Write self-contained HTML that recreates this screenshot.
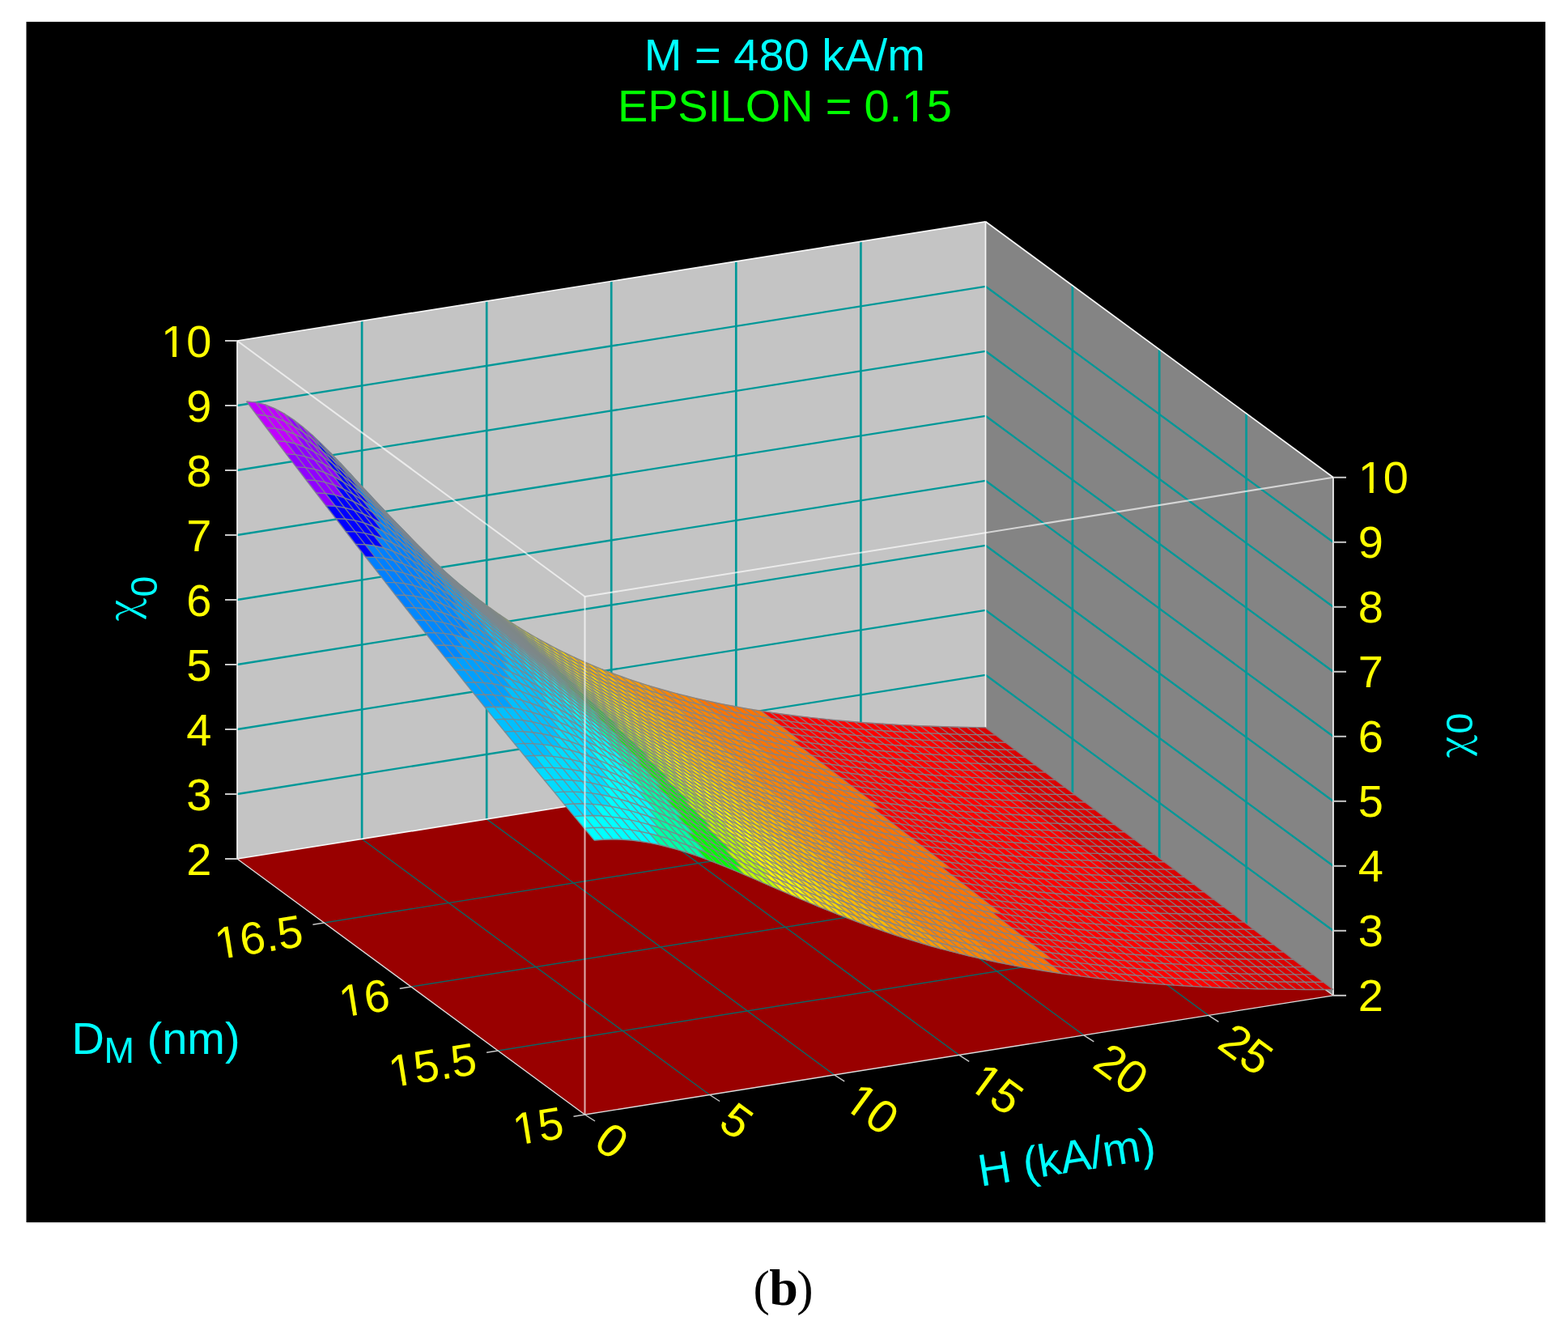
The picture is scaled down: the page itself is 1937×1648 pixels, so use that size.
<!DOCTYPE html>
<html lang="en"><head><meta charset="utf-8"><title>Figure (b): susceptibility surface</title>
<style>
html,body{margin:0;padding:0;background:#fff;}
body{width:1937px;height:1648px;overflow:hidden;position:relative;font-family:"Liberation Sans",sans-serif;}
svg{display:block;position:absolute;left:0;top:0;}
text{font-family:"Liberation Sans",sans-serif;font-size:56px;}
.y{fill:#ffff00;}.c{fill:#00ffff;}.g{fill:#00ff00;}
.wg{stroke:#009898;stroke-width:2.3;fill:none;}
.wv{stroke:#009898;stroke-width:2.7;fill:none;}
.fg{stroke:#0d6464;stroke-width:1.45;fill:none;}
.be{stroke:#f6f6f6;stroke-width:1.7;fill:none;}
.fe{stroke:#dcdcdc;stroke-width:1.35;fill:none;}
.tb{stroke:#c8c8c8;stroke-width:1.4;fill:none;}
.fr{stroke:#ffffff;stroke-width:2.1;fill:none;stroke-opacity:.66;}
.tk{stroke:#c8c8c8;stroke-width:2;fill:none;}
.m path{stroke-width:.6;stroke-linejoin:round;}
.mr{fill:none;stroke:#80848a;stroke-width:1.45;stroke-opacity:.9;stroke-linejoin:round;}
.mc{fill:none;stroke:#80848a;stroke-width:1.45;stroke-opacity:.8;stroke-linejoin:round;}
.x{fill:#000;}
.k0{fill:#dc0000;stroke:#dc0000}
.k1{fill:#ff0000;stroke:#ff0000}
.k2{fill:#ff0000;stroke:#ff0000}
.k3{fill:#ff7400;stroke:#ff7400}
.k4{fill:#ff8600;stroke:#ff8600}
.k5{fill:#ff9c00;stroke:#ff9c00}
.k6{fill:#ffb800;stroke:#ffb800}
.k7{fill:#ffd800;stroke:#ffd800}
.k8{fill:#fff800;stroke:#fff800}
.k9{fill:#c0ff00;stroke:#c0ff00}
.k10{fill:#00ff00;stroke:#00ff00}
.k11{fill:#00ffa8;stroke:#00ffa8}
.k12{fill:#00ffff;stroke:#00ffff}
.k13{fill:#00dcff;stroke:#00dcff}
.k14{fill:#00c0ff;stroke:#00c0ff}
.k15{fill:#00a0ff;stroke:#00a0ff}
.k16{fill:#0088ff;stroke:#0088ff}
.k17{fill:#0080ff;stroke:#0080ff}
.k18{fill:#0000ff;stroke:#0000ff}
.k19{fill:#9000ff;stroke:#9000ff}
.k20{fill:#c000ff;stroke:#c000ff}
.k21{fill:#ff00ff;stroke:#ff00ff}
.k22{fill:#ff00ff;stroke:#ff00ff}
.k23{fill:#ff00ff;stroke:#ff00ff}
</style></head><body>
<svg width="1937" height="1648" viewBox="0 0 1937 1648" role="img" aria-label="3D surface plot of susceptibility versus H and D">
<rect x="0" y="0" width="1937" height="1648" fill="#fff"/>
<rect x="32.5" y="26.9" width="1876.6" height="1483.1" fill="#000"/>
<path d="M33 1510.9H1910.2" stroke="#e6e6e6" stroke-width="1.8" fill="none"/>
<path d="M1909.9 28V1511" stroke="#ededed" stroke-width="1.4" fill="none"/>
<polygon points="293,421 1217.5,273.8 1217.5,913.8 293,1061" fill="#c4c4c4"/>
<polygon points="1217.5,273.8 1647,589.8 1647,1229.8 1217.5,913.8" fill="#848484"/>
<polygon points="293,1061 1217.5,913.8 1647,1229.8 722.5,1377" fill="#990000"/>
<line class="fg" x1="876.6" y1="1352.5" x2="447.1" y2="1036.5"/>
<line class="fg" x1="1030.7" y1="1327.9" x2="601.2" y2="1011.9"/>
<line class="fg" x1="1184.8" y1="1303.4" x2="755.2" y2="987.4"/>
<line class="fg" x1="1338.8" y1="1278.9" x2="909.3" y2="962.9"/>
<line class="fg" x1="1492.9" y1="1254.3" x2="1063.4" y2="938.3"/>
<line class="fg" x1="615.1" y1="1298" x2="1539.6" y2="1150.8"/>
<line class="fg" x1="507.8" y1="1219" x2="1432.2" y2="1071.8"/>
<line class="fg" x1="400.4" y1="1140" x2="1324.9" y2="992.8"/>
<line class="wv" x1="447.1" y1="1036.5" x2="447.1" y2="396.5"/>
<line class="wv" x1="601.2" y1="1011.9" x2="601.2" y2="371.9"/>
<line class="wv" x1="755.2" y1="987.4" x2="755.2" y2="347.4"/>
<line class="wv" x1="909.3" y1="962.9" x2="909.3" y2="322.9"/>
<line class="wv" x1="1063.4" y1="938.3" x2="1063.4" y2="298.3"/>
<line class="wg" x1="293" y1="981" x2="1217.5" y2="833.8"/>
<line class="wg" x1="293" y1="901" x2="1217.5" y2="753.8"/>
<line class="wg" x1="293" y1="821" x2="1217.5" y2="673.8"/>
<line class="wg" x1="293" y1="741" x2="1217.5" y2="593.8"/>
<line class="wg" x1="293" y1="661" x2="1217.5" y2="513.8"/>
<line class="wg" x1="293" y1="581" x2="1217.5" y2="433.8"/>
<line class="wg" x1="293" y1="501" x2="1217.5" y2="353.8"/>
<line class="wv" x1="1539.6" y1="1150.8" x2="1539.6" y2="510.8"/>
<line class="wv" x1="1432.2" y1="1071.8" x2="1432.2" y2="431.8"/>
<line class="wv" x1="1324.9" y1="992.8" x2="1324.9" y2="352.8"/>
<line class="wg" x1="1647" y1="1149.8" x2="1217.5" y2="833.8"/>
<line class="wg" x1="1647" y1="1069.8" x2="1217.5" y2="753.8"/>
<line class="wg" x1="1647" y1="989.8" x2="1217.5" y2="673.8"/>
<line class="wg" x1="1647" y1="909.8" x2="1217.5" y2="593.8"/>
<line class="wg" x1="1647" y1="829.8" x2="1217.5" y2="513.8"/>
<line class="wg" x1="1647" y1="749.8" x2="1217.5" y2="433.8"/>
<line class="wg" x1="1647" y1="669.8" x2="1217.5" y2="353.8"/>
<line class="be" x1="293" y1="421" x2="1217.5" y2="273.8"/>
<line class="be" x1="1217.5" y1="273.8" x2="1647" y2="589.8"/>
<line class="be" x1="1217.5" y1="913.8" x2="1217.5" y2="273.8"/>
<line class="be" x1="293" y1="1061" x2="293" y2="421"/>
<line class="be" x1="1647" y1="1229.8" x2="1647" y2="589.8"/>
<line class="be" x1="293" y1="1061" x2="1217.5" y2="913.8"/>
<line class="fe" x1="1217.5" y1="913.8" x2="1647" y2="1229.8"/>
<line class="fe" x1="293" y1="1061" x2="722.5" y2="1377"/>
<line class="fe" x1="722.5" y1="1377" x2="1647" y2="1229.8"/>
<g class="m">
<path class="k0" d="M1218.2 907.8l11.6 0.2-12.3-9.2-11.6-0.2zM1206.7 907.6l11.5 0.2-12.3-9.2-11.5-0.2zM1195.1 907.4l11.6 0.2-12.3-9.2-11.6-0.2zM1183.5 907.1l11.6 0.3-12.3-9.2-11.5-0.3zM1172 906.7l11.5 0.4-12.2-9.2-11.6-0.4zM1230.5 917l11.5 0.2-12.2-9.2-11.6-0.2zM1160.4 906.3l11.6 0.4-12.3-9.2-11.5-0.4zM1218.9 916.8l11.6 0.2-12.3-9.2-11.5-0.2z"/>
<path class="k1" d="M1148.9 905.9l11.5 0.4-12.2-9.2-11.6-0.4z"/>
<path class="k0" d="M1207.4 916.6l11.5 0.2-12.2-9.2-11.6-0.2z"/>
<path class="k1" d="M1137.3 905.4l11.6 0.5-12.3-9.2-11.5-0.6z"/>
<path class="k0" d="M1195.8 916.3l11.6 0.3-12.3-9.2-11.6-0.3z"/>
<path class="k1" d="M1125.8 904.8l11.5 0.6-12.2-9.3-11.6-0.5z"/>
<path class="k0" d="M1184.3 916l11.5 0.3-12.3-9.2-11.5-0.4zM1242.8 926.2l11.5 0.2-12.3-9.2-11.5-0.2z"/>
<path class="k1" d="M1114.2 904.2l11.6 0.6-12.3-9.2-11.6-0.7z"/>
<path class="k0" d="M1172.7 915.6l11.6 0.4-12.3-9.3-11.6-0.4zM1231.2 926l11.6 0.2-12.3-9.2-11.6-0.2z"/>
<path class="k1" d="M1102.7 903.5l11.5 0.7-12.3-9.3-11.5-0.7zM1161.1 915.1l11.6 0.5-12.3-9.3-11.5-0.4z"/>
<path class="k0" d="M1219.6 925.8l11.6 0.2-12.3-9.2-11.5-0.2z"/>
<path class="k1" d="M1091.1 902.8l11.6 0.7-12.3-9.3-11.6-0.7zM1149.6 914.6l11.5 0.5-12.2-9.2-11.6-0.5z"/>
<path class="k0" d="M1208.1 925.5l11.5 0.3-12.2-9.2-11.6-0.3z"/>
<path class="k1" d="M1079.5 901.9l11.6 0.9-12.3-9.3-11.5-0.8zM1138 914.1l11.6 0.5-12.3-9.2-11.5-0.6z"/>
<path class="k0" d="M1196.5 925.2l11.6 0.3-12.3-9.2-11.5-0.3zM1255 935.5l11.6 0.1-12.3-9.2-11.5-0.2z"/>
<path class="k1" d="M1068 901.1l11.5 0.8-12.2-9.2-11.6-0.9zM1126.5 913.5l11.5 0.6-12.2-9.3-11.6-0.6z"/>
<path class="k0" d="M1185 924.8l11.5 0.4-12.2-9.2-11.6-0.4zM1243.5 935.3l11.5 0.2-12.2-9.3-11.6-0.2z"/>
<path class="k1" d="M1056.4 900.1l11.6 1-12.3-9.3-11.5-1zM1114.9 912.8l11.6 0.7-12.3-9.3-11.5-0.7zM1173.4 924.4l11.6 0.4-12.3-9.2-11.6-0.5z"/>
<path class="k0" d="M1231.9 935l11.6 0.3-12.3-9.3-11.6-0.2z"/>
<path class="k1" d="M1044.9 899.1l11.5 1-12.2-9.3-11.6-1zM1103.4 912l11.5 0.8-12.2-9.3-11.6-0.7zM1161.9 923.9l11.5 0.5-12.3-9.3-11.5-0.5z"/>
<path class="k0" d="M1220.4 934.8l11.5 0.2-12.3-9.2-11.5-0.3z"/>
<path class="k2" d="M1033.3 897.9l11.6 1.2-12.3-9.3-11.6-1.2z"/>
<path class="k1" d="M1091.8 911.2l11.6 0.8-12.3-9.2-11.6-0.9zM1150.3 923.3l11.6 0.6-12.3-9.3-11.6-0.5z"/>
<path class="k0" d="M1208.8 934.4l11.6 0.4-12.3-9.3-11.6-0.3zM1267.3 944.7l11.6 0.1-12.3-9.2-11.6-0.1z"/>
<path class="k2" d="M1021.8 896.8l11.5 1.1-12.3-9.3-11.5-1.2z"/>
<path class="k1" d="M1080.3 910.3l11.5 0.9-12.3-9.3-11.5-0.8zM1138.8 922.7l11.5 0.6-12.3-9.2-11.5-0.6z"/>
<path class="k0" d="M1197.2 934l11.6 0.4-12.3-9.2-11.5-0.4zM1255.7 944.5l11.6 0.2-12.3-9.2-11.5-0.2z"/>
<path class="k2" d="M1010.2 895.5l11.6 1.3-12.3-9.4-11.6-1.3z"/>
<path class="k1" d="M1068.7 909.4l11.6 0.9-12.3-9.2-11.6-1zM1127.2 922l11.6 0.7-12.3-9.2-11.6-0.7zM1185.7 933.6l11.5 0.4-12.2-9.2-11.6-0.4z"/>
<path class="k0" d="M1244.2 944.3l11.5 0.2-12.2-9.2-11.6-0.3z"/>
<path class="k2" d="M998.6 894.1l11.6 1.4-12.3-9.4-11.5-1.3z"/>
<path class="k1" d="M1057.1 908.4l11.6 1-12.3-9.3-11.5-1zM1115.6 921.3l11.6 0.7-12.3-9.2-11.5-0.8zM1174.1 933.1l11.6 0.5-12.3-9.2-11.5-0.5z"/>
<path class="k0" d="M1232.6 944l11.6 0.3-12.3-9.3-11.5-0.2z"/>
<path class="k2" d="M1045.6 907.3l11.5 1.1-12.2-9.3-11.6-1.2zM987.1 892.7l11.5 1.4-12.2-9.3-11.6-1.5z"/>
<path class="k1" d="M1104.1 920.5l11.5 0.8-12.2-9.3-11.6-0.8zM1162.6 932.6l11.5 0.5-12.2-9.2-11.6-0.6z"/>
<path class="k0" d="M1221.1 943.7l11.5 0.3-12.2-9.2-11.6-0.4zM1279.6 953.9l11.5 0.1-12.2-9.2-11.6-0.1z"/>
<path class="k2" d="M1034 906.1l11.6 1.2-12.3-9.4-11.5-1.1zM975.5 891.1l11.6 1.6-12.3-9.4-11.5-1.6z"/>
<path class="k1" d="M1092.5 919.6l11.6 0.9-12.3-9.3-11.5-0.9zM1151 932l11.6 0.6-12.3-9.3-11.5-0.6z"/>
<path class="k0" d="M1209.5 943.3l11.6 0.4-12.3-9.3-11.6-0.4zM1268 953.7l11.6 0.2-12.3-9.2-11.6-0.2z"/>
<path class="k2" d="M1022.5 904.8l11.5 1.3-12.2-9.3-11.6-1.3z"/>
<path class="k1" d="M1081 918.7l11.5 0.9-12.2-9.3-11.6-0.9z"/>
<path class="k2" d="M964 889.4l11.5 1.7-12.2-9.4-11.6-1.6z"/>
<path class="k1" d="M1139.5 931.3l11.5 0.7-12.2-9.3-11.6-0.7zM1198 942.9l11.5 0.4-12.3-9.3-11.5-0.4z"/>
<path class="k0" d="M1256.5 953.5l11.5 0.2-12.3-9.2-11.5-0.2z"/>
<path class="k2" d="M1010.9 903.4l11.6 1.4-12.3-9.3-11.6-1.4z"/>
<path class="k1" d="M1069.4 917.7l11.6 1-12.3-9.3-11.6-1z"/>
<path class="k2" d="M952.4 887.7l11.6 1.7-12.3-9.3-11.5-1.8z"/>
<path class="k1" d="M1127.9 930.6l11.6 0.7-12.3-9.3-11.6-0.7zM1186.4 942.4l11.6 0.5-12.3-9.3-11.6-0.5z"/>
<path class="k0" d="M1244.9 953.2l11.6 0.3-12.3-9.2-11.6-0.3z"/>
<path class="k2" d="M1057.9 916.6l11.5 1.1-12.3-9.3-11.5-1.1zM999.4 902l11.5 1.4-12.3-9.3-11.5-1.4z"/>
<path class="k1" d="M1116.4 929.8l11.5 0.8-12.3-9.3-11.5-0.8z"/>
<path class="k3" d="M940.9 885.8l11.5 1.9-12.2-9.4-11.6-1.9z"/>
<path class="k1" d="M1174.9 941.8l11.5 0.6-12.3-9.3-11.5-0.5z"/>
<path class="k0" d="M1233.3 952.9l11.6 0.3-12.3-9.2-11.5-0.3zM1291.8 963.1l11.6 0.1-12.3-9.2-11.5-0.1z"/>
<path class="k2" d="M1046.3 915.4l11.6 1.2-12.3-9.3-11.6-1.2zM987.8 900.5l11.6 1.5-12.3-9.3-11.6-1.6z"/>
<path class="k1" d="M1104.8 928.9l11.6 0.9-12.3-9.3-11.6-0.9z"/>
<path class="k3" d="M929.3 883.9l11.6 1.9-12.3-9.4-11.6-2z"/>
<path class="k1" d="M1163.3 941.2l11.6 0.6-12.3-9.2-11.6-0.6z"/>
<path class="k0" d="M1221.8 952.5l11.5 0.4-12.2-9.2-11.6-0.4zM1280.3 962.9l11.5 0.2-12.2-9.2-11.6-0.2z"/>
<path class="k2" d="M1034.7 914.1l11.6 1.3-12.3-9.3-11.5-1.3z"/>
<path class="k1" d="M1093.2 928l11.6 0.9-12.3-9.3-11.5-0.9z"/>
<path class="k2" d="M976.2 898.8l11.6 1.7-12.3-9.4-11.5-1.7z"/>
<path class="k1" d="M1151.7 940.6l11.6 0.6-12.3-9.2-11.5-0.7z"/>
<path class="k3" d="M917.8 881.8l11.5 2.1-12.3-9.5-11.5-2.1z"/>
<path class="k1" d="M1210.2 952.1l11.6 0.4-12.3-9.2-11.5-0.4z"/>
<path class="k0" d="M1268.7 962.7l11.6 0.2-12.3-9.2-11.5-0.2z"/>
<path class="k2" d="M1023.2 912.8l11.5 1.3-12.2-9.3-11.6-1.4z"/>
<path class="k1" d="M1081.7 927l11.5 1-12.2-9.3-11.6-1z"/>
<path class="k2" d="M964.7 897.1l11.5 1.7-12.2-9.4-11.6-1.7z"/>
<path class="k1" d="M1140.2 939.9l11.5 0.7-12.2-9.3-11.6-0.7zM1198.7 951.6l11.5 0.5-12.2-9.2-11.6-0.5z"/>
<path class="k3" d="M906.2 879.5l11.6 2.3-12.3-9.5-11.6-2.2z"/>
<path class="k0" d="M1257.2 962.5l11.5 0.2-12.2-9.2-11.6-0.3z"/>
<path class="k2" d="M1070.1 925.9l11.6 1.1-12.3-9.3-11.5-1.1zM1011.6 911.4l11.6 1.4-12.3-9.4-11.5-1.4z"/>
<path class="k1" d="M1128.6 939.1l11.6 0.8-12.3-9.3-11.5-0.8z"/>
<path class="k3" d="M953.1 895.2l11.6 1.9-12.3-9.4-11.5-1.9z"/>
<path class="k1" d="M1187.1 951.1l11.6 0.5-12.3-9.2-11.5-0.6z"/>
<path class="k3" d="M894.6 877.2l11.6 2.3-12.3-9.4-11.5-2.4z"/>
<path class="k0" d="M1245.6 962.1l11.6 0.4-12.3-9.3-11.6-0.3zM1304.1 972.3l11.6 0.1-12.3-9.2-11.6-0.1z"/>
<path class="k2" d="M1058.6 924.7l11.5 1.2-12.2-9.3-11.6-1.2zM1000.1 909.8l11.5 1.6-12.2-9.4-11.6-1.5z"/>
<path class="k1" d="M1117.1 938.2l11.5 0.9-12.2-9.3-11.6-0.9z"/>
<path class="k3" d="M941.6 893.3l11.5 1.9-12.2-9.4-11.6-1.9z"/>
<path class="k1" d="M1175.6 950.5l11.5 0.6-12.2-9.3-11.6-0.6z"/>
<path class="k0" d="M1234.1 961.8l11.5 0.3-12.3-9.2-11.5-0.4z"/>
<path class="k3" d="M883.1 874.7l11.5 2.5-12.2-9.5-11.6-2.5z"/>
<path class="k0" d="M1292.6 972.2l11.5 0.1-12.3-9.2-11.5-0.2z"/>
<path class="k2" d="M1047 923.5l11.6 1.2-12.3-9.3-11.6-1.3z"/>
<path class="k1" d="M1105.5 937.3l11.6 0.9-12.3-9.3-11.6-0.9z"/>
<path class="k2" d="M988.5 908.2l11.6 1.6-12.3-9.3-11.6-1.7z"/>
<path class="k1" d="M1164 949.9l11.6 0.6-12.3-9.3-11.6-0.6z"/>
<path class="k3" d="M930 891.2l11.6 2.1-12.3-9.4-11.5-2.1z"/>
<path class="k1" d="M1222.5 961.4l11.6 0.4-12.3-9.3-11.6-0.4z"/>
<path class="k3" d="M871.5 872.1l11.6 2.6-12.3-9.5-11.5-2.6z"/>
<path class="k0" d="M1281 972l11.6 0.2-12.3-9.3-11.6-0.2z"/>
<path class="k2" d="M1035.5 922.1l11.5 1.4-12.3-9.4-11.5-1.3z"/>
<path class="k1" d="M1094 936.3l11.5 1-12.3-9.3-11.5-1z"/>
<path class="k2" d="M977 906.5l11.5 1.7-12.3-9.4-11.5-1.7z"/>
<path class="k1" d="M1152.5 949.1l11.5 0.8-12.3-9.3-11.5-0.7z"/>
<path class="k3" d="M918.5 889l11.5 2.2-12.2-9.4-11.6-2.3z"/>
<path class="k1" d="M1211 960.9l11.5 0.5-12.3-9.3-11.5-0.5z"/>
<path class="k0" d="M1269.4 971.7l11.6 0.3-12.3-9.3-11.5-0.2z"/>
<path class="k4" d="M860 869.3l11.5 2.8-12.2-9.5-11.6-2.8z"/>
<path class="k2" d="M1082.4 935.2l11.6 1.1-12.3-9.3-11.6-1.1zM1023.9 920.7l11.6 1.4-12.3-9.3-11.6-1.4z"/>
<path class="k1" d="M1140.9 948.4l11.6 0.7-12.3-9.2-11.6-0.8z"/>
<path class="k3" d="M965.4 904.6l11.6 1.9-12.3-9.4-11.6-1.9z"/>
<path class="k1" d="M1199.4 960.4l11.6 0.5-12.3-9.3-11.6-0.5z"/>
<path class="k3" d="M906.9 886.7l11.6 2.3-12.3-9.5-11.6-2.3z"/>
<path class="k0" d="M1257.9 971.4l11.5 0.3-12.2-9.2-11.6-0.4z"/>
<path class="k4" d="M848.4 866.4l11.6 2.9-12.3-9.5-11.6-2.9z"/>
<path class="k0" d="M1316.4 981.6l11.5 0.1-12.2-9.3-11.6-0.1z"/>
<path class="k2" d="M1070.8 934.1l11.6 1.1-12.3-9.3-11.5-1.2zM1012.3 919.2l11.6 1.5-12.3-9.3-11.5-1.6z"/>
<path class="k1" d="M1129.3 947.5l11.6 0.9-12.3-9.3-11.5-0.9z"/>
<path class="k3" d="M953.9 902.7l11.5 1.9-12.3-9.4-11.5-1.9z"/>
<path class="k1" d="M1187.8 959.8l11.6 0.6-12.3-9.3-11.5-0.6z"/>
<path class="k0" d="M1246.3 971l11.6 0.4-12.3-9.3-11.5-0.3z"/>
<path class="k3" d="M895.4 884.2l11.5 2.5-12.3-9.5-11.5-2.5z"/>
<path class="k0" d="M1304.8 981.4l11.6 0.2-12.3-9.3-11.5-0.1z"/>
<path class="k4" d="M836.9 863.3l11.5 3.1-12.3-9.5-11.5-3.1z"/>
<path class="k2" d="M1059.3 932.8l11.5 1.3-12.2-9.4-11.6-1.2z"/>
<path class="k1" d="M1117.8 946.6l11.5 0.9-12.2-9.3-11.6-0.9z"/>
<path class="k2" d="M1000.8 917.6l11.5 1.6-12.2-9.4-11.6-1.6z"/>
<path class="k1" d="M1176.3 959.1l11.5 0.7-12.2-9.3-11.6-0.6z"/>
<path class="k3" d="M942.3 900.6l11.6 2.1-12.3-9.4-11.6-2.1z"/>
<path class="k1" d="M1234.8 970.6l11.5 0.4-12.2-9.2-11.6-0.4z"/>
<path class="k3" d="M883.8 881.6l11.6 2.6-12.3-9.5-11.6-2.6z"/>
<path class="k0" d="M1293.3 981.2l11.5 0.2-12.2-9.2-11.6-0.2z"/>
<path class="k4" d="M825.3 860.1l11.6 3.2-12.3-9.5-11.6-3.3z"/>
<path class="k2" d="M1047.7 931.5l11.6 1.3-12.3-9.3-11.5-1.4z"/>
<path class="k1" d="M1106.2 945.6l11.6 1-12.3-9.3-11.5-1z"/>
<path class="k2" d="M989.2 915.9l11.6 1.7-12.3-9.4-11.5-1.7z"/>
<path class="k1" d="M1164.7 958.4l11.6 0.7-12.3-9.2-11.5-0.8z"/>
<path class="k3" d="M930.7 898.4l11.6 2.2-12.3-9.4-11.5-2.2z"/>
<path class="k1" d="M1223.2 970.2l11.6 0.4-12.3-9.2-11.5-0.5z"/>
<path class="k0" d="M1281.7 980.9l11.6 0.3-12.3-9.2-11.6-0.3z"/>
<path class="k4" d="M872.2 878.8l11.6 2.8-12.3-9.5-11.5-2.8zM813.7 856.7l11.6 3.4-12.3-9.6-11.5-3.4z"/>
<path class="k2" d="M1094.7 944.5l11.5 1.1-12.2-9.3-11.6-1.1zM1036.2 930.1l11.5 1.4-12.2-9.4-11.6-1.4z"/>
<path class="k1" d="M1153.2 957.7l11.5 0.7-12.2-9.3-11.6-0.7z"/>
<path class="k3" d="M977.7 914l11.5 1.9-12.2-9.4-11.6-1.9z"/>
<path class="k1" d="M1211.7 969.6l11.5 0.6-12.2-9.3-11.6-0.5z"/>
<path class="k3" d="M919.2 896.1l11.5 2.3-12.2-9.4-11.6-2.3z"/>
<path class="k0" d="M1270.2 980.6l11.5 0.3-12.3-9.2-11.5-0.3z"/>
<path class="k4" d="M860.7 875.9l11.5 2.9-12.2-9.5-11.6-2.9z"/>
<path class="k0" d="M1328.7 990.8l11.5 0.1-12.3-9.2-11.5-0.1z"/>
<path class="k2" d="M1083.1 943.4l11.6 1.1-12.3-9.3-11.6-1.1zM1024.6 928.6l11.6 1.5-12.3-9.4-11.6-1.5z"/>
<path class="k1" d="M1141.6 956.8l11.6 0.9-12.3-9.3-11.6-0.9z"/>
<path class="k5" d="M802.2 853l11.5 3.7-12.2-9.6-11.6-3.7z"/>
<path class="k3" d="M966.1 912.1l11.6 1.9-12.3-9.4-11.5-1.9z"/>
<path class="k1" d="M1200.1 969.1l11.6 0.5-12.3-9.2-11.6-0.6z"/>
<path class="k0" d="M1258.6 980.3l11.6 0.3-12.3-9.2-11.6-0.4z"/>
<path class="k3" d="M907.6 893.7l11.6 2.4-12.3-9.4-11.5-2.5z"/>
<path class="k0" d="M1317.1 990.6l11.6 0.2-12.3-9.2-11.6-0.2z"/>
<path class="k4" d="M849.1 872.9l11.6 3-12.3-9.5-11.5-3.1z"/>
<path class="k2" d="M1071.6 942.2l11.5 1.2-12.3-9.3-11.5-1.3z"/>
<path class="k1" d="M1130.1 955.9l11.5 0.9-12.3-9.3-11.5-0.9z"/>
<path class="k2" d="M1013.1 927l11.5 1.6-12.3-9.4-11.5-1.6z"/>
<path class="k1" d="M1188.6 968.4l11.5 0.7-12.3-9.3-11.5-0.7z"/>
<path class="k3" d="M954.6 910.1l11.5 2-12.2-9.4-11.6-2.1z"/>
<path class="k5" d="M790.6 849.2l11.6 3.8-12.3-9.6-11.5-3.8z"/>
<path class="k1" d="M1247 979.9l11.6 0.4-12.3-9.3-11.5-0.4z"/>
<path class="k3" d="M896.1 891.1l11.5 2.6-12.2-9.5-11.6-2.6z"/>
<path class="k0" d="M1305.5 990.4l11.6 0.2-12.3-9.2-11.5-0.2z"/>
<path class="k4" d="M837.6 869.7l11.5 3.2-12.2-9.6-11.6-3.2z"/>
<path class="k2" d="M1060 940.8l11.6 1.4-12.3-9.4-11.6-1.3z"/>
<path class="k1" d="M1118.5 954.9l11.6 1-12.3-9.3-11.6-1z"/>
<path class="k2" d="M1001.5 925.3l11.6 1.7-12.3-9.4-11.6-1.7z"/>
<path class="k1" d="M1177 967.7l11.6 0.7-12.3-9.3-11.6-0.7z"/>
<path class="k3" d="M943 907.9l11.6 2.2-12.3-9.5-11.6-2.2z"/>
<path class="k1" d="M1235.5 979.4l11.5 0.5-12.2-9.3-11.6-0.4z"/>
<path class="k5" d="M779.1 845.2l11.5 4-12.2-9.6-11.6-4.1z"/>
<path class="k0" d="M1294 990.2l11.5 0.2-12.2-9.2-11.6-0.3z"/>
<path class="k4" d="M884.5 888.4l11.6 2.7-12.3-9.5-11.6-2.8zM826 866.3l11.6 3.4-12.3-9.6-11.6-3.4z"/>
<path class="k1" d="M1106.9 953.9l11.6 1-12.3-9.3-11.5-1.1z"/>
<path class="k2" d="M1048.4 939.4l11.6 1.4-12.3-9.3-11.5-1.4z"/>
<path class="k1" d="M1165.4 967l11.6 0.7-12.3-9.3-11.5-0.7z"/>
<path class="k2" d="M990 923.5l11.5 1.8-12.3-9.4-11.5-1.9z"/>
<path class="k1" d="M1223.9 978.9l11.6 0.5-12.3-9.2-11.5-0.6z"/>
<path class="k3" d="M931.5 905.6l11.5 2.3-12.3-9.5-11.5-2.3z"/>
<path class="k0" d="M1282.4 989.9l11.6 0.3-12.3-9.3-11.5-0.3z"/>
<path class="k5" d="M767.5 841l11.6 4.2-12.3-9.7-11.6-4.2z"/>
<path class="k4" d="M873 885.5l11.5 2.9-12.3-9.6-11.5-2.9z"/>
<path class="k0" d="M1340.9 1000l11.6 0.1-12.3-9.2-11.5-0.1z"/>
<path class="k2" d="M1095.4 952.7l11.5 1.2-12.2-9.4-11.6-1.1zM1036.9 937.9l11.5 1.5-12.2-9.3-11.6-1.5z"/>
<path class="k1" d="M1153.9 966.1l11.5 0.9-12.2-9.3-11.6-0.9z"/>
<path class="k5" d="M814.5 862.7l11.5 3.6-12.3-9.6-11.5-3.7z"/>
<path class="k3" d="M978.4 921.5l11.6 2-12.3-9.5-11.6-1.9z"/>
<path class="k1" d="M1212.4 978.3l11.5 0.6-12.2-9.3-11.6-0.5z"/>
<path class="k3" d="M919.9 903.2l11.6 2.4-12.3-9.5-11.6-2.4z"/>
<path class="k0" d="M1270.9 989.5l11.5 0.4-12.2-9.3-11.6-0.3zM1329.4 999.9l11.5 0.1-12.2-9.2-11.6-0.2z"/>
<path class="k4" d="M861.4 882.4l11.6 3.1-12.3-9.6-11.6-3z"/>
<path class="k5" d="M756 836.5l11.5 4.5-12.3-9.7-11.5-4.5z"/>
<path class="k2" d="M1083.8 951.5l11.6 1.2-12.3-9.3-11.5-1.2z"/>
<path class="k1" d="M1142.3 965.2l11.6 0.9-12.3-9.3-11.5-0.9z"/>
<path class="k2" d="M1025.3 936.4l11.6 1.5-12.3-9.3-11.5-1.6z"/>
<path class="k1" d="M1200.8 977.7l11.6 0.6-12.3-9.2-11.5-0.7z"/>
<path class="k3" d="M966.8 919.5l11.6 2-12.3-9.4-11.5-2z"/>
<path class="k5" d="M802.9 858.9l11.6 3.8-12.3-9.7-11.6-3.8z"/>
<path class="k1" d="M1259.3 989.1l11.6 0.4-12.3-9.2-11.6-0.4z"/>
<path class="k3" d="M908.3 900.6l11.6 2.6-12.3-9.5-11.5-2.6z"/>
<path class="k0" d="M1317.8 999.7l11.6 0.2-12.3-9.3-11.6-0.2z"/>
<path class="k4" d="M849.8 879.2l11.6 3.2-12.3-9.5-11.5-3.2z"/>
<path class="k6" d="M744.4 831.9l11.6 4.6-12.3-9.7-11.6-4.7z"/>
<path class="k2" d="M1072.3 950.2l11.5 1.3-12.2-9.3-11.6-1.4z"/>
<path class="k1" d="M1130.8 964.2l11.5 1-12.2-9.3-11.6-1z"/>
<path class="k2" d="M1013.8 934.7l11.5 1.7-12.2-9.4-11.6-1.7z"/>
<path class="k1" d="M1189.3 977l11.5 0.7-12.2-9.3-11.6-0.7z"/>
<path class="k3" d="M955.3 917.3l11.5 2.2-12.2-9.4-11.6-2.2z"/>
<path class="k1" d="M1247.8 988.7l11.5 0.4-12.3-9.2-11.5-0.5z"/>
<path class="k5" d="M791.3 854.9l11.6 4-12.3-9.7-11.5-4z"/>
<path class="k0" d="M1306.3 999.4l11.5 0.3-12.3-9.3-11.5-0.2z"/>
<path class="k4" d="M896.8 897.9l11.5 2.7-12.2-9.5-11.6-2.7zM838.3 875.9l11.5 3.3-12.2-9.5-11.6-3.4z"/>
<path class="k2" d="M1060.7 948.8l11.6 1.4-12.3-9.4-11.6-1.4z"/>
<path class="k1" d="M1119.2 963.2l11.6 1-12.3-9.3-11.6-1zM1177.7 976.3l11.6 0.7-12.3-9.3-11.6-0.7z"/>
<path class="k2" d="M1002.2 932.9l11.6 1.8-12.3-9.4-11.5-1.8z"/>
<path class="k6" d="M732.9 826.9l11.5 5-12.3-9.8-11.5-5z"/>
<path class="k1" d="M1236.2 988.2l11.6 0.5-12.3-9.3-11.6-0.5z"/>
<path class="k3" d="M943.7 915.1l11.6 2.2-12.3-9.4-11.5-2.3z"/>
<path class="k0" d="M1294.7 999.1l11.6 0.3-12.3-9.2-11.6-0.3z"/>
<path class="k5" d="M779.8 850.7l11.5 4.2-12.2-9.7-11.6-4.2z"/>
<path class="k4" d="M885.2 895l11.6 2.9-12.3-9.5-11.5-2.9z"/>
<path class="k0" d="M1353.2 1009.2l11.6 0.1-12.3-9.2-11.6-0.1z"/>
<path class="k2" d="M1107.7 962.1l11.5 1.1-12.3-9.3-11.5-1.2zM1049.2 947.3l11.5 1.5-12.3-9.4-11.5-1.5z"/>
<path class="k1" d="M1166.2 975.4l11.5 0.9-12.3-9.3-11.5-0.9z"/>
<path class="k5" d="M826.7 872.3l11.6 3.6-12.3-9.6-11.5-3.6z"/>
<path class="k3" d="M990.7 931l11.5 1.9-12.2-9.4-11.6-2z"/>
<path class="k1" d="M1224.7 987.6l11.5 0.6-12.3-9.3-11.5-0.6z"/>
<path class="k3" d="M932.2 912.7l11.5 2.4-12.2-9.5-11.6-2.4z"/>
<path class="k0" d="M1283.1 998.8l11.6 0.3-12.3-9.2-11.5-0.4z"/>
<path class="k6" d="M721.3 821.7l11.6 5.2-12.3-9.8-11.6-5.2z"/>
<path class="k0" d="M1341.6 1009.1l11.6 0.1-12.3-9.2-11.5-0.1z"/>
<path class="k4" d="M873.7 892l11.5 3-12.2-9.5-11.6-3.1z"/>
<path class="k5" d="M768.2 846.3l11.6 4.4-12.3-9.7-11.5-4.5z"/>
<path class="k2" d="M1096.1 960.9l11.6 1.2-12.3-9.4-11.6-1.2zM1037.6 945.8l11.6 1.5-12.3-9.4-11.6-1.5z"/>
<path class="k1" d="M1154.6 974.5l11.6 0.9-12.3-9.3-11.6-0.9zM1213.1 987l11.6 0.6-12.3-9.3-11.6-0.6z"/>
<path class="k3" d="M979.1 928.9l11.6 2.1-12.3-9.5-11.6-2z"/>
<path class="k5" d="M815.2 868.6l11.5 3.7-12.2-9.6-11.6-3.8z"/>
<path class="k0" d="M1271.6 998.4l11.5 0.4-12.2-9.3-11.6-0.4z"/>
<path class="k3" d="M920.6 910.1l11.6 2.6-12.3-9.5-11.6-2.6z"/>
<path class="k0" d="M1330.1 1008.9l11.5 0.2-12.2-9.2-11.6-0.2z"/>
<path class="k6" d="M709.7 816.3l11.6 5.4-12.3-9.8-11.5-5.5z"/>
<path class="k4" d="M862.1 888.8l11.6 3.2-12.3-9.6-11.6-3.2z"/>
<path class="k6" d="M756.7 841.7l11.5 4.6-12.2-9.8-11.6-4.6z"/>
<path class="k2" d="M1084.5 959.6l11.6 1.3-12.3-9.4-11.5-1.3z"/>
<path class="k1" d="M1143 973.6l11.6 0.9-12.3-9.3-11.5-1z"/>
<path class="k2" d="M1026.1 944.1l11.5 1.7-12.3-9.4-11.5-1.7z"/>
<path class="k1" d="M1201.5 986.3l11.6 0.7-12.3-9.3-11.5-0.7z"/>
<path class="k3" d="M967.6 926.8l11.5 2.1-12.3-9.4-11.5-2.2z"/>
<path class="k1" d="M1260 998l11.6 0.4-12.3-9.3-11.5-0.4z"/>
<path class="k5" d="M803.6 864.6l11.6 4-12.3-9.7-11.6-4z"/>
<path class="k0" d="M1318.5 1008.7l11.6 0.2-12.3-9.2-11.5-0.3z"/>
<path class="k4" d="M909.1 907.4l11.5 2.7-12.3-9.5-11.5-2.7z"/>
<path class="k7" d="M698.2 810.6l11.5 5.7-12.2-9.9-11.6-5.8z"/>
<path class="k4" d="M850.6 885.5l11.5 3.3-12.3-9.6-11.5-3.3z"/>
<path class="k2" d="M1073 958.2l11.5 1.4-12.2-9.4-11.6-1.4z"/>
<path class="k1" d="M1131.5 972.5l11.5 1.1-12.2-9.4-11.6-1zM1190 985.6l11.5 0.7-12.2-9.3-11.6-0.7z"/>
<path class="k2" d="M1014.5 942.3l11.6 1.8-12.3-9.4-11.6-1.8z"/>
<path class="k6" d="M745.1 836.8l11.6 4.9-12.3-9.8-11.5-5z"/>
<path class="k1" d="M1248.5 997.5l11.5 0.5-12.2-9.3-11.6-0.5z"/>
<path class="k3" d="M956 924.5l11.6 2.3-12.3-9.5-11.6-2.2z"/>
<path class="k0" d="M1307 1008.4l11.5 0.3-12.2-9.3-11.6-0.3z"/>
<path class="k5" d="M792.1 860.5l11.5 4.1-12.3-9.7-11.5-4.2z"/>
<path class="k4" d="M897.5 904.6l11.6 2.8-12.3-9.5-11.6-2.9z"/>
<path class="k0" d="M1365.5 1018.5l11.5 0.1-12.2-9.3-11.6-0.1z"/>
<path class="k2" d="M1119.9 971.4l11.6 1.1-12.3-9.3-11.5-1.1zM1061.4 956.7l11.6 1.5-12.3-9.4-11.5-1.5z"/>
<path class="k1" d="M1178.4 984.7l11.6 0.9-12.3-9.3-11.5-0.9z"/>
<path class="k5" d="M839 882l11.6 3.5-12.3-9.6-11.6-3.6z"/>
<path class="k3" d="M1002.9 940.4l11.6 1.9-12.3-9.4-11.5-1.9z"/>
<path class="k1" d="M1236.9 996.9l11.6 0.6-12.3-9.3-11.5-0.6z"/>
<path class="k7" d="M686.6 804.5l11.6 6.1-12.3-10-11.5-6.1z"/>
<path class="k3" d="M944.4 922.2l11.6 2.3-12.3-9.4-11.5-2.4z"/>
<path class="k0" d="M1295.4 1008.1l11.6 0.3-12.3-9.3-11.6-0.3z"/>
<path class="k6" d="M733.6 831.6l11.5 5.2-12.2-9.9-11.6-5.2z"/>
<path class="k0" d="M1353.9 1018.3l11.6 0.2-12.3-9.3-11.6-0.1z"/>
<path class="k4" d="M885.9 901.6l11.6 3-12.3-9.6-11.5-3z"/>
<path class="k5" d="M780.5 856.1l11.6 4.4-12.3-9.8-11.6-4.4z"/>
<path class="k2" d="M1108.4 970.2l11.5 1.2-12.2-9.3-11.6-1.2zM1049.9 955.2l11.5 1.5-12.2-9.4-11.6-1.5z"/>
<path class="k1" d="M1166.9 983.9l11.5 0.8-12.2-9.3-11.6-0.9zM1225.4 996.3l11.5 0.6-12.2-9.3-11.6-0.6z"/>
<path class="k3" d="M991.4 938.4l11.5 2-12.2-9.4-11.6-2.1z"/>
<path class="k5" d="M827.4 878.2l11.6 3.8-12.3-9.7-11.5-3.7z"/>
<path class="k0" d="M1283.9 1007.7l11.5 0.4-12.3-9.3-11.5-0.4z"/>
<path class="k3" d="M932.9 919.6l11.5 2.6-12.2-9.5-11.6-2.6z"/>
<path class="k7" d="M675.1 798.2l11.5 6.3-12.2-10-11.6-6.4z"/>
<path class="k0" d="M1342.4 1018.2l11.5 0.1-12.3-9.2-11.5-0.2z"/>
<path class="k6" d="M722 826.2l11.6 5.4-12.3-9.9-11.6-5.4z"/>
<path class="k4" d="M874.4 898.4l11.5 3.2-12.2-9.6-11.6-3.2z"/>
<path class="k6" d="M769 851.5l11.5 4.6-12.3-9.8-11.5-4.6z"/>
<path class="k2" d="M1096.8 968.9l11.6 1.3-12.3-9.3-11.6-1.3z"/>
<path class="k1" d="M1155.3 982.9l11.6 1-12.3-9.4-11.6-0.9z"/>
<path class="k2" d="M1038.3 953.5l11.6 1.7-12.3-9.4-11.5-1.7z"/>
<path class="k1" d="M1213.8 995.6l11.6 0.7-12.3-9.3-11.6-0.7z"/>
<path class="k3" d="M979.8 936.3l11.6 2.1-12.3-9.5-11.5-2.1z"/>
<path class="k1" d="M1272.3 1007.2l11.6 0.5-12.3-9.3-11.6-0.4z"/>
<path class="k5" d="M815.9 874.3l11.5 3.9-12.2-9.6-11.6-4z"/>
<path class="k0" d="M1330.8 1017.9l11.6 0.3-12.3-9.3-11.6-0.2z"/>
<path class="k4" d="M921.3 917l11.6 2.6-12.3-9.5-11.5-2.7z"/>
<path class="k8" d="M663.5 791.5l11.6 6.7-12.3-10.1-11.6-6.8z"/>
<path class="k7" d="M710.5 820.5l11.5 5.7-12.3-9.9-11.5-5.7z"/>
<path class="k4" d="M862.8 895.1l11.6 3.3-12.3-9.6-11.5-3.3z"/>
<path class="k2" d="M1085.3 967.6l11.5 1.3-12.3-9.3-11.5-1.4z"/>
<path class="k1" d="M1143.8 981.9l11.5 1-12.3-9.3-11.5-1.1z"/>
<path class="k2" d="M1026.8 951.7l11.5 1.8-12.2-9.4-11.6-1.8z"/>
<path class="k1" d="M1202.3 994.9l11.5 0.7-12.3-9.3-11.5-0.7z"/>
<path class="k6" d="M757.4 846.6l11.6 4.9-12.3-9.8-11.6-4.9z"/>
<path class="k1" d="M1260.8 1006.7l11.5 0.5-12.3-9.2-11.5-0.5z"/>
<path class="k3" d="M968.3 934l11.5 2.3-12.2-9.5-11.6-2.3z"/>
<path class="k0" d="M1319.2 1017.7l11.6 0.2-12.3-9.2-11.5-0.3z"/>
<path class="k5" d="M804.3 870.2l11.6 4.1-12.3-9.7-11.5-4.1z"/>
<path class="k4" d="M909.8 914.2l11.5 2.8-12.2-9.6-11.6-2.8z"/>
<path class="k0" d="M1377.7 1027.7l11.6 0.1-12.3-9.2-11.5-0.1z"/>
<path class="k2" d="M1132.2 980.8l11.6 1.1-12.3-9.4-11.6-1.1zM1073.7 966.1l11.6 1.5-12.3-9.4-11.6-1.5z"/>
<path class="k1" d="M1190.7 994.1l11.6 0.8-12.3-9.3-11.6-0.9z"/>
<path class="k4" d="M851.3 891.6l11.5 3.5-12.2-9.6-11.6-3.5z"/>
<path class="k3" d="M1015.2 949.8l11.6 1.9-12.3-9.4-11.6-1.9z"/>
<path class="k8" d="M652 784.5l11.5 7-12.3-10.2-11.5-7z"/>
<path class="k7" d="M698.9 814.6l11.6 5.9-12.3-9.9-11.6-6.1z"/>
<path class="k1" d="M1249.2 1006.2l11.6 0.5-12.3-9.2-11.6-0.6z"/>
<path class="k3" d="M956.7 931.7l11.6 2.3-12.3-9.5-11.6-2.3z"/>
<path class="k6" d="M745.8 841.5l11.6 5.1-12.3-9.8-11.5-5.2z"/>
<path class="k0" d="M1307.7 1017.3l11.5 0.4-12.2-9.3-11.6-0.3zM1366.2 1027.6l11.5 0.1-12.2-9.2-11.6-0.2z"/>
<path class="k4" d="M898.2 911.2l11.6 3-12.3-9.6-11.6-3z"/>
<path class="k5" d="M792.8 865.9l11.5 4.3-12.2-9.7-11.6-4.4z"/>
<path class="k2" d="M1120.6 979.6l11.6 1.2-12.3-9.4-11.5-1.2zM1062.1 964.6l11.6 1.5-12.3-9.4-11.5-1.5z"/>
<path class="k1" d="M1179.1 993.2l11.6 0.9-12.3-9.4-11.5-0.8zM1237.6 1005.6l11.6 0.6-12.3-9.3-11.5-0.6z"/>
<path class="k3" d="M1003.7 947.9l11.5 1.9-12.3-9.4-11.5-2z"/>
<path class="k5" d="M839.7 887.9l11.6 3.7-12.3-9.6-11.6-3.8z"/>
<path class="k0" d="M1296.1 1016.9l11.6 0.4-12.3-9.2-11.5-0.4z"/>
<path class="k3" d="M945.2 929.2l11.5 2.5-12.3-9.5-11.5-2.6z"/>
<path class="k7" d="M687.3 808.3l11.6 6.3-12.3-10.1-11.5-6.3z"/>
<path class="k8" d="M640.4 777.2l11.6 7.3-12.3-10.2-11.6-7.5z"/>
<path class="k0" d="M1354.6 1027.4l11.6 0.2-12.3-9.3-11.5-0.1z"/>
<path class="k6" d="M734.3 836.2l11.5 5.3-12.2-9.9-11.6-5.4z"/>
<path class="k4" d="M886.7 908.1l11.5 3.1-12.3-9.6-11.5-3.2z"/>
<path class="k6" d="M781.2 861.3l11.6 4.6-12.3-9.8-11.5-4.6z"/>
<path class="k2" d="M1109.1 978.3l11.5 1.3-12.2-9.4-11.6-1.3z"/>
<path class="k1" d="M1167.6 992.2l11.5 1-12.2-9.3-11.6-1z"/>
<path class="k2" d="M1050.6 962.9l11.5 1.7-12.2-9.4-11.6-1.7z"/>
<path class="k1" d="M1226.1 1004.9l11.5 0.7-12.2-9.3-11.6-0.7z"/>
<path class="k3" d="M992.1 945.8l11.6 2.1-12.3-9.5-11.6-2.1z"/>
<path class="k1" d="M1284.6 1016.5l11.5 0.4-12.2-9.2-11.6-0.5z"/>
<path class="k5" d="M828.2 884l11.5 3.9-12.3-9.7-11.5-3.9z"/>
<path class="k4" d="M933.6 926.5l11.6 2.7-12.3-9.6-11.6-2.6z"/>
<path class="k0" d="M1343.1 1027.2l11.5 0.2-12.2-9.2-11.6-0.3z"/>
<path class="k8" d="M675.8 801.7l11.5 6.6-12.2-10.1-11.6-6.7z"/>
<path class="k7" d="M722.7 830.5l11.6 5.7-12.3-10-11.5-5.7z"/>
<path class="k9" d="M628.8 769.5l11.6 7.7-12.3-10.4-11.5-7.7z"/>
<path class="k4" d="M875.1 904.8l11.6 3.3-12.3-9.7-11.6-3.3z"/>
<path class="k2" d="M1097.5 977l11.6 1.3-12.3-9.4-11.5-1.3z"/>
<path class="k1" d="M1156 991.2l11.6 1-12.3-9.3-11.5-1z"/>
<path class="k2" d="M1039 961.2l11.6 1.7-12.3-9.4-11.5-1.8z"/>
<path class="k1" d="M1214.5 1004.2l11.6 0.7-12.3-9.3-11.5-0.7z"/>
<path class="k6" d="M769.7 856.5l11.5 4.8-12.2-9.8-11.6-4.9z"/>
<path class="k1" d="M1273 1016l11.6 0.5-12.3-9.3-11.5-0.5z"/>
<path class="k3" d="M980.5 943.5l11.6 2.3-12.3-9.5-11.5-2.3z"/>
<path class="k0" d="M1331.5 1026.9l11.6 0.3-12.3-9.3-11.6-0.2z"/>
<path class="k5" d="M816.6 880l11.6 4-12.3-9.7-11.6-4.1z"/>
<path class="k4" d="M922 923.7l11.6 2.8-12.3-9.5-11.5-2.8z"/>
<path class="k0" d="M1390 1037l11.6 0.1-12.3-9.3-11.6-0.1z"/>
<path class="k2" d="M1144.5 990.1l11.5 1.1-12.2-9.3-11.6-1.1zM1086 975.5l11.5 1.5-12.2-9.4-11.6-1.5z"/>
<path class="k4" d="M863.5 901.3l11.6 3.5-12.3-9.7-11.5-3.5z"/>
<path class="k1" d="M1203 1003.4l11.5 0.8-12.2-9.3-11.6-0.8z"/>
<path class="k8" d="M664.2 794.8l11.6 6.9-12.3-10.2-11.5-7z"/>
<path class="k3" d="M1027.5 959.3l11.5 1.9-12.2-9.5-11.6-1.9z"/>
<path class="k7" d="M711.2 824.6l11.5 5.9-12.2-10-11.6-5.9z"/>
<path class="k1" d="M1261.5 1015.5l11.5 0.5-12.2-9.3-11.6-0.5z"/>
<path class="k9" d="M617.3 761.4l11.5 8.1-12.2-10.4-11.6-8.2z"/>
<path class="k3" d="M969 941.2l11.5 2.3-12.2-9.5-11.6-2.3z"/>
<path class="k6" d="M758.1 851.4l11.6 5.1-12.3-9.9-11.6-5.1z"/>
<path class="k0" d="M1320 1026.6l11.5 0.3-12.3-9.2-11.5-0.4zM1378.5 1036.8l11.5 0.2-12.3-9.3-11.5-0.1z"/>
<path class="k4" d="M910.5 920.8l11.5 2.9-12.2-9.5-11.6-3z"/>
<path class="k5" d="M805.1 875.7l11.5 4.3-12.3-9.8-11.5-4.3z"/>
<path class="k2" d="M1132.9 989l11.6 1.1-12.3-9.3-11.6-1.2zM1074.4 974l11.6 1.5-12.3-9.4-11.6-1.5z"/>
<path class="k1" d="M1191.4 1002.5l11.6 0.9-12.3-9.3-11.6-0.9z"/>
<path class="k3" d="M1015.9 957.3l11.6 2-12.3-9.5-11.5-1.9z"/>
<path class="k1" d="M1249.9 1014.9l11.6 0.6-12.3-9.3-11.6-0.6z"/>
<path class="k5" d="M852 897.6l11.5 3.7-12.2-9.7-11.6-3.7z"/>
<path class="k0" d="M1308.4 1026.2l11.6 0.4-12.3-9.3-11.6-0.4z"/>
<path class="k3" d="M957.4 938.7l11.6 2.5-12.3-9.5-11.5-2.5z"/>
<path class="k7" d="M699.6 818.4l11.6 6.2-12.3-10-11.6-6.3z"/>
<path class="k8" d="M652.7 787.5l11.5 7.3-12.2-10.3-11.6-7.3z"/>
<path class="k0" d="M1366.9 1036.7l11.6 0.1-12.3-9.2-11.6-0.2z"/>
<path class="k6" d="M746.6 846.1l11.5 5.3-12.3-9.9-11.5-5.3z"/>
<path class="k9" d="M605.7 752.9l11.6 8.5-12.3-10.5-11.5-8.6z"/>
<path class="k4" d="M898.9 917.7l11.6 3.1-12.3-9.6-11.5-3.1z"/>
<path class="k6" d="M793.5 871.1l11.6 4.6-12.3-9.8-11.6-4.6z"/>
<path class="k2" d="M1121.4 987.7l11.5 1.3-12.3-9.4-11.5-1.3z"/>
<path class="k1" d="M1179.9 1001.6l11.5 0.9-12.3-9.3-11.5-1z"/>
<path class="k2" d="M1062.9 972.3l11.5 1.7-12.3-9.4-11.5-1.7z"/>
<path class="k1" d="M1238.4 1014.2l11.5 0.7-12.3-9.3-11.5-0.7z"/>
<path class="k3" d="M1004.4 955.2l11.5 2.1-12.2-9.4-11.6-2.1z"/>
<path class="k1" d="M1296.9 1025.8l11.5 0.4-12.3-9.3-11.5-0.4z"/>
<path class="k5" d="M840.4 893.8l11.6 3.8-12.3-9.7-11.5-3.9z"/>
<path class="k4" d="M945.9 936.1l11.5 2.6-12.2-9.5-11.6-2.7z"/>
<path class="k0" d="M1355.3 1036.4l11.6 0.3-12.3-9.3-11.5-0.2z"/>
<path class="k8" d="M688.1 811.9l11.5 6.5-12.3-10.1-11.5-6.6z"/>
<path class="k9" d="M641.1 779.9l11.6 7.6-12.3-10.3-11.6-7.7z"/>
<path class="k7" d="M735 840.6l11.6 5.5-12.3-9.9-11.6-5.7z"/>
<path class="k4" d="M887.4 914.4l11.5 3.3-12.2-9.6-11.6-3.3z"/>
<path class="k2" d="M1109.8 986.4l11.6 1.3-12.3-9.4-11.6-1.3z"/>
<path class="k1" d="M1168.3 1000.6l11.6 1-12.3-9.4-11.6-1z"/>
<path class="k2" d="M1051.3 970.6l11.6 1.7-12.3-9.4-11.6-1.7z"/>
<path class="k1" d="M1226.8 1013.5l11.6 0.7-12.3-9.3-11.6-0.7z"/>
<path class="k6" d="M781.9 866.4l11.6 4.7-12.3-9.8-11.5-4.8z"/>
<path class="k10" d="M594.2 744.1l11.5 8.8-12.2-10.6-11.6-9z"/>
<path class="k1" d="M1285.3 1025.3l11.6 0.5-12.3-9.3-11.6-0.5z"/>
<path class="k3" d="M992.8 953l11.6 2.2-12.3-9.4-11.6-2.3z"/>
<path class="k0" d="M1343.8 1036.2l11.5 0.2-12.2-9.2-11.6-0.3z"/>
<path class="k5" d="M828.9 889.7l11.5 4.1-12.2-9.8-11.6-4z"/>
<path class="k4" d="M934.3 933.3l11.6 2.8-12.3-9.6-11.6-2.8z"/>
<path class="k0" d="M1402.3 1046.2l11.5 0.1-12.2-9.2-11.6-0.1z"/>
<path class="k2" d="M1156.7 999.5l11.6 1.1-12.3-9.4-11.5-1.1zM1098.2 984.9l11.6 1.5-12.3-9.4-11.5-1.5z"/>
<path class="k4" d="M875.8 911l11.6 3.4-12.3-9.6-11.6-3.5z"/>
<path class="k8" d="M676.5 805l11.6 6.9-12.3-10.2-11.6-6.9z"/>
<path class="k1" d="M1215.2 1012.7l11.6 0.8-12.3-9.3-11.5-0.8z"/>
<path class="k7" d="M723.4 834.7l11.6 5.9-12.3-10.1-11.5-5.9z"/>
<path class="k3" d="M1039.8 968.8l11.5 1.8-12.3-9.4-11.5-1.9z"/>
<path class="k1" d="M1273.7 1024.8l11.6 0.5-12.3-9.3-11.5-0.5z"/>
<path class="k9" d="M629.6 771.9l11.5 8-12.3-10.4-11.5-8.1z"/>
<path class="k6" d="M770.4 861.4l11.5 5-12.2-9.9-11.6-5.1z"/>
<path class="k3" d="M981.3 950.7l11.5 2.3-12.3-9.5-11.5-2.3z"/>
<path class="k0" d="M1332.2 1035.9l11.6 0.3-12.3-9.3-11.5-0.3z"/>
<path class="k10" d="M582.6 734.8l11.6 9.3-12.3-10.8-11.6-9.3z"/>
<path class="k0" d="M1390.7 1046.1l11.6 0.1-12.3-9.2-11.5-0.2z"/>
<path class="k4" d="M922.8 930.4l11.5 2.9-12.3-9.6-11.5-2.9z"/>
<path class="k5" d="M817.3 885.5l11.6 4.2-12.3-9.7-11.5-4.3z"/>
<path class="k2" d="M1145.2 998.3l11.5 1.2-12.2-9.4-11.6-1.1zM1086.7 983.4l11.5 1.5-12.2-9.4-11.6-1.5z"/>
<path class="k1" d="M1203.7 1011.9l11.5 0.8-12.2-9.3-11.6-0.9z"/>
<path class="k3" d="M1028.2 966.8l11.6 2-12.3-9.5-11.6-2z"/>
<path class="k1" d="M1262.2 1024.2l11.5 0.6-12.2-9.3-11.6-0.6z"/>
<path class="k5" d="M864.3 907.3l11.5 3.7-12.3-9.7-11.5-3.7z"/>
<path class="k0" d="M1320.7 1035.5l11.5 0.4-12.2-9.3-11.6-0.4z"/>
<path class="k7" d="M711.9 828.5l11.5 6.2-12.2-10.1-11.6-6.2z"/>
<path class="k3" d="M969.7 948.2l11.6 2.5-12.3-9.5-11.6-2.5z"/>
<path class="k8" d="M664.9 797.8l11.6 7.2-12.3-10.2-11.5-7.3z"/>
<path class="k6" d="M758.8 856.1l11.6 5.3-12.3-10-11.5-5.3z"/>
<path class="k0" d="M1379.2 1045.9l11.5 0.2-12.2-9.3-11.6-0.1z"/>
<path class="k9" d="M618 763.5l11.6 8.4-12.3-10.5-11.6-8.5z"/>
<path class="k4" d="M911.2 927.3l11.6 3.1-12.3-9.6-11.6-3.1z"/>
<path class="k6" d="M805.8 881l11.5 4.5-12.2-9.8-11.6-4.6z"/>
<path class="k2" d="M1133.6 997.1l11.6 1.2-12.3-9.3-11.5-1.3z"/>
<path class="k1" d="M1192.1 1010.9l11.6 1-12.3-9.4-11.5-0.9z"/>
<path class="k2" d="M1075.1 981.8l11.6 1.6-12.3-9.4-11.5-1.7z"/>
<path class="k11" d="M571.1 725.2l11.5 9.6-12.3-10.8-11.5-9.8z"/>
<path class="k1" d="M1250.6 1023.5l11.6 0.7-12.3-9.3-11.5-0.7z"/>
<path class="k3" d="M1016.6 964.7l11.6 2.1-12.3-9.5-11.5-2.1z"/>
<path class="k1" d="M1309.1 1035.1l11.6 0.4-12.3-9.3-11.5-0.4z"/>
<path class="k5" d="M852.7 903.5l11.6 3.8-12.3-9.7-11.6-3.8z"/>
<path class="k3" d="M958.1 945.6l11.6 2.6-12.3-9.5-11.5-2.6z"/>
<path class="k0" d="M1367.6 1045.7l11.6 0.2-12.3-9.2-11.6-0.3z"/>
<path class="k8" d="M700.3 822.1l11.6 6.4-12.3-10.1-11.5-6.5z"/>
<path class="k9" d="M653.4 790.3l11.5 7.5-12.2-10.3-11.6-7.6z"/>
<path class="k7" d="M747.3 850.6l11.5 5.5-12.2-10-11.6-5.5z"/>
<path class="k4" d="M899.6 924.1l11.6 3.2-12.3-9.6-11.5-3.3z"/>
<path class="k2" d="M1122.1 995.8l11.5 1.3-12.2-9.4-11.6-1.3z"/>
<path class="k1" d="M1180.6 1009.9l11.5 1-12.2-9.3-11.6-1z"/>
<path class="k6" d="M794.2 876.3l11.6 4.7-12.3-9.9-11.6-4.7z"/>
<path class="k10" d="M606.4 754.8l11.6 8.7-12.3-10.6-11.5-8.8z"/>
<path class="k2" d="M1063.6 980l11.5 1.8-12.2-9.5-11.6-1.7z"/>
<path class="k1" d="M1239.1 1022.8l11.5 0.7-12.2-9.3-11.6-0.7zM1297.6 1034.6l11.5 0.5-12.2-9.3-11.6-0.5z"/>
<path class="k3" d="M1005.1 962.5l11.5 2.2-12.2-9.5-11.6-2.2z"/>
<path class="k0" d="M1356.1 1045.5l11.5 0.2-12.3-9.3-11.5-0.2z"/>
<path class="k5" d="M841.1 899.5l11.6 4-12.3-9.7-11.5-4.1z"/>
<path class="k4" d="M946.6 942.9l11.5 2.7-12.2-9.5-11.6-2.8z"/>
<path class="k11" d="M559.5 715.1l11.6 10.1-12.3-11-11.6-10.2z"/>
<path class="k0" d="M1414.6 1055.5l11.5 0-12.3-9.2-11.5-0.1z"/>
<path class="k2" d="M1169 1008.9l11.6 1-12.3-9.3-11.6-1.1z"/>
<path class="k8" d="M688.8 815.3l11.5 6.8-12.2-10.2-11.6-6.9z"/>
<path class="k2" d="M1110.5 994.3l11.6 1.5-12.3-9.4-11.6-1.5z"/>
<path class="k4" d="M888.1 920.6l11.5 3.5-12.2-9.7-11.6-3.4z"/>
<path class="k7" d="M735.7 844.8l11.6 5.8-12.3-10-11.6-5.9z"/>
<path class="k1" d="M1227.5 1022l11.6 0.8-12.3-9.3-11.6-0.8z"/>
<path class="k3" d="M1052 978.2l11.6 1.8-12.3-9.4-11.5-1.8z"/>
<path class="k9" d="M641.8 782.4l11.6 7.9-12.3-10.4-11.5-8z"/>
<path class="k1" d="M1286 1034.1l11.6 0.5-12.3-9.3-11.6-0.5z"/>
<path class="k6" d="M782.7 871.3l11.5 5-12.3-9.9-11.5-5z"/>
<path class="k3" d="M993.5 960.2l11.6 2.3-12.3-9.5-11.5-2.3z"/>
<path class="k0" d="M1344.5 1045.1l11.6 0.4-12.3-9.3-11.6-0.3z"/>
<path class="k10" d="M594.9 745.7l11.5 9.1-12.2-10.7-11.6-9.3z"/>
<path class="k0" d="M1403 1055.3l11.6 0.2-12.3-9.3-11.6-0.1z"/>
<path class="k5" d="M829.6 895.3l11.5 4.2-12.2-9.8-11.6-4.2z"/>
<path class="k4" d="M935 940l11.6 2.9-12.3-9.6-11.5-2.9z"/>
<path class="k2" d="M1157.5 1007.7l11.5 1.2-12.3-9.4-11.5-1.2zM1099 992.8l11.5 1.5-12.3-9.4-11.5-1.5z"/>
<path class="k1" d="M1216 1021.2l11.5 0.8-12.3-9.3-11.5-0.8z"/>
<path class="k3" d="M1040.5 976.3l11.5 1.9-12.2-9.4-11.6-2z"/>
<path class="k5" d="M876.5 917l11.6 3.6-12.3-9.6-11.5-3.7z"/>
<path class="k12" d="M548 704.7l11.5 10.4-12.3-11.1-11.5-10.6z"/>
<path class="k1" d="M1274.5 1033.5l11.5 0.6-12.3-9.3-11.5-0.6z"/>
<path class="k7" d="M724.2 838.7l11.5 6.1-12.3-10.1-11.5-6.2z"/>
<path class="k8" d="M677.2 808.2l11.6 7.1-12.3-10.3-11.6-7.2z"/>
<path class="k0" d="M1332.9 1044.8l11.6 0.3-12.3-9.2-11.5-0.4z"/>
<path class="k3" d="M982 957.8l11.5 2.4-12.2-9.5-11.6-2.5z"/>
<path class="k6" d="M771.1 866.1l11.6 5.2-12.3-9.9-11.6-5.3z"/>
<path class="k9" d="M630.3 774.2l11.5 8.2-12.2-10.5-11.6-8.4z"/>
<path class="k0" d="M1391.4 1055.2l11.6 0.1-12.3-9.2-11.5-0.2z"/>
<path class="k4" d="M923.5 936.9l11.5 3.1-12.2-9.6-11.6-3.1z"/>
<path class="k6" d="M818 890.8l11.6 4.5-12.3-9.8-11.5-4.5z"/>
<path class="k2" d="M1145.9 1006.5l11.6 1.2-12.3-9.4-11.6-1.2z"/>
<path class="k11" d="M583.3 736.1l11.6 9.6-12.3-10.9-11.5-9.6z"/>
<path class="k1" d="M1204.4 1020.3l11.6 0.9-12.3-9.3-11.6-1z"/>
<path class="k2" d="M1087.4 991.2l11.6 1.6-12.3-9.4-11.6-1.6z"/>
<path class="k1" d="M1262.9 1032.9l11.6 0.6-12.3-9.3-11.6-0.7z"/>
<path class="k3" d="M1028.9 974.2l11.6 2.1-12.3-9.5-11.6-2.1z"/>
<path class="k5" d="M865 913.3l11.5 3.7-12.2-9.7-11.6-3.8z"/>
<path class="k1" d="M1321.4 1044.4l11.5 0.4-12.2-9.3-11.6-0.4z"/>
<path class="k3" d="M970.4 955.2l11.6 2.6-12.3-9.6-11.6-2.6z"/>
<path class="k0" d="M1379.9 1055l11.5 0.2-12.2-9.3-11.6-0.2z"/>
<path class="k7" d="M712.6 832.3l11.6 6.4-12.3-10.2-11.6-6.4z"/>
<path class="k9" d="M665.7 800.8l11.5 7.4-12.3-10.4-11.5-7.5z"/>
<path class="k12" d="M536.4 693.8l11.6 10.9-12.3-11.3-11.6-11.1z"/>
<path class="k7" d="M759.5 860.6l11.6 5.5-12.3-10-11.5-5.5z"/>
<path class="k4" d="M911.9 933.7l11.6 3.2-12.3-9.6-11.6-3.2z"/>
<path class="k10" d="M618.7 765.5l11.6 8.7-12.3-10.7-11.6-8.7z"/>
<path class="k2" d="M1134.3 1005.2l11.6 1.3-12.3-9.4-11.5-1.3z"/>
<path class="k1" d="M1192.8 1019.3l11.6 1-12.3-9.4-11.5-1z"/>
<path class="k6" d="M806.5 886.2l11.5 4.6-12.2-9.8-11.6-4.7z"/>
<path class="k2" d="M1075.9 989.5l11.5 1.7-12.3-9.4-11.5-1.8z"/>
<path class="k1" d="M1251.3 1032.2l11.6 0.7-12.3-9.4-11.5-0.7z"/>
<path class="k3" d="M1017.4 972.1l11.5 2.1-12.3-9.5-11.5-2.2z"/>
<path class="k1" d="M1309.8 1043.9l11.6 0.5-12.3-9.3-11.5-0.5z"/>
<path class="k5" d="M853.4 909.3l11.6 4-12.3-9.8-11.6-4z"/>
<path class="k0" d="M1368.3 1054.7l11.6 0.3-12.3-9.3-11.5-0.2z"/>
<path class="k11" d="M571.8 726.2l11.5 9.9-12.2-10.9-11.6-10.1z"/>
<path class="k4" d="M958.9 952.5l11.5 2.7-12.3-9.6-11.5-2.7z"/>
<path class="k0" d="M1426.8 1064.7l11.6 0.1-12.3-9.3-11.5 0z"/>
<path class="k8" d="M701 825.6l11.6 6.7-12.3-10.2-11.5-6.8z"/>
<path class="k4" d="M900.4 930.3l11.5 3.4-12.3-9.6-11.5-3.5z"/>
<path class="k2" d="M1181.3 1018.2l11.5 1.1-12.2-9.4-11.6-1zM1122.8 1003.7l11.5 1.5-12.2-9.4-11.6-1.5z"/>
<path class="k7" d="M748 854.9l11.5 5.7-12.2-10-11.6-5.8z"/>
<path class="k1" d="M1239.8 1031.4l11.5 0.8-12.2-9.4-11.6-0.8z"/>
<path class="k9" d="M654.1 793l11.6 7.8-12.3-10.5-11.6-7.9z"/>
<path class="k3" d="M1064.3 987.7l11.6 1.8-12.3-9.5-11.6-1.8z"/>
<path class="k1" d="M1298.3 1043.4l11.5 0.5-12.2-9.3-11.6-0.5z"/>
<path class="k6" d="M794.9 881.2l11.6 5-12.3-9.9-11.5-5z"/>
<path class="k13" d="M524.8 682.6l11.6 11.2-12.3-11.5-11.5-11.3z"/>
<path class="k3" d="M1005.8 969.8l11.6 2.3-12.3-9.6-11.6-2.3z"/>
<path class="k0" d="M1356.8 1054.4l11.5 0.3-12.2-9.2-11.6-0.4z"/>
<path class="k10" d="M607.2 756.5l11.5 9-12.3-10.7-11.5-9.1z"/>
<path class="k5" d="M841.9 905.1l11.5 4.2-12.3-9.8-11.5-4.2z"/>
<path class="k4" d="M947.3 949.6l11.6 2.9-12.3-9.6-11.6-2.9z"/>
<path class="k0" d="M1415.3 1064.6l11.5 0.1-12.2-9.2-11.6-0.2z"/>
<path class="k2" d="M1169.7 1017.1l11.6 1.1-12.3-9.3-11.5-1.2zM1111.2 1002.2l11.6 1.5-12.3-9.4-11.5-1.5z"/>
<path class="k11" d="M560.2 716l11.6 10.2-12.3-11.1-11.5-10.4z"/>
<path class="k1" d="M1228.2 1030.5l11.6 0.9-12.3-9.4-11.5-0.8z"/>
<path class="k5" d="M888.8 926.8l11.6 3.5-12.3-9.7-11.6-3.6z"/>
<path class="k3" d="M1052.7 985.8l11.6 1.9-12.3-9.5-11.5-1.9z"/>
<path class="k1" d="M1286.7 1042.8l11.6 0.6-12.3-9.3-11.5-0.6z"/>
<path class="k8" d="M689.5 818.6l11.5 7-12.2-10.3-11.6-7.1z"/>
<path class="k7" d="M736.4 848.9l11.6 6-12.3-10.1-11.5-6.1z"/>
<path class="k0" d="M1345.2 1054.1l11.6 0.3-12.3-9.3-11.6-0.3z"/>
<path class="k3" d="M994.2 967.3l11.6 2.5-12.3-9.6-11.5-2.4z"/>
<path class="k6" d="M783.4 876.1l11.5 5.1-12.2-9.9-11.6-5.2z"/>
<path class="k9" d="M642.5 784.8l11.6 8.2-12.3-10.6-11.5-8.2z"/>
<path class="k0" d="M1403.7 1064.4l11.6 0.2-12.3-9.3-11.6-0.1z"/>
<path class="k4" d="M935.7 946.6l11.6 3-12.3-9.6-11.5-3.1z"/>
<path class="k5" d="M830.3 900.7l11.6 4.4-12.3-9.8-11.6-4.5z"/>
<path class="k13" d="M513.3 671.1l11.5 11.5-12.2-11.6-11.6-11.8z"/>
<path class="k11" d="M595.6 747.2l11.6 9.3-12.3-10.8-11.6-9.6z"/>
<path class="k2" d="M1158.2 1015.9l11.5 1.2-12.2-9.4-11.6-1.2z"/>
<path class="k1" d="M1216.7 1029.6l11.5 0.9-12.2-9.3-11.6-0.9z"/>
<path class="k2" d="M1099.7 1000.7l11.5 1.5-12.2-9.4-11.6-1.6z"/>
<path class="k1" d="M1275.2 1042.2l11.5 0.6-12.2-9.3-11.6-0.6z"/>
<path class="k3" d="M1041.2 983.7l11.5 2.1-12.2-9.5-11.6-2.1z"/>
<path class="k5" d="M877.2 923l11.6 3.8-12.3-9.8-11.5-3.7z"/>
<path class="k1" d="M1333.7 1053.7l11.5 0.4-12.3-9.3-11.5-0.4z"/>
<path class="k3" d="M982.7 964.8l11.5 2.5-12.2-9.5-11.6-2.6z"/>
<path class="k0" d="M1392.2 1064.2l11.5 0.2-12.3-9.2-11.5-0.2z"/>
<path class="k7" d="M724.9 842.5l11.5 6.4-12.2-10.2-11.6-6.4z"/>
<path class="k12" d="M548.7 705.3l11.5 10.7-12.2-11.3-11.6-10.9z"/>
<path class="k8" d="M677.9 811.2l11.6 7.4-12.3-10.4-11.5-7.4z"/>
<path class="k7" d="M771.8 870.7l11.6 5.4-12.3-10-11.6-5.5z"/>
<path class="k4" d="M924.2 943.4l11.5 3.2-12.2-9.7-11.6-3.2z"/>
<path class="k10" d="M631 776.3l11.5 8.5-12.2-10.6-11.6-8.7z"/>
<path class="k2" d="M1146.6 1014.6l11.6 1.3-12.3-9.4-11.6-1.3z"/>
<path class="k6" d="M818.8 896.1l11.5 4.6-12.3-9.9-11.5-4.6z"/>
<path class="k1" d="M1205.1 1028.7l11.6 0.9-12.3-9.3-11.6-1z"/>
<path class="k2" d="M1088.1 999l11.6 1.7-12.3-9.5-11.5-1.7z"/>
<path class="k1" d="M1263.6 1041.5l11.6 0.7-12.3-9.3-11.6-0.7z"/>
<path class="k3" d="M1029.6 981.6l11.6 2.1-12.3-9.5-11.5-2.1z"/>
<path class="k1" d="M1322.1 1053.2l11.6 0.5-12.3-9.3-11.6-0.5z"/>
<path class="k11" d="M584.1 737.4l11.5 9.8-12.3-11.1-11.5-9.9z"/>
<path class="k5" d="M865.7 919.1l11.5 3.9-12.2-9.7-11.6-4z"/>
<path class="k0" d="M1380.6 1064l11.6 0.2-12.3-9.2-11.6-0.3z"/>
<path class="k14" d="M501.7 659.2l11.6 11.9-12.3-11.9-11.5-12.1z"/>
<path class="k4" d="M971.1 962.1l11.6 2.7-12.3-9.6-11.5-2.7z"/>
<path class="k0" d="M1439.1 1074l11.6 0-12.3-9.2-11.6-0.1z"/>
<path class="k8" d="M713.3 835.9l11.6 6.6-12.3-10.2-11.6-6.7z"/>
<path class="k7" d="M760.3 865l11.5 5.7-12.3-10.1-11.5-5.7z"/>
<path class="k4" d="M912.6 940l11.6 3.4-12.3-9.7-11.5-3.4z"/>
<path class="k2" d="M1193.6 1027.6l11.5 1.1-12.3-9.4-11.5-1.1zM1135.1 1013.2l11.5 1.4-12.3-9.4-11.5-1.5z"/>
<path class="k9" d="M666.4 803.5l11.5 7.7-12.2-10.4-11.6-7.8z"/>
<path class="k1" d="M1252.1 1040.7l11.5 0.8-12.3-9.3-11.5-0.8z"/>
<path class="k3" d="M1076.6 997.2l11.5 1.8-12.2-9.5-11.6-1.8z"/>
<path class="k12" d="M537.1 694.3l11.6 11-12.3-11.5-11.6-11.2z"/>
<path class="k1" d="M1310.6 1052.7l11.5 0.5-12.3-9.3-11.5-0.5z"/>
<path class="k6" d="M807.2 891.2l11.6 4.9-12.3-9.9-11.6-5z"/>
<path class="k3" d="M1018.1 979.3l11.5 2.3-12.2-9.5-11.6-2.3z"/>
<path class="k10" d="M619.4 767.4l11.6 8.9-12.3-10.8-11.5-9z"/>
<path class="k0" d="M1369 1063.7l11.6 0.3-12.3-9.3-11.5-0.3z"/>
<path class="k5" d="M854.1 914.9l11.6 4.2-12.3-9.8-11.5-4.2z"/>
<path class="k4" d="M959.6 959.2l11.5 2.9-12.2-9.6-11.6-2.9z"/>
<path class="k0" d="M1427.5 1073.9l11.6 0.1-12.3-9.3-11.5-0.1z"/>
<path class="k11" d="M572.5 727.3l11.6 10.1-12.3-11.2-11.6-10.2z"/>
<path class="k2" d="M1182 1026.5l11.6 1.1-12.3-9.4-11.6-1.1zM1123.5 1011.7l11.6 1.5-12.3-9.5-11.6-1.5z"/>
<path class="k1" d="M1240.5 1039.9l11.6 0.8-12.3-9.3-11.6-0.9z"/>
<path class="k5" d="M901.1 936.5l11.5 3.5-12.2-9.7-11.6-3.5z"/>
<path class="k3" d="M1065 995.3l11.6 1.9-12.3-9.5-11.6-1.9z"/>
<path class="k14" d="M490.2 647.2l11.5 12-12.2-12.1-11.6-12.3z"/>
<path class="k1" d="M1299 1052.1l11.6 0.6-12.3-9.3-11.6-0.6z"/>
<path class="k8" d="M701.8 829l11.5 6.9-12.3-10.3-11.5-7z"/>
<path class="k7" d="M748.7 859l11.6 6-12.3-10.1-11.6-6z"/>
<path class="k0" d="M1357.5 1063.4l11.5 0.3-12.2-9.3-11.6-0.3z"/>
<path class="k3" d="M1006.5 976.9l11.6 2.4-12.3-9.5-11.6-2.5z"/>
<path class="k9" d="M654.8 795.5l11.6 8-12.3-10.5-11.6-8.2z"/>
<path class="k6" d="M795.6 886.1l11.6 5.1-12.3-10-11.5-5.1z"/>
<path class="k0" d="M1416 1073.7l11.5 0.2-12.2-9.3-11.6-0.2z"/>
<path class="k4" d="M948 956.2l11.6 3-12.3-9.6-11.6-3z"/>
<path class="k13" d="M525.6 683l11.5 11.3-12.3-11.7-11.5-11.5z"/>
<path class="k5" d="M842.6 910.6l11.5 4.3-12.2-9.8-11.6-4.4z"/>
<path class="k10" d="M607.9 758.2l11.5 9.2-12.2-10.9-11.6-9.3z"/>
<path class="k2" d="M1170.4 1025.3l11.6 1.2-12.3-9.4-11.5-1.2z"/>
<path class="k1" d="M1228.9 1039l11.6 0.9-12.3-9.4-11.5-0.9z"/>
<path class="k2" d="M1112 1010.1l11.5 1.6-12.3-9.5-11.5-1.5z"/>
<path class="k1" d="M1287.4 1051.5l11.6 0.6-12.3-9.3-11.5-0.6z"/>
<path class="k3" d="M1053.5 993.2l11.5 2.1-12.3-9.5-11.5-2.1z"/>
<path class="k5" d="M889.5 932.8l11.6 3.7-12.3-9.7-11.6-3.8z"/>
<path class="k1" d="M1345.9 1063l11.6 0.4-12.3-9.3-11.5-0.4z"/>
<path class="k3" d="M995 974.4l11.5 2.5-12.3-9.6-11.5-2.5z"/>
<path class="k12" d="M560.9 716.8l11.6 10.5-12.3-11.3-11.5-10.7z"/>
<path class="k0" d="M1404.4 1073.5l11.6 0.2-12.3-9.3-11.5-0.2z"/>
<path class="k7" d="M737.1 852.8l11.6 6.2-12.3-10.1-11.5-6.4z"/>
<path class="k8" d="M690.2 821.7l11.6 7.3-12.3-10.4-11.6-7.4z"/>
<path class="k7" d="M784.1 880.7l11.5 5.4-12.2-10-11.6-5.4z"/>
<path class="k15" d="M478.6 634.9l11.6 12.3-12.3-12.4-11.6-12.5z"/>
<path class="k10" d="M643.3 787.1l11.5 8.4-12.3-10.7-11.5-8.5z"/>
<path class="k4" d="M936.5 953.1l11.5 3.1-12.3-9.6-11.5-3.2z"/>
<path class="k6" d="M831 906l11.6 4.6-12.3-9.9-11.5-4.6z"/>
<path class="k2" d="M1158.9 1024l11.5 1.3-12.2-9.4-11.6-1.3z"/>
<path class="k1" d="M1217.4 1038l11.5 1-12.2-9.4-11.6-0.9z"/>
<path class="k2" d="M1100.4 1008.4l11.6 1.7-12.3-9.4-11.6-1.7z"/>
<path class="k1" d="M1275.9 1050.8l11.5 0.7-12.2-9.3-11.6-0.7z"/>
<path class="k3" d="M1041.9 991.1l11.6 2.1-12.3-9.5-11.6-2.1z"/>
<path class="k1" d="M1334.4 1062.5l11.5 0.5-12.2-9.3-11.6-0.5z"/>
<path class="k11" d="M596.3 748.6l11.6 9.6-12.3-11-11.5-9.8z"/>
<path class="k13" d="M514 671.4l11.6 11.6-12.3-11.9-11.6-11.9z"/>
<path class="k5" d="M878 928.9l11.5 3.9-12.3-9.8-11.5-3.9z"/>
<path class="k0" d="M1392.9 1073.3l11.5 0.2-12.2-9.3-11.6-0.2z"/>
<path class="k4" d="M983.4 971.7l11.6 2.7-12.3-9.6-11.6-2.7z"/>
<path class="k0" d="M1451.4 1083.2l11.5 0.1-12.2-9.3-11.6 0z"/>
<path class="k8" d="M725.6 846.2l11.5 6.6-12.2-10.3-11.6-6.6z"/>
<path class="k7" d="M772.5 875.1l11.6 5.6-12.3-10-11.5-5.7z"/>
<path class="k9" d="M678.6 814.1l11.6 7.6-12.3-10.5-11.5-7.7z"/>
<path class="k4" d="M924.9 949.7l11.6 3.4-12.3-9.7-11.6-3.4z"/>
<path class="k1" d="M1205.8 1037l11.6 1-12.3-9.3-11.5-1.1z"/>
<path class="k2" d="M1147.3 1022.6l11.6 1.4-12.3-9.4-11.5-1.4z"/>
<path class="k12" d="M549.4 706l11.5 10.8-12.2-11.5-11.6-11z"/>
<path class="k1" d="M1264.3 1050.1l11.6 0.7-12.3-9.3-11.5-0.8z"/>
<path class="k2" d="M1088.8 1006.6l11.6 1.8-12.3-9.4-11.5-1.8z"/>
<path class="k6" d="M819.5 901.2l11.5 4.8-12.2-9.9-11.6-4.9z"/>
<path class="k1" d="M1322.8 1062l11.6 0.5-12.3-9.3-11.5-0.5z"/>
<path class="k10" d="M631.7 778.4l11.6 8.7-12.3-10.8-11.6-8.9z"/>
<path class="k3" d="M1030.3 988.8l11.6 2.3-12.3-9.5-11.5-2.3z"/>
<path class="k0" d="M1381.3 1073l11.6 0.3-12.3-9.3-11.6-0.3z"/>
<path class="k15" d="M467.1 622.5l11.5 12.4-12.3-12.6-11.5-12.7z"/>
<path class="k5" d="M866.4 924.8l11.6 4.1-12.3-9.8-11.6-4.2z"/>
<path class="k4" d="M971.8 968.9l11.6 2.8-12.3-9.6-11.5-2.9z"/>
<path class="k0" d="M1439.8 1083.1l11.6 0.1-12.3-9.2-11.6-0.1z"/>
<path class="k11" d="M584.8 738.6l11.5 10-12.2-11.2-11.6-10.1z"/>
<path class="k2" d="M1194.3 1035.9l11.5 1.1-12.2-9.4-11.6-1.1z"/>
<path class="k14" d="M502.4 659.5l11.6 11.9-12.3-12.2-11.5-12z"/>
<path class="k2" d="M1135.8 1021.1l11.5 1.5-12.2-9.4-11.6-1.5z"/>
<path class="k1" d="M1252.8 1049.3l11.5 0.8-12.2-9.4-11.6-0.8z"/>
<path class="k5" d="M913.3 946.2l11.6 3.5-12.3-9.7-11.5-3.5z"/>
<path class="k3" d="M1077.3 1004.8l11.5 1.8-12.2-9.4-11.6-1.9z"/>
<path class="k8" d="M714 839.4l11.6 6.8-12.3-10.3-11.5-6.9z"/>
<path class="k1" d="M1311.3 1061.5l11.5 0.5-12.2-9.3-11.6-0.6z"/>
<path class="k7" d="M761 869.2l11.5 5.9-12.2-10.1-11.6-6z"/>
<path class="k9" d="M667.1 806.2l11.5 7.9-12.2-10.6-11.6-8z"/>
<path class="k3" d="M1018.8 986.5l11.5 2.3-12.2-9.5-11.6-2.4z"/>
<path class="k0" d="M1369.8 1072.7l11.5 0.3-12.3-9.3-11.5-0.3z"/>
<path class="k6" d="M807.9 896.1l11.6 5.1-12.3-10-11.6-5.1z"/>
<path class="k0" d="M1428.3 1083l11.5 0.1-12.3-9.2-11.5-0.2z"/>
<path class="k13" d="M537.8 694.9l11.6 11.1-12.3-11.7-11.5-11.3z"/>
<path class="k4" d="M960.3 965.9l11.5 3-12.2-9.7-11.6-3z"/>
<path class="k10" d="M620.2 769.3l11.5 9.1-12.3-11-11.5-9.2z"/>
<path class="k5" d="M854.9 920.5l11.5 4.3-12.3-9.9-11.5-4.3z"/>
<path class="k2" d="M1182.7 1034.7l11.6 1.2-12.3-9.4-11.6-1.2z"/>
<path class="k1" d="M1241.2 1048.4l11.6 0.9-12.3-9.4-11.6-0.9z"/>
<path class="k2" d="M1124.2 1019.6l11.6 1.5-12.3-9.4-11.5-1.6z"/>
<path class="k1" d="M1299.7 1060.8l11.6 0.7-12.3-9.4-11.6-0.6z"/>
<path class="k16" d="M455.5 610.1l11.6 12.4-12.3-12.9-11.6-12.7z"/>
<path class="k3" d="M1065.7 1002.8l11.6 2-12.3-9.5-11.5-2.1z"/>
<path class="k5" d="M901.8 942.6l11.5 3.6-12.2-9.7-11.6-3.7z"/>
<path class="k1" d="M1358.2 1072.3l11.6 0.4-12.3-9.3-11.6-0.4z"/>
<path class="k12" d="M573.2 728.4l11.6 10.2-12.3-11.3-11.6-10.5z"/>
<path class="k3" d="M1007.2 984l11.6 2.5-12.3-9.6-11.5-2.5z"/>
<path class="k7" d="M749.4 863.1l11.6 6.1-12.3-10.2-11.6-6.2z"/>
<path class="k8" d="M702.5 832.2l11.5 7.2-12.2-10.4-11.6-7.3z"/>
<path class="k0" d="M1416.7 1082.8l11.6 0.2-12.3-9.3-11.6-0.2z"/>
<path class="k6" d="M796.4 890.8l11.5 5.3-12.3-10-11.5-5.4z"/>
<path class="k14" d="M490.9 647.5l11.5 12-12.2-12.3-11.6-12.3z"/>
<path class="k10" d="M655.5 797.9l11.6 8.3-12.3-10.7-11.5-8.4z"/>
<path class="k4" d="M948.7 962.8l11.6 3.1-12.3-9.7-11.5-3.1z"/>
<path class="k6" d="M843.3 915.9l11.6 4.6-12.3-9.9-11.6-4.6z"/>
<path class="k2" d="M1171.2 1033.4l11.5 1.3-12.3-9.4-11.5-1.3z"/>
<path class="k1" d="M1229.7 1047.4l11.5 1-12.3-9.4-11.5-1z"/>
<path class="k2" d="M1112.7 1017.9l11.5 1.7-12.2-9.5-11.6-1.7z"/>
<path class="k1" d="M1288.2 1060.2l11.5 0.6-12.3-9.3-11.5-0.7z"/>
<path class="k11" d="M608.6 759.8l11.6 9.5-12.3-11.1-11.6-9.6z"/>
<path class="k13" d="M526.3 683.5l11.5 11.4-12.2-11.9-11.6-11.6z"/>
<path class="k3" d="M1054.2 1000.6l11.5 2.2-12.2-9.6-11.6-2.1z"/>
<path class="k1" d="M1346.7 1071.8l11.5 0.5-12.3-9.3-11.5-0.5z"/>
<path class="k5" d="M890.2 938.7l11.6 3.9-12.3-9.8-11.5-3.9z"/>
<path class="k0" d="M1405.1 1082.6l11.6 0.2-12.3-9.3-11.5-0.2z"/>
<path class="k4" d="M995.7 981.3l11.5 2.7-12.2-9.6-11.6-2.7z"/>
<path class="k0" d="M1463.6 1092.5l11.6 0-12.3-9.2-11.5-0.1z"/>
<path class="k8" d="M737.9 856.6l11.5 6.5-12.3-10.3-11.5-6.6z"/>
<path class="k16" d="M443.9 597.7l11.6 12.4-12.3-13.2-11.5-12.7z"/>
<path class="k9" d="M690.9 824.7l11.6 7.5-12.3-10.5-11.6-7.6z"/>
<path class="k7" d="M784.8 885.3l11.6 5.5-12.3-10.1-11.6-5.6z"/>
<path class="k12" d="M561.7 717.7l11.5 10.7-12.3-11.6-11.5-10.8z"/>
<path class="k4" d="M937.2 959.5l11.5 3.3-12.2-9.7-11.6-3.4z"/>
<path class="k2" d="M1159.6 1032l11.6 1.4-12.3-9.4-11.6-1.4z"/>
<path class="k1" d="M1218.1 1046.4l11.6 1-12.3-9.4-11.6-1zM1276.6 1059.4l11.6 0.8-12.3-9.4-11.6-0.7z"/>
<path class="k2" d="M1101.1 1016.1l11.6 1.8-12.3-9.5-11.6-1.8z"/>
<path class="k6" d="M831.7 911.2l11.6 4.7-12.3-9.9-11.5-4.8z"/>
<path class="k10" d="M644 789.3l11.5 8.6-12.2-10.8-11.6-8.7z"/>
<path class="k1" d="M1335.1 1071.3l11.6 0.5-12.3-9.3-11.6-0.5z"/>
<path class="k3" d="M1042.6 998.4l11.6 2.2-12.3-9.5-11.6-2.3z"/>
<path class="k15" d="M479.3 635.4l11.6 12.1-12.3-12.6-11.5-12.4z"/>
<path class="k0" d="M1393.6 1082.3l11.5 0.3-12.2-9.3-11.6-0.3z"/>
<path class="k5" d="M878.7 934.6l11.5 4.1-12.2-9.8-11.6-4.1z"/>
<path class="k4" d="M984.1 978.5l11.6 2.8-12.3-9.6-11.6-2.8z"/>
<path class="k0" d="M1452.1 1092.4l11.5 0.1-12.2-9.3-11.6-0.1z"/>
<path class="k11" d="M597 750l11.6 9.8-12.3-11.2-11.5-10z"/>
<path class="k14" d="M514.7 671.9l11.6 11.6-12.3-12.1-11.6-11.9z"/>
<path class="k2" d="M1206.5 1045.3l11.6 1.1-12.3-9.4-11.5-1.1zM1148 1030.6l11.6 1.4-12.3-9.4-11.5-1.5z"/>
<path class="k1" d="M1265 1058.6l11.6 0.8-12.3-9.3-11.5-0.8z"/>
<path class="k5" d="M925.6 956l11.6 3.5-12.3-9.8-11.6-3.5z"/>
<path class="k8" d="M726.3 849.8l11.6 6.8-12.3-10.4-11.6-6.8z"/>
<path class="k3" d="M1089.6 1014.3l11.5 1.8-12.3-9.5-11.5-1.8z"/>
<path class="k7" d="M773.2 879.4l11.6 5.9-12.3-10.2-11.5-5.9z"/>
<path class="k1" d="M1323.5 1070.8l11.6 0.5-12.3-9.3-11.5-0.5z"/>
<path class="k9" d="M679.4 816.9l11.5 7.8-12.3-10.6-11.5-7.9z"/>
<path class="k3" d="M1031.1 996l11.5 2.4-12.3-9.6-11.5-2.3z"/>
<path class="k6" d="M820.2 906.2l11.5 5-12.2-10-11.6-5.1z"/>
<path class="k0" d="M1382 1082l11.6 0.3-12.3-9.3-11.5-0.3z"/>
<path class="k13" d="M550.1 706.8l11.6 10.9-12.3-11.7-11.6-11.1z"/>
<path class="k17" d="M432.4 585.6l11.5 12.1-12.2-13.5-11.6-12.4z"/>
<path class="k0" d="M1440.5 1092.3l11.6 0.1-12.3-9.3-11.5-0.1z"/>
<path class="k10" d="M632.4 780.3l11.6 9-12.3-10.9-11.5-9.1z"/>
<path class="k4" d="M972.6 975.6l11.5 2.9-12.3-9.6-11.5-3z"/>
<path class="k5" d="M867.1 930.4l11.6 4.2-12.3-9.8-11.5-4.3z"/>
<path class="k16" d="M467.8 623.3l11.5 12.1-12.2-12.9-11.6-12.4z"/>
<path class="k2" d="M1195 1044.1l11.5 1.2-12.2-9.4-11.6-1.2zM1136.5 1029l11.5 1.6-12.2-9.5-11.6-1.5z"/>
<path class="k1" d="M1253.5 1057.7l11.5 0.9-12.2-9.3-11.6-0.9zM1312 1070.2l11.5 0.6-12.2-9.3-11.6-0.7z"/>
<path class="k3" d="M1078 1012.3l11.6 2-12.3-9.5-11.6-2z"/>
<path class="k5" d="M914.1 952.4l11.5 3.6-12.3-9.8-11.5-3.6z"/>
<path class="k12" d="M585.5 739.9l11.5 10.1-12.2-11.4-11.6-10.2z"/>
<path class="k0" d="M1370.5 1081.6l11.5 0.4-12.2-9.3-11.6-0.4z"/>
<path class="k3" d="M1019.5 993.6l11.6 2.4-12.3-9.5-11.6-2.5z"/>
<path class="k7" d="M761.7 873.3l11.5 6.1-12.2-10.2-11.6-6.1z"/>
<path class="k8" d="M714.7 842.7l11.6 7.1-12.3-10.4-11.5-7.2z"/>
<path class="k14" d="M503.2 660.1l11.5 11.8-12.3-12.4-11.5-12z"/>
<path class="k0" d="M1429 1092.1l11.5 0.2-12.2-9.3-11.6-0.2z"/>
<path class="k6" d="M808.6 900.9l11.6 5.3-12.3-10.1-11.5-5.3z"/>
<path class="k9" d="M667.8 808.7l11.6 8.2-12.3-10.7-11.6-8.3z"/>
<path class="k4" d="M961 972.5l11.6 3.1-12.3-9.7-11.6-3.1z"/>
<path class="k6" d="M855.6 925.9l11.5 4.5-12.2-9.9-11.6-4.6z"/>
<path class="k2" d="M1183.4 1042.8l11.6 1.3-12.3-9.4-11.5-1.3z"/>
<path class="k1" d="M1241.9 1056.8l11.6 0.9-12.3-9.3-11.5-1z"/>
<path class="k2" d="M1124.9 1027.4l11.6 1.6-12.3-9.4-11.5-1.7z"/>
<path class="k13" d="M538.5 695.7l11.6 11.1-12.3-11.9-11.5-11.4z"/>
<path class="k11" d="M620.9 771l11.5 9.3-12.2-11-11.6-9.5z"/>
<path class="k1" d="M1300.4 1069.5l11.6 0.7-12.3-9.4-11.5-0.6z"/>
<path class="k17" d="M420.8 573.9l11.6 11.7-12.3-13.8-11.5-12.1z"/>
<path class="k3" d="M1066.4 1010.2l11.6 2.1-12.3-9.5-11.5-2.2z"/>
<path class="k1" d="M1358.9 1081.1l11.6 0.5-12.3-9.3-11.5-0.5z"/>
<path class="k5" d="M902.5 948.5l11.6 3.9-12.3-9.8-11.6-3.9z"/>
<path class="k0" d="M1417.4 1091.9l11.6 0.2-12.3-9.3-11.6-0.2z"/>
<path class="k4" d="M1007.9 990.9l11.6 2.7-12.3-9.6-11.5-2.7z"/>
<path class="k16" d="M456.2 611.2l11.6 12.1-12.3-13.2-11.6-12.4z"/>
<path class="k8" d="M750.1 866.9l11.6 6.4-12.3-10.2-11.5-6.5z"/>
<path class="k0" d="M1475.9 1101.8l11.6 0-12.3-9.3-11.6 0z"/>
<path class="k12" d="M573.9 729.5l11.6 10.4-12.3-11.5-11.5-10.7z"/>
<path class="k9" d="M703.2 835.3l11.5 7.4-12.2-10.5-11.6-7.5z"/>
<path class="k7" d="M797.1 895.4l11.5 5.5-12.2-10.1-11.6-5.5z"/>
<path class="k4" d="M949.4 969.2l11.6 3.3-12.3-9.7-11.5-3.3z"/>
<path class="k2" d="M1171.9 1041.5l11.5 1.3-12.2-9.4-11.6-1.4z"/>
<path class="k1" d="M1230.4 1055.8l11.5 1-12.2-9.4-11.6-1z"/>
<path class="k2" d="M1113.4 1025.6l11.5 1.8-12.2-9.5-11.6-1.8z"/>
<path class="k1" d="M1288.9 1068.8l11.5 0.7-12.2-9.3-11.6-0.8z"/>
<path class="k15" d="M491.6 648.3l11.6 11.8-12.3-12.6-11.6-12.1z"/>
<path class="k10" d="M656.2 800.3l11.6 8.4-12.3-10.8-11.5-8.6z"/>
<path class="k6" d="M844 921.2l11.6 4.7-12.3-10-11.6-4.7z"/>
<path class="k1" d="M1347.4 1080.7l11.5 0.4-12.2-9.3-11.6-0.5z"/>
<path class="k3" d="M1054.9 1008l11.5 2.2-12.2-9.6-11.6-2.2z"/>
<path class="k0" d="M1405.9 1091.6l11.5 0.3-12.3-9.3-11.5-0.3z"/>
<path class="k5" d="M891 944.5l11.5 4-12.3-9.8-11.5-4.1z"/>
<path class="k4" d="M996.4 988.2l11.5 2.7-12.2-9.6-11.6-2.8z"/>
<path class="k11" d="M609.3 761.4l11.6 9.6-12.3-11.2-11.6-9.8z"/>
<path class="k14" d="M527 684.3l11.5 11.4-12.2-12.2-11.6-11.6z"/>
<path class="k0" d="M1464.4 1101.7l11.5 0.1-12.3-9.3-11.5-0.1z"/>
<path class="k18" d="M409.3 562.6l11.5 11.3-12.2-14.2-11.6-11.5z"/>
<path class="k2" d="M1218.8 1054.7l11.6 1.1-12.3-9.4-11.6-1.1zM1160.3 1040l11.6 1.5-12.3-9.5-11.6-1.4z"/>
<path class="k4" d="M937.9 965.8l11.5 3.4-12.2-9.7-11.6-3.5z"/>
<path class="k1" d="M1277.3 1068l11.6 0.8-12.3-9.4-11.6-0.8z"/>
<path class="k8" d="M738.6 860.3l11.5 6.6-12.2-10.3-11.6-6.8z"/>
<path class="k7" d="M785.5 889.7l11.6 5.7-12.3-10.1-11.6-5.9z"/>
<path class="k3" d="M1101.8 1023.8l11.6 1.8-12.3-9.5-11.5-1.8z"/>
<path class="k1" d="M1335.8 1080.1l11.6 0.6-12.3-9.4-11.6-0.5z"/>
<path class="k9" d="M691.6 827.6l11.6 7.7-12.3-10.6-11.5-7.8z"/>
<path class="k17" d="M444.7 599.4l11.5 11.8-12.3-13.5-11.5-12.1z"/>
<path class="k6" d="M832.5 916.2l11.5 5-12.3-10-11.5-5z"/>
<path class="k13" d="M562.4 718.8l11.5 10.7-12.2-11.8-11.6-10.9z"/>
<path class="k3" d="M1043.3 1005.6l11.6 2.4-12.3-9.6-11.5-2.4z"/>
<path class="k0" d="M1394.3 1091.3l11.6 0.3-12.3-9.3-11.6-0.3z"/>
<path class="k10" d="M644.7 791.4l11.5 8.9-12.2-11-11.6-9z"/>
<path class="k0" d="M1452.8 1101.5l11.6 0.2-12.3-9.3-11.6-0.1z"/>
<path class="k4" d="M984.8 985.2l11.6 3-12.3-9.7-11.5-2.9z"/>
<path class="k5" d="M879.4 940.3l11.6 4.2-12.3-9.9-11.6-4.2z"/>
<path class="k15" d="M480 636.5l11.6 11.8-12.3-12.9-11.5-12.1z"/>
<path class="k2" d="M1207.3 1053.5l11.5 1.2-12.3-9.4-11.5-1.2zM1148.8 1038.5l11.5 1.5-12.3-9.4-11.5-1.6z"/>
<path class="k1" d="M1265.8 1067.1l11.5 0.9-12.3-9.4-11.5-0.9z"/>
<path class="k12" d="M597.8 751.5l11.5 9.9-12.3-11.4-11.5-10.1z"/>
<path class="k1" d="M1324.3 1079.5l11.5 0.6-12.3-9.3-11.5-0.6z"/>
<path class="k3" d="M1090.3 1021.8l11.5 2-12.2-9.5-11.6-2z"/>
<path class="k5" d="M926.3 962.2l11.6 3.6-12.3-9.8-11.5-3.6z"/>
<path class="k14" d="M515.4 672.8l11.6 11.5-12.3-12.4-11.5-11.8z"/>
<path class="k0" d="M1382.8 1090.9l11.5 0.4-12.3-9.3-11.5-0.4z"/>
<path class="k18" d="M397.7 552.1l11.6 10.5-12.3-14.4-11.5-10.9z"/>
<path class="k7" d="M774 883.6l11.5 6.1-12.3-10.3-11.5-6.1z"/>
<path class="k8" d="M727 853.3l11.6 7-12.3-10.5-11.6-7.1z"/>
<path class="k3" d="M1031.8 1003.2l11.5 2.4-12.2-9.6-11.6-2.4z"/>
<path class="k0" d="M1441.2 1101.4l11.6 0.1-12.3-9.2-11.5-0.2z"/>
<path class="k6" d="M820.9 911l11.6 5.2-12.3-10-11.6-5.3z"/>
<path class="k9" d="M680.1 819.6l11.5 8-12.2-10.7-11.6-8.2z"/>
<path class="k4" d="M973.3 982.2l11.5 3-12.2-9.6-11.6-3.1z"/>
<path class="k17" d="M433.1 588l11.6 11.4-12.3-13.8-11.6-11.7z"/>
<path class="k6" d="M867.8 935.8l11.6 4.5-12.3-9.9-11.5-4.5z"/>
<path class="k13" d="M550.8 707.8l11.6 11-12.3-12-11.6-11.1z"/>
<path class="k2" d="M1195.7 1052.2l11.6 1.3-12.3-9.4-11.6-1.3z"/>
<path class="k11" d="M633.1 782.3l11.6 9.1-12.3-11.1-11.5-9.3z"/>
<path class="k1" d="M1254.2 1066.2l11.6 0.9-12.3-9.4-11.6-0.9z"/>
<path class="k2" d="M1137.2 1036.9l11.6 1.6-12.3-9.5-11.6-1.6z"/>
<path class="k1" d="M1312.7 1078.9l11.6 0.6-12.3-9.3-11.6-0.7z"/>
<path class="k3" d="M1078.7 1019.7l11.6 2.1-12.3-9.5-11.6-2.1z"/>
<path class="k1" d="M1371.2 1090.5l11.6 0.4-12.3-9.3-11.6-0.5z"/>
<path class="k5" d="M914.8 958.4l11.5 3.8-12.2-9.8-11.6-3.9z"/>
<path class="k16" d="M468.5 624.7l11.5 11.8-12.2-13.2-11.6-12.1z"/>
<path class="k4" d="M1020.2 1000.6l11.6 2.6-12.3-9.6-11.6-2.7z"/>
<path class="k0" d="M1429.7 1101.1l11.5 0.3-12.2-9.3-11.6-0.2z"/>
<path class="k12" d="M586.2 741.2l11.6 10.3-12.3-11.6-11.6-10.4z"/>
<path class="k8" d="M762.4 877.3l11.6 6.3-12.3-10.3-11.6-6.4z"/>
<path class="k9" d="M715.5 846l11.5 7.3-12.3-10.6-11.5-7.4z"/>
<path class="k0" d="M1488.2 1111l11.5 0.1-12.2-9.3-11.6 0z"/>
<path class="k7" d="M809.3 905.6l11.6 5.4-12.3-10.1-11.5-5.5z"/>
<path class="k19" d="M386.2 542.4l11.5 9.7-12.2-14.8-11.6-10z"/>
<path class="k15" d="M503.9 661.2l11.5 11.6-12.2-12.7-11.6-11.8z"/>
<path class="k4" d="M961.7 978.9l11.6 3.3-12.3-9.7-11.6-3.3z"/>
<path class="k2" d="M1184.1 1050.9l11.6 1.3-12.3-9.4-11.5-1.3z"/>
<path class="k1" d="M1242.6 1065.2l11.6 1-12.3-9.4-11.5-1z"/>
<path class="k10" d="M668.5 811.2l11.6 8.4-12.3-10.9-11.6-8.4z"/>
<path class="k2" d="M1125.7 1035.1l11.5 1.8-12.3-9.5-11.5-1.8z"/>
<path class="k6" d="M856.3 931.2l11.5 4.6-12.2-9.9-11.6-4.7z"/>
<path class="k1" d="M1301.1 1078.1l11.6 0.8-12.3-9.4-11.5-0.7zM1359.6 1090l11.6 0.5-12.3-9.4-11.5-0.4z"/>
<path class="k3" d="M1067.2 1017.5l11.5 2.2-12.3-9.5-11.5-2.2z"/>
<path class="k0" d="M1418.1 1100.9l11.6 0.2-12.3-9.2-11.5-0.3z"/>
<path class="k18" d="M421.5 577.1l11.6 10.9-12.3-14.1-11.5-11.3z"/>
<path class="k11" d="M621.6 772.8l11.5 9.5-12.2-11.3-11.6-9.6z"/>
<path class="k14" d="M539.3 696.7l11.5 11.1-12.3-12.1-11.5-11.4z"/>
<path class="k5" d="M903.2 954.4l11.6 4-12.3-9.9-11.5-4z"/>
<path class="k4" d="M1008.7 997.8l11.5 2.8-12.3-9.7-11.5-2.7z"/>
<path class="k0" d="M1476.6 1110.9l11.6 0.1-12.3-9.2-11.5-0.1z"/>
<path class="k16" d="M456.9 613.2l11.6 11.5-12.3-13.5-11.5-11.8z"/>
<path class="k2" d="M1231.1 1064.1l11.5 1.1-12.2-9.4-11.6-1.1z"/>
<path class="k8" d="M750.8 870.7l11.6 6.6-12.3-10.4-11.5-6.6z"/>
<path class="k2" d="M1172.6 1049.5l11.5 1.4-12.2-9.4-11.6-1.5z"/>
<path class="k4" d="M950.2 975.5l11.5 3.4-12.3-9.7-11.5-3.4z"/>
<path class="k1" d="M1289.6 1077.3l11.5 0.8-12.2-9.3-11.6-0.8z"/>
<path class="k7" d="M797.8 899.9l11.5 5.7-12.2-10.2-11.6-5.7z"/>
<path class="k3" d="M1114.1 1033.3l11.6 1.8-12.3-9.5-11.6-1.8z"/>
<path class="k9" d="M703.9 838.4l11.6 7.6-12.3-10.7-11.6-7.7z"/>
<path class="k12" d="M574.6 730.8l11.6 10.4-12.3-11.7-11.5-10.7z"/>
<path class="k1" d="M1348.1 1089.5l11.5 0.5-12.2-9.3-11.6-0.6z"/>
<path class="k6" d="M844.7 926.3l11.6 4.9-12.3-10-11.5-5z"/>
<path class="k3" d="M1055.6 1015.2l11.6 2.3-12.3-9.5-11.6-2.4z"/>
<path class="k19" d="M374.6 533.8l11.6 8.6-12.3-15.1-11.6-8.9z"/>
<path class="k0" d="M1406.6 1100.6l11.5 0.3-12.2-9.3-11.6-0.3z"/>
<path class="k10" d="M657 802.6l11.5 8.6-12.3-10.9-11.5-8.9z"/>
<path class="k15" d="M492.3 649.7l11.6 11.5-12.3-12.9-11.6-11.8z"/>
<path class="k0" d="M1465.1 1110.8l11.5 0.1-12.2-9.2-11.6-0.2z"/>
<path class="k4" d="M997.1 994.9l11.6 2.9-12.3-9.6-11.6-3z"/>
<path class="k5" d="M891.7 950.2l11.5 4.2-12.2-9.9-11.6-4.2z"/>
<path class="k11" d="M610 763.1l11.6 9.7-12.3-11.4-11.5-9.9z"/>
<path class="k2" d="M1219.5 1062.9l11.6 1.2-12.3-9.4-11.5-1.2zM1161 1048l11.6 1.5-12.3-9.5-11.5-1.5z"/>
<path class="k18" d="M410 566.9l11.5 10.2-12.2-14.5-11.6-10.5z"/>
<path class="k1" d="M1278 1076.5l11.6 0.8-12.3-9.3-11.5-0.9z"/>
<path class="k14" d="M527.7 685.5l11.6 11.2-12.3-12.4-11.6-11.5z"/>
<path class="k3" d="M1102.5 1031.3l11.6 2-12.3-9.5-11.5-2z"/>
<path class="k1" d="M1336.5 1088.9l11.6 0.6-12.3-9.4-11.5-0.6z"/>
<path class="k5" d="M938.6 972l11.6 3.5-12.3-9.7-11.6-3.6z"/>
<path class="k8" d="M739.3 863.8l11.5 6.9-12.2-10.4-11.6-7z"/>
<path class="k0" d="M1395 1100.2l11.6 0.4-12.3-9.3-11.5-0.4z"/>
<path class="k7" d="M786.2 893.9l11.6 6-12.3-10.2-11.5-6.1z"/>
<path class="k3" d="M1044 1012.8l11.6 2.4-12.3-9.6-11.5-2.4z"/>
<path class="k9" d="M692.3 830.5l11.6 7.9-12.3-10.8-11.5-8z"/>
<path class="k6" d="M833.2 921.1l11.5 5.2-12.2-10.1-11.6-5.2z"/>
<path class="k0" d="M1453.5 1110.7l11.6 0.1-12.3-9.3-11.6-0.1z"/>
<path class="k17" d="M445.4 602.1l11.5 11.1-12.2-13.8-11.6-11.4z"/>
<path class="k13" d="M563.1 720l11.5 10.8-12.2-12-11.6-11z"/>
<path class="k19" d="M363.1 526.4l11.5 7.4-12.3-15.4-11.5-7.6z"/>
<path class="k4" d="M985.5 991.9l11.6 3-12.3-9.7-11.5-3z"/>
<path class="k6" d="M880.1 945.8l11.6 4.4-12.3-9.9-11.6-4.5z"/>
<path class="k11" d="M645.4 793.6l11.6 9-12.3-11.2-11.6-9.1z"/>
<path class="k2" d="M1208 1061.7l11.5 1.2-12.2-9.4-11.6-1.3z"/>
<path class="k1" d="M1266.5 1075.6l11.5 0.9-12.2-9.4-11.6-0.9z"/>
<path class="k2" d="M1149.5 1046.3l11.5 1.7-12.2-9.5-11.6-1.6z"/>
<path class="k1" d="M1325 1088.2l11.5 0.7-12.2-9.4-11.6-0.6z"/>
<path class="k16" d="M480.8 638.2l11.5 11.5-12.3-13.2-11.5-11.8z"/>
<path class="k3" d="M1091 1029.3l11.5 2-12.2-9.5-11.6-2.1z"/>
<path class="k1" d="M1383.5 1099.8l11.5 0.4-12.2-9.3-11.6-0.4z"/>
<path class="k5" d="M927 968.2l11.6 3.8-12.3-9.8-11.5-3.8z"/>
<path class="k4" d="M1032.5 1010.2l11.5 2.6-12.2-9.6-11.6-2.6z"/>
<path class="k0" d="M1442 1110.4l11.5 0.3-12.3-9.3-11.5-0.3z"/>
<path class="k12" d="M598.5 753l11.5 10.1-12.2-11.6-11.6-10.3z"/>
<path class="k18" d="M398.4 557.5l11.6 9.4-12.3-14.8-11.5-9.7z"/>
<path class="k8" d="M774.7 887.7l11.5 6.2-12.2-10.3-11.6-6.3z"/>
<path class="k9" d="M727.7 856.6l11.6 7.2-12.3-10.5-11.5-7.3z"/>
<path class="k15" d="M516.1 674.2l11.6 11.3-12.3-12.7-11.5-11.6z"/>
<path class="k7" d="M821.6 915.8l11.6 5.3-12.3-10.1-11.6-5.4z"/>
<path class="k0" d="M1500.5 1120.3l11.5 0-12.3-9.2-11.5-0.1z"/>
<path class="k4" d="M974 988.7l11.5 3.2-12.2-9.7-11.6-3.3z"/>
<path class="k10" d="M680.8 822.2l11.5 8.3-12.2-10.9-11.6-8.4z"/>
<path class="k2" d="M1196.4 1060.4l11.6 1.3-12.3-9.5-11.6-1.3z"/>
<path class="k1" d="M1254.9 1074.6l11.6 1-12.3-9.4-11.6-1z"/>
<path class="k6" d="M868.6 941.2l11.5 4.6-12.3-10-11.5-4.6z"/>
<path class="k2" d="M1137.9 1044.6l11.6 1.7-12.3-9.4-11.5-1.8z"/>
<path class="k20" d="M351.5 520.4l11.6 6-12.3-15.6-11.6-6.2z"/>
<path class="k1" d="M1313.4 1087.5l11.6 0.7-12.3-9.3-11.6-0.8z"/>
<path class="k17" d="M433.8 591.5l11.6 10.6-12.3-14.1-11.6-10.9z"/>
<path class="k1" d="M1371.9 1099.3l11.6 0.5-12.3-9.3-11.6-0.5z"/>
<path class="k3" d="M1079.4 1027.1l11.6 2.2-12.3-9.6-11.5-2.2z"/>
<path class="k13" d="M551.5 709.2l11.6 10.8-12.3-12.2-11.5-11.1z"/>
<path class="k11" d="M633.9 784.3l11.5 9.3-12.3-11.3-11.5-9.5z"/>
<path class="k0" d="M1430.4 1110.2l11.6 0.2-12.3-9.3-11.6-0.2z"/>
<path class="k5" d="M915.5 964.3l11.5 3.9-12.2-9.8-11.6-4z"/>
<path class="k4" d="M1020.9 1007.5l11.6 2.7-12.3-9.6-11.5-2.8z"/>
<path class="k0" d="M1488.9 1120.2l11.6 0.1-12.3-9.3-11.6-0.1z"/>
<path class="k16" d="M469.2 627.1l11.6 11.1-12.3-13.5-11.6-11.5z"/>
<path class="k8" d="M763.1 881.2l11.6 6.5-12.3-10.4-11.6-6.6z"/>
<path class="k2" d="M1243.4 1073.5l11.5 1.1-12.3-9.4-11.5-1.1z"/>
<path class="k19" d="M386.9 549.1l11.5 8.4-12.2-15.1-11.6-8.6z"/>
<path class="k2" d="M1184.9 1058.9l11.5 1.5-12.3-9.5-11.5-1.4z"/>
<path class="k4" d="M962.4 985.3l11.6 3.4-12.3-9.8-11.5-3.4z"/>
<path class="k7" d="M810.1 910.2l11.5 5.6-12.3-10.2-11.5-5.7z"/>
<path class="k9" d="M716.2 849.2l11.5 7.4-12.2-10.6-11.6-7.6z"/>
<path class="k12" d="M586.9 742.8l11.6 10.2-12.3-11.8-11.6-10.4z"/>
<path class="k1" d="M1301.9 1086.7l11.5 0.8-12.3-9.4-11.5-0.8z"/>
<path class="k3" d="M1126.4 1042.8l11.5 1.8-12.2-9.5-11.6-1.8z"/>
<path class="k1" d="M1360.4 1098.8l11.5 0.5-12.3-9.3-11.5-0.5z"/>
<path class="k6" d="M857 936.3l11.6 4.9-12.3-10-11.6-4.9z"/>
<path class="k15" d="M504.6 662.9l11.5 11.3-12.2-13-11.6-11.5z"/>
<path class="k3" d="M1067.9 1024.8l11.5 2.3-12.2-9.6-11.6-2.3z"/>
<path class="k20" d="M339.9 516l11.6 4.4-12.3-15.8-11.5-4.7z"/>
<path class="k10" d="M669.2 813.7l11.6 8.5-12.3-11-11.5-8.6z"/>
<path class="k0" d="M1418.8 1109.9l11.6 0.3-12.3-9.3-11.5-0.3zM1477.3 1120.1l11.6 0.1-12.3-9.3-11.5-0.1z"/>
<path class="k5" d="M903.9 960.1l11.6 4.2-12.3-9.9-11.5-4.2z"/>
<path class="k4" d="M1009.4 1004.6l11.5 2.9-12.2-9.7-11.6-2.9z"/>
<path class="k18" d="M422.3 581.6l11.5 9.9-12.3-14.4-11.5-10.2z"/>
<path class="k11" d="M622.3 774.7l11.6 9.6-12.3-11.5-11.6-9.7z"/>
<path class="k14" d="M540 698.2l11.5 11-12.2-12.5-11.6-11.2z"/>
<path class="k2" d="M1231.8 1072.3l11.6 1.2-12.3-9.4-11.6-1.2zM1173.3 1057.4l11.6 1.5-12.3-9.4-11.6-1.5z"/>
<path class="k1" d="M1290.3 1085.9l11.6 0.8-12.3-9.4-11.6-0.8z"/>
<path class="k5" d="M950.9 981.8l11.5 3.5-12.2-9.8-11.6-3.5z"/>
<path class="k3" d="M1114.8 1040.9l11.6 1.9-12.3-9.5-11.6-2z"/>
<path class="k1" d="M1348.8 1098.2l11.6 0.6-12.3-9.3-11.6-0.6z"/>
<path class="k8" d="M751.6 874.4l11.5 6.8-12.3-10.5-11.5-6.9z"/>
<path class="k7" d="M798.5 904.3l11.6 5.9-12.3-10.3-11.6-6z"/>
<path class="k17" d="M457.6 616.2l11.6 10.9-12.3-13.9-11.5-11.1z"/>
<path class="k0" d="M1407.3 1109.5l11.5 0.4-12.2-9.3-11.6-0.4z"/>
<path class="k3" d="M1056.3 1022.4l11.6 2.4-12.3-9.6-11.6-2.4z"/>
<path class="k19" d="M375.3 542l11.6 7.1-12.3-15.3-11.5-7.4z"/>
<path class="k9" d="M704.6 841.4l11.6 7.8-12.3-10.8-11.6-7.9z"/>
<path class="k20" d="M328.4 513.3l11.5 2.7-12.2-16.1-11.6-2.8z"/>
<path class="k6" d="M845.4 931.3l11.6 5-12.3-10-11.5-5.2z"/>
<path class="k0" d="M1465.8 1119.9l11.5 0.2-12.2-9.3-11.6-0.1z"/>
<path class="k13" d="M575.4 732.3l11.5 10.5-12.3-12-11.5-10.8z"/>
<path class="k4" d="M997.8 1001.6l11.6 3-12.3-9.7-11.6-3z"/>
<path class="k10" d="M657.7 804.9l11.5 8.8-12.2-11.1-11.6-9z"/>
<path class="k6" d="M892.4 955.8l11.5 4.3-12.2-9.9-11.6-4.4z"/>
<path class="k16" d="M493 651.8l11.6 11.1-12.3-13.2-11.5-11.5z"/>
<path class="k2" d="M1220.2 1071.1l11.6 1.2-12.3-9.4-11.5-1.2z"/>
<path class="k1" d="M1278.7 1085l11.6 0.9-12.3-9.4-11.5-0.9z"/>
<path class="k2" d="M1161.8 1055.8l11.5 1.6-12.3-9.4-11.5-1.7z"/>
<path class="k1" d="M1337.2 1097.6l11.6 0.6-12.3-9.3-11.5-0.7z"/>
<path class="k3" d="M1103.3 1038.9l11.5 2-12.3-9.6-11.5-2z"/>
<path class="k18" d="M410.7 572.5l11.6 9.1-12.3-14.7-11.6-9.4z"/>
<path class="k5" d="M939.3 978.1l11.6 3.7-12.3-9.8-11.6-3.8z"/>
<path class="k1" d="M1395.7 1109.1l11.6 0.4-12.3-9.3-11.5-0.4z"/>
<path class="k12" d="M610.7 764.8l11.6 9.9-12.3-11.6-11.5-10.1z"/>
<path class="k3" d="M1044.8 1019.9l11.5 2.5-12.3-9.6-11.5-2.6z"/>
<path class="k14" d="M528.4 687.1l11.6 11.1-12.3-12.7-11.6-11.3z"/>
<path class="k0" d="M1454.2 1119.7l11.6 0.2-12.3-9.2-11.5-0.3z"/>
<path class="k20" d="M316.8 512.3l11.6 1-12.3-16.2-11.5-1.1z"/>
<path class="k7" d="M786.9 898.1l11.6 6.2-12.3-10.4-11.5-6.2z"/>
<path class="k8" d="M740 867.3l11.6 7.1-12.3-10.6-11.6-7.2z"/>
<path class="k20" d="M363.8 536.2l11.5 5.8-12.2-15.6-11.6-6z"/>
<path class="k7" d="M833.9 926l11.5 5.3-12.2-10.2-11.6-5.3z"/>
<path class="k0" d="M1512.7 1129.6l11.6 0-12.3-9.3-11.5 0z"/>
<path class="k10" d="M693.1 833.3l11.5 8.1-12.3-10.9-11.5-8.3z"/>
<path class="k4" d="M986.3 998.4l11.5 3.2-12.3-9.7-11.5-3.2z"/>
<path class="k17" d="M446.1 606l11.5 10.2-12.2-14.1-11.6-10.6z"/>
<path class="k2" d="M1208.7 1069.8l11.5 1.3-12.2-9.4-11.6-1.3z"/>
<path class="k1" d="M1267.2 1084l11.5 1-12.2-9.4-11.6-1z"/>
<path class="k6" d="M880.8 951.2l11.6 4.6-12.3-10-11.5-4.6z"/>
<path class="k2" d="M1150.2 1054.1l11.6 1.7-12.3-9.5-11.6-1.7z"/>
<path class="k1" d="M1325.7 1096.9l11.5 0.7-12.2-9.4-11.6-0.7z"/>
<path class="k13" d="M563.8 721.6l11.6 10.7-12.3-12.3-11.6-10.8z"/>
<path class="k3" d="M1091.7 1036.7l11.6 2.2-12.3-9.6-11.6-2.2z"/>
<path class="k1" d="M1384.2 1108.6l11.5 0.5-12.2-9.3-11.6-0.5z"/>
<path class="k11" d="M646.1 795.7l11.6 9.2-12.3-11.3-11.5-9.3z"/>
<path class="k5" d="M927.8 974.2l11.5 3.9-12.3-9.9-11.5-3.9z"/>
<path class="k0" d="M1442.7 1119.5l11.5 0.2-12.2-9.3-11.6-0.2z"/>
<path class="k16" d="M481.5 640.9l11.5 10.9-12.2-13.6-11.6-11.1z"/>
<path class="k4" d="M1033.2 1017.2l11.6 2.7-12.3-9.7-11.6-2.7z"/>
<path class="k19" d="M399.2 564.5l11.5 8-12.3-15-11.5-8.4z"/>
<path class="k0" d="M1501.2 1129.5l11.5 0.1-12.2-9.3-11.6-0.1z"/>
<path class="k8" d="M775.4 891.7l11.5 6.4-12.2-10.4-11.6-6.5z"/>
<path class="k12" d="M599.2 754.8l11.5 10-12.2-11.8-11.6-10.2z"/>
<path class="k20" d="M352.2 532l11.6 4.2-12.3-15.8-11.6-4.4z"/>
<path class="k9" d="M728.4 859.9l11.6 7.4-12.3-10.7-11.5-7.4z"/>
<path class="k7" d="M822.3 920.4l11.6 5.6-12.3-10.2-11.5-5.6z"/>
<path class="k4" d="M974.7 995.1l11.6 3.3-12.3-9.7-11.6-3.4z"/>
<path class="k2" d="M1255.6 1082.9l11.6 1.1-12.3-9.4-11.5-1.1zM1197.1 1068.4l11.6 1.4-12.3-9.4-11.5-1.5z"/>
<path class="k1" d="M1314.1 1096.1l11.6 0.8-12.3-9.4-11.5-0.8z"/>
<path class="k15" d="M516.9 676.1l11.5 11-12.3-12.9-11.5-11.3z"/>
<path class="k3" d="M1138.6 1052.3l11.6 1.8-12.3-9.5-11.5-1.8z"/>
<path class="k1" d="M1372.6 1108.1l11.6 0.5-12.3-9.3-11.5-0.5z"/>
<path class="k6" d="M869.3 946.4l11.5 4.8-12.2-10-11.6-4.9z"/>
<path class="k10" d="M681.5 824.9l11.6 8.4-12.3-11.1-11.6-8.5z"/>
<path class="k3" d="M1080.1 1034.4l11.6 2.3-12.3-9.6-11.5-2.3z"/>
<path class="k0" d="M1431.1 1119.2l11.6 0.3-12.3-9.3-11.6-0.3z"/>
<path class="k18" d="M434.5 596.3l11.6 9.7-12.3-14.5-11.5-9.9z"/>
<path class="k5" d="M916.2 970.1l11.6 4.1-12.3-9.9-11.6-4.2z"/>
<path class="k4" d="M1021.6 1014.3l11.6 2.9-12.3-9.7-11.5-2.9z"/>
<path class="k0" d="M1489.6 1129.4l11.6 0.1-12.3-9.3-11.6-0.1z"/>
<path class="k14" d="M552.2 710.9l11.6 10.7-12.3-12.4-11.5-11z"/>
<path class="k11" d="M634.6 786.3l11.5 9.4-12.2-11.4-11.6-9.6z"/>
<path class="k2" d="M1244.1 1081.8l11.5 1.1-12.2-9.4-11.6-1.2zM1185.6 1066.9l11.5 1.5-12.2-9.5-11.6-1.5z"/>
<path class="k19" d="M387.6 557.6l11.6 6.9-12.3-15.4-11.6-7.1z"/>
<path class="k1" d="M1302.6 1095.3l11.5 0.8-12.2-9.4-11.6-0.8z"/>
<path class="k17" d="M469.9 630.4l11.6 10.5-12.3-13.8-11.6-10.9z"/>
<path class="k20" d="M340.7 529.4l11.5 2.6-12.3-16-11.5-2.7z"/>
<path class="k5" d="M963.1 991.6l11.6 3.5-12.3-9.8-11.5-3.5z"/>
<path class="k3" d="M1127.1 1050.4l11.5 1.9-12.2-9.5-11.6-1.9z"/>
<path class="k1" d="M1361.1 1107.6l11.5 0.5-12.2-9.3-11.6-0.6z"/>
<path class="k8" d="M763.8 885l11.6 6.7-12.3-10.5-11.5-6.8z"/>
<path class="k7" d="M810.8 914.6l11.5 5.8-12.2-10.2-11.6-5.9z"/>
<path class="k9" d="M716.9 852.3l11.5 7.6-12.2-10.7-11.6-7.8z"/>
<path class="k0" d="M1419.6 1118.8l11.5 0.4-12.3-9.3-11.5-0.4z"/>
<path class="k3" d="M1068.6 1032l11.5 2.4-12.2-9.6-11.6-2.4z"/>
<path class="k13" d="M587.6 744.5l11.6 10.3-12.3-12-11.5-10.5z"/>
<path class="k6" d="M857.7 941.4l11.6 5-12.3-10.1-11.6-5z"/>
<path class="k0" d="M1478.1 1129.2l11.5 0.2-12.3-9.3-11.5-0.2z"/>
<path class="k15" d="M505.3 665.3l11.6 10.8-12.3-13.2-11.6-11.1z"/>
<path class="k10" d="M670 816.2l11.5 8.7-12.3-11.2-11.5-8.8z"/>
<path class="k4" d="M1010.1 1011.4l11.5 2.9-12.2-9.7-11.6-3z"/>
<path class="k5" d="M904.7 965.8l11.5 4.3-12.3-10-11.5-4.3z"/>
<path class="k18" d="M423 587.5l11.5 8.8-12.2-14.7-11.6-9.1z"/>
<path class="k2" d="M1232.5 1080.6l11.6 1.2-12.3-9.5-11.6-1.2z"/>
<path class="k1" d="M1291 1094.4l11.6 0.9-12.3-9.4-11.6-0.9z"/>
<path class="k2" d="M1174 1065.3l11.6 1.6-12.3-9.5-11.5-1.6z"/>
<path class="k20" d="M329.1 528.5l11.6 0.9-12.3-16.1-11.6-1z"/>
<path class="k1" d="M1349.5 1106.9l11.6 0.7-12.3-9.4-11.6-0.6z"/>
<path class="k3" d="M1115.5 1048.4l11.6 2-12.3-9.5-11.5-2z"/>
<path class="k12" d="M623 776.7l11.6 9.6-12.3-11.6-11.6-9.9z"/>
<path class="k5" d="M951.6 987.9l11.5 3.7-12.2-9.8-11.6-3.7z"/>
<path class="k14" d="M540.7 700.1l11.5 10.8-12.2-12.7-11.6-11.1z"/>
<path class="k1" d="M1408 1118.4l11.6 0.4-12.3-9.3-11.6-0.4z"/>
<path class="k19" d="M376 552l11.6 5.6-12.3-15.6-11.5-5.8z"/>
<path class="k3" d="M1057 1029.5l11.6 2.5-12.3-9.6-11.5-2.5z"/>
<path class="k0" d="M1466.5 1129l11.6 0.2-12.3-9.3-11.6-0.2z"/>
<path class="k7" d="M799.2 908.6l11.6 6-12.3-10.3-11.6-6.2z"/>
<path class="k8" d="M752.3 878l11.5 7-12.2-10.6-11.6-7.1z"/>
<path class="k17" d="M458.4 620.4l11.5 10-12.3-14.2-11.5-10.2z"/>
<path class="k7" d="M846.2 936.2l11.5 5.2-12.3-10.1-11.5-5.3z"/>
<path class="k10" d="M705.3 844.3l11.6 8-12.3-10.9-11.5-8.1z"/>
<path class="k0" d="M1525 1138.9l11.6 0-12.3-9.3-11.6 0z"/>
<path class="k4" d="M998.5 1008.2l11.6 3.2-12.3-9.8-11.5-3.2z"/>
<path class="k6" d="M893.1 961.3l11.6 4.5-12.3-10-11.6-4.6z"/>
<path class="k13" d="M576.1 734.1l11.5 10.4-12.2-12.2-11.6-10.7z"/>
<path class="k2" d="M1221 1079.3l11.5 1.3-12.3-9.5-11.5-1.3z"/>
<path class="k1" d="M1279.5 1093.4l11.5 1-12.3-9.4-11.5-1z"/>
<path class="k2" d="M1162.5 1063.7l11.5 1.6-12.2-9.5-11.6-1.7z"/>
<path class="k1" d="M1338 1106.2l11.5 0.7-12.3-9.3-11.5-0.7z"/>
<path class="k11" d="M658.4 807.2l11.6 9-12.3-11.3-11.6-9.2z"/>
<path class="k3" d="M1104 1046.3l11.5 2.1-12.2-9.5-11.6-2.2z"/>
<path class="k16" d="M493.7 654.7l11.6 10.6-12.3-13.5-11.5-10.9z"/>
<path class="k1" d="M1396.5 1118l11.5 0.4-12.3-9.3-11.5-0.5z"/>
<path class="k18" d="M411.4 579.8l11.6 7.7-12.3-15-11.5-8z"/>
<path class="k5" d="M940 984.1l11.6 3.8-12.3-9.8-11.5-3.9z"/>
<path class="k0" d="M1454.9 1128.8l11.6 0.2-12.3-9.3-11.5-0.2z"/>
<path class="k4" d="M1045.5 1026.8l11.5 2.7-12.2-9.6-11.6-2.7z"/>
<path class="k20" d="M364.5 548l11.5 4-12.2-15.8-11.6-4.2z"/>
<path class="k0" d="M1513.4 1138.8l11.6 0.1-12.3-9.3-11.5-0.1z"/>
<path class="k12" d="M611.5 766.8l11.5 9.9-12.3-11.9-11.5-10z"/>
<path class="k8" d="M787.7 902.2l11.5 6.4-12.3-10.5-11.5-6.4z"/>
<path class="k15" d="M529.1 689.4l11.6 10.7-12.3-13-11.5-11z"/>
<path class="k9" d="M740.7 870.7l11.6 7.3-12.3-10.7-11.6-7.4z"/>
<path class="k7" d="M834.6 930.7l11.6 5.5-12.3-10.2-11.6-5.6z"/>
<path class="k4" d="M987 1004.9l11.5 3.3-12.2-9.8-11.6-3.3z"/>
<path class="k2" d="M1267.9 1092.3l11.6 1.1-12.3-9.4-11.6-1.1zM1209.4 1077.9l11.6 1.4-12.3-9.5-11.6-1.4z"/>
<path class="k1" d="M1326.4 1105.5l11.6 0.7-12.3-9.3-11.6-0.8z"/>
<path class="k3" d="M1150.9 1061.9l11.6 1.8-12.3-9.6-11.6-1.8z"/>
<path class="k17" d="M446.8 611.1l11.6 9.3-12.3-14.4-11.6-9.7z"/>
<path class="k10" d="M693.8 836l11.5 8.3-12.2-11-11.6-8.4z"/>
<path class="k6" d="M881.5 956.5l11.6 4.8-12.3-10.1-11.5-4.8z"/>
<path class="k1" d="M1384.9 1117.5l11.6 0.5-12.3-9.4-11.6-0.5z"/>
<path class="k3" d="M1092.4 1044.1l11.6 2.2-12.3-9.6-11.6-2.3z"/>
<path class="k0" d="M1443.4 1128.5l11.5 0.3-12.2-9.3-11.6-0.3z"/>
<path class="k14" d="M564.5 723.6l11.6 10.5-12.3-12.5-11.6-10.7z"/>
<path class="k5" d="M928.5 980l11.5 4.1-12.2-9.9-11.6-4.1z"/>
<path class="k11" d="M646.8 798l11.6 9.2-12.3-11.5-11.5-9.4z"/>
<path class="k4" d="M1033.9 1024l11.6 2.8-12.3-9.6-11.6-2.9z"/>
<path class="k0" d="M1501.9 1138.7l11.5 0.1-12.2-9.3-11.6-0.1z"/>
<path class="k19" d="M399.9 573.1l11.5 6.7-12.2-15.3-11.6-6.9z"/>
<path class="k20" d="M352.9 545.5l11.6 2.5-12.3-16-11.5-2.6z"/>
<path class="k16" d="M482.2 644.5l11.5 10.2-12.2-13.8-11.6-10.5z"/>
<path class="k2" d="M1256.3 1091.2l11.6 1.1-12.3-9.4-11.5-1.1zM1197.9 1076.4l11.5 1.5-12.3-9.5-11.5-1.5z"/>
<path class="k1" d="M1314.8 1104.7l11.6 0.8-12.3-9.4-11.5-0.8z"/>
<path class="k5" d="M975.4 1001.5l11.6 3.4-12.3-9.8-11.6-3.5z"/>
<path class="k8" d="M776.1 895.6l11.6 6.6-12.3-10.5-11.6-6.7z"/>
<path class="k3" d="M1139.4 1060l11.5 1.9-12.3-9.6-11.5-1.9z"/>
<path class="k1" d="M1373.3 1116.9l11.6 0.6-12.3-9.4-11.5-0.5z"/>
<path class="k7" d="M823 925l11.6 5.7-12.3-10.3-11.5-5.8z"/>
<path class="k9" d="M729.2 863.2l11.5 7.5-12.3-10.8-11.5-7.6z"/>
<path class="k13" d="M599.9 756.7l11.6 10.1-12.3-12-11.6-10.3z"/>
<path class="k0" d="M1431.8 1128.2l11.6 0.3-12.3-9.3-11.5-0.4z"/>
<path class="k3" d="M1080.9 1041.7l11.5 2.4-12.3-9.7-11.5-2.4z"/>
<path class="k6" d="M870 951.6l11.5 4.9-12.2-10.1-11.6-5z"/>
<path class="k15" d="M517.6 678.8l11.5 10.6-12.2-13.3-11.6-10.8z"/>
<path class="k18" d="M435.3 602.6l11.5 8.5-12.3-14.8-11.5-8.8z"/>
<path class="k10" d="M682.2 827.5l11.6 8.5-12.3-11.1-11.5-8.7z"/>
<path class="k0" d="M1490.3 1138.5l11.6 0.2-12.3-9.3-11.5-0.2z"/>
<path class="k20" d="M341.4 544.7l11.5 0.8-12.2-16.1-11.6-0.9z"/>
<path class="k4" d="M1022.4 1021.1l11.5 2.9-12.3-9.7-11.5-2.9z"/>
<path class="k5" d="M916.9 975.8l11.6 4.2-12.3-9.9-11.5-4.3z"/>
<path class="k19" d="M388.3 567.8l11.6 5.3-12.3-15.5-11.6-5.6z"/>
<path class="k2" d="M1244.8 1090l11.5 1.2-12.2-9.4-11.6-1.2z"/>
<path class="k1" d="M1303.3 1103.8l11.5 0.9-12.2-9.4-11.6-0.9z"/>
<path class="k2" d="M1186.3 1074.9l11.6 1.5-12.3-9.5-11.6-1.6z"/>
<path class="k14" d="M553 713.1l11.5 10.5-12.3-12.7-11.5-10.8z"/>
<path class="k12" d="M635.3 788.5l11.5 9.5-12.2-11.7-11.6-9.6z"/>
<path class="k1" d="M1361.8 1116.3l11.5 0.6-12.2-9.3-11.6-0.7z"/>
<path class="k3" d="M1127.8 1058l11.6 2-12.3-9.6-11.6-2z"/>
<path class="k5" d="M963.9 997.8l11.5 3.7-12.3-9.9-11.5-3.7z"/>
<path class="k1" d="M1420.3 1127.8l11.5 0.4-12.2-9.4-11.6-0.4z"/>
<path class="k17" d="M470.6 634.8l11.6 9.7-12.3-14.1-11.5-10z"/>
<path class="k3" d="M1069.3 1039.2l11.6 2.5-12.3-9.7-11.6-2.5z"/>
<path class="k8" d="M764.5 888.7l11.6 6.9-12.3-10.6-11.5-7z"/>
<path class="k7" d="M811.5 919l11.5 6-12.2-10.4-11.6-6z"/>
<path class="k0" d="M1478.8 1138.4l11.5 0.1-12.2-9.3-11.6-0.2z"/>
<path class="k6" d="M858.4 946.4l11.6 5.2-12.3-10.2-11.5-5.2z"/>
<path class="k9" d="M717.6 855.4l11.6 7.8-12.3-10.9-11.6-8z"/>
<path class="k0" d="M1537.3 1148.1l11.5 0.1-12.2-9.3-11.6 0z"/>
<path class="k13" d="M588.3 746.6l11.6 10.1-12.3-12.2-11.5-10.4z"/>
<path class="k4" d="M1010.8 1018l11.6 3.1-12.3-9.7-11.6-3.2z"/>
<path class="k6" d="M905.4 971.3l11.5 4.5-12.2-10-11.6-4.5z"/>
<path class="k18" d="M423.7 595l11.6 7.6-12.3-15.1-11.6-7.7z"/>
<path class="k16" d="M506 668.5l11.6 10.3-12.3-13.5-11.6-10.6z"/>
<path class="k2" d="M1233.2 1088.7l11.6 1.3-12.3-9.4-11.5-1.3z"/>
<path class="k1" d="M1291.7 1102.8l11.6 1-12.3-9.4-11.5-1z"/>
<path class="k11" d="M670.7 818.7l11.5 8.8-12.2-11.3-11.6-9z"/>
<path class="k2" d="M1174.7 1073.2l11.6 1.7-12.3-9.6-11.5-1.6z"/>
<path class="k1" d="M1350.2 1115.6l11.6 0.7-12.3-9.4-11.5-0.7z"/>
<path class="k19" d="M376.8 563.9l11.5 3.9-12.3-15.8-11.5-4z"/>
<path class="k3" d="M1116.2 1055.9l11.6 2.1-12.3-9.6-11.5-2.1z"/>
<path class="k1" d="M1408.7 1127.3l11.6 0.5-12.3-9.4-11.5-0.4z"/>
<path class="k5" d="M952.3 994l11.6 3.8-12.3-9.9-11.6-3.8z"/>
<path class="k0" d="M1467.2 1138.1l11.6 0.3-12.3-9.4-11.6-0.2z"/>
<path class="k4" d="M1057.7 1036.5l11.6 2.7-12.3-9.7-11.5-2.7z"/>
<path class="k12" d="M623.7 778.8l11.6 9.7-12.3-11.8-11.5-9.9z"/>
<path class="k15" d="M541.4 702.6l11.6 10.5-12.3-13-11.6-10.7z"/>
<path class="k0" d="M1525.7 1148.1l11.6 0-12.3-9.2-11.6-0.1z"/>
<path class="k8" d="M799.9 912.8l11.6 6.2-12.3-10.4-11.5-6.4z"/>
<path class="k17" d="M459.1 625.8l11.5 9-12.2-14.4-11.6-9.3z"/>
<path class="k9" d="M753 881.6l11.5 7.1-12.2-10.7-11.6-7.3z"/>
<path class="k7" d="M846.9 941l11.5 5.4-12.2-10.2-11.6-5.5z"/>
<path class="k4" d="M999.2 1014.7l11.6 3.3-12.3-9.8-11.5-3.3z"/>
<path class="k2" d="M1280.2 1101.8l11.5 1-12.2-9.4-11.6-1.1zM1221.7 1087.4l11.5 1.3-12.2-9.4-11.6-1.4z"/>
<path class="k10" d="M706.1 847.2l11.5 8.2-12.3-11.1-11.5-8.3z"/>
<path class="k1" d="M1338.7 1114.9l11.5 0.7-12.2-9.4-11.6-0.7z"/>
<path class="k3" d="M1163.2 1071.4l11.5 1.8-12.2-9.5-11.6-1.8z"/>
<path class="k6" d="M893.8 966.7l11.6 4.6-12.3-10-11.6-4.8z"/>
<path class="k1" d="M1397.2 1126.8l11.5 0.5-12.2-9.3-11.6-0.5z"/>
<path class="k3" d="M1104.7 1053.7l11.5 2.2-12.2-9.6-11.6-2.2z"/>
<path class="k19" d="M365.2 561.6l11.6 2.3-12.3-15.9-11.6-2.5zM412.1 588.6l11.6 6.4-12.3-15.2-11.5-6.7z"/>
<path class="k14" d="M576.8 736.3l11.5 10.3-12.2-12.5-11.6-10.5z"/>
<path class="k0" d="M1455.7 1137.8l11.5 0.3-12.3-9.3-11.5-0.3z"/>
<path class="k11" d="M659.1 809.7l11.6 9-12.3-11.5-11.6-9.2z"/>
<path class="k16" d="M494.5 658.6l11.5 9.9-12.3-13.8-11.5-10.2z"/>
<path class="k5" d="M940.8 990l11.5 4-12.3-9.9-11.5-4.1z"/>
<path class="k4" d="M1046.2 1033.8l11.5 2.7-12.2-9.7-11.6-2.8z"/>
<path class="k0" d="M1514.2 1148l11.5 0.1-12.3-9.3-11.5-0.1z"/>
<path class="k2" d="M1268.6 1100.7l11.6 1.1-12.3-9.5-11.6-1.1zM1210.1 1085.9l11.6 1.5-12.3-9.5-11.5-1.5z"/>
<path class="k1" d="M1327.1 1114.1l11.6 0.8-12.3-9.4-11.6-0.8z"/>
<path class="k8" d="M788.4 906.2l11.5 6.6-12.2-10.6-11.6-6.6z"/>
<path class="k5" d="M987.7 1011.3l11.5 3.4-12.2-9.8-11.6-3.4z"/>
<path class="k13" d="M612.2 769l11.5 9.8-12.2-12-11.6-10.1z"/>
<path class="k3" d="M1151.6 1069.6l11.6 1.8-12.3-9.5-11.5-1.9z"/>
<path class="k7" d="M835.3 935.4l11.6 5.6-12.3-10.3-11.6-5.7z"/>
<path class="k9" d="M741.4 874.1l11.6 7.5-12.3-10.9-11.5-7.5z"/>
<path class="k1" d="M1385.6 1126.3l11.6 0.5-12.3-9.3-11.6-0.6z"/>
<path class="k15" d="M529.8 692.3l11.6 10.3-12.3-13.2-11.5-10.6z"/>
<path class="k18" d="M447.5 617.5l11.6 8.3-12.3-14.7-11.5-8.5z"/>
<path class="k20" d="M353.6 560.9l11.6 0.7-12.3-16.1-11.5-0.8z"/>
<path class="k3" d="M1093.1 1051.3l11.6 2.4-12.3-9.6-11.5-2.4z"/>
<path class="k6" d="M882.3 961.8l11.5 4.9-12.3-10.2-11.5-4.9z"/>
<path class="k0" d="M1444.1 1137.5l11.6 0.3-12.3-9.3-11.6-0.3z"/>
<path class="k10" d="M694.5 838.9l11.6 8.3-12.3-11.2-11.6-8.5z"/>
<path class="k0" d="M1502.6 1147.8l11.6 0.2-12.3-9.3-11.6-0.2z"/>
<path class="k19" d="M400.6 583.5l11.5 5.1-12.2-15.5-11.6-5.3z"/>
<path class="k4" d="M1034.6 1030.9l11.6 2.9-12.3-9.8-11.5-2.9z"/>
<path class="k5" d="M929.2 985.8l11.6 4.2-12.3-10-11.6-4.2z"/>
<path class="k14" d="M565.2 726.1l11.6 10.2-12.3-12.7-11.5-10.5z"/>
<path class="k12" d="M647.6 800.4l11.5 9.3-12.3-11.7-11.5-9.5z"/>
<path class="k2" d="M1257.1 1099.5l11.5 1.2-12.3-9.5-11.5-1.2z"/>
<path class="k1" d="M1315.6 1113.2l11.5 0.9-12.3-9.4-11.5-0.9z"/>
<path class="k2" d="M1198.6 1084.4l11.5 1.5-12.2-9.5-11.6-1.5z"/>
<path class="k17" d="M482.9 649.2l11.6 9.4-12.3-14.1-11.6-9.7z"/>
<path class="k1" d="M1374.1 1125.7l11.5 0.6-12.3-9.4-11.5-0.6z"/>
<path class="k3" d="M1140.1 1067.6l11.5 2-12.2-9.6-11.6-2z"/>
<path class="k5" d="M976.1 1007.7l11.6 3.6-12.3-9.8-11.5-3.7z"/>
<path class="k1" d="M1432.6 1137.1l11.5 0.4-12.3-9.3-11.5-0.4z"/>
<path class="k8" d="M776.8 899.5l11.6 6.7-12.3-10.6-11.6-6.9z"/>
<path class="k7" d="M823.8 929.5l11.5 5.9-12.3-10.4-11.5-6z"/>
<path class="k3" d="M1081.6 1048.9l11.5 2.4-12.2-9.6-11.6-2.5z"/>
<path class="k0" d="M1491 1147.7l11.6 0.1-12.3-9.3-11.5-0.1z"/>
<path class="k9" d="M729.9 866.4l11.5 7.7-12.2-10.9-11.6-7.8z"/>
<path class="k6" d="M870.7 956.7l11.6 5.1-12.3-10.2-11.6-5.2z"/>
<path class="k13" d="M600.6 759.1l11.6 9.9-12.3-12.3-11.6-10.1z"/>
<path class="k18" d="M436 610.3l11.5 7.2-12.2-14.9-11.6-7.6z"/>
<path class="k16" d="M518.3 682.3l11.5 10-12.2-13.5-11.6-10.3z"/>
<path class="k0" d="M1549.5 1157.4l11.6 0-12.3-9.2-11.5-0.1z"/>
<path class="k19" d="M389 579.8l11.6 3.7-12.3-15.7-11.5-3.9z"/>
<path class="k4" d="M1023.1 1027.8l11.5 3.1-12.2-9.8-11.6-3.1z"/>
<path class="k11" d="M682.9 830.2l11.6 8.7-12.3-11.4-11.5-8.8z"/>
<path class="k6" d="M917.6 981.4l11.6 4.4-12.3-10-11.5-4.5z"/>
<path class="k2" d="M1245.5 1098.2l11.6 1.3-12.3-9.5-11.6-1.3z"/>
<path class="k1" d="M1304 1112.2l11.6 1-12.3-9.4-11.6-1z"/>
<path class="k2" d="M1187 1082.7l11.6 1.7-12.3-9.5-11.6-1.7z"/>
<path class="k1" d="M1362.5 1125l11.6 0.7-12.3-9.4-11.6-0.7z"/>
<path class="k3" d="M1128.5 1065.5l11.6 2.1-12.3-9.6-11.6-2.1z"/>
<path class="k1" d="M1421 1136.7l11.6 0.4-12.3-9.3-11.6-0.5z"/>
<path class="k5" d="M964.6 1003.9l11.5 3.8-12.2-9.9-11.6-3.8z"/>
<path class="k14" d="M553.7 715.9l11.5 10.2-12.2-13-11.6-10.5z"/>
<path class="k12" d="M636 790.9l11.6 9.5-12.3-11.9-11.6-9.7z"/>
<path class="k0" d="M1479.5 1147.4l11.5 0.3-12.2-9.3-11.6-0.3z"/>
<path class="k4" d="M1070 1046.3l11.6 2.6-12.3-9.7-11.6-2.7z"/>
<path class="k17" d="M471.4 640.4l11.5 8.8-12.3-14.4-11.5-9z"/>
<path class="k8" d="M812.2 923.3l11.6 6.2-12.3-10.5-11.6-6.2z"/>
<path class="k9" d="M765.3 892.4l11.5 7.1-12.3-10.8-11.5-7.1z"/>
<path class="k0" d="M1538 1157.4l11.5 0-12.2-9.3-11.6 0z"/>
<path class="k7" d="M859.1 951.3l11.6 5.4-12.3-10.3-11.5-5.4z"/>
<path class="k19" d="M377.5 577.6l11.5 2.2-12.2-15.9-11.6-2.3z"/>
<path class="k4" d="M1011.5 1024.6l11.6 3.2-12.3-9.8-11.6-3.3z"/>
<path class="k10" d="M718.3 858.5l11.6 7.9-12.3-11-11.5-8.2z"/>
<path class="k18" d="M424.4 604.1l11.6 6.2-12.3-15.3-11.6-6.4z"/>
<path class="k2" d="M1233.9 1096.9l11.6 1.3-12.3-9.5-11.5-1.3z"/>
<path class="k1" d="M1292.4 1111.2l11.6 1-12.3-9.4-11.5-1zM1350.9 1124.3l11.6 0.7-12.3-9.4-11.5-0.7z"/>
<path class="k2" d="M1175.5 1081l11.5 1.7-12.3-9.5-11.5-1.8z"/>
<path class="k6" d="M906.1 976.8l11.5 4.6-12.2-10.1-11.6-4.6z"/>
<path class="k13" d="M589.1 749.1l11.5 10-12.3-12.5-11.5-10.3z"/>
<path class="k1" d="M1409.4 1136.2l11.6 0.5-12.3-9.4-11.5-0.5z"/>
<path class="k16" d="M506.7 672.7l11.6 9.6-12.3-13.8-11.5-9.9z"/>
<path class="k3" d="M1117 1063.3l11.5 2.2-12.3-9.6-11.5-2.2z"/>
<path class="k11" d="M671.4 821.3l11.5 8.9-12.2-11.5-11.6-9z"/>
<path class="k0" d="M1467.9 1147.2l11.6 0.2-12.3-9.3-11.5-0.3z"/>
<path class="k5" d="M953 1000l11.6 3.9-12.3-9.9-11.5-4z"/>
<path class="k4" d="M1058.5 1043.5l11.5 2.8-12.3-9.8-11.5-2.7z"/>
<path class="k0" d="M1526.4 1157.3l11.6 0.1-12.3-9.3-11.5-0.1z"/>
<path class="k19" d="M365.9 576.9l11.6 0.7-12.3-16-11.6-0.7z"/>
<path class="k17" d="M459.8 632.5l11.6 7.9-12.3-14.6-11.6-8.3z"/>
<path class="k12" d="M624.4 781.3l11.6 9.6-12.3-12.1-11.5-9.8z"/>
<path class="k15" d="M542.1 705.9l11.6 10-12.3-13.3-11.6-10.3z"/>
<path class="k2" d="M1280.9 1110.1l11.5 1.1-12.2-9.4-11.6-1.1z"/>
<path class="k8" d="M800.6 916.9l11.6 6.4-12.3-10.5-11.5-6.6z"/>
<path class="k2" d="M1222.4 1095.4l11.5 1.5-12.2-9.5-11.6-1.5z"/>
<path class="k1" d="M1339.4 1123.5l11.5 0.8-12.2-9.4-11.6-0.8z"/>
<path class="k5" d="M1000 1021.2l11.5 3.4-12.3-9.9-11.5-3.4z"/>
<path class="k7" d="M847.6 945.8l11.5 5.5-12.2-10.3-11.6-5.6z"/>
<path class="k9" d="M753.7 885.1l11.6 7.3-12.3-10.8-11.6-7.5z"/>
<path class="k3" d="M1163.9 1079.1l11.6 1.9-12.3-9.6-11.6-1.8z"/>
<path class="k1" d="M1397.9 1135.6l11.5 0.6-12.2-9.4-11.6-0.5z"/>
<path class="k19" d="M412.9 599.2l11.5 4.9-12.3-15.5-11.5-5.1z"/>
<path class="k6" d="M894.5 972l11.6 4.8-12.3-10.1-11.5-4.9z"/>
<path class="k3" d="M1105.4 1061l11.6 2.3-12.3-9.6-11.6-2.4z"/>
<path class="k10" d="M706.8 850.2l11.5 8.3-12.2-11.3-11.6-8.3z"/>
<path class="k0" d="M1456.4 1146.8l11.5 0.4-12.2-9.4-11.6-0.3zM1514.9 1157.2l11.5 0.1-12.2-9.3-11.6-0.2z"/>
<path class="k4" d="M1046.9 1040.6l11.6 2.9-12.3-9.7-11.6-2.9z"/>
<path class="k14" d="M577.5 739.1l11.6 10-12.3-12.8-11.6-10.2z"/>
<path class="k5" d="M941.5 995.8l11.5 4.2-12.2-10-11.6-4.2z"/>
<path class="k16" d="M495.2 663.6l11.5 9.1-12.2-14.1-11.6-9.4z"/>
<path class="k11" d="M659.8 812.3l11.6 9-12.3-11.6-11.5-9.3z"/>
<path class="k2" d="M1269.3 1108.9l11.6 1.2-12.3-9.4-11.5-1.2zM1210.8 1093.9l11.6 1.5-12.3-9.5-11.5-1.5z"/>
<path class="k1" d="M1327.8 1122.6l11.6 0.9-12.3-9.4-11.5-0.9zM1386.3 1135l11.6 0.6-12.3-9.3-11.5-0.6z"/>
<path class="k3" d="M1152.3 1077.2l11.6 1.9-12.3-9.5-11.5-2z"/>
<path class="k5" d="M988.4 1017.6l11.6 3.6-12.3-9.9-11.6-3.6z"/>
<path class="k8" d="M789.1 910.2l11.5 6.7-12.2-10.7-11.6-6.7z"/>
<path class="k18" d="M448.2 625.5l11.6 7-12.3-15-11.5-7.2z"/>
<path class="k1" d="M1444.8 1146.5l11.6 0.3-12.3-9.3-11.5-0.4z"/>
<path class="k7" d="M836 939.9l11.6 5.9-12.3-10.4-11.5-5.9z"/>
<path class="k3" d="M1093.8 1058.5l11.6 2.5-12.3-9.7-11.5-2.4z"/>
<path class="k19" d="M401.3 595.6l11.6 3.6-12.3-15.7-11.6-3.7z"/>
<path class="k13" d="M612.9 771.6l11.5 9.7-12.2-12.3-11.6-9.9z"/>
<path class="k9" d="M742.1 877.5l11.6 7.6-12.3-11-11.5-7.7z"/>
<path class="k15" d="M530.6 696.1l11.5 9.8-12.3-13.6-11.5-10z"/>
<path class="k6" d="M883 966.9l11.5 5.1-12.2-10.2-11.6-5.1z"/>
<path class="k0" d="M1503.3 1157l11.6 0.2-12.3-9.4-11.6-0.1z"/>
<path class="k11" d="M695.2 841.8l11.6 8.4-12.3-11.3-11.6-8.7z"/>
<path class="k4" d="M1035.3 1037.6l11.6 3-12.3-9.7-11.5-3.1z"/>
<path class="k0" d="M1561.8 1166.7l11.6 0-12.3-9.3-11.6 0z"/>
<path class="k6" d="M929.9 991.5l11.6 4.3-12.3-10-11.6-4.4z"/>
<path class="k2" d="M1257.8 1107.7l11.5 1.2-12.2-9.4-11.6-1.3z"/>
<path class="k1" d="M1316.3 1121.7l11.5 0.9-12.2-9.4-11.6-1z"/>
<path class="k2" d="M1199.3 1092.3l11.5 1.6-12.2-9.5-11.6-1.7z"/>
<path class="k1" d="M1374.8 1134.4l11.5 0.6-12.2-9.3-11.6-0.7z"/>
<path class="k17" d="M483.6 655.1l11.6 8.5-12.3-14.4-11.5-8.8z"/>
<path class="k3" d="M1140.8 1075.1l11.5 2.1-12.2-9.6-11.6-2.1z"/>
<path class="k14" d="M565.9 729.1l11.6 10-12.3-13-11.5-10.2z"/>
<path class="k1" d="M1433.3 1146l11.5 0.5-12.2-9.4-11.6-0.4z"/>
<path class="k12" d="M648.3 803l11.5 9.3-12.2-11.9-11.6-9.5z"/>
<path class="k5" d="M976.9 1013.9l11.5 3.7-12.3-9.9-11.5-3.8z"/>
<path class="k0" d="M1491.8 1156.8l11.5 0.2-12.3-9.3-11.5-0.3z"/>
<path class="k4" d="M1082.3 1056l11.5 2.5-12.2-9.6-11.6-2.6z"/>
<path class="k19" d="M389.7 593.5l11.6 2.1-12.3-15.8-11.5-2.2z"/>
<path class="k8" d="M824.5 933.9l11.5 6-12.2-10.4-11.6-6.2z"/>
<path class="k18" d="M436.7 619.5l11.5 6-12.2-15.2-11.6-6.2z"/>
<path class="k9" d="M777.5 903.3l11.6 6.9-12.3-10.7-11.5-7.1z"/>
<path class="k0" d="M1550.3 1166.7l11.5 0-12.3-9.3-11.5 0z"/>
<path class="k7" d="M871.4 961.7l11.6 5.2-12.3-10.2-11.6-5.4z"/>
<path class="k10" d="M730.6 869.7l11.5 7.8-12.2-11.1-11.6-7.9z"/>
<path class="k4" d="M1023.8 1034.4l11.5 3.2-12.2-9.8-11.6-3.2z"/>
<path class="k13" d="M601.3 761.8l11.6 9.8-12.3-12.5-11.5-10z"/>
<path class="k16" d="M519 686.8l11.6 9.3-12.3-13.8-11.6-9.6z"/>
<path class="k2" d="M1246.2 1106.4l11.6 1.3-12.3-9.5-11.6-1.3z"/>
<path class="k1" d="M1304.7 1120.7l11.6 1-12.3-9.5-11.6-1z"/>
<path class="k6" d="M918.4 986.9l11.5 4.6-12.3-10.1-11.5-4.6z"/>
<path class="k2" d="M1187.7 1090.5l11.6 1.8-12.3-9.6-11.5-1.7z"/>
<path class="k1" d="M1363.2 1133.7l11.6 0.7-12.3-9.4-11.6-0.7zM1421.7 1145.6l11.6 0.4-12.3-9.3-11.6-0.5z"/>
<path class="k11" d="M683.7 833.1l11.5 8.7-12.3-11.6-11.5-8.9z"/>
<path class="k3" d="M1129.2 1073l11.6 2.1-12.3-9.6-11.5-2.2z"/>
<path class="k0" d="M1480.2 1156.5l11.6 0.3-12.3-9.4-11.6-0.2z"/>
<path class="k5" d="M965.3 1010l11.6 3.9-12.3-10-11.6-3.9z"/>
<path class="k19" d="M378.2 593l11.5 0.5-12.2-15.9-11.6-0.7z"/>
<path class="k4" d="M1070.7 1053.3l11.6 2.7-12.3-9.7-11.5-2.8z"/>
<path class="k17" d="M472.1 647.4l11.5 7.7-12.2-14.7-11.6-7.9z"/>
<path class="k0" d="M1538.7 1166.6l11.6 0.1-12.3-9.3-11.6-0.1z"/>
<path class="k15" d="M554.4 719.4l11.5 9.7-12.2-13.2-11.6-10z"/>
<path class="k12" d="M636.7 793.6l11.6 9.4-12.3-12.1-11.6-9.6z"/>
<path class="k18" d="M425.1 614.8l11.6 4.7-12.3-15.4-11.5-4.9z"/>
<path class="k8" d="M812.9 927.6l11.6 6.3-12.3-10.6-11.6-6.4z"/>
<path class="k2" d="M1293.2 1119.6l11.5 1.1-12.3-9.5-11.5-1.1z"/>
<path class="k9" d="M766 896.1l11.5 7.2-12.2-10.9-11.6-7.3z"/>
<path class="k2" d="M1234.7 1104.9l11.5 1.5-12.3-9.5-11.5-1.5z"/>
<path class="k7" d="M859.9 956.2l11.5 5.5-12.3-10.4-11.5-5.5z"/>
<path class="k4" d="M1012.2 1031.1l11.6 3.3-12.3-9.8-11.5-3.4z"/>
<path class="k1" d="M1351.7 1132.9l11.5 0.8-12.3-9.4-11.5-0.8z"/>
<path class="k3" d="M1176.2 1088.7l11.5 1.8-12.2-9.5-11.6-1.9z"/>
<path class="k1" d="M1410.2 1145l11.5 0.6-12.3-9.4-11.5-0.6z"/>
<path class="k10" d="M719 861.6l11.6 8.1-12.3-11.2-11.5-8.3z"/>
<path class="k6" d="M906.8 982.2l11.6 4.7-12.3-10.1-11.6-4.8z"/>
<path class="k3" d="M1117.7 1070.7l11.5 2.3-12.2-9.7-11.6-2.3z"/>
<path class="k0" d="M1468.7 1156.2l11.5 0.3-12.3-9.3-11.5-0.4z"/>
<path class="k16" d="M507.4 678l11.6 8.8-12.3-14.1-11.5-9.1z"/>
<path class="k14" d="M589.8 752.1l11.5 9.7-12.2-12.7-11.6-10z"/>
<path class="k0" d="M1527.1 1166.5l11.6 0.1-12.3-9.3-11.5-0.1z"/>
<path class="k5" d="M953.7 1005.9l11.6 4.1-12.3-10-11.5-4.2z"/>
<path class="k4" d="M1059.2 1050.4l11.5 2.9-12.2-9.8-11.6-2.9z"/>
<path class="k11" d="M672.1 824.2l11.6 8.9-12.3-11.8-11.6-9z"/>
<path class="k18" d="M460.5 640.7l11.6 6.7-12.3-14.9-11.6-7z"/>
<path class="k2" d="M1281.6 1118.4l11.6 1.2-12.3-9.5-11.6-1.2zM1223.1 1103.4l11.6 1.5-12.3-9.5-11.6-1.5z"/>
<path class="k1" d="M1340.1 1132l11.6 0.9-12.3-9.4-11.6-0.9z"/>
<path class="k19" d="M413.6 611.4l11.5 3.4-12.2-15.6-11.6-3.6z"/>
<path class="k1" d="M1398.6 1144.4l11.6 0.6-12.3-9.4-11.6-0.6z"/>
<path class="k3" d="M1164.6 1086.8l11.6 1.9-12.3-9.6-11.6-1.9z"/>
<path class="k5" d="M1000.7 1027.5l11.5 3.6-12.2-9.9-11.6-3.6z"/>
<path class="k15" d="M542.8 710l11.6 9.4-12.3-13.5-11.5-9.8z"/>
<path class="k8" d="M801.4 921l11.5 6.6-12.3-10.7-11.5-6.7z"/>
<path class="k13" d="M625.2 784.1l11.5 9.5-12.3-12.3-11.5-9.7z"/>
<path class="k7" d="M848.3 950.4l11.6 5.8-12.3-10.4-11.6-5.9z"/>
<path class="k0" d="M1457.1 1155.8l11.6 0.4-12.3-9.4-11.6-0.3z"/>
<path class="k9" d="M754.4 888.7l11.6 7.4-12.3-11-11.6-7.6z"/>
<path class="k3" d="M1106.1 1068.2l11.6 2.5-12.3-9.7-11.6-2.5z"/>
<path class="k6" d="M895.2 977.2l11.6 5-12.3-10.2-11.5-5.1z"/>
<path class="k0" d="M1515.6 1166.3l11.5 0.2-12.2-9.3-11.6-0.2z"/>
<path class="k10" d="M707.5 853.3l11.5 8.3-12.2-11.4-11.6-8.4z"/>
<path class="k4" d="M1047.6 1047.4l11.6 3-12.3-9.8-11.6-3z"/>
<path class="k0" d="M1574.1 1176l11.5 0-12.2-9.3-11.6 0z"/>
<path class="k6" d="M942.2 1001.6l11.5 4.3-12.2-10.1-11.6-4.3z"/>
<path class="k17" d="M495.9 669.8l11.5 8.2-12.2-14.4-11.6-8.5z"/>
<path class="k2" d="M1270 1117.2l11.6 1.2-12.3-9.5-11.5-1.2z"/>
<path class="k14" d="M578.2 742.4l11.6 9.7-12.3-13-11.6-10z"/>
<path class="k1" d="M1328.5 1131.1l11.6 0.9-12.3-9.4-11.5-0.9z"/>
<path class="k2" d="M1211.6 1101.8l11.5 1.6-12.3-9.5-11.5-1.6z"/>
<path class="k1" d="M1387 1143.8l11.6 0.6-12.3-9.4-11.5-0.6z"/>
<path class="k19" d="M402 609.5l11.6 1.9-12.3-15.8-11.6-2.1z"/>
<path class="k12" d="M660.5 815.1l11.6 9.1-12.3-11.9-11.5-9.3z"/>
<path class="k3" d="M1153.1 1084.8l11.5 2-12.3-9.6-11.5-2.1z"/>
<path class="k1" d="M1445.5 1155.4l11.6 0.4-12.3-9.3-11.5-0.5z"/>
<path class="k18" d="M449 635l11.5 5.7-12.3-15.2-11.5-6z"/>
<path class="k5" d="M989.1 1023.9l11.6 3.6-12.3-9.9-11.5-3.7z"/>
<path class="k4" d="M1094.6 1065.7l11.5 2.5-12.3-9.7-11.5-2.5z"/>
<path class="k0" d="M1504 1166.1l11.6 0.2-12.3-9.3-11.5-0.2z"/>
<path class="k8" d="M836.7 944.5l11.6 5.9-12.3-10.5-11.5-6z"/>
<path class="k9" d="M789.8 914.2l11.6 6.8-12.3-10.8-11.6-6.9z"/>
<path class="k16" d="M531.3 700.9l11.5 9.1-12.2-13.9-11.6-9.3z"/>
<path class="k7" d="M883.7 972l11.5 5.2-12.2-10.3-11.6-5.2z"/>
<path class="k10" d="M742.9 881l11.5 7.7-12.3-11.2-11.5-7.8z"/>
<path class="k0" d="M1562.5 1176l11.6 0-12.3-9.3-11.5 0z"/>
<path class="k13" d="M613.6 774.6l11.6 9.5-12.3-12.5-11.6-9.8z"/>
<path class="k4" d="M1036.1 1044.2l11.5 3.2-12.3-9.8-11.5-3.2z"/>
<path class="k2" d="M1258.5 1115.9l11.5 1.3-12.2-9.5-11.6-1.3z"/>
<path class="k1" d="M1317 1130.1l11.5 1-12.2-9.4-11.6-1z"/>
<path class="k6" d="M930.6 997.1l11.6 4.5-12.3-10.1-11.5-4.6z"/>
<path class="k2" d="M1200 1100.1l11.6 1.7-12.3-9.5-11.6-1.8z"/>
<path class="k1" d="M1375.5 1143.1l11.5 0.7-12.2-9.4-11.6-0.7z"/>
<path class="k11" d="M695.9 844.8l11.6 8.5-12.3-11.5-11.5-8.7z"/>
<path class="k19" d="M390.5 609l11.5 0.5-12.3-16-11.5-0.5z"/>
<path class="k1" d="M1434 1154.9l11.5 0.5-12.2-9.4-11.6-0.4z"/>
<path class="k3" d="M1141.5 1082.6l11.6 2.2-12.3-9.7-11.6-2.1z"/>
<path class="k17" d="M484.3 662.4l11.6 7.4-12.3-14.7-11.5-7.7z"/>
<path class="k0" d="M1492.5 1165.8l11.5 0.3-12.2-9.3-11.6-0.3z"/>
<path class="k5" d="M977.6 1020l11.5 3.9-12.2-10-11.6-3.9z"/>
<path class="k15" d="M566.7 733l11.5 9.4-12.3-13.3-11.5-9.7z"/>
<path class="k18" d="M437.4 630.4l11.6 4.6-12.3-15.5-11.6-4.7z"/>
<path class="k4" d="M1083 1063l11.6 2.7-12.3-9.7-11.6-2.7z"/>
<path class="k12" d="M649 805.9l11.5 9.2-12.2-12.1-11.6-9.4z"/>
<path class="k0" d="M1551 1175.9l11.5 0.1-12.2-9.3-11.6-0.1z"/>
<path class="k8" d="M825.2 938.2l11.5 6.3-12.2-10.6-11.6-6.3z"/>
<path class="k9" d="M778.2 907.1l11.6 7.1-12.3-10.9-11.5-7.2z"/>
<path class="k7" d="M872.1 966.6l11.6 5.4-12.3-10.3-11.5-5.5z"/>
<path class="k2" d="M1305.4 1129l11.6 1.1-12.3-9.4-11.5-1.1zM1246.9 1114.5l11.6 1.4-12.3-9.5-11.5-1.5z"/>
<path class="k4" d="M1024.5 1040.9l11.6 3.3-12.3-9.8-11.6-3.3z"/>
<path class="k1" d="M1363.9 1142.3l11.6 0.8-12.3-9.4-11.5-0.8z"/>
<path class="k3" d="M1188.4 1098.3l11.6 1.8-12.3-9.6-11.5-1.8z"/>
<path class="k10" d="M731.3 873l11.6 8-12.3-11.3-11.6-8.1z"/>
<path class="k16" d="M519.7 692.3l11.6 8.6-12.3-14.1-11.6-8.8z"/>
<path class="k1" d="M1422.4 1154.4l11.6 0.5-12.3-9.3-11.5-0.6z"/>
<path class="k6" d="M919.1 992.4l11.5 4.7-12.2-10.2-11.6-4.7z"/>
<path class="k14" d="M602 765.1l11.6 9.5-12.3-12.8-11.5-9.7z"/>
<path class="k3" d="M1129.9 1080.3l11.6 2.3-12.3-9.6-11.5-2.3z"/>
<path class="k0" d="M1480.9 1165.5l11.6 0.3-12.3-9.3-11.5-0.3z"/>
<path class="k11" d="M684.4 836.1l11.5 8.7-12.2-11.7-11.6-8.9z"/>
<path class="k0" d="M1539.4 1175.8l11.6 0.1-12.3-9.3-11.6-0.1z"/>
<path class="k5" d="M966 1015.9l11.6 4.1-12.3-10-11.6-4.1z"/>
<path class="k4" d="M1071.4 1060.2l11.6 2.8-12.3-9.7-11.5-2.9z"/>
<path class="k17" d="M472.8 655.8l11.5 6.6-12.2-15-11.6-6.7z"/>
<path class="k18" d="M425.8 627.2l11.6 3.2-12.3-15.6-11.5-3.4z"/>
<path class="k2" d="M1293.9 1127.9l11.5 1.1-12.2-9.4-11.6-1.2z"/>
<path class="k15" d="M555.1 723.8l11.6 9.2-12.3-13.6-11.6-9.4z"/>
<path class="k2" d="M1235.4 1113l11.5 1.5-12.2-9.6-11.6-1.5z"/>
<path class="k1" d="M1352.4 1141.4l11.5 0.9-12.2-9.4-11.6-0.9z"/>
<path class="k13" d="M637.4 796.7l11.6 9.2-12.3-12.3-11.5-9.5z"/>
<path class="k5" d="M1013 1037.5l11.5 3.4-12.3-9.8-11.5-3.6z"/>
<path class="k3" d="M1176.9 1096.4l11.5 1.9-12.2-9.6-11.6-1.9z"/>
<path class="k1" d="M1410.9 1153.8l11.5 0.6-12.2-9.4-11.6-0.6z"/>
<path class="k8" d="M813.6 931.8l11.6 6.4-12.3-10.6-11.5-6.6z"/>
<path class="k7" d="M860.6 960.9l11.5 5.7-12.2-10.4-11.6-5.8z"/>
<path class="k9" d="M766.7 899.8l11.5 7.3-12.2-11-11.6-7.4z"/>
<path class="k0" d="M1469.4 1165.2l11.5 0.3-12.2-9.3-11.6-0.4z"/>
<path class="k3" d="M1118.4 1077.9l11.5 2.4-12.2-9.6-11.6-2.5z"/>
<path class="k6" d="M907.5 987.5l11.6 4.9-12.3-10.2-11.6-5z"/>
<path class="k10" d="M719.8 864.9l11.5 8.1-12.3-11.4-11.5-8.3z"/>
<path class="k0" d="M1527.9 1175.6l11.5 0.2-12.3-9.3-11.5-0.2z"/>
<path class="k16" d="M508.2 684.4l11.5 7.9-12.3-14.3-11.5-8.2z"/>
<path class="k4" d="M1059.9 1057.2l11.5 3-12.2-9.8-11.6-3z"/>
<path class="k18" d="M414.3 625.3l11.5 1.9-12.2-15.8-11.6-1.9z"/>
<path class="k14" d="M590.5 755.7l11.5 9.4-12.2-13-11.6-9.7z"/>
<path class="k6" d="M954.5 1011.7l11.5 4.2-12.3-10-11.5-4.3z"/>
<path class="k0" d="M1586.4 1185.3l11.5 0-12.3-9.3-11.5 0z"/>
<path class="k18" d="M461.2 650.3l11.6 5.5-12.3-15.1-11.5-5.7z"/>
<path class="k2" d="M1282.3 1126.7l11.6 1.2-12.3-9.5-11.6-1.2z"/>
<path class="k12" d="M672.8 827.2l11.6 8.9-12.3-11.9-11.6-9.1z"/>
<path class="k1" d="M1340.8 1140.5l11.6 0.9-12.3-9.4-11.6-0.9z"/>
<path class="k2" d="M1223.8 1111.4l11.6 1.6-12.3-9.6-11.5-1.6z"/>
<path class="k1" d="M1399.3 1153.2l11.6 0.6-12.3-9.4-11.6-0.6z"/>
<path class="k3" d="M1165.3 1094.4l11.6 2-12.3-9.6-11.5-2z"/>
<path class="k5" d="M1001.4 1033.8l11.6 3.7-12.3-10-11.6-3.6z"/>
<path class="k1" d="M1457.8 1164.8l11.6 0.4-12.3-9.4-11.6-0.4z"/>
<path class="k15" d="M543.5 715l11.6 8.8-12.3-13.8-11.5-9.1z"/>
<path class="k4" d="M1106.8 1075.4l11.6 2.5-12.3-9.7-11.5-2.5z"/>
<path class="k8" d="M802.1 925.1l11.5 6.7-12.2-10.8-11.6-6.8z"/>
<path class="k0" d="M1516.3 1175.4l11.6 0.2-12.3-9.3-11.6-0.2z"/>
<path class="k7" d="M849 955.1l11.6 5.8-12.3-10.5-11.6-5.9z"/>
<path class="k13" d="M625.9 787.4l11.5 9.3-12.2-12.6-11.6-9.5z"/>
<path class="k10" d="M755.1 892.2l11.6 7.6-12.3-11.1-11.5-7.7z"/>
<path class="k7" d="M896 982.4l11.5 5.1-12.3-10.3-11.5-5.2z"/>
<path class="k0" d="M1574.8 1185.3l11.6 0-12.3-9.3-11.6 0z"/>
<path class="k19" d="M402.7 624.9l11.6 0.4-12.3-15.8-11.5-0.5z"/>
<path class="k4" d="M1048.3 1054.1l11.6 3.1-12.3-9.8-11.5-3.2z"/>
<path class="k11" d="M708.2 856.6l11.6 8.3-12.3-11.6-11.6-8.5z"/>
<path class="k6" d="M942.9 1007.3l11.6 4.4-12.3-10.1-11.6-4.5z"/>
<path class="k17" d="M496.6 677.2l11.6 7.2-12.3-14.6-11.6-7.4z"/>
<path class="k2" d="M1270.8 1125.4l11.5 1.3-12.3-9.5-11.5-1.3z"/>
<path class="k1" d="M1329.3 1139.6l11.5 0.9-12.3-9.4-11.5-1z"/>
<path class="k2" d="M1212.3 1109.7l11.5 1.7-12.2-9.6-11.6-1.7z"/>
<path class="k1" d="M1387.8 1152.5l11.5 0.7-12.3-9.4-11.5-0.7z"/>
<path class="k18" d="M449.7 646l11.5 4.3-12.2-15.3-11.6-4.6z"/>
<path class="k1" d="M1446.3 1164.3l11.5 0.5-12.3-9.4-11.5-0.5z"/>
<path class="k3" d="M1153.8 1092.3l11.5 2.1-12.2-9.6-11.6-2.2z"/>
<path class="k14" d="M578.9 746.5l11.6 9.2-12.3-13.3-11.5-9.4z"/>
<path class="k5" d="M989.8 1030l11.6 3.8-12.3-9.9-11.5-3.9z"/>
<path class="k0" d="M1504.7 1175.2l11.6 0.2-12.3-9.3-11.5-0.3z"/>
<path class="k12" d="M661.3 818.3l11.5 8.9-12.3-12.1-11.5-9.2z"/>
<path class="k4" d="M1095.3 1072.8l11.5 2.6-12.2-9.7-11.6-2.7z"/>
<path class="k0" d="M1563.2 1185.2l11.6 0.1-12.3-9.3-11.5-0.1z"/>
<path class="k8" d="M837.5 948.9l11.5 6.2-12.3-10.6-11.5-6.3z"/>
<path class="k9" d="M790.5 918.1l11.6 7-12.3-10.9-11.6-7.1z"/>
<path class="k16" d="M532 706.7l11.5 8.3-12.2-14.1-11.6-8.6z"/>
<path class="k7" d="M884.4 977l11.6 5.4-12.3-10.4-11.6-5.4z"/>
<path class="k4" d="M1036.8 1050.8l11.5 3.3-12.2-9.9-11.6-3.3z"/>
<path class="k2" d="M1317.7 1138.5l11.6 1.1-12.3-9.5-11.6-1.1zM1259.2 1124l11.6 1.4-12.3-9.5-11.6-1.4z"/>
<path class="k10" d="M743.6 884.5l11.5 7.7-12.2-11.2-11.6-8z"/>
<path class="k1" d="M1376.2 1151.7l11.6 0.8-12.3-9.4-11.6-0.8z"/>
<path class="k13" d="M614.3 778.1l11.6 9.3-12.3-12.8-11.6-9.5z"/>
<path class="k3" d="M1200.7 1107.9l11.6 1.8-12.3-9.6-11.6-1.8z"/>
<path class="k6" d="M931.3 1002.7l11.6 4.6-12.3-10.2-11.5-4.7z"/>
<path class="k1" d="M1434.7 1163.8l11.6 0.5-12.3-9.4-11.6-0.5z"/>
<path class="k3" d="M1142.2 1090l11.6 2.3-12.3-9.7-11.6-2.3z"/>
<path class="k17" d="M485.1 671l11.5 6.2-12.3-14.8-11.5-6.6z"/>
<path class="k18" d="M438.1 642.9l11.6 3.1-12.3-15.6-11.6-3.2z"/>
<path class="k0" d="M1493.2 1174.9l11.5 0.3-12.2-9.4-11.6-0.3z"/>
<path class="k11" d="M696.6 848l11.6 8.6-12.3-11.8-11.5-8.7z"/>
<path class="k5" d="M978.3 1026l11.5 4-12.2-10-11.6-4.1z"/>
<path class="k0" d="M1551.7 1185.1l11.5 0.1-12.2-9.3-11.6-0.1z"/>
<path class="k4" d="M1083.7 1070l11.6 2.8-12.3-9.8-11.6-2.8z"/>
<path class="k15" d="M567.4 737.6l11.5 8.9-12.2-13.5-11.6-9.2z"/>
<path class="k12" d="M649.7 809.2l11.6 9.1-12.3-12.4-11.6-9.2z"/>
<path class="k2" d="M1306.1 1137.4l11.6 1.1-12.3-9.5-11.5-1.1zM1247.7 1122.5l11.5 1.5-12.3-9.5-11.5-1.5z"/>
<path class="k1" d="M1364.6 1150.9l11.6 0.8-12.3-9.4-11.5-0.9z"/>
<path class="k8" d="M825.9 942.6l11.6 6.3-12.3-10.7-11.6-6.4z"/>
<path class="k5" d="M1025.2 1047.4l11.6 3.4-12.3-9.9-11.5-3.4z"/>
<path class="k3" d="M1189.2 1106l11.5 1.9-12.3-9.6-11.5-1.9z"/>
<path class="k1" d="M1423.1 1163.2l11.6 0.6-12.3-9.4-11.5-0.6z"/>
<path class="k7" d="M872.8 971.5l11.6 5.5-12.3-10.4-11.5-5.7z"/>
<path class="k9" d="M779 911l11.5 7.1-12.3-11-11.5-7.3z"/>
<path class="k16" d="M520.4 699l11.6 7.7-12.3-14.4-11.5-7.9z"/>
<path class="k0" d="M1481.6 1174.5l11.6 0.4-12.3-9.4-11.5-0.3z"/>
<path class="k3" d="M1130.7 1087.7l11.5 2.3-12.3-9.7-11.5-2.4z"/>
<path class="k6" d="M919.8 997.8l11.5 4.9-12.2-10.3-11.6-4.9z"/>
<path class="k18" d="M426.6 641.2l11.5 1.7-12.3-15.7-11.5-1.9z"/>
<path class="k10" d="M732 876.5l11.6 8-12.3-11.5-11.5-8.1z"/>
<path class="k14" d="M602.8 769l11.5 9.1-12.3-13-11.5-9.4z"/>
<path class="k0" d="M1540.1 1184.9l11.6 0.2-12.3-9.3-11.5-0.2z"/>
<path class="k17" d="M473.5 665.7l11.6 5.3-12.3-15.2-11.6-5.5z"/>
<path class="k4" d="M1072.2 1067.1l11.5 2.9-12.3-9.8-11.5-3z"/>
<path class="k6" d="M966.7 1021.8l11.6 4.2-12.3-10.1-11.5-4.2z"/>
<path class="k0" d="M1598.6 1194.6l11.6 0-12.3-9.3-11.5 0z"/>
<path class="k12" d="M685.1 839.4l11.5 8.6-12.2-11.9-11.6-8.9z"/>
<path class="k2" d="M1294.6 1136.2l11.5 1.2-12.2-9.5-11.6-1.2z"/>
<path class="k1" d="M1353.1 1150l11.5 0.9-12.2-9.5-11.6-0.9z"/>
<path class="k2" d="M1236.1 1120.9l11.6 1.6-12.3-9.5-11.6-1.6z"/>
<path class="k1" d="M1411.6 1162.6l11.5 0.6-12.2-9.4-11.6-0.6z"/>
<path class="k3" d="M1177.6 1104l11.6 2-12.3-9.6-11.6-2z"/>
<path class="k15" d="M555.8 729.1l11.6 8.5-12.3-13.8-11.6-8.8z"/>
<path class="k5" d="M1013.7 1043.8l11.5 3.6-12.2-9.9-11.6-3.7z"/>
<path class="k1" d="M1470.1 1174.1l11.5 0.4-12.2-9.3-11.6-0.4z"/>
<path class="k18" d="M415 640.8l11.6 0.4-12.3-15.9-11.6-0.4z"/>
<path class="k13" d="M638.1 800.2l11.6 9-12.3-12.5-11.5-9.3z"/>
<path class="k8" d="M814.3 936l11.6 6.6-12.3-10.8-11.5-6.7z"/>
<path class="k7" d="M861.3 965.7l11.5 5.8-12.2-10.6-11.6-5.8z"/>
<path class="k3" d="M1119.1 1085.2l11.6 2.5-12.3-9.8-11.6-2.5z"/>
<path class="k0" d="M1528.6 1184.8l11.5 0.1-12.2-9.3-11.6-0.2z"/>
<path class="k9" d="M767.4 903.5l11.6 7.5-12.3-11.2-11.6-7.6z"/>
<path class="k7" d="M908.2 992.8l11.6 5-12.3-10.3-11.5-5.1z"/>
<path class="k17" d="M508.9 692.1l11.5 6.9-12.2-14.6-11.6-7.2z"/>
<path class="k0" d="M1587.1 1194.6l11.5 0-12.2-9.3-11.6 0z"/>
<path class="k18" d="M461.9 661.5l11.6 4.2-12.3-15.4-11.5-4.3z"/>
<path class="k4" d="M1060.6 1064l11.6 3.1-12.3-9.9-11.6-3.1z"/>
<path class="k11" d="M720.5 868.3l11.5 8.2-12.2-11.6-11.6-8.3z"/>
<path class="k6" d="M955.2 1017.5l11.5 4.3-12.2-10.1-11.6-4.4z"/>
<path class="k2" d="M1283 1134.9l11.6 1.3-12.3-9.5-11.5-1.3z"/>
<path class="k1" d="M1341.5 1149l11.6 1-12.3-9.5-11.5-0.9z"/>
<path class="k14" d="M591.2 760l11.6 9-12.3-13.3-11.6-9.2z"/>
<path class="k2" d="M1224.5 1119.3l11.6 1.6-12.3-9.5-11.5-1.7z"/>
<path class="k1" d="M1400 1161.9l11.6 0.7-12.3-9.4-11.5-0.7z"/>
<path class="k3" d="M1166 1101.9l11.6 2.1-12.3-9.6-11.5-2.1z"/>
<path class="k1" d="M1458.5 1173.7l11.6 0.4-12.3-9.3-11.5-0.5z"/>
<path class="k12" d="M673.5 830.6l11.6 8.8-12.3-12.2-11.5-8.9z"/>
<path class="k5" d="M1002.1 1040.1l11.6 3.7-12.3-10-11.6-3.8z"/>
<path class="k0" d="M1517 1184.5l11.6 0.3-12.3-9.4-11.6-0.2z"/>
<path class="k4" d="M1107.5 1082.6l11.6 2.6-12.3-9.8-11.5-2.6z"/>
<path class="k16" d="M544.3 721l11.5 8.1-12.3-14.1-11.5-8.3z"/>
<path class="k0" d="M1575.5 1194.5l11.6 0.1-12.3-9.3-11.6-0.1z"/>
<path class="k8" d="M849.7 959.7l11.6 6-12.3-10.6-11.5-6.2z"/>
<path class="k9" d="M802.8 929.2l11.5 6.8-12.2-10.9-11.6-7z"/>
<path class="k7" d="M896.7 987.5l11.5 5.3-12.2-10.4-11.6-5.4z"/>
<path class="k13" d="M626.6 791.2l11.5 9-12.2-12.8-11.6-9.3z"/>
<path class="k10" d="M755.9 895.9l11.5 7.6-12.3-11.3-11.5-7.7z"/>
<path class="k4" d="M1049 1060.8l11.6 3.2-12.3-9.9-11.5-3.3z"/>
<path class="k18" d="M450.4 658.6l11.5 2.9-12.2-15.5-11.6-3.1z"/>
<path class="k2" d="M1330 1148l11.5 1-12.2-9.4-11.6-1.1z"/>
<path class="k17" d="M497.3 686.1l11.6 6-12.3-14.9-11.5-6.2z"/>
<path class="k2" d="M1271.5 1133.5l11.5 1.4-12.2-9.5-11.6-1.4z"/>
<path class="k1" d="M1388.5 1161.1l11.5 0.8-12.2-9.4-11.6-0.8z"/>
<path class="k3" d="M1213 1117.5l11.5 1.8-12.2-9.6-11.6-1.8z"/>
<path class="k6" d="M943.6 1012.9l11.6 4.6-12.3-10.2-11.6-4.6z"/>
<path class="k1" d="M1447 1173.2l11.5 0.5-12.2-9.4-11.6-0.5z"/>
<path class="k11" d="M708.9 860l11.6 8.3-12.3-11.7-11.6-8.6z"/>
<path class="k3" d="M1154.5 1099.7l11.5 2.2-12.2-9.6-11.6-2.3z"/>
<path class="k0" d="M1505.5 1184.2l11.5 0.3-12.3-9.3-11.5-0.3z"/>
<path class="k15" d="M579.6 751.4l11.6 8.6-12.3-13.5-11.5-8.9z"/>
<path class="k5" d="M990.6 1036.1l11.5 4-12.3-10.1-11.5-4z"/>
<path class="k4" d="M1096 1079.8l11.5 2.8-12.2-9.8-11.6-2.8z"/>
<path class="k0" d="M1564 1194.4l11.5 0.1-12.3-9.3-11.5-0.1z"/>
<path class="k12" d="M662 821.8l11.5 8.8-12.2-12.3-11.6-9.1z"/>
<path class="k2" d="M1318.4 1146.9l11.6 1.1-12.3-9.5-11.6-1.1zM1259.9 1132.1l11.6 1.4-12.3-9.5-11.5-1.5z"/>
<path class="k16" d="M532.7 713.6l11.6 7.4-12.3-14.3-11.6-7.7z"/>
<path class="k8" d="M838.2 953.4l11.5 6.3-12.2-10.8-11.6-6.3z"/>
<path class="k18" d="M438.8 656.9l11.6 1.7-12.3-15.7-11.5-1.7z"/>
<path class="k1" d="M1376.9 1160.3l11.6 0.8-12.3-9.4-11.6-0.8z"/>
<path class="k9" d="M791.2 922.1l11.6 7.1-12.3-11.1-11.5-7.1z"/>
<path class="k5" d="M1037.5 1057.4l11.5 3.4-12.2-10-11.6-3.4z"/>
<path class="k7" d="M885.1 982l11.6 5.5-12.3-10.5-11.6-5.5z"/>
<path class="k3" d="M1201.4 1115.7l11.6 1.8-12.3-9.6-11.5-1.9z"/>
<path class="k1" d="M1435.4 1172.6l11.6 0.6-12.3-9.4-11.6-0.6z"/>
<path class="k17" d="M485.8 681l11.5 5.1-12.2-15.1-11.6-5.3z"/>
<path class="k10" d="M744.3 888.1l11.6 7.8-12.3-11.4-11.6-8z"/>
<path class="k14" d="M615 782.3l11.6 8.9-12.3-13.1-11.5-9.1z"/>
<path class="k0" d="M1493.9 1183.9l11.6 0.3-12.3-9.3-11.6-0.4z"/>
<path class="k6" d="M932.1 1008.1l11.5 4.8-12.3-10.2-11.5-4.9z"/>
<path class="k3" d="M1142.9 1097.4l11.6 2.3-12.3-9.7-11.5-2.3z"/>
<path class="k0" d="M1552.4 1194.3l11.6 0.1-12.3-9.3-11.6-0.2z"/>
<path class="k11" d="M697.4 851.5l11.5 8.5-12.3-12-11.5-8.6z"/>
<path class="k4" d="M1084.4 1076.9l11.6 2.9-12.3-9.8-11.5-2.9z"/>
<path class="k5" d="M979 1032l11.6 4.1-12.3-10.1-11.6-4.2z"/>
<path class="k0" d="M1610.9 1203.9l11.6 0-12.3-9.3-11.6 0z"/>
<path class="k15" d="M568.1 743.1l11.5 8.3-12.2-13.8-11.6-8.5z"/>
<path class="k2" d="M1306.9 1145.7l11.5 1.2-12.3-9.5-11.5-1.2z"/>
<path class="k18" d="M427.3 656.7l11.5 0.2-12.2-15.7-11.6-0.4z"/>
<path class="k1" d="M1365.4 1159.4l11.5 0.9-12.3-9.4-11.5-0.9z"/>
<path class="k2" d="M1248.4 1130.5l11.5 1.6-12.2-9.6-11.6-1.6z"/>
<path class="k1" d="M1423.9 1172l11.5 0.6-12.3-9.4-11.5-0.6z"/>
<path class="k3" d="M1189.9 1113.7l11.5 2-12.2-9.7-11.6-2z"/>
<path class="k13" d="M650.4 813l11.6 8.8-12.3-12.6-11.6-9z"/>
<path class="k5" d="M1025.9 1053.8l11.6 3.6-12.3-10-11.5-3.6z"/>
<path class="k1" d="M1482.4 1183.5l11.5 0.4-12.3-9.4-11.5-0.4z"/>
<path class="k8" d="M826.6 946.9l11.6 6.5-12.3-10.8-11.6-6.6z"/>
<path class="k16" d="M521.2 707l11.5 6.6-12.3-14.6-11.5-6.9z"/>
<path class="k7" d="M873.6 976.3l11.5 5.7-12.3-10.5-11.5-5.8z"/>
<path class="k3" d="M1131.4 1094.9l11.5 2.5-12.2-9.7-11.6-2.5z"/>
<path class="k9" d="M779.7 914.9l11.5 7.2-12.2-11.1-11.6-7.5z"/>
<path class="k17" d="M474.2 677l11.6 4-12.3-15.3-11.6-4.2z"/>
<path class="k0" d="M1540.8 1194.1l11.6 0.2-12.3-9.4-11.5-0.1z"/>
<path class="k6" d="M920.5 1003.2l11.6 4.9-12.3-10.3-11.6-5z"/>
<path class="k11" d="M732.7 880.1l11.6 8-12.3-11.6-11.5-8.2z"/>
<path class="k0" d="M1599.3 1203.9l11.6 0-12.3-9.3-11.5 0z"/>
<path class="k14" d="M603.5 773.6l11.5 8.7-12.2-13.3-11.6-9z"/>
<path class="k4" d="M1072.9 1073.9l11.5 3-12.2-9.8-11.6-3.1z"/>
<path class="k6" d="M967.4 1027.7l11.6 4.3-12.3-10.2-11.5-4.3z"/>
<path class="k2" d="M1295.3 1144.4l11.6 1.3-12.3-9.5-11.6-1.3z"/>
<path class="k1" d="M1353.8 1158.5l11.6 0.9-12.3-9.4-11.6-1z"/>
<path class="k2" d="M1236.8 1128.9l11.6 1.6-12.3-9.6-11.6-1.6z"/>
<path class="k1" d="M1412.3 1171.3l11.6 0.7-12.3-9.4-11.6-0.7z"/>
<path class="k12" d="M685.8 843l11.6 8.5-12.3-12.1-11.6-8.8z"/>
<path class="k3" d="M1178.3 1111.6l11.6 2.1-12.3-9.7-11.6-2.1z"/>
<path class="k1" d="M1470.8 1183.1l11.6 0.4-12.3-9.4-11.6-0.4z"/>
<path class="k15" d="M556.5 735.4l11.6 7.7-12.3-14-11.5-8.1z"/>
<path class="k5" d="M1014.4 1050.1l11.5 3.7-12.2-10-11.6-3.7z"/>
<path class="k0" d="M1529.3 1193.9l11.5 0.2-12.2-9.3-11.6-0.3z"/>
<path class="k4" d="M1119.8 1092.3l11.6 2.6-12.3-9.7-11.6-2.6z"/>
<path class="k18" d="M462.7 674.2l11.5 2.8-12.3-15.5-11.5-2.9z"/>
<path class="k9" d="M815.1 940.2l11.5 6.7-12.3-10.9-11.5-6.8z"/>
<path class="k8" d="M862 970.4l11.6 5.9-12.3-10.6-11.6-6z"/>
<path class="k17" d="M509.6 701.1l11.6 5.9-12.3-14.9-11.6-6z"/>
<path class="k13" d="M638.9 804.2l11.5 8.8-12.3-12.8-11.5-9z"/>
<path class="k0" d="M1587.8 1203.9l11.5 0-12.2-9.3-11.6-0.1z"/>
<path class="k7" d="M908.9 998l11.6 5.2-12.3-10.4-11.5-5.3z"/>
<path class="k10" d="M768.1 907.4l11.6 7.5-12.3-11.4-11.5-7.6z"/>
<path class="k4" d="M1061.3 1070.7l11.6 3.2-12.3-9.9-11.6-3.2z"/>
<path class="k2" d="M1342.2 1157.5l11.6 1-12.3-9.5-11.5-1zM1283.8 1143.1l11.5 1.3-12.3-9.5-11.5-1.4z"/>
<path class="k1" d="M1400.7 1170.6l11.6 0.7-12.3-9.4-11.5-0.8z"/>
<path class="k3" d="M1225.3 1127.1l11.5 1.8-12.3-9.6-11.5-1.8z"/>
<path class="k6" d="M955.9 1023.2l11.5 4.5-12.2-10.2-11.6-4.6z"/>
<path class="k11" d="M721.2 872l11.5 8.1-12.2-11.8-11.6-8.3z"/>
<path class="k1" d="M1459.2 1182.6l11.6 0.5-12.3-9.4-11.5-0.5z"/>
<path class="k14" d="M591.9 765.2l11.6 8.4-12.3-13.6-11.6-8.6z"/>
<path class="k3" d="M1166.8 1109.4l11.5 2.2-12.3-9.7-11.5-2.2z"/>
<path class="k0" d="M1517.7 1193.6l11.6 0.3-12.3-9.4-11.5-0.3z"/>
<path class="k5" d="M1002.8 1046.2l11.6 3.9-12.3-10-11.5-4z"/>
<path class="k12" d="M674.2 834.4l11.6 8.6-12.3-12.4-11.5-8.8z"/>
<path class="k4" d="M1108.3 1089.6l11.5 2.7-12.3-9.7-11.5-2.8z"/>
<path class="k0" d="M1576.2 1203.8l11.6 0.1-12.3-9.4-11.5-0.1z"/>
<path class="k18" d="M451.1 672.7l11.6 1.5-12.3-15.6-11.6-1.7z"/>
<path class="k16" d="M545 728.2l11.5 7.2-12.2-14.4-11.6-7.4z"/>
<path class="k17" d="M498 696.3l11.6 4.8-12.3-15-11.5-5.1z"/>
<path class="k8" d="M850.4 964.3l11.6 6.1-12.3-10.7-11.5-6.3z"/>
<path class="k9" d="M803.5 933.3l11.6 6.9-12.3-11-11.6-7.1z"/>
<path class="k2" d="M1330.7 1156.4l11.5 1.1-12.2-9.5-11.6-1.1zM1272.2 1141.6l11.6 1.5-12.3-9.6-11.6-1.4z"/>
<path class="k1" d="M1389.2 1169.8l11.5 0.8-12.2-9.5-11.6-0.8z"/>
<path class="k7" d="M897.4 992.6l11.5 5.4-12.2-10.5-11.6-5.5z"/>
<path class="k5" d="M1049.8 1067.3l11.5 3.4-12.3-9.9-11.5-3.4z"/>
<path class="k3" d="M1213.7 1125.3l11.6 1.8-12.3-9.6-11.6-1.8z"/>
<path class="k14" d="M627.3 795.6l11.6 8.6-12.3-13-11.6-8.9z"/>
<path class="k1" d="M1447.7 1182l11.5 0.6-12.2-9.4-11.6-0.6z"/>
<path class="k10" d="M756.6 899.8l11.5 7.6-12.2-11.5-11.6-7.8z"/>
<path class="k6" d="M944.3 1018.5l11.6 4.7-12.3-10.3-11.5-4.8z"/>
<path class="k3" d="M1155.2 1107.1l11.6 2.3-12.3-9.7-11.6-2.3z"/>
<path class="k0" d="M1506.2 1193.3l11.5 0.3-12.2-9.4-11.6-0.3z"/>
<path class="k11" d="M709.6 863.7l11.6 8.3-12.3-12-11.5-8.5z"/>
<path class="k0" d="M1564.7 1203.6l11.5 0.2-12.2-9.4-11.6-0.1z"/>
<path class="k18" d="M439.5 672.5l11.6 0.2-12.3-15.8-11.5-0.2z"/>
<path class="k15" d="M580.4 757.2l11.5 8-12.3-13.8-11.5-8.3z"/>
<path class="k5" d="M991.3 1042.2l11.5 4-12.2-10.1-11.6-4.1z"/>
<path class="k4" d="M1096.7 1086.8l11.6 2.8-12.3-9.8-11.6-2.9z"/>
<path class="k0" d="M1623.2 1213.2l11.5 0-12.2-9.3-11.6 0z"/>
<path class="k2" d="M1319.1 1155.2l11.6 1.2-12.3-9.5-11.5-1.2z"/>
<path class="k1" d="M1377.6 1168.9l11.6 0.9-12.3-9.5-11.5-0.9z"/>
<path class="k2" d="M1260.6 1140.1l11.6 1.5-12.3-9.5-11.5-1.6z"/>
<path class="k13" d="M662.7 825.8l11.5 8.6-12.2-12.6-11.6-8.8z"/>
<path class="k16" d="M533.4 721.8l11.6 6.4-12.3-14.6-11.5-6.6z"/>
<path class="k17" d="M486.5 692.5l11.5 3.8-12.2-15.3-11.6-4z"/>
<path class="k1" d="M1436.1 1181.4l11.6 0.6-12.3-9.4-11.5-0.6z"/>
<path class="k3" d="M1202.1 1123.4l11.6 1.9-12.3-9.6-11.5-2z"/>
<path class="k5" d="M1038.2 1063.8l11.6 3.5-12.3-9.9-11.6-3.6z"/>
<path class="k8" d="M838.9 957.9l11.5 6.4-12.2-10.9-11.6-6.5z"/>
<path class="k1" d="M1494.6 1192.9l11.6 0.4-12.3-9.4-11.5-0.4z"/>
<path class="k7" d="M885.8 987l11.6 5.6-12.3-10.6-11.5-5.7z"/>
<path class="k9" d="M792 926.2l11.5 7.1-12.3-11.2-11.5-7.2z"/>
<path class="k3" d="M1143.6 1104.7l11.6 2.4-12.3-9.7-11.5-2.5z"/>
<path class="k6" d="M932.8 1013.6l11.5 4.9-12.2-10.4-11.6-4.9z"/>
<path class="k0" d="M1553.1 1203.4l11.6 0.2-12.3-9.3-11.6-0.2z"/>
<path class="k14" d="M615.7 787.1l11.6 8.5-12.3-13.3-11.5-8.7z"/>
<path class="k10" d="M745 891.9l11.6 7.9-12.3-11.7-11.6-8z"/>
<path class="k0" d="M1611.6 1213.2l11.6 0-12.3-9.3-11.6 0z"/>
<path class="k4" d="M1085.1 1083.8l11.6 3-12.3-9.9-11.5-3z"/>
<path class="k6" d="M979.7 1037.9l11.6 4.3-12.3-10.2-11.6-4.3z"/>
<path class="k12" d="M698.1 855.4l11.5 8.3-12.2-12.2-11.6-8.5z"/>
<path class="k2" d="M1307.6 1153.9l11.5 1.3-12.2-9.5-11.6-1.3z"/>
<path class="k1" d="M1366.1 1168l11.5 0.9-12.2-9.5-11.6-0.9z"/>
<path class="k2" d="M1249.1 1138.5l11.5 1.6-12.2-9.6-11.6-1.6z"/>
<path class="k15" d="M568.8 749.7l11.6 7.5-12.3-14.1-11.6-7.7z"/>
<path class="k1" d="M1424.6 1180.7l11.5 0.7-12.2-9.4-11.6-0.7z"/>
<path class="k3" d="M1190.6 1121.3l11.5 2.1-12.2-9.7-11.6-2.1z"/>
<path class="k17" d="M474.9 689.8l11.6 2.7-12.3-15.5-11.5-2.8z"/>
<path class="k1" d="M1483.1 1192.4l11.5 0.5-12.2-9.4-11.6-0.4z"/>
<path class="k5" d="M1026.7 1060.2l11.5 3.6-12.3-10-11.5-3.7z"/>
<path class="k16" d="M521.9 716.2l11.5 5.6-12.2-14.8-11.6-5.9z"/>
<path class="k0" d="M1541.6 1203.2l11.5 0.2-12.3-9.3-11.5-0.2z"/>
<path class="k13" d="M651.1 817.3l11.6 8.5-12.3-12.8-11.5-8.8z"/>
<path class="k4" d="M1132.1 1102.1l11.5 2.6-12.2-9.8-11.6-2.6z"/>
<path class="k9" d="M827.3 951.3l11.6 6.6-12.3-11-11.5-6.7z"/>
<path class="k8" d="M874.3 981.2l11.5 5.8-12.2-10.7-11.6-5.9z"/>
<path class="k10" d="M780.4 918.9l11.6 7.3-12.3-11.3-11.6-7.5z"/>
<path class="k0" d="M1600.1 1213.2l11.5 0-12.3-9.3-11.5 0z"/>
<path class="k7" d="M921.2 1008.5l11.6 5.1-12.3-10.4-11.6-5.2z"/>
<path class="k4" d="M1073.6 1080.6l11.5 3.2-12.2-9.9-11.6-3.2z"/>
<path class="k11" d="M733.5 884l11.5 7.9-12.3-11.8-11.5-8.1z"/>
<path class="k2" d="M1296 1152.6l11.6 1.3-12.3-9.5-11.5-1.3z"/>
<path class="k1" d="M1354.5 1167l11.6 1-12.3-9.5-11.6-1z"/>
<path class="k14" d="M604.2 779l11.5 8.1-12.2-13.5-11.6-8.4z"/>
<path class="k6" d="M968.2 1033.5l11.5 4.4-12.3-10.2-11.5-4.5z"/>
<path class="k1" d="M1413 1180l11.6 0.7-12.3-9.4-11.6-0.7z"/>
<path class="k2" d="M1237.5 1136.8l11.6 1.7-12.3-9.6-11.5-1.8z"/>
<path class="k1" d="M1471.5 1192l11.6 0.4-12.3-9.3-11.6-0.5z"/>
<path class="k3" d="M1179 1119.1l11.6 2.2-12.3-9.7-11.5-2.2z"/>
<path class="k17" d="M463.4 688.4l11.5 1.4-12.2-15.6-11.6-1.5z"/>
<path class="k12" d="M686.5 847l11.6 8.4-12.3-12.4-11.6-8.6z"/>
<path class="k0" d="M1530 1202.9l11.6 0.3-12.3-9.3-11.6-0.3z"/>
<path class="k16" d="M557.2 742.8l11.6 6.9-12.3-14.3-11.5-7.2z"/>
<path class="k5" d="M1015.1 1056.3l11.6 3.9-12.3-10.1-11.6-3.9z"/>
<path class="k4" d="M1120.5 1099.5l11.6 2.6-12.3-9.8-11.5-2.7z"/>
<path class="k17" d="M510.3 711.5l11.6 4.7-12.3-15.1-11.6-4.8z"/>
<path class="k0" d="M1588.5 1213.1l11.6 0.1-12.3-9.3-11.6-0.1z"/>
<path class="k8" d="M862.7 975.1l11.6 6.1-12.3-10.8-11.6-6.1z"/>
<path class="k9" d="M815.8 944.6l11.5 6.7-12.2-11.1-11.6-6.9z"/>
<path class="k13" d="M639.6 808.9l11.5 8.4-12.2-13.1-11.6-8.6z"/>
<path class="k2" d="M1343 1165.9l11.5 1.1-12.3-9.5-11.5-1.1z"/>
<path class="k7" d="M909.7 1003.2l11.5 5.3-12.3-10.5-11.5-5.4z"/>
<path class="k2" d="M1284.5 1151.2l11.5 1.4-12.2-9.5-11.6-1.5z"/>
<path class="k5" d="M1062 1077.3l11.6 3.3-12.3-9.9-11.5-3.4z"/>
<path class="k1" d="M1401.5 1179.2l11.5 0.8-12.3-9.4-11.5-0.8z"/>
<path class="k10" d="M768.8 911.4l11.6 7.5-12.3-11.5-11.5-7.6z"/>
<path class="k3" d="M1226 1134.9l11.5 1.9-12.2-9.7-11.6-1.8z"/>
<path class="k1" d="M1460 1191.4l11.5 0.6-12.3-9.4-11.5-0.6z"/>
<path class="k6" d="M956.6 1028.8l11.6 4.7-12.3-10.3-11.6-4.7z"/>
<path class="k18" d="M451.8 688.2l11.6 0.2-12.3-15.7-11.6-0.2z"/>
<path class="k3" d="M1167.5 1116.9l11.5 2.2-12.2-9.7-11.6-2.3z"/>
<path class="k0" d="M1518.5 1202.6l11.5 0.3-12.3-9.3-11.5-0.3z"/>
<path class="k11" d="M721.9 875.9l11.6 8.1-12.3-12-11.6-8.3z"/>
<path class="k15" d="M592.6 771.3l11.6 7.7-12.3-13.8-11.5-8z"/>
<path class="k0" d="M1576.9 1213l11.6 0.1-12.3-9.3-11.5-0.2z"/>
<path class="k5" d="M1003.5 1052.3l11.6 4-12.3-10.1-11.5-4z"/>
<path class="k4" d="M1109 1096.6l11.5 2.9-12.2-9.9-11.6-2.8z"/>
<path class="k16" d="M545.7 736.6l11.5 6.2-12.2-14.6-11.6-6.4z"/>
<path class="k17" d="M498.8 707.9l11.5 3.6-12.3-15.2-11.5-3.8z"/>
<path class="k12" d="M675 838.6l11.5 8.4-12.3-12.6-11.5-8.6z"/>
<path class="k0" d="M1635.4 1222.5l11.6 0-12.3-9.3-11.5 0z"/>
<path class="k2" d="M1331.4 1164.7l11.6 1.2-12.3-9.5-11.6-1.2zM1272.9 1149.7l11.6 1.5-12.3-9.6-11.6-1.5z"/>
<path class="k1" d="M1389.9 1178.4l11.6 0.8-12.3-9.4-11.6-0.9zM1448.4 1190.8l11.6 0.6-12.3-9.4-11.6-0.6z"/>
<path class="k3" d="M1214.4 1133l11.6 1.9-12.3-9.6-11.6-1.9z"/>
<path class="k8" d="M851.2 968.9l11.5 6.2-12.3-10.8-11.5-6.4z"/>
<path class="k5" d="M1050.5 1073.9l11.5 3.4-12.2-10-11.6-3.5z"/>
<path class="k9" d="M804.2 937.6l11.6 7-12.3-11.3-11.5-7.1z"/>
<path class="k7" d="M898.1 997.7l11.6 5.5-12.3-10.6-11.6-5.6z"/>
<path class="k1" d="M1506.9 1202.3l11.6 0.3-12.3-9.3-11.6-0.4z"/>
<path class="k14" d="M628 800.7l11.6 8.2-12.3-13.3-11.6-8.5z"/>
<path class="k3" d="M1155.9 1114.5l11.6 2.4-12.3-9.8-11.6-2.4z"/>
<path class="k10" d="M757.3 903.8l11.5 7.6-12.2-11.6-11.6-7.9z"/>
<path class="k6" d="M945 1024l11.6 4.8-12.3-10.3-11.5-4.9z"/>
<path class="k0" d="M1565.4 1212.8l11.5 0.2-12.2-9.4-11.6-0.2z"/>
<path class="k4" d="M1097.4 1093.7l11.6 2.9-12.3-9.8-11.6-3z"/>
<path class="k15" d="M581.1 764l11.5 7.3-12.2-14.1-11.6-7.5z"/>
<path class="k0" d="M1623.9 1222.5l11.5 0-12.2-9.3-11.6 0z"/>
<path class="k12" d="M710.3 867.8l11.6 8.1-12.3-12.2-11.5-8.3z"/>
<path class="k6" d="M992 1048.1l11.5 4.2-12.2-10.1-11.6-4.3z"/>
<path class="k17" d="M487.2 705.3l11.6 2.6-12.3-15.4-11.6-2.7z"/>
<path class="k2" d="M1319.8 1163.5l11.6 1.2-12.3-9.5-11.5-1.3z"/>
<path class="k1" d="M1378.3 1177.4l11.6 1-12.3-9.5-11.5-0.9z"/>
<path class="k16" d="M534.1 731.2l11.6 5.4-12.3-14.8-11.5-5.6z"/>
<path class="k2" d="M1261.4 1148.1l11.5 1.6-12.3-9.6-11.5-1.6z"/>
<path class="k1" d="M1436.8 1190.2l11.6 0.6-12.3-9.4-11.5-0.7z"/>
<path class="k3" d="M1202.9 1131l11.5 2-12.3-9.6-11.5-2.1z"/>
<path class="k1" d="M1495.3 1201.8l11.6 0.5-12.3-9.4-11.5-0.5z"/>
<path class="k13" d="M663.4 830.3l11.6 8.3-12.3-12.8-11.6-8.5z"/>
<path class="k5" d="M1038.9 1070.3l11.6 3.6-12.3-10.1-11.5-3.6z"/>
<path class="k8" d="M839.6 962.4l11.6 6.5-12.3-11-11.6-6.6z"/>
<path class="k4" d="M1144.4 1111.9l11.5 2.6-12.3-9.8-11.5-2.6z"/>
<path class="k0" d="M1553.8 1212.6l11.6 0.2-12.3-9.4-11.5-0.2z"/>
<path class="k7" d="M886.5 991.9l11.6 5.8-12.3-10.7-11.5-5.8z"/>
<path class="k10" d="M792.7 930.4l11.5 7.2-12.2-11.4-11.6-7.3z"/>
<path class="k7" d="M933.5 1019l11.5 5-12.2-10.4-11.6-5.1z"/>
<path class="k0" d="M1612.3 1222.5l11.6 0-12.3-9.3-11.5 0z"/>
<path class="k14" d="M616.5 792.8l11.5 7.9-12.3-13.6-11.5-8.1z"/>
<path class="k11" d="M745.7 896l11.6 7.8-12.3-11.9-11.5-7.9z"/>
<path class="k4" d="M1085.9 1090.6l11.5 3.1-12.3-9.9-11.5-3.2z"/>
<path class="k17" d="M475.6 704l11.6 1.3-12.3-15.5-11.5-1.4z"/>
<path class="k2" d="M1308.3 1162.2l11.5 1.3-12.2-9.6-11.6-1.3z"/>
<path class="k1" d="M1366.8 1176.5l11.5 0.9-12.2-9.4-11.6-1z"/>
<path class="k6" d="M980.4 1043.8l11.6 4.3-12.3-10.2-11.5-4.4z"/>
<path class="k2" d="M1249.8 1146.4l11.6 1.7-12.3-9.6-11.6-1.7z"/>
<path class="k1" d="M1425.3 1189.5l11.5 0.7-12.2-9.5-11.6-0.7z"/>
<path class="k15" d="M569.5 757.3l11.6 6.7-12.3-14.3-11.6-6.9z"/>
<path class="k1" d="M1483.8 1201.4l11.5 0.4-12.2-9.4-11.6-0.4z"/>
<path class="k12" d="M698.8 859.6l11.5 8.2-12.2-12.4-11.6-8.4z"/>
<path class="k3" d="M1191.3 1128.9l11.6 2.1-12.3-9.7-11.6-2.2z"/>
<path class="k16" d="M522.6 726.7l11.5 4.5-12.2-15-11.6-4.7z"/>
<path class="k0" d="M1542.3 1212.3l11.5 0.3-12.2-9.4-11.6-0.3z"/>
<path class="k5" d="M1027.4 1066.5l11.5 3.8-12.2-10.1-11.6-3.9z"/>
<path class="k4" d="M1132.8 1109.3l11.6 2.6-12.3-9.8-11.6-2.6z"/>
<path class="k0" d="M1600.8 1222.4l11.5 0.1-12.2-9.3-11.6-0.1z"/>
<path class="k13" d="M651.8 822.2l11.6 8.1-12.3-13-11.5-8.4z"/>
<path class="k8" d="M875 986l11.5 5.9-12.2-10.7-11.6-6.1z"/>
<path class="k9" d="M828 955.8l11.6 6.6-12.3-11.1-11.5-6.7z"/>
<path class="k17" d="M464.1 703.9l11.5 0.1-12.2-15.6-11.6-0.2z"/>
<path class="k7" d="M921.9 1013.8l11.6 5.2-12.3-10.5-11.5-5.3z"/>
<path class="k10" d="M781.1 923.1l11.6 7.3-12.3-11.5-11.6-7.5z"/>
<path class="k2" d="M1355.2 1175.4l11.6 1.1-12.3-9.5-11.5-1.1zM1296.7 1160.8l11.6 1.4-12.3-9.6-11.5-1.4z"/>
<path class="k4" d="M1074.3 1087.3l11.6 3.3-12.3-10-11.6-3.3z"/>
<path class="k1" d="M1413.7 1188.7l11.6 0.8-12.3-9.5-11.5-0.8z"/>
<path class="k3" d="M1238.2 1144.6l11.6 1.8-12.3-9.6-11.5-1.9z"/>
<path class="k14" d="M604.9 785.3l11.6 7.5-12.3-13.8-11.6-7.7z"/>
<path class="k1" d="M1472.2 1200.8l11.6 0.6-12.3-9.4-11.5-0.6z"/>
<path class="k6" d="M968.9 1039.2l11.5 4.6-12.2-10.3-11.6-4.7z"/>
<path class="k11" d="M734.2 888.1l11.5 7.9-12.2-12-11.6-8.1z"/>
<path class="k3" d="M1179.7 1126.6l11.6 2.3-12.3-9.8-11.5-2.2z"/>
<path class="k0" d="M1530.7 1212l11.6 0.3-12.3-9.4-11.5-0.3z"/>
<path class="k17" d="M511 723.2l11.6 3.5-12.3-15.2-11.5-3.6z"/>
<path class="k16" d="M558 751.4l11.5 5.9-12.3-14.5-11.5-6.2z"/>
<path class="k0" d="M1589.2 1222.3l11.6 0.1-12.3-9.3-11.6-0.1z"/>
<path class="k5" d="M1015.8 1062.5l11.6 4-12.3-10.2-11.6-4z"/>
<path class="k12" d="M687.2 851.4l11.6 8.2-12.3-12.6-11.5-8.4z"/>
<path class="k4" d="M1121.2 1106.5l11.6 2.8-12.3-9.8-11.5-2.9z"/>
<path class="k2" d="M1343.7 1174.3l11.5 1.1-12.2-9.5-11.6-1.2zM1285.2 1159.3l11.5 1.5-12.2-9.6-11.6-1.5z"/>
<path class="k1" d="M1402.2 1187.8l11.5 0.9-12.2-9.5-11.6-0.8z"/>
<path class="k8" d="M863.4 979.9l11.6 6.1-12.3-10.9-11.5-6.2z"/>
<path class="k14" d="M640.3 814.2l11.5 8-12.2-13.3-11.6-8.2z"/>
<path class="k9" d="M816.5 949l11.5 6.8-12.2-11.2-11.6-7z"/>
<path class="k5" d="M1062.8 1083.9l11.5 3.4-12.3-10-11.5-3.4z"/>
<path class="k1" d="M1460.7 1200.3l11.5 0.5-12.2-9.4-11.6-0.6z"/>
<path class="k3" d="M1226.7 1142.7l11.5 1.9-12.2-9.7-11.6-1.9z"/>
<path class="k7" d="M910.4 1008.4l11.5 5.4-12.2-10.6-11.6-5.5z"/>
<path class="k10" d="M769.6 915.6l11.5 7.5-12.3-11.7-11.5-7.6z"/>
<path class="k0" d="M1519.2 1211.6l11.5 0.4-12.2-9.4-11.6-0.3z"/>
<path class="k3" d="M1168.2 1124.3l11.5 2.3-12.2-9.7-11.6-2.4z"/>
<path class="k6" d="M957.3 1034.5l11.6 4.7-12.3-10.4-11.6-4.8z"/>
<path class="k15" d="M593.3 778.3l11.6 7-12.3-14-11.5-7.3z"/>
<path class="k17" d="M499.5 720.8l11.5 2.4-12.2-15.3-11.6-2.6z"/>
<path class="k0" d="M1577.7 1222.1l11.5 0.2-12.3-9.3-11.5-0.2z"/>
<path class="k11" d="M722.6 880.2l11.6 7.9-12.3-12.2-11.6-8.1z"/>
<path class="k16" d="M546.4 746.2l11.6 5.2-12.3-14.8-11.6-5.4z"/>
<path class="k4" d="M1109.7 1103.6l11.5 2.9-12.2-9.9-11.6-2.9z"/>
<path class="k6" d="M1004.3 1058.4l11.5 4.1-12.3-10.2-11.5-4.2z"/>
<path class="k2" d="M1332.1 1173l11.6 1.3-12.3-9.6-11.6-1.2z"/>
<path class="k1" d="M1390.6 1186.9l11.6 0.9-12.3-9.4-11.6-1z"/>
<path class="k2" d="M1273.6 1157.7l11.6 1.6-12.3-9.6-11.5-1.6z"/>
<path class="k13" d="M675.7 843.4l11.5 8-12.2-12.8-11.6-8.3z"/>
<path class="k1" d="M1449.1 1199.6l11.6 0.7-12.3-9.5-11.6-0.6z"/>
<path class="k3" d="M1215.1 1140.7l11.6 2-12.3-9.7-11.5-2z"/>
<path class="k5" d="M1051.2 1080.3l11.6 3.6-12.3-10-11.6-3.6z"/>
<path class="k1" d="M1507.6 1211.2l11.6 0.4-12.3-9.3-11.6-0.5z"/>
<path class="k8" d="M851.9 973.6l11.5 6.3-12.2-11-11.6-6.5z"/>
<path class="k7" d="M898.8 1002.7l11.6 5.7-12.3-10.7-11.6-5.8z"/>
<path class="k4" d="M1156.6 1121.8l11.6 2.5-12.3-9.8-11.5-2.6z"/>
<path class="k9" d="M804.9 941.9l11.6 7.1-12.3-11.4-11.5-7.2z"/>
<path class="k0" d="M1566.1 1221.9l11.6 0.2-12.3-9.3-11.6-0.2z"/>
<path class="k14" d="M628.7 806.6l11.6 7.6-12.3-13.5-11.5-7.9z"/>
<path class="k17" d="M487.9 719.6l11.6 1.2-12.3-15.5-11.6-1.3z"/>
<path class="k7" d="M945.8 1029.5l11.5 5-12.3-10.5-11.5-5z"/>
<path class="k11" d="M758 908l11.6 7.6-12.3-11.8-11.6-7.8z"/>
<path class="k15" d="M581.8 771.9l11.5 6.4-12.2-14.3-11.6-6.7z"/>
<path class="k4" d="M1098.1 1100.5l11.6 3.1-12.3-9.9-11.5-3.1z"/>
<path class="k16" d="M534.9 741.9l11.5 4.3-12.3-15-11.5-4.5z"/>
<path class="k6" d="M992.7 1054.1l11.6 4.3-12.3-10.3-11.6-4.3z"/>
<path class="k2" d="M1320.6 1171.7l11.5 1.3-12.3-9.5-11.5-1.3z"/>
<path class="k1" d="M1379.1 1186l11.5 0.9-12.3-9.5-11.5-0.9z"/>
<path class="k12" d="M711.1 872.2l11.5 8-12.3-12.4-11.5-8.2z"/>
<path class="k2" d="M1262.1 1156l11.5 1.7-12.2-9.6-11.6-1.7z"/>
<path class="k1" d="M1437.6 1198.9l11.5 0.7-12.3-9.4-11.5-0.7zM1496.1 1210.8l11.5 0.4-12.3-9.4-11.5-0.4z"/>
<path class="k3" d="M1203.6 1138.6l11.5 2.1-12.2-9.7-11.6-2.1z"/>
<path class="k5" d="M1039.6 1076.6l11.6 3.7-12.3-10-11.5-3.8z"/>
<path class="k0" d="M1554.6 1221.7l11.5 0.2-12.3-9.3-11.5-0.3z"/>
<path class="k13" d="M664.1 835.5l11.6 7.9-12.3-13.1-11.6-8.1z"/>
<path class="k4" d="M1145.1 1119.2l11.5 2.6-12.2-9.9-11.6-2.6z"/>
<path class="k17" d="M476.4 719.6l11.5 0-12.3-15.6-11.5-0.1z"/>
<path class="k9" d="M840.3 967l11.6 6.6-12.3-11.2-11.6-6.6z"/>
<path class="k8" d="M887.3 996.9l11.5 5.8-12.3-10.8-11.5-5.9z"/>
<path class="k10" d="M793.4 934.8l11.5 7.1-12.2-11.5-11.6-7.3z"/>
<path class="k7" d="M934.2 1024.4l11.6 5.1-12.3-10.5-11.6-5.2z"/>
<path class="k14" d="M617.2 799.4l11.5 7.2-12.2-13.8-11.6-7.5z"/>
<path class="k4" d="M1086.6 1097.3l11.5 3.2-12.2-9.9-11.6-3.3z"/>
<path class="k2" d="M1367.5 1184.9l11.6 1.1-12.3-9.5-11.6-1.1zM1309 1170.4l11.6 1.3-12.3-9.5-11.6-1.4z"/>
<path class="k1" d="M1426 1198.2l11.6 0.7-12.3-9.4-11.6-0.8z"/>
<path class="k11" d="M746.4 900.3l11.6 7.7-12.3-12-11.5-7.9z"/>
<path class="k16" d="M523.3 738.6l11.6 3.3-12.3-15.2-11.6-3.5z"/>
<path class="k3" d="M1250.5 1154.3l11.6 1.7-12.3-9.6-11.6-1.8z"/>
<path class="k15" d="M570.2 766.1l11.6 5.8-12.3-14.6-11.5-5.9z"/>
<path class="k6" d="M981.1 1049.6l11.6 4.5-12.3-10.3-11.5-4.6z"/>
<path class="k1" d="M1484.5 1210.3l11.6 0.5-12.3-9.4-11.6-0.6z"/>
<path class="k3" d="M1192 1136.4l11.6 2.2-12.3-9.7-11.6-2.3z"/>
<path class="k0" d="M1543 1221.4l11.6 0.3-12.3-9.4-11.6-0.3z"/>
<path class="k12" d="M699.5 864.3l11.6 7.9-12.3-12.6-11.6-8.2z"/>
<path class="k5" d="M1028.1 1072.7l11.5 3.9-12.2-10.1-11.6-4z"/>
<path class="k4" d="M1133.5 1116.4l11.6 2.8-12.3-9.9-11.6-2.8z"/>
<path class="k13" d="M652.6 827.8l11.5 7.7-12.3-13.3-11.5-8z"/>
<path class="k2" d="M1355.9 1183.8l11.6 1.1-12.3-9.5-11.5-1.1z"/>
<path class="k8" d="M875.7 990.9l11.6 6-12.3-10.9-11.6-6.1z"/>
<path class="k2" d="M1297.5 1168.9l11.5 1.5-12.3-9.6-11.5-1.5z"/>
<path class="k9" d="M828.8 960.4l11.5 6.6-12.3-11.2-11.5-6.8z"/>
<path class="k1" d="M1414.4 1197.3l11.6 0.9-12.3-9.5-11.5-0.9z"/>
<path class="k5" d="M1075 1094l11.6 3.3-12.3-10-11.5-3.4z"/>
<path class="k7" d="M922.6 1019.1l11.6 5.3-12.3-10.6-11.5-5.4z"/>
<path class="k3" d="M1239 1152.4l11.5 1.9-12.3-9.7-11.5-1.9z"/>
<path class="k1" d="M1472.9 1209.7l11.6 0.6-12.3-9.5-11.5-0.5z"/>
<path class="k10" d="M781.8 927.5l11.6 7.3-12.3-11.7-11.5-7.5z"/>
<path class="k17" d="M511.7 736.3l11.6 2.3-12.3-15.4-11.5-2.4z"/>
<path class="k15" d="M605.6 792.6l11.6 6.8-12.3-14.1-11.6-7z"/>
<path class="k0" d="M1531.4 1221l11.6 0.4-12.3-9.4-11.5-0.4z"/>
<path class="k6" d="M969.6 1044.9l11.5 4.7-12.2-10.4-11.6-4.7z"/>
<path class="k3" d="M1180.5 1134.1l11.5 2.3-12.3-9.8-11.5-2.3z"/>
<path class="k16" d="M558.7 761.1l11.5 5-12.2-14.7-11.6-5.2z"/>
<path class="k11" d="M734.9 892.6l11.5 7.7-12.2-12.2-11.6-7.9z"/>
<path class="k4" d="M1122 1113.5l11.5 2.9-12.3-9.9-11.5-2.9z"/>
<path class="k6" d="M1016.5 1068.7l11.6 4-12.3-10.2-11.5-4.1z"/>
<path class="k13" d="M687.9 856.5l11.6 7.8-12.3-12.9-11.5-8z"/>
<path class="k2" d="M1344.4 1182.6l11.5 1.2-12.2-9.5-11.6-1.3z"/>
<path class="k1" d="M1402.9 1196.4l11.5 0.9-12.2-9.5-11.6-0.9z"/>
<path class="k2" d="M1285.9 1167.3l11.6 1.6-12.3-9.6-11.6-1.6z"/>
<path class="k1" d="M1461.4 1209.1l11.5 0.6-12.2-9.4-11.6-0.7z"/>
<path class="k3" d="M1227.4 1150.4l11.6 2-12.3-9.7-11.6-2z"/>
<path class="k17" d="M500.2 735.2l11.5 1.1-12.2-15.5-11.6-1.2z"/>
<path class="k5" d="M1063.5 1090.5l11.5 3.5-12.2-10.1-11.6-3.6z"/>
<path class="k14" d="M641 820.4l11.6 7.4-12.3-13.6-11.6-7.6z"/>
<path class="k1" d="M1519.9 1220.6l11.5 0.4-12.2-9.4-11.6-0.4z"/>
<path class="k8" d="M864.1 984.7l11.6 6.2-12.3-11-11.5-6.3z"/>
<path class="k9" d="M817.2 953.5l11.6 6.9-12.3-11.4-11.6-7.1z"/>
<path class="k7" d="M911.1 1013.6l11.5 5.5-12.2-10.7-11.6-5.7z"/>
<path class="k4" d="M1168.9 1131.6l11.6 2.5-12.3-9.8-11.6-2.5z"/>
<path class="k15" d="M594.1 786.4l11.5 6.2-12.3-14.3-11.5-6.4z"/>
<path class="k10" d="M770.3 920.1l11.5 7.4-12.2-11.9-11.6-7.6z"/>
<path class="k7" d="M958 1040.1l11.6 4.8-12.3-10.4-11.5-5z"/>
<path class="k16" d="M547.1 757l11.6 4.1-12.3-14.9-11.5-4.3z"/>
<path class="k4" d="M1110.4 1110.5l11.6 3-12.3-9.9-11.6-3.1z"/>
<path class="k12" d="M723.3 884.8l11.6 7.8-12.3-12.4-11.5-8z"/>
<path class="k6" d="M1005 1064.4l11.5 4.3-12.2-10.3-11.6-4.3z"/>
<path class="k2" d="M1332.8 1181.3l11.6 1.3-12.3-9.6-11.5-1.3z"/>
<path class="k1" d="M1391.3 1195.5l11.6 0.9-12.3-9.5-11.5-0.9z"/>
<path class="k2" d="M1274.3 1165.7l11.6 1.6-12.3-9.6-11.5-1.7z"/>
<path class="k1" d="M1449.8 1208.4l11.6 0.7-12.3-9.5-11.5-0.7z"/>
<path class="k17" d="M488.6 735.2l11.6 0-12.3-15.6-11.5 0z"/>
<path class="k3" d="M1215.8 1148.4l11.6 2-12.3-9.7-11.5-2.1z"/>
<path class="k1" d="M1508.3 1220.2l11.6 0.4-12.3-9.4-11.5-0.4z"/>
<path class="k13" d="M676.4 848.8l11.5 7.7-12.2-13.1-11.6-7.9z"/>
<path class="k5" d="M1051.9 1086.8l11.6 3.7-12.3-10.2-11.6-3.7z"/>
<path class="k4" d="M1157.3 1129l11.6 2.6-12.3-9.8-11.5-2.6z"/>
<path class="k9" d="M852.6 978.3l11.5 6.4-12.2-11.1-11.6-6.6z"/>
<path class="k14" d="M629.4 813.4l11.6 7-12.3-13.8-11.5-7.2z"/>
<path class="k8" d="M899.5 1007.8l11.6 5.8-12.3-10.9-11.5-5.8z"/>
<path class="k10" d="M805.7 946.5l11.5 7-12.3-11.6-11.5-7.1z"/>
<path class="k16" d="M535.6 753.9l11.5 3.1-12.2-15.1-11.6-3.3z"/>
<path class="k7" d="M946.5 1035l11.5 5.1-12.2-10.6-11.6-5.1z"/>
<path class="k15" d="M582.5 780.8l11.6 5.6-12.3-14.5-11.6-5.8z"/>
<path class="k11" d="M758.7 912.6l11.6 7.5-12.3-12.1-11.6-7.7z"/>
<path class="k4" d="M1098.8 1107.3l11.6 3.2-12.3-10-11.5-3.2z"/>
<path class="k2" d="M1379.8 1194.4l11.5 1.1-12.2-9.5-11.6-1.1zM1321.3 1180l11.5 1.3-12.2-9.6-11.6-1.3z"/>
<path class="k1" d="M1438.3 1207.6l11.5 0.8-12.2-9.5-11.6-0.7z"/>
<path class="k3" d="M1262.8 1163.9l11.5 1.8-12.2-9.7-11.6-1.7z"/>
<path class="k6" d="M993.4 1060l11.6 4.4-12.3-10.3-11.6-4.5z"/>
<path class="k1" d="M1496.8 1219.7l11.5 0.5-12.2-9.4-11.6-0.5z"/>
<path class="k12" d="M711.8 877.1l11.5 7.7-12.2-12.6-11.6-7.9z"/>
<path class="k3" d="M1204.3 1146.2l11.5 2.2-12.2-9.8-11.6-2.2z"/>
<path class="k5" d="M1040.4 1083l11.5 3.8-12.3-10.2-11.5-3.9z"/>
<path class="k4" d="M1145.8 1126.3l11.5 2.7-12.2-9.8-11.6-2.8z"/>
<path class="k13" d="M664.8 841.3l11.6 7.5-12.3-13.3-11.5-7.7z"/>
<path class="k16" d="M524 751.7l11.6 2.2-12.3-15.3-11.6-2.3z"/>
<path class="k8" d="M888 1002l11.5 5.8-12.2-10.9-11.6-6z"/>
<path class="k9" d="M841 971.8l11.6 6.5-12.3-11.3-11.5-6.6z"/>
<path class="k14" d="M617.9 806.8l11.5 6.6-12.2-14-11.6-6.8z"/>
<path class="k2" d="M1368.2 1193.3l11.6 1.1-12.3-9.5-11.6-1.1zM1309.7 1178.5l11.6 1.5-12.3-9.6-11.5-1.5z"/>
<path class="k1" d="M1426.7 1206.8l11.6 0.8-12.3-9.4-11.6-0.9z"/>
<path class="k7" d="M934.9 1029.8l11.6 5.2-12.3-10.6-11.6-5.3z"/>
<path class="k10" d="M794.1 939.4l11.6 7.1-12.3-11.7-11.6-7.3z"/>
<path class="k5" d="M1087.3 1104l11.5 3.3-12.2-10-11.6-3.3z"/>
<path class="k16" d="M571 776.1l11.5 4.7-12.3-14.7-11.5-5z"/>
<path class="k3" d="M1251.2 1162.1l11.6 1.8-12.3-9.6-11.5-1.9z"/>
<path class="k1" d="M1485.2 1219.1l11.6 0.6-12.3-9.4-11.6-0.6z"/>
<path class="k6" d="M981.9 1055.4l11.5 4.6-12.3-10.4-11.5-4.7z"/>
<path class="k11" d="M747.2 905l11.5 7.6-12.3-12.3-11.5-7.7z"/>
<path class="k3" d="M1192.7 1143.9l11.6 2.3-12.3-9.8-11.5-2.3z"/>
<path class="k12" d="M700.2 869.5l11.6 7.6-12.3-12.8-11.6-7.8z"/>
<path class="k5" d="M1028.8 1079l11.6 4-12.3-10.3-11.6-4z"/>
<path class="k4" d="M1134.2 1123.5l11.6 2.8-12.3-9.9-11.5-2.9z"/>
<path class="k16" d="M512.5 750.7l11.5 1-12.3-15.4-11.5-1.1z"/>
<path class="k2" d="M1356.7 1192.2l11.5 1.1-12.3-9.5-11.5-1.2z"/>
<path class="k14" d="M653.3 834.2l11.5 7.1-12.2-13.5-11.6-7.4z"/>
<path class="k1" d="M1415.2 1205.9l11.5 0.9-12.3-9.5-11.5-0.9z"/>
<path class="k2" d="M1298.2 1177l11.5 1.5-12.2-9.6-11.6-1.6z"/>
<path class="k1" d="M1473.7 1218.5l11.5 0.6-12.3-9.4-11.5-0.6z"/>
<path class="k3" d="M1239.7 1160.2l11.5 1.9-12.2-9.7-11.6-2z"/>
<path class="k8" d="M876.4 995.9l11.6 6.1-12.3-11.1-11.6-6.2z"/>
<path class="k5" d="M1075.7 1100.6l11.6 3.4-12.3-10-11.5-3.5z"/>
<path class="k9" d="M829.5 965.1l11.5 6.7-12.2-11.4-11.6-6.9z"/>
<path class="k15" d="M606.3 800.9l11.6 5.9-12.3-14.2-11.5-6.2z"/>
<path class="k16" d="M559.4 772.1l11.6 4-12.3-15-11.6-4.1z"/>
<path class="k7" d="M923.4 1024.4l11.5 5.4-12.3-10.7-11.5-5.5z"/>
<path class="k10" d="M782.5 932.1l11.6 7.3-12.3-11.9-11.5-7.4z"/>
<path class="k3" d="M1181.2 1141.4l11.5 2.5-12.2-9.8-11.6-2.5z"/>
<path class="k6" d="M970.3 1050.7l11.6 4.7-12.3-10.5-11.6-4.8z"/>
<path class="k12" d="M735.6 897.5l11.6 7.5-12.3-12.4-11.6-7.8z"/>
<path class="k4" d="M1122.7 1120.5l11.5 3-12.2-10-11.6-3z"/>
<path class="k17" d="M500.9 750.8l11.6-0.1-12.3-15.5-11.6 0z"/>
<path class="k6" d="M1017.2 1074.8l11.6 4.2-12.3-10.3-11.5-4.3z"/>
<path class="k2" d="M1345.1 1190.9l11.6 1.3-12.3-9.6-11.6-1.3z"/>
<path class="k1" d="M1403.6 1205l11.6 0.9-12.3-9.5-11.6-0.9z"/>
<path class="k13" d="M688.7 862.1l11.5 7.4-12.3-13-11.5-7.7z"/>
<path class="k2" d="M1286.6 1175.3l11.6 1.7-12.3-9.7-11.6-1.6z"/>
<path class="k1" d="M1462.1 1217.8l11.6 0.7-12.3-9.4-11.6-0.7z"/>
<path class="k3" d="M1228.1 1158.1l11.6 2.1-12.3-9.8-11.6-2z"/>
<path class="k5" d="M1064.2 1097l11.5 3.6-12.2-10.1-11.6-3.7z"/>
<path class="k14" d="M641.7 827.4l11.6 6.8-12.3-13.8-11.6-7z"/>
<path class="k16" d="M547.8 769.1l11.6 3-12.3-15.1-11.5-3.1z"/>
<path class="k9" d="M864.9 989.6l11.5 6.3-12.3-11.2-11.5-6.4z"/>
<path class="k4" d="M1169.6 1138.9l11.6 2.5-12.3-9.8-11.6-2.6z"/>
<path class="k15" d="M594.8 795.5l11.5 5.4-12.2-14.5-11.6-5.6z"/>
<path class="k8" d="M911.8 1018.8l11.6 5.6-12.3-10.8-11.6-5.8z"/>
<path class="k10" d="M817.9 958.2l11.6 6.9-12.3-11.6-11.5-7z"/>
<path class="k7" d="M958.7 1045.7l11.6 5-12.3-10.6-11.5-5.1z"/>
<path class="k11" d="M771 924.8l11.5 7.3-12.2-12-11.6-7.5z"/>
<path class="k4" d="M1111.1 1117.4l11.6 3.1-12.3-10-11.6-3.2z"/>
<path class="k2" d="M1392 1204l11.6 1-12.3-9.5-11.5-1.1zM1333.6 1189.6l11.5 1.3-12.3-9.6-11.5-1.3z"/>
<path class="k6" d="M1005.7 1070.4l11.5 4.4-12.2-10.4-11.6-4.4z"/>
<path class="k1" d="M1450.5 1217.1l11.6 0.7-12.3-9.4-11.5-0.8z"/>
<path class="k12" d="M724 890l11.6 7.5-12.3-12.7-11.5-7.7z"/>
<path class="k3" d="M1275.1 1173.6l11.5 1.7-12.3-9.6-11.5-1.8zM1216.6 1156l11.5 2.1-12.3-9.7-11.5-2.2z"/>
<path class="k13" d="M677.1 854.9l11.6 7.2-12.3-13.3-11.6-7.5z"/>
<path class="k5" d="M1052.6 1093.2l11.6 3.8-12.3-10.2-11.5-3.8z"/>
<path class="k16" d="M536.3 767.1l11.5 2-12.2-15.2-11.6-2.2z"/>
<path class="k4" d="M1158.1 1136.2l11.5 2.7-12.3-9.9-11.5-2.7z"/>
<path class="k14" d="M630.2 821.1l11.5 6.3-12.3-14-11.5-6.6z"/>
<path class="k15" d="M583.2 791l11.6 4.5-12.3-14.7-11.5-4.7z"/>
<path class="k9" d="M853.3 983.2l11.6 6.4-12.3-11.3-11.6-6.5z"/>
<path class="k8" d="M900.2 1013l11.6 5.8-12.3-11-11.5-5.8z"/>
<path class="k10" d="M806.4 951.3l11.5 6.9-12.2-11.7-11.6-7.1z"/>
<path class="k7" d="M947.2 1040.6l11.5 5.1-12.2-10.7-11.6-5.2z"/>
<path class="k2" d="M1380.5 1202.9l11.5 1.1-12.2-9.6-11.6-1.1zM1322 1188.1l11.6 1.5-12.3-9.6-11.6-1.5z"/>
<path class="k1" d="M1439 1216.3l11.5 0.8-12.2-9.5-11.6-0.8z"/>
<path class="k5" d="M1099.6 1114.1l11.5 3.3-12.3-10.1-11.5-3.3z"/>
<path class="k3" d="M1263.5 1171.8l11.6 1.8-12.3-9.7-11.6-1.8z"/>
<path class="k11" d="M759.4 917.5l11.6 7.3-12.3-12.2-11.5-7.6z"/>
<path class="k6" d="M994.1 1065.9l11.6 4.5-12.3-10.4-11.5-4.6z"/>
<path class="k3" d="M1205 1153.7l11.6 2.3-12.3-9.8-11.6-2.3z"/>
<path class="k12" d="M712.5 882.6l11.5 7.4-12.2-12.9-11.6-7.6z"/>
<path class="k16" d="M524.7 766.2l11.6 0.9-12.3-15.4-11.5-1z"/>
<path class="k5" d="M1041.1 1089.3l11.5 3.9-12.2-10.2-11.6-4z"/>
<path class="k4" d="M1146.5 1133.4l11.6 2.8-12.3-9.9-11.6-2.8z"/>
<path class="k13" d="M665.5 848l11.6 6.9-12.3-13.6-11.5-7.1z"/>
<path class="k16" d="M571.7 787.2l11.5 3.8-12.2-14.9-11.6-4z"/>
<path class="k2" d="M1368.9 1201.7l11.6 1.2-12.3-9.6-11.5-1.1z"/>
<path class="k15" d="M618.6 815.3l11.6 5.8-12.3-14.3-11.6-5.9z"/>
<path class="k1" d="M1427.4 1215.4l11.6 0.9-12.3-9.5-11.5-0.9z"/>
<path class="k2" d="M1310.4 1186.6l11.6 1.5-12.3-9.6-11.5-1.5z"/>
<path class="k8" d="M888.7 1007.1l11.5 5.9-12.2-11-11.6-6.1z"/>
<path class="k9" d="M841.8 976.7l11.5 6.5-12.3-11.4-11.5-6.7z"/>
<path class="k3" d="M1251.9 1169.9l11.6 1.9-12.3-9.7-11.5-1.9z"/>
<path class="k5" d="M1088 1110.7l11.6 3.4-12.3-10.1-11.6-3.4z"/>
<path class="k7" d="M935.6 1035.2l11.6 5.4-12.3-10.8-11.5-5.4z"/>
<path class="k10" d="M794.8 944.2l11.6 7.1-12.3-11.9-11.6-7.3z"/>
<path class="k3" d="M1193.4 1151.3l11.6 2.4-12.3-9.8-11.5-2.5z"/>
<path class="k6" d="M982.6 1061.2l11.5 4.7-12.2-10.5-11.6-4.7z"/>
<path class="k16" d="M513.2 766.3l11.5-0.1-12.2-15.5-11.6 0.1z"/>
<path class="k11" d="M747.9 910.2l11.5 7.3-12.2-12.5-11.6-7.5z"/>
<path class="k4" d="M1134.9 1130.5l11.6 2.9-12.3-9.9-11.5-3z"/>
<path class="k13" d="M700.9 875.4l11.6 7.2-12.3-13.1-11.5-7.4z"/>
<path class="k6" d="M1029.5 1085.2l11.6 4.1-12.3-10.3-11.6-4.2z"/>
<path class="k2" d="M1357.4 1200.5l11.5 1.2-12.2-9.5-11.6-1.3z"/>
<path class="k1" d="M1415.9 1214.5l11.5 0.9-12.2-9.5-11.6-0.9z"/>
<path class="k2" d="M1298.9 1185l11.5 1.6-12.2-9.6-11.6-1.7z"/>
<path class="k16" d="M560.1 784.3l11.6 2.9-12.3-15.1-11.6-3z"/>
<path class="k14" d="M654 841.4l11.5 6.6-12.2-13.8-11.6-6.8z"/>
<path class="k3" d="M1240.4 1167.9l11.5 2-12.2-9.7-11.6-2.1z"/>
<path class="k15" d="M607.1 810.2l11.5 5.1-12.3-14.4-11.5-5.4z"/>
<path class="k5" d="M1076.5 1107.2l11.5 3.5-12.3-10.1-11.5-3.6z"/>
<path class="k8" d="M877.1 1000.9l11.6 6.2-12.3-11.2-11.5-6.3z"/>
<path class="k9" d="M830.2 970l11.6 6.7-12.3-11.6-11.6-6.9z"/>
<path class="k8" d="M924.1 1029.8l11.5 5.4-12.2-10.8-11.6-5.6z"/>
<path class="k4" d="M1181.9 1148.8l11.5 2.5-12.2-9.9-11.6-2.5z"/>
<path class="k11" d="M783.3 937.1l11.5 7.1-12.3-12.1-11.5-7.3z"/>
<path class="k7" d="M971 1056.4l11.6 4.8-12.3-10.5-11.6-5z"/>
<path class="k12" d="M736.3 902.9l11.6 7.3-12.3-12.7-11.6-7.5z"/>
<path class="k4" d="M1123.4 1127.4l11.5 3.1-12.2-10-11.6-3.1z"/>
<path class="k2" d="M1345.8 1199.2l11.6 1.3-12.3-9.6-11.5-1.3zM1404.3 1213.5l11.6 1-12.3-9.5-11.6-1z"/>
<path class="k6" d="M1018 1080.9l11.5 4.3-12.3-10.4-11.5-4.4z"/>
<path class="k3" d="M1287.3 1183.3l11.6 1.7-12.3-9.7-11.5-1.7z"/>
<path class="k16" d="M548.6 782.4l11.5 1.9-12.3-15.2-11.5-2z"/>
<path class="k13" d="M689.4 868.4l11.5 7-12.2-13.3-11.6-7.2z"/>
<path class="k3" d="M1228.8 1165.8l11.6 2.1-12.3-9.8-11.5-2.1z"/>
<path class="k14" d="M642.4 835.3l11.6 6.1-12.3-14-11.5-6.3z"/>
<path class="k5" d="M1064.9 1103.4l11.6 3.8-12.3-10.2-11.6-3.8z"/>
<path class="k15" d="M595.5 805.8l11.6 4.4-12.3-14.7-11.6-4.5z"/>
<path class="k4" d="M1170.3 1146.2l11.6 2.6-12.3-9.9-11.5-2.7z"/>
<path class="k9" d="M865.6 994.7l11.5 6.2-12.2-11.3-11.6-6.4z"/>
<path class="k8" d="M912.5 1024.1l11.6 5.7-12.3-11-11.6-5.8z"/>
<path class="k10" d="M818.6 963.2l11.6 6.8-12.3-11.8-11.5-6.9z"/>
<path class="k7" d="M959.5 1051.3l11.5 5.1-12.3-10.7-11.5-5.1z"/>
<path class="k11" d="M771.7 929.9l11.6 7.2-12.3-12.3-11.6-7.3z"/>
<path class="k2" d="M1392.8 1212.4l11.5 1.1-12.3-9.5-11.5-1.1zM1334.3 1197.8l11.5 1.4-12.2-9.6-11.6-1.5z"/>
<path class="k5" d="M1111.8 1124.2l11.6 3.2-12.3-10-11.5-3.3z"/>
<path class="k3" d="M1275.8 1181.5l11.5 1.8-12.2-9.7-11.6-1.8z"/>
<path class="k16" d="M537 781.6l11.6 0.8-12.3-15.3-11.6-0.9z"/>
<path class="k6" d="M1006.4 1076.5l11.6 4.4-12.3-10.5-11.6-4.5z"/>
<path class="k12" d="M724.8 895.7l11.5 7.2-12.3-12.9-11.5-7.4z"/>
<path class="k3" d="M1217.3 1163.5l11.5 2.3-12.2-9.8-11.6-2.3z"/>
<path class="k13" d="M677.8 861.7l11.6 6.7-12.3-13.5-11.6-6.9z"/>
<path class="k5" d="M1053.3 1099.6l11.6 3.8-12.3-10.2-11.5-3.9z"/>
<path class="k15" d="M583.9 802.2l11.6 3.6-12.3-14.8-11.5-3.8z"/>
<path class="k4" d="M1158.8 1143.4l11.5 2.8-12.2-10-11.6-2.8z"/>
<path class="k14" d="M630.9 829.8l11.5 5.5-12.2-14.2-11.6-5.8z"/>
<path class="k2" d="M1381.2 1211.3l11.6 1.1-12.3-9.5-11.6-1.2z"/>
<path class="k9" d="M854 988.3l11.6 6.4-12.3-11.5-11.5-6.5z"/>
<path class="k8" d="M901 1018.3l11.5 5.8-12.3-11.1-11.5-5.9z"/>
<path class="k2" d="M1322.7 1196.3l11.6 1.5-12.3-9.7-11.6-1.5z"/>
<path class="k10" d="M807.1 956.3l11.5 6.9-12.2-11.9-11.6-7.1z"/>
<path class="k16" d="M525.4 781.8l11.6-0.2-12.3-15.4-11.5 0.1z"/>
<path class="k5" d="M1100.3 1120.9l11.5 3.3-12.2-10.1-11.6-3.4z"/>
<path class="k7" d="M947.9 1046.1l11.6 5.2-12.3-10.7-11.6-5.4z"/>
<path class="k3" d="M1264.2 1179.6l11.6 1.9-12.3-9.7-11.6-1.9z"/>
<path class="k11" d="M760.1 922.8l11.6 7.1-12.3-12.4-11.5-7.3z"/>
<path class="k3" d="M1205.7 1161.2l11.6 2.3-12.3-9.8-11.6-2.4z"/>
<path class="k6" d="M994.8 1071.8l11.6 4.7-12.3-10.6-11.5-4.7z"/>
<path class="k12" d="M713.2 888.7l11.6 7-12.3-13.1-11.6-7.2z"/>
<path class="k15" d="M572.4 799.5l11.5 2.7-12.2-15-11.6-2.9z"/>
<path class="k4" d="M1147.2 1140.5l11.6 2.9-12.3-10-11.6-2.9z"/>
<path class="k6" d="M1041.8 1095.5l11.5 4.1-12.2-10.3-11.6-4.1z"/>
<path class="k14" d="M666.3 855.4l11.5 6.3-12.3-13.7-11.5-6.6z"/>
<path class="k15" d="M619.3 824.9l11.6 4.9-12.3-14.5-11.5-5.1z"/>
<path class="k2" d="M1369.7 1210.1l11.5 1.2-12.3-9.6-11.5-1.2zM1311.2 1194.7l11.5 1.6-12.3-9.7-11.5-1.6z"/>
<path class="k3" d="M1252.7 1177.7l11.5 1.9-12.3-9.7-11.5-2z"/>
<path class="k5" d="M1088.7 1117.4l11.6 3.5-12.3-10.2-11.5-3.5z"/>
<path class="k8" d="M889.4 1012.3l11.6 6-12.3-11.2-11.6-6.2z"/>
<path class="k9" d="M842.5 981.7l11.5 6.6-12.2-11.6-11.6-6.7z"/>
<path class="k7" d="M936.3 1040.7l11.6 5.4-12.3-10.9-11.5-5.4z"/>
<path class="k4" d="M1194.2 1158.7l11.5 2.5-12.3-9.9-11.5-2.5z"/>
<path class="k10" d="M795.5 949.4l11.6 6.9-12.3-12.1-11.5-7.1z"/>
<path class="k7" d="M983.3 1067.1l11.5 4.7-12.2-10.6-11.6-4.8z"/>
<path class="k12" d="M748.6 915.8l11.5 7-12.2-12.6-11.6-7.3z"/>
<path class="k16" d="M560.8 797.7l11.6 1.8-12.3-15.2-11.5-1.9z"/>
<path class="k4" d="M1135.7 1137.5l11.5 3-12.3-10-11.5-3.1z"/>
<path class="k13" d="M701.6 882l11.6 6.7-12.3-13.3-11.5-7z"/>
<path class="k6" d="M1030.2 1091.3l11.6 4.2-12.3-10.3-11.5-4.3z"/>
<path class="k2" d="M1358.1 1208.8l11.6 1.3-12.3-9.6-11.6-1.3zM1299.6 1193l11.6 1.7-12.3-9.7-11.6-1.7z"/>
<path class="k14" d="M654.7 849.5l11.6 5.9-12.3-14-11.6-6.1z"/>
<path class="k15" d="M607.8 820.7l11.5 4.2-12.2-14.7-11.6-4.4z"/>
<path class="k3" d="M1241.1 1175.6l11.6 2.1-12.3-9.8-11.6-2.1z"/>
<path class="k5" d="M1077.2 1113.7l11.5 3.7-12.2-10.2-11.6-3.8z"/>
<path class="k4" d="M1182.6 1156.1l11.6 2.6-12.3-9.9-11.6-2.6z"/>
<path class="k9" d="M877.9 1006.1l11.5 6.2-12.3-11.4-11.5-6.2z"/>
<path class="k8" d="M924.8 1035.2l11.5 5.5-12.2-10.9-11.6-5.7z"/>
<path class="k10" d="M830.9 975.1l11.6 6.6-12.3-11.7-11.6-6.8z"/>
<path class="k11" d="M784 942.4l11.5 7-12.2-12.3-11.6-7.2z"/>
<path class="k16" d="M549.3 797l11.5 0.7-12.2-15.3-11.6-0.8z"/>
<path class="k7" d="M971.7 1062.1l11.6 5-12.3-10.7-11.5-5.1z"/>
<path class="k4" d="M1124.1 1134.3l11.6 3.2-12.3-10.1-11.6-3.2z"/>
<path class="k2" d="M1346.5 1207.4l11.6 1.4-12.3-9.6-11.5-1.4z"/>
<path class="k12" d="M737 908.8l11.6 7-12.3-12.9-11.5-7.2z"/>
<path class="k3" d="M1288 1191.3l11.6 1.7-12.3-9.7-11.5-1.8z"/>
<path class="k6" d="M1018.7 1087l11.5 4.3-12.2-10.4-11.6-4.4z"/>
<path class="k13" d="M690.1 875.5l11.5 6.5-12.2-13.6-11.6-6.7z"/>
<path class="k3" d="M1229.5 1173.4l11.6 2.2-12.3-9.8-11.5-2.3z"/>
<path class="k15" d="M596.2 817.2l11.6 3.5-12.3-14.9-11.6-3.6z"/>
<path class="k14" d="M643.2 844.2l11.5 5.3-12.3-14.2-11.5-5.5z"/>
<path class="k5" d="M1065.6 1109.9l11.6 3.8-12.3-10.3-11.6-3.8z"/>
<path class="k4" d="M1171 1153.4l11.6 2.7-12.3-9.9-11.5-2.8z"/>
<path class="k16" d="M537.7 797.2l11.6-0.2-12.3-15.4-11.6 0.2z"/>
<path class="k9" d="M866.3 999.9l11.6 6.2-12.3-11.4-11.6-6.4z"/>
<path class="k8" d="M913.2 1029.5l11.6 5.7-12.3-11.1-11.5-5.8z"/>
<path class="k10" d="M819.4 968.4l11.5 6.7-12.3-11.9-11.5-6.9z"/>
<path class="k2" d="M1335 1205.9l11.5 1.5-12.2-9.6-11.6-1.5z"/>
<path class="k7" d="M960.2 1057l11.5 5.1-12.2-10.8-11.6-5.2z"/>
<path class="k5" d="M1112.6 1131l11.5 3.3-12.3-10.1-11.5-3.3z"/>
<path class="k3" d="M1276.5 1189.4l11.5 1.9-12.2-9.8-11.6-1.9z"/>
<path class="k11" d="M772.4 935.5l11.6 6.9-12.3-12.5-11.6-7.1z"/>
<path class="k6" d="M1007.1 1082.5l11.6 4.5-12.3-10.5-11.6-4.7z"/>
<path class="k3" d="M1218 1171l11.5 2.4-12.2-9.9-11.6-2.3z"/>
<path class="k12" d="M725.5 902l11.5 6.8-12.2-13.1-11.6-7z"/>
<path class="k15" d="M584.7 814.7l11.5 2.5-12.3-15-11.5-2.7z"/>
<path class="k13" d="M678.5 869.4l11.6 6.1-12.3-13.8-11.5-6.3z"/>
<path class="k14" d="M631.6 839.5l11.6 4.7-12.3-14.4-11.6-4.9z"/>
<path class="k4" d="M1159.5 1150.5l11.5 2.9-12.2-10-11.6-2.9z"/>
<path class="k6" d="M1054.1 1105.9l11.5 4-12.3-10.3-11.5-4.1z"/>
<path class="k2" d="M1323.4 1204.4l11.6 1.5-12.3-9.6-11.5-1.6z"/>
<path class="k3" d="M1264.9 1187.4l11.6 2-12.3-9.8-11.5-1.9z"/>
<path class="k8" d="M901.7 1023.6l11.5 5.9-12.2-11.2-11.6-6z"/>
<path class="k9" d="M854.7 993.5l11.6 6.4-12.3-11.6-11.5-6.6z"/>
<path class="k5" d="M1101 1127.6l11.6 3.4-12.3-10.1-11.6-3.5z"/>
<path class="k7" d="M948.6 1051.7l11.6 5.3-12.3-10.9-11.6-5.4z"/>
<path class="k10" d="M807.8 961.7l11.6 6.7-12.3-12.1-11.6-6.9z"/>
<path class="k4" d="M1206.4 1168.6l11.6 2.4-12.3-9.8-11.5-2.5z"/>
<path class="k15" d="M573.1 813l11.6 1.7-12.3-15.2-11.6-1.8z"/>
<path class="k11" d="M760.9 928.6l11.5 6.9-12.3-12.7-11.5-7z"/>
<path class="k7" d="M995.6 1077.8l11.5 4.7-12.3-10.7-11.5-4.7z"/>
<path class="k13" d="M713.9 895.5l11.6 6.5-12.3-13.3-11.6-6.7z"/>
<path class="k4" d="M1147.9 1147.6l11.6 2.9-12.3-10-11.5-3z"/>
<path class="k15" d="M620 835.5l11.6 4-12.3-14.6-11.5-4.2z"/>
<path class="k14" d="M667 863.7l11.5 5.7-12.2-14-11.6-5.9z"/>
<path class="k6" d="M1042.5 1101.8l11.6 4.1-12.3-10.4-11.6-4.2z"/>
<path class="k2" d="M1311.9 1202.7l11.5 1.7-12.2-9.7-11.6-1.7z"/>
<path class="k3" d="M1253.4 1185.4l11.5 2-12.2-9.7-11.6-2.1z"/>
<path class="k5" d="M1089.4 1124l11.6 3.6-12.3-10.2-11.5-3.7z"/>
<path class="k9" d="M890.1 1017.6l11.6 6-12.3-11.3-11.5-6.2z"/>
<path class="k16" d="M561.5 812.3l11.6 0.7-12.3-15.3-11.5-0.7z"/>
<path class="k10" d="M843.2 987.1l11.5 6.4-12.2-11.8-11.6-6.6z"/>
<path class="k4" d="M1194.9 1166.1l11.5 2.5-12.2-9.9-11.6-2.6z"/>
<path class="k8" d="M937.1 1046.3l11.5 5.4-12.3-11-11.5-5.5z"/>
<path class="k11" d="M796.2 954.9l11.6 6.8-12.3-12.3-11.5-7z"/>
<path class="k7" d="M984 1072.9l11.6 4.9-12.3-10.7-11.6-5z"/>
<path class="k12" d="M749.3 921.9l11.6 6.7-12.3-12.8-11.6-7z"/>
<path class="k4" d="M1136.4 1144.5l11.5 3.1-12.2-10.1-11.6-3.2z"/>
<path class="k15" d="M608.5 832.2l11.5 3.3-12.2-14.8-11.6-3.5z"/>
<path class="k13" d="M702.4 889.2l11.5 6.3-12.3-13.5-11.5-6.5z"/>
<path class="k6" d="M1030.9 1097.5l11.6 4.3-12.3-10.5-11.5-4.3z"/>
<path class="k3" d="M1300.3 1201l11.6 1.7-12.3-9.7-11.6-1.7z"/>
<path class="k14" d="M655.4 858.6l11.6 5.1-12.3-14.2-11.5-5.3z"/>
<path class="k3" d="M1241.8 1183.2l11.6 2.2-12.3-9.8-11.6-2.2z"/>
<path class="k16" d="M550 812.6l11.5-0.3-12.2-15.3-11.6 0.2z"/>
<path class="k5" d="M1077.9 1120.3l11.5 3.7-12.2-10.3-11.6-3.8z"/>
<path class="k4" d="M1183.3 1163.4l11.6 2.7-12.3-10-11.6-2.7z"/>
<path class="k9" d="M878.6 1011.5l11.5 6.1-12.2-11.5-11.6-6.2z"/>
<path class="k8" d="M925.5 1040.7l11.6 5.6-12.3-11.1-11.6-5.7z"/>
<path class="k10" d="M831.6 980.5l11.6 6.6-12.3-12-11.5-6.7z"/>
<path class="k11" d="M784.7 948.2l11.5 6.7-12.2-12.5-11.6-6.9z"/>
<path class="k7" d="M972.4 1067.9l11.6 5-12.3-10.8-11.5-5.1z"/>
<path class="k5" d="M1124.8 1141.2l11.6 3.3-12.3-10.2-11.5-3.3z"/>
<path class="k15" d="M596.9 829.8l11.6 2.4-12.3-15-11.5-2.5z"/>
<path class="k3" d="M1288.8 1199.2l11.5 1.8-12.3-9.7-11.5-1.9z"/>
<path class="k12" d="M737.7 915.3l11.6 6.6-12.3-13.1-11.5-6.8z"/>
<path class="k6" d="M1019.4 1093.1l11.5 4.4-12.2-10.5-11.6-4.5z"/>
<path class="k13" d="M690.8 883.4l11.6 5.8-12.3-13.7-11.6-6.1z"/>
<path class="k14" d="M643.9 854.1l11.5 4.5-12.2-14.4-11.6-4.7z"/>
<path class="k3" d="M1230.3 1180.9l11.5 2.3-12.3-9.8-11.5-2.4z"/>
<path class="k5" d="M1066.3 1116.4l11.6 3.9-12.3-10.4-11.5-4z"/>
<path class="k4" d="M1171.8 1160.6l11.5 2.8-12.3-10-11.5-2.9z"/>
<path class="k9" d="M867 1005.3l11.6 6.2-12.3-11.6-11.6-6.4z"/>
<path class="k8" d="M913.9 1035l11.6 5.7-12.3-11.2-11.5-5.9z"/>
<path class="k15" d="M585.4 828.2l11.5 1.6-12.2-15.1-11.6-1.7z"/>
<path class="k10" d="M820.1 974l11.5 6.5-12.2-12.1-11.6-6.7z"/>
<path class="k3" d="M1277.2 1197.2l11.6 2-12.3-9.8-11.6-2z"/>
<path class="k5" d="M1113.3 1137.8l11.5 3.4-12.2-10.2-11.6-3.4z"/>
<path class="k7" d="M960.9 1062.8l11.5 5.1-12.2-10.9-11.6-5.3z"/>
<path class="k11" d="M773.1 941.5l11.6 6.7-12.3-12.7-11.5-6.9z"/>
<path class="k4" d="M1218.7 1178.5l11.6 2.4-12.3-9.9-11.6-2.4z"/>
<path class="k6" d="M1007.8 1088.5l11.6 4.6-12.3-10.6-11.5-4.7z"/>
<path class="k12" d="M726.2 909l11.5 6.3-12.2-13.3-11.6-6.5z"/>
<path class="k14" d="M632.3 850.2l11.6 3.9-12.3-14.6-11.6-4z"/>
<path class="k13" d="M679.2 877.9l11.6 5.5-12.3-14-11.5-5.7z"/>
<path class="k4" d="M1160.2 1157.7l11.6 2.9-12.3-10.1-11.6-2.9z"/>
<path class="k6" d="M1054.8 1112.3l11.5 4.1-12.2-10.5-11.6-4.1z"/>
<path class="k15" d="M573.8 827.6l11.6 0.6-12.3-15.2-11.6-0.7z"/>
<path class="k3" d="M1265.6 1195.2l11.6 2-12.3-9.8-11.5-2z"/>
<path class="k5" d="M1101.7 1134.3l11.6 3.5-12.3-10.2-11.6-3.6z"/>
<path class="k8" d="M902.4 1029.2l11.5 5.8-12.2-11.4-11.6-6z"/>
<path class="k9" d="M855.5 999l11.5 6.3-12.3-11.8-11.5-6.4z"/>
<path class="k8" d="M949.3 1057.4l11.6 5.4-12.3-11.1-11.5-5.4z"/>
<path class="k11" d="M808.5 967.4l11.6 6.6-12.3-12.3-11.6-6.8z"/>
<path class="k4" d="M1207.1 1176l11.6 2.5-12.3-9.9-11.5-2.5z"/>
<path class="k12" d="M761.6 935l11.5 6.5-12.2-12.9-11.6-6.7z"/>
<path class="k15" d="M620.8 847.1l11.5 3.1-12.3-14.7-11.5-3.3z"/>
<path class="k7" d="M996.3 1083.8l11.5 4.7-12.2-10.7-11.6-4.9z"/>
<path class="k13" d="M714.6 903l11.6 6-12.3-13.5-11.5-6.3z"/>
<path class="k14" d="M667.7 873l11.5 4.9-12.2-14.2-11.6-5.1z"/>
<path class="k4" d="M1148.7 1154.6l11.5 3.1-12.3-10.1-11.5-3.1z"/>
<path class="k6" d="M1043.2 1108.1l11.6 4.2-12.3-10.5-11.6-4.3z"/>
<path class="k15" d="M562.3 827.9l11.5-0.3-12.3-15.3-11.5 0.3z"/>
<path class="k3" d="M1254.1 1193.1l11.5 2.1-12.2-9.8-11.6-2.2z"/>
<path class="k5" d="M1090.2 1130.6l11.5 3.7-12.3-10.3-11.5-3.7z"/>
<path class="k4" d="M1195.6 1173.4l11.5 2.6-12.2-9.9-11.6-2.7z"/>
<path class="k9" d="M890.8 1023.2l11.6 6-12.3-11.6-11.5-6.1z"/>
<path class="k10" d="M843.9 992.7l11.6 6.3-12.3-11.9-11.6-6.6z"/>
<path class="k8" d="M937.8 1052l11.5 5.4-12.2-11.1-11.6-5.6z"/>
<path class="k15" d="M609.2 844.8l11.6 2.3-12.3-14.9-11.6-2.4z"/>
<path class="k11" d="M797 960.9l11.5 6.5-12.3-12.5-11.5-6.7z"/>
<path class="k7" d="M984.7 1078.9l11.6 4.9-12.3-10.9-11.6-5z"/>
<path class="k12" d="M750 928.7l11.6 6.3-12.3-13.1-11.6-6.6z"/>
<path class="k5" d="M1137.1 1151.4l11.6 3.2-12.3-10.1-11.6-3.3z"/>
<path class="k14" d="M656.1 868.7l11.6 4.3-12.3-14.4-11.5-4.5z"/>
<path class="k13" d="M703.1 897.3l11.5 5.7-12.2-13.8-11.6-5.8z"/>
<path class="k6" d="M1031.7 1103.8l11.5 4.3-12.3-10.6-11.5-4.4z"/>
<path class="k3" d="M1242.5 1190.8l11.6 2.3-12.3-9.9-11.5-2.3z"/>
<path class="k5" d="M1078.6 1126.8l11.6 3.8-12.3-10.3-11.6-3.9z"/>
<path class="k4" d="M1184 1170.7l11.6 2.7-12.3-10-11.5-2.8z"/>
<path class="k15" d="M597.6 843.4l11.6 1.4-12.3-15-11.5-1.6z"/>
<path class="k9" d="M879.3 1017.1l11.5 6.1-12.2-11.7-11.6-6.2z"/>
<path class="k8" d="M926.2 1046.4l11.6 5.6-12.3-11.3-11.6-5.7z"/>
<path class="k10" d="M832.3 986.3l11.6 6.4-12.3-12.2-11.5-6.5z"/>
<path class="k11" d="M785.4 954.4l11.6 6.5-12.3-12.7-11.6-6.7z"/>
<path class="k7" d="M973.2 1073.8l11.5 5.1-12.3-11-11.5-5.1z"/>
<path class="k5" d="M1125.5 1148.1l11.6 3.3-12.3-10.2-11.5-3.4z"/>
<path class="k14" d="M644.6 865l11.5 3.7-12.2-14.6-11.6-3.9z"/>
<path class="k12" d="M738.5 922.5l11.5 6.2-12.3-13.4-11.5-6.3z"/>
<path class="k13" d="M691.5 892.1l11.6 5.2-12.3-13.9-11.6-5.5z"/>
<path class="k3" d="M1231 1188.5l11.5 2.3-12.2-9.9-11.6-2.4z"/>
<path class="k6" d="M1020.1 1099.3l11.6 4.5-12.3-10.7-11.6-4.6z"/>
<path class="k4" d="M1172.5 1167.8l11.5 2.9-12.2-10.1-11.6-2.9z"/>
<path class="k6" d="M1067 1122.8l11.6 4-12.3-10.4-11.5-4.1z"/>
<path class="k15" d="M586.1 842.8l11.5 0.6-12.2-15.2-11.6-0.6z"/>
<path class="k9" d="M867.7 1011l11.6 6.1-12.3-11.8-11.5-6.3z"/>
<path class="k8" d="M914.7 1040.7l11.5 5.7-12.3-11.4-11.5-5.8z"/>
<path class="k5" d="M1114 1144.6l11.5 3.5-12.2-10.3-11.6-3.5z"/>
<path class="k10" d="M820.8 979.9l11.5 6.4-12.2-12.3-11.6-6.6z"/>
<path class="k14" d="M633 862l11.6 3-12.3-14.8-11.5-3.1z"/>
<path class="k7" d="M961.6 1068.6l11.6 5.2-12.3-11-11.6-5.4z"/>
<path class="k11" d="M773.8 948.1l11.6 6.3-12.3-12.9-11.5-6.5z"/>
<path class="k4" d="M1219.4 1186l11.6 2.5-12.3-10-11.6-2.5z"/>
<path class="k13" d="M726.9 916.7l11.6 5.8-12.3-13.5-11.6-6z"/>
<path class="k14" d="M680 887.4l11.5 4.7-12.3-14.2-11.5-4.9z"/>
<path class="k7" d="M1008.5 1094.6l11.6 4.7-12.3-10.8-11.5-4.7z"/>
<path class="k15" d="M574.5 843.2l11.6-0.4-12.3-15.2-11.5 0.3z"/>
<path class="k4" d="M1160.9 1164.8l11.6 3-12.3-10.1-11.5-3.1z"/>
<path class="k6" d="M1055.5 1118.7l11.5 4.1-12.2-10.5-11.6-4.2z"/>
<path class="k5" d="M1102.4 1141l11.6 3.6-12.3-10.3-11.5-3.7z"/>
<path class="k15" d="M621.5 859.9l11.5 2.1-12.2-14.9-11.6-2.3z"/>
<path class="k9" d="M903.1 1034.9l11.6 5.8-12.3-11.5-11.6-6z"/>
<path class="k10" d="M856.2 1004.8l11.5 6.2-12.2-12-11.6-6.3z"/>
<path class="k4" d="M1207.9 1183.4l11.5 2.6-12.3-10-11.5-2.6z"/>
<path class="k8" d="M950 1063.3l11.6 5.3-12.3-11.2-11.5-5.4z"/>
<path class="k11" d="M809.2 973.6l11.6 6.3-12.3-12.5-11.5-6.5z"/>
<path class="k12" d="M762.3 942l11.5 6.1-12.2-13.1-11.6-6.3z"/>
<path class="k14" d="M668.4 883.2l11.6 4.2-12.3-14.4-11.6-4.3z"/>
<path class="k13" d="M715.3 911.3l11.6 5.4-12.3-13.7-11.5-5.7z"/>
<path class="k7" d="M997 1089.8l11.5 4.8-12.2-10.8-11.6-4.9z"/>
<path class="k5" d="M1149.4 1161.6l11.5 3.2-12.2-10.2-11.6-3.2z"/>
<path class="k6" d="M1043.9 1114.5l11.6 4.2-12.3-10.6-11.5-4.3z"/>
<path class="k15" d="M609.9 858.5l11.6 1.4-12.3-15.1-11.6-1.4z"/>
<path class="k5" d="M1090.9 1137.3l11.5 3.7-12.2-10.4-11.6-3.8z"/>
<path class="k4" d="M1196.3 1180.7l11.6 2.7-12.3-10-11.6-2.7z"/>
<path class="k9" d="M891.6 1029l11.5 5.9-12.3-11.7-11.5-6.1z"/>
<path class="k10" d="M844.6 998.6l11.6 6.2-12.3-12.1-11.6-6.4z"/>
<path class="k8" d="M938.5 1057.8l11.5 5.5-12.2-11.3-11.6-5.6z"/>
<path class="k11" d="M797.7 967.3l11.5 6.3-12.2-12.7-11.6-6.5z"/>
<path class="k14" d="M656.9 879.7l11.5 3.5-12.3-14.5-11.5-3.7z"/>
<path class="k12" d="M750.7 936.1l11.6 5.9-12.3-13.3-11.5-6.2z"/>
<path class="k7" d="M985.4 1084.9l11.6 4.9-12.3-10.9-11.5-5.1z"/>
<path class="k13" d="M703.8 906.2l11.5 5.1-12.2-14-11.6-5.2z"/>
<path class="k5" d="M1137.8 1158.4l11.6 3.2-12.3-10.2-11.6-3.3z"/>
<path class="k6" d="M1032.4 1110l11.5 4.5-12.2-10.7-11.6-4.5z"/>
<path class="k15" d="M598.4 858l11.5 0.5-12.3-15.1-11.5-0.6z"/>
<path class="k6" d="M1079.3 1133.4l11.6 3.9-12.3-10.5-11.6-4z"/>
<path class="k4" d="M1184.8 1177.9l11.5 2.8-12.3-10-11.5-2.9z"/>
<path class="k14" d="M645.3 876.9l11.6 2.8-12.3-14.7-11.6-3z"/>
<path class="k9" d="M880 1023l11.6 6-12.3-11.9-11.6-6.1z"/>
<path class="k8" d="M926.9 1052.2l11.6 5.6-12.3-11.4-11.5-5.7z"/>
<path class="k10" d="M833.1 992.4l11.5 6.2-12.3-12.3-11.5-6.4z"/>
<path class="k11" d="M786.1 961.2l11.6 6.1-12.3-12.9-11.6-6.3z"/>
<path class="k5" d="M1126.3 1155l11.5 3.4-12.3-10.3-11.5-3.5z"/>
<path class="k7" d="M973.9 1079.8l11.5 5.1-12.2-11.1-11.6-5.2z"/>
<path class="k13" d="M692.2 901.7l11.6 4.5-12.3-14.1-11.5-4.7z"/>
<path class="k12" d="M739.2 930.5l11.5 5.6-12.2-13.6-11.6-5.8z"/>
<path class="k15" d="M586.8 858.5l11.6-0.5-12.3-15.2-11.6 0.4z"/>
<path class="k7" d="M1020.8 1105.5l11.6 4.5-12.3-10.7-11.6-4.7z"/>
<path class="k4" d="M1173.2 1174.9l11.6 3-12.3-10.1-11.6-3z"/>
<path class="k6" d="M1067.8 1129.3l11.5 4.1-12.3-10.6-11.5-4.1z"/>
<path class="k14" d="M633.7 874.8l11.6 2.1-12.3-14.9-11.5-2.1z"/>
<path class="k10" d="M868.4 1017l11.6 6-12.3-12-11.5-6.2z"/>
<path class="k5" d="M1114.7 1151.4l11.6 3.6-12.3-10.4-11.6-3.6z"/>
<path class="k9" d="M915.4 1046.6l11.5 5.6-12.2-11.5-11.6-5.8z"/>
<path class="k11" d="M821.5 986.3l11.6 6.1-12.3-12.5-11.6-6.3z"/>
<path class="k14" d="M680.7 897.7l11.5 4-12.2-14.3-11.6-4.2z"/>
<path class="k8" d="M962.3 1074.6l11.6 5.2-12.3-11.2-11.6-5.3z"/>
<path class="k12" d="M774.6 955.3l11.5 5.9-12.3-13.1-11.5-6.1z"/>
<path class="k13" d="M727.6 925.2l11.6 5.3-12.3-13.8-11.6-5.4z"/>
<path class="k7" d="M1009.3 1100.8l11.5 4.7-12.3-10.9-11.5-4.8z"/>
<path class="k5" d="M1161.6 1171.9l11.6 3-12.3-10.1-11.5-3.2z"/>
<path class="k6" d="M1056.2 1125.1l11.6 4.2-12.3-10.6-11.6-4.2z"/>
<path class="k15" d="M622.2 873.6l11.5 1.2-12.2-14.9-11.6-1.4z"/>
<path class="k5" d="M1103.1 1147.7l11.6 3.7-12.3-10.4-11.5-3.7z"/>
<path class="k14" d="M669.1 894.4l11.6 3.3-12.3-14.5-11.5-3.5z"/>
<path class="k9" d="M903.8 1040.8l11.6 5.8-12.3-11.7-11.5-5.9z"/>
<path class="k10" d="M856.9 1011l11.5 6-12.2-12.2-11.6-6.2z"/>
<path class="k11" d="M809.9 980.2l11.6 6.1-12.3-12.7-11.5-6.3z"/>
<path class="k8" d="M950.8 1069.2l11.5 5.4-12.3-11.3-11.5-5.5z"/>
<path class="k13" d="M716.1 920.4l11.5 4.8-12.3-13.9-11.5-5.1z"/>
<path class="k12" d="M763 949.6l11.6 5.7-12.3-13.3-11.6-5.9z"/>
<path class="k7" d="M997.7 1095.9l11.6 4.9-12.3-11-11.6-4.9z"/>
<path class="k5" d="M1150.1 1168.7l11.5 3.2-12.2-10.3-11.6-3.2z"/>
<path class="k15" d="M610.6 873.2l11.6 0.4-12.3-15.1-11.5-0.5z"/>
<path class="k6" d="M1044.6 1120.8l11.6 4.3-12.3-10.6-11.5-4.5zM1091.6 1143.9l11.5 3.8-12.2-10.4-11.6-3.9z"/>
<path class="k14" d="M657.6 891.7l11.5 2.7-12.2-14.7-11.6-2.8z"/>
<path class="k9" d="M892.3 1035l11.5 5.8-12.2-11.8-11.6-6z"/>
<path class="k10" d="M845.3 1005l11.6 6-12.3-12.4-11.5-6.2z"/>
<path class="k13" d="M704.5 916l11.6 4.4-12.3-14.2-11.6-4.5z"/>
<path class="k8" d="M939.2 1063.8l11.6 5.4-12.3-11.4-11.6-5.6z"/>
<path class="k11" d="M798.4 974.3l11.5 5.9-12.2-12.9-11.6-6.1z"/>
<path class="k12" d="M751.4 944.2l11.6 5.4-12.3-13.5-11.5-5.6z"/>
<path class="k15" d="M599.1 873.7l11.5-0.5-12.2-15.2-11.6 0.5z"/>
<path class="k7" d="M986.1 1091l11.6 4.9-12.3-11-11.5-5.1z"/>
<path class="k5" d="M1138.5 1165.3l11.6 3.4-12.3-10.3-11.5-3.4z"/>
<path class="k7" d="M1033.1 1116.4l11.5 4.4-12.2-10.8-11.6-4.5z"/>
<path class="k14" d="M646 889.8l11.6 1.9-12.3-14.8-11.6-2.1z"/>
<path class="k6" d="M1080 1140l11.6 3.9-12.3-10.5-11.5-4.1z"/>
<path class="k13" d="M693 912.2l11.5 3.8-12.3-14.3-11.5-4z"/>
<path class="k9" d="M880.7 1029.2l11.6 5.8-12.3-12-11.6-6z"/>
<path class="k10" d="M833.8 999l11.5 6-12.2-12.6-11.6-6.1z"/>
<path class="k8" d="M927.7 1058.3l11.5 5.5-12.3-11.6-11.5-5.6z"/>
<path class="k11" d="M786.8 968.6l11.6 5.7-12.3-13.1-11.5-5.9z"/>
<path class="k12" d="M739.9 939.1l11.5 5.1-12.2-13.7-11.6-5.3z"/>
<path class="k5" d="M1127 1161.8l11.5 3.5-12.2-10.3-11.6-3.6z"/>
<path class="k8" d="M974.6 1085.9l11.5 5.1-12.2-11.2-11.6-5.2z"/>
<path class="k7" d="M1021.5 1111.8l11.6 4.6-12.3-10.9-11.5-4.7z"/>
<path class="k14" d="M634.5 888.6l11.5 1.2-12.3-15-11.5-1.2z"/>
<path class="k6" d="M1068.5 1135.9l11.5 4.1-12.2-10.7-11.6-4.2z"/>
<path class="k14" d="M681.4 909l11.6 3.2-12.3-14.5-11.6-3.3z"/>
<path class="k5" d="M1115.4 1158.2l11.6 3.6-12.3-10.4-11.6-3.7z"/>
<path class="k10" d="M869.2 1023.3l11.5 5.9-12.3-12.2-11.5-6z"/>
<path class="k13" d="M728.3 934.5l11.6 4.6-12.3-13.9-11.5-4.8z"/>
<path class="k9" d="M916.1 1052.7l11.6 5.6-12.3-11.7-11.6-5.8z"/>
<path class="k11" d="M822.2 993.1l11.6 5.9-12.3-12.7-11.6-6.1z"/>
<path class="k12" d="M775.3 963.1l11.5 5.5-12.2-13.3-11.6-5.7z"/>
<path class="k8" d="M963 1080.7l11.6 5.2-12.3-11.3-11.5-5.4z"/>
<path class="k14" d="M622.9 888.3l11.6 0.3-12.3-15-11.6-0.4z"/>
<path class="k7" d="M1010 1107l11.5 4.8-12.2-11-11.6-4.9z"/>
<path class="k6" d="M1056.9 1131.6l11.6 4.3-12.3-10.8-11.6-4.3z"/>
<path class="k14" d="M669.8 906.5l11.6 2.5-12.3-14.6-11.5-2.7z"/>
<path class="k5" d="M1103.9 1154.5l11.5 3.7-12.3-10.5-11.5-3.8z"/>
<path class="k13" d="M716.8 930.3l11.5 4.2-12.2-14.1-11.6-4.4z"/>
<path class="k14" d="M611.3 888.9l11.6-0.6-12.3-15.1-11.5 0.5z"/>
<path class="k10" d="M857.6 1017.5l11.6 5.8-12.3-12.3-11.6-6z"/>
<path class="k9" d="M904.5 1047l11.6 5.7-12.3-11.9-11.5-5.8z"/>
<path class="k11" d="M810.7 987.4l11.5 5.7-12.3-12.9-11.5-5.9z"/>
<path class="k12" d="M763.7 957.9l11.6 5.2-12.3-13.5-11.6-5.4z"/>
<path class="k8" d="M951.5 1075.4l11.5 5.3-12.2-11.5-11.6-5.4z"/>
<path class="k7" d="M998.4 1102.2l11.6 4.8-12.3-11.1-11.6-4.9z"/>
<path class="k6" d="M1045.4 1127.3l11.5 4.3-12.3-10.8-11.5-4.4z"/>
<path class="k14" d="M658.3 904.7l11.5 1.8-12.2-14.8-11.6-1.9z"/>
<path class="k6" d="M1092.3 1150.6l11.6 3.9-12.3-10.6-11.6-3.9z"/>
<path class="k13" d="M705.2 926.7l11.6 3.6-12.3-14.3-11.5-3.8z"/>
<path class="k12" d="M752.2 953l11.5 4.9-12.3-13.7-11.5-5.1z"/>
<path class="k10" d="M846 1011.7l11.6 5.8-12.3-12.5-11.5-6z"/>
<path class="k9" d="M893 1041.4l11.5 5.6-12.2-12-11.6-5.8z"/>
<path class="k11" d="M799.1 981.9l11.6 5.5-12.3-13.1-11.6-5.7z"/>
<path class="k8" d="M939.9 1070l11.6 5.4-12.3-11.6-11.5-5.5zM986.9 1097.2l11.5 5-12.3-11.2-11.5-5.1z"/>
<path class="k14" d="M646.7 903.7l11.6 1-12.3-14.9-11.5-1.2z"/>
<path class="k7" d="M1033.8 1122.8l11.6 4.5-12.3-10.9-11.6-4.6z"/>
<path class="k6" d="M1080.7 1146.6l11.6 4-12.3-10.6-11.5-4.1z"/>
<path class="k13" d="M693.7 923.7l11.5 3-12.2-14.5-11.6-3.2zM740.6 948.6l11.6 4.4-12.3-13.9-11.6-4.6z"/>
<path class="k12" d="M787.5 976.6l11.6 5.3-12.3-13.3-11.5-5.5z"/>
<path class="k11" d="M834.5 1006.1l11.5 5.6-12.2-12.7-11.6-5.9z"/>
<path class="k10" d="M881.4 1035.7l11.6 5.7-12.3-12.2-11.5-5.9z"/>
<path class="k9" d="M928.4 1064.6l11.5 5.4-12.2-11.7-11.6-5.6z"/>
<path class="k14" d="M635.2 903.4l11.5 0.3-12.2-15.1-11.6-0.3z"/>
<path class="k8" d="M975.3 1092.2l11.6 5-12.3-11.3-11.6-5.2z"/>
<path class="k7" d="M1022.2 1118.2l11.6 4.6-12.3-11-11.5-4.8z"/>
<path class="k6" d="M1069.2 1142.5l11.5 4.1-12.2-10.7-11.6-4.3z"/>
<path class="k14" d="M682.1 921.3l11.6 2.4-12.3-14.7-11.6-2.5zM623.6 904l11.6-0.6-12.3-15.1-11.6 0.6z"/>
<path class="k13" d="M729.1 944.6l11.5 4-12.3-14.1-11.5-4.2z"/>
<path class="k12" d="M776 971.6l11.5 5-12.2-13.5-11.6-5.2z"/>
<path class="k11" d="M822.9 1000.5l11.6 5.6-12.3-13-11.5-5.7z"/>
<path class="k10" d="M869.9 1030l11.5 5.7-12.2-12.4-11.6-5.8z"/>
<path class="k9" d="M916.8 1059.1l11.6 5.5-12.3-11.9-11.6-5.7z"/>
<path class="k8" d="M963.8 1087l11.5 5.2-12.3-11.5-11.5-5.3z"/>
<path class="k7" d="M1010.7 1113.4l11.5 4.8-12.2-11.2-11.6-4.8z"/>
<path class="k14" d="M670.6 919.6l11.5 1.7-12.3-14.8-11.5-1.8z"/>
<path class="k6" d="M1057.6 1138.2l11.6 4.3-12.3-10.9-11.5-4.3z"/>
<path class="k13" d="M717.5 941.1l11.6 3.5-12.3-14.3-11.6-3.6z"/>
<path class="k12" d="M764.4 966.9l11.6 4.7-12.3-13.7-11.5-4.9z"/>
<path class="k11" d="M811.4 995.2l11.5 5.3-12.2-13.1-11.6-5.5z"/>
<path class="k10" d="M858.3 1024.5l11.6 5.5-12.3-12.5-11.6-5.8z"/>
<path class="k9" d="M905.3 1053.6l11.5 5.5-12.3-12.1-11.5-5.6z"/>
<path class="k8" d="M952.2 1081.8l11.6 5.2-12.3-11.6-11.6-5.4z"/>
<path class="k14" d="M659 918.6l11.6 1-12.3-14.9-11.6-1z"/>
<path class="k7" d="M999.1 1108.6l11.6 4.8-12.3-11.2-11.5-5zM1046.1 1133.8l11.5 4.4-12.2-10.9-11.6-4.5z"/>
<path class="k13" d="M705.9 938.2l11.6 2.9-12.3-14.4-11.5-3z"/>
<path class="k12" d="M752.9 962.7l11.5 4.2-12.2-13.9-11.6-4.4z"/>
<path class="k11" d="M799.8 990.1l11.6 5.1-12.3-13.3-11.6-5.3z"/>
<path class="k10" d="M846.8 1019l11.5 5.5-12.3-12.8-11.5-5.6z"/>
<path class="k14" d="M647.4 918.4l11.6 0.2-12.3-14.9-11.5-0.3z"/>
<path class="k10" d="M893.7 1048.1l11.6 5.5-12.3-12.2-11.6-5.7z"/>
<path class="k9" d="M940.6 1076.5l11.6 5.3-12.3-11.8-11.5-5.4z"/>
<path class="k8" d="M987.6 1103.6l11.5 5-12.2-11.4-11.6-5z"/>
<path class="k7" d="M1034.5 1129.3l11.6 4.5-12.3-11-11.6-4.6z"/>
<path class="k13" d="M694.4 936l11.5 2.2-12.2-14.5-11.6-2.4z"/>
<path class="k14" d="M635.9 919.1l11.5-0.7-12.2-15-11.6 0.6z"/>
<path class="k13" d="M741.3 958.8l11.6 3.9-12.3-14.1-11.5-4z"/>
<path class="k12" d="M788.3 985.3l11.5 4.8-12.3-13.5-11.5-5z"/>
<path class="k11" d="M835.2 1013.6l11.6 5.4-12.3-12.9-11.6-5.6z"/>
<path class="k10" d="M882.1 1042.6l11.6 5.5-12.3-12.4-11.5-5.7z"/>
<path class="k9" d="M929.1 1071.1l11.5 5.4-12.2-11.9-11.6-5.5z"/>
<path class="k8" d="M976 1098.6l11.6 5-12.3-11.4-11.5-5.2z"/>
<path class="k13" d="M682.8 934.4l11.6 1.6-12.3-14.7-11.5-1.7z"/>
<path class="k7" d="M1023 1124.7l11.5 4.6-12.3-11.1-11.5-4.8z"/>
<path class="k13" d="M729.8 955.5l11.5 3.3-12.2-14.2-11.6-3.5z"/>
<path class="k12" d="M776.7 980.8l11.6 4.5-12.3-13.7-11.6-4.7z"/>
<path class="k11" d="M823.6 1008.5l11.6 5.1-12.3-13.1-11.5-5.3z"/>
<path class="k10" d="M870.6 1037.2l11.5 5.4-12.2-12.6-11.6-5.5z"/>
<path class="k9" d="M917.5 1065.8l11.6 5.3-12.3-12-11.5-5.5z"/>
<path class="k14" d="M671.3 933.5l11.5 0.9-12.2-14.8-11.6-1z"/>
<path class="k8" d="M964.5 1093.5l11.5 5.1-12.2-11.6-11.6-5.2z"/>
<path class="k7" d="M1011.4 1120l11.6 4.7-12.3-11.3-11.6-4.8z"/>
<path class="k13" d="M718.2 952.8l11.6 2.7-12.3-14.4-11.6-2.9z"/>
<path class="k12" d="M765.1 976.7l11.6 4.1-12.3-13.9-11.5-4.2z"/>
<path class="k14" d="M659.7 933.4l11.6 0.1-12.3-14.9-11.6-0.2z"/>
<path class="k11" d="M812.1 1003.6l11.5 4.9-12.2-13.3-11.6-5.1z"/>
<path class="k10" d="M859 1031.9l11.6 5.3-12.3-12.7-11.5-5.5z"/>
<path class="k9" d="M906 1060.4l11.5 5.4-12.2-12.2-11.6-5.5z"/>
<path class="k8" d="M952.9 1088.4l11.6 5.1-12.3-11.7-11.6-5.3zM999.8 1115.1l11.6 4.9-12.3-11.4-11.5-5z"/>
<path class="k13" d="M706.7 950.7l11.5 2.1-12.3-14.6-11.5-2.2z"/>
<path class="k14" d="M648.2 934.1l11.5-0.7-12.3-15-11.5 0.7z"/>
<path class="k12" d="M753.6 973.1l11.5 3.6-12.2-14-11.6-3.9zM800.5 998.9l11.6 4.7-12.3-13.5-11.5-4.8z"/>
<path class="k11" d="M847.5 1026.7l11.5 5.2-12.2-12.9-11.6-5.4z"/>
<path class="k10" d="M894.4 1055.1l11.6 5.3-12.3-12.3-11.6-5.5z"/>
<path class="k9" d="M941.4 1083.2l11.5 5.2-12.3-11.9-11.5-5.4z"/>
<path class="k8" d="M988.3 1110.3l11.5 4.8-12.2-11.5-11.6-5z"/>
<path class="k13" d="M695.1 949.2l11.6 1.5-12.3-14.7-11.6-1.6zM742 969.9l11.6 3.2-12.3-14.3-11.5-3.3z"/>
<path class="k12" d="M789 994.7l11.5 4.2-12.2-13.6-11.6-4.5z"/>
<path class="k11" d="M835.9 1021.8l11.6 4.9-12.3-13.1-11.6-5.1z"/>
<path class="k10" d="M882.9 1049.9l11.5 5.2-12.3-12.5-11.5-5.4z"/>
<path class="k13" d="M683.5 948.4l11.6 0.8-12.3-14.8-11.5-0.9z"/>
<path class="k9" d="M929.8 1078l11.6 5.2-12.3-12.1-11.6-5.3z"/>
<path class="k8" d="M976.7 1105.3l11.6 5-12.3-11.7-11.5-5.1z"/>
<path class="k13" d="M730.5 967.3l11.5 2.6-12.2-14.4-11.6-2.7z"/>
<path class="k12" d="M777.4 990.7l11.6 4-12.3-13.9-11.6-4.1z"/>
<path class="k13" d="M672 948.4l11.5 0-12.2-14.9-11.6-0.1z"/>
<path class="k11" d="M824.4 1017.1l11.5 4.7-12.3-13.3-11.5-4.9z"/>
<path class="k10" d="M871.3 1044.8l11.6 5.1-12.3-12.7-11.6-5.3z"/>
<path class="k9" d="M918.2 1072.8l11.6 5.2-12.3-12.2-11.5-5.4z"/>
<path class="k8" d="M965.2 1100.3l11.5 5-12.2-11.8-11.6-5.1z"/>
<path class="k13" d="M718.9 965.3l11.6 2-12.3-14.5-11.5-2.1z"/>
<path class="k14" d="M660.4 949.1l11.6-0.7-12.3-15-11.5 0.7z"/>
<path class="k12" d="M765.9 987.3l11.5 3.4-12.3-14-11.5-3.6z"/>
<path class="k11" d="M812.8 1012.6l11.6 4.5-12.3-13.5-11.6-4.7z"/>
<path class="k10" d="M859.7 1039.9l11.6 4.9-12.3-12.9-11.5-5.2zM906.7 1067.7l11.5 5.1-12.2-12.4-11.6-5.3z"/>
<path class="k9" d="M953.6 1095.3l11.6 5-12.3-11.9-11.5-5.2z"/>
<path class="k13" d="M707.4 964l11.5 1.3-12.2-14.6-11.6-1.5z"/>
<path class="k12" d="M754.3 984.3l11.6 3-12.3-14.2-11.6-3.2zM801.2 1008.5l11.6 4.1-12.3-13.7-11.5-4.2z"/>
<path class="k11" d="M848.2 1035.1l11.5 4.8-12.2-13.2-11.6-4.9z"/>
<path class="k13" d="M695.8 963.3l11.6 0.7-12.3-14.8-11.6-0.8z"/>
<path class="k10" d="M895.1 1062.7l11.6 5-12.3-12.6-11.5-5.2z"/>
<path class="k9" d="M942.1 1090.3l11.5 5-12.2-12.1-11.6-5.2z"/>
<path class="k13" d="M742.8 981.8l11.5 2.5-12.3-14.4-11.5-2.6zM684.3 963.3l11.5 0-12.3-14.9-11.5 0z"/>
<path class="k12" d="M789.7 1004.8l11.5 3.7-12.2-13.8-11.6-4z"/>
<path class="k11" d="M836.6 1030.5l11.6 4.6-12.3-13.3-11.5-4.7z"/>
<path class="k10" d="M883.6 1057.7l11.5 5-12.2-12.8-11.6-5.1z"/>
<path class="k9" d="M930.5 1085.2l11.6 5.1-12.3-12.3-11.6-5.2z"/>
<path class="k13" d="M731.2 979.9l11.6 1.9-12.3-14.5-11.6-2zM672.7 964l11.6-0.7-12.3-14.9-11.6 0.7z"/>
<path class="k12" d="M778.1 1001.4l11.6 3.4-12.3-14.1-11.5-3.4z"/>
<path class="k11" d="M825.1 1026.3l11.5 4.2-12.2-13.4-11.6-4.5z"/>
<path class="k10" d="M872 1053l11.6 4.7-12.3-12.9-11.6-4.9z"/>
<path class="k9" d="M919 1080.3l11.5 4.9-12.3-12.4-11.5-5.1z"/>
<path class="k13" d="M719.6 978.7l11.6 1.2-12.3-14.6-11.5-1.3z"/>
<path class="k12" d="M766.6 998.6l11.5 2.8-12.2-14.1-11.6-3z"/>
<path class="k11" d="M813.5 1022.3l11.6 4-12.3-13.7-11.6-4.1z"/>
<path class="k13" d="M708.1 978.1l11.5 0.6-12.2-14.7-11.6-0.7z"/>
<path class="k11" d="M860.5 1048.4l11.5 4.6-12.3-13.1-11.5-4.8z"/>
<path class="k10" d="M907.4 1075.4l11.6 4.9-12.3-12.6-11.6-5z"/>
<path class="k12" d="M755 996.3l11.6 2.3-12.3-14.3-11.5-2.5z"/>
<path class="k13" d="M696.5 978.1l11.6 0-12.3-14.8-11.5 0z"/>
<path class="k12" d="M802 1018.7l11.5 3.6-12.3-13.8-11.5-3.7z"/>
<path class="k11" d="M848.9 1044l11.6 4.4-12.3-13.3-11.6-4.6z"/>
<path class="k10" d="M895.8 1070.7l11.6 4.7-12.3-12.7-11.5-5z"/>
<path class="k13" d="M743.5 994.5l11.5 1.8-12.2-14.5-11.6-1.9zM685 978.9l11.5-0.8-12.2-14.8-11.6 0.7z"/>
<path class="k12" d="M790.4 1015.6l11.6 3.1-12.3-13.9-11.6-3.4z"/>
<path class="k11" d="M837.3 1039.9l11.6 4.1-12.3-13.5-11.5-4.2z"/>
<path class="k10" d="M884.3 1066.1l11.5 4.6-12.2-13-11.6-4.7z"/>
<path class="k13" d="M731.9 993.4l11.6 1.1-12.3-14.6-11.6-1.2z"/>
<path class="k12" d="M778.9 1012.9l11.5 2.7-12.3-14.2-11.5-2.8z"/>
<path class="k11" d="M825.8 1036.1l11.5 3.8-12.2-13.6-11.6-4z"/>
<path class="k13" d="M720.4 992.8l11.5 0.6-12.3-14.7-11.5-0.6z"/>
<path class="k10" d="M872.7 1061.6l11.6 4.5-12.3-13.1-11.5-4.6z"/>
<path class="k12" d="M767.3 1010.7l11.6 2.2-12.3-14.3-11.6-2.3z"/>
<path class="k13" d="M708.8 993l11.6-0.2-12.3-14.7-11.6 0z"/>
<path class="k11" d="M814.2 1032.7l11.6 3.4-12.3-13.8-11.5-3.6zM861.2 1057.4l11.5 4.2-12.2-13.2-11.6-4.4z"/>
<path class="k12" d="M755.7 1009.1l11.6 1.6-12.3-14.4-11.5-1.8z"/>
<path class="k13" d="M697.2 993.8l11.6-0.8-12.3-14.9-11.5 0.8z"/>
<path class="k12" d="M802.7 1029.7l11.5 3-12.2-14-11.6-3.1z"/>
<path class="k11" d="M849.6 1053.5l11.6 3.9-12.3-13.4-11.6-4.1z"/>
<path class="k12" d="M744.2 1008l11.5 1.1-12.2-14.6-11.6-1.1zM791.1 1027.2l11.6 2.5-12.3-14.1-11.5-2.7z"/>
<path class="k11" d="M838.1 1049.9l11.5 3.6-12.3-13.6-11.5-3.8z"/>
<path class="k13" d="M732.6 1007.5l11.6 0.5-12.3-14.6-11.5-0.6z"/>
<path class="k12" d="M779.6 1025.1l11.5 2.1-12.2-14.3-11.6-2.2z"/>
<path class="k13" d="M721.1 1007.7l11.5-0.2-12.2-14.7-11.6 0.2z"/>
<path class="k11" d="M826.5 1046.7l11.6 3.2-12.3-13.8-11.6-3.4z"/>
<path class="k12" d="M768 1023.6l11.6 1.5-12.3-14.4-11.6-1.6z"/>
<path class="k13" d="M709.5 1008.6l11.6-0.9-12.3-14.7-11.6 0.8z"/>
<path class="k11" d="M815 1043.8l11.5 2.9-12.3-14-11.5-3z"/>
<path class="k12" d="M756.5 1022.6l11.5 1-12.3-14.5-11.5-1.1zM803.4 1041.4l11.6 2.4-12.3-14.1-11.6-2.5zM744.9 1022.2l11.6 0.4-12.3-14.6-11.6-0.5zM791.8 1039.5l11.6 1.9-12.3-14.2-11.5-2.1zM733.3 1022.5l11.6-0.3-12.3-14.7-11.5 0.2zM780.3 1038l11.5 1.5-12.2-14.4-11.6-1.5zM721.8 1023.3l11.5-0.8-12.2-14.8-11.6 0.9zM768.7 1037.2l11.6 0.8-12.3-14.4-11.5-1zM757.2 1036.9l11.5 0.3-12.2-14.6-11.6-0.4zM745.6 1037.2l11.6-0.3-12.3-14.7-11.6 0.3zM734.1 1038.1l11.5-0.9-12.3-14.7-11.5 0.8z"/>
</g>
<path class="mr" d="M734.1 1038.1l11.5-0.9 11.6-0.3 11.5 0.3 11.6 0.8 11.5 1.5 11.6 1.9 11.6 2.4 11.5 2.9 11.6 3.2 11.5 3.6 11.6 3.9 11.5 4.2 11.6 4.5 11.5 4.6 11.6 4.7 11.6 4.9 11.5 4.9 11.6 5.1 11.5 5 11.6 5 11.5 5 11.6 5 11.5 4.8 11.6 4.9 11.6 4.7 11.5 4.6 11.6 4.5 11.5 4.4 11.6 4.3 11.5 4.1 11.6 4 11.6 3.9 11.5 3.7 11.6 3.6 11.5 3.5 11.6 3.4 11.5 3.2 11.6 3 11.6 3 11.5 2.8 11.6 2.7 11.5 2.6 11.6 2.5 11.5 2.3 11.6 2.3 11.5 2.1 11.6 2 11.6 2 11.5 1.8 11.6 1.7 11.5 1.7 11.6 1.5 11.5 1.5 11.6 1.4 11.6 1.3 11.5 1.2 11.6 1.1 11.5 1.1 11.6 1 11.5 0.9 11.6 0.9 11.5 0.8 11.6 0.7 11.6 0.7 11.5 0.6 11.6 0.6 11.5 0.5 11.6 0.4 11.5 0.4 11.6 0.4 11.6 0.3 11.5 0.2 11.6 0.2 11.5 0.2 11.6 0.1 11.5 0.1 11.6 0 11.5 0 11.6 0M721.8 1023.3l11.5-0.8 11.6-0.3 11.6 0.4 11.5 1 11.6 1.5 11.5 2.1 11.6 2.5 11.5 3 11.6 3.4 11.5 3.8 11.6 4.1 11.6 4.4 11.5 4.6 11.6 4.7 11.5 5 11.6 5 11.5 5.1 11.6 5.2 11.6 5.2 11.5 5.2 11.6 5.1 11.5 5.1 11.6 5 11.5 5 11.6 4.8 11.5 4.8 11.6 4.6 11.6 4.5 11.5 4.3 11.6 4.3 11.5 4.1 11.6 3.9 11.5 3.8 11.6 3.7 11.6 3.6 11.5 3.4 11.6 3.2 11.5 3.2 11.6 3 11.5 2.9 11.6 2.7 11.5 2.6 11.6 2.5 11.6 2.4 11.5 2.3 11.6 2.2 11.5 2 11.6 2 11.5 1.9 11.6 1.7 11.6 1.7 11.5 1.6 11.6 1.5 11.5 1.4 11.6 1.3 11.5 1.2 11.6 1.2 11.5 1.1 11.6 1 11.6 0.9 11.5 0.9 11.6 0.8 11.5 0.8 11.6 0.7 11.5 0.6 11.6 0.6 11.6 0.5 11.5 0.4 11.6 0.4 11.5 0.4 11.6 0.3 11.5 0.3 11.6 0.2 11.5 0.2 11.6 0.1 11.6 0.1 11.5 0 11.6 0 11.5 0M709.5 1008.6l11.6-0.9 11.5-0.2 11.6 0.5 11.5 1.1 11.6 1.6 11.6 2.2 11.5 2.7 11.6 3.1 11.5 3.6 11.6 4 11.5 4.2 11.6 4.6 11.5 4.8 11.6 4.9 11.6 5.1 11.5 5.2 11.6 5.3 11.5 5.4 11.6 5.3 11.5 5.4 11.6 5.3 11.6 5.2 11.5 5.2 11.6 5 11.5 5 11.6 4.8 11.5 4.8 11.6 4.6 11.5 4.4 11.6 4.3 11.6 4.2 11.5 4.1 11.6 3.9 11.5 3.7 11.6 3.6 11.5 3.5 11.6 3.3 11.6 3.2 11.5 3.1 11.6 2.9 11.5 2.8 11.6 2.7 11.5 2.5 11.6 2.4 11.5 2.4 11.6 2.2 11.6 2.1 11.5 1.9 11.6 1.9 11.5 1.8 11.6 1.7 11.5 1.6 11.6 1.5 11.6 1.5 11.5 1.3 11.6 1.3 11.5 1.1 11.6 1.1 11.5 1.1 11.6 0.9 11.5 0.9 11.6 0.9 11.6 0.7 11.5 0.7 11.6 0.7 11.5 0.5 11.6 0.6 11.5 0.4 11.6 0.5 11.6 0.3 11.5 0.3 11.6 0.3 11.5 0.2 11.6 0.2 11.5 0.2 11.6 0.1 11.5 0 11.6 0 11.6 0M697.2 993.8l11.6-0.8 11.6-0.2 11.5 0.6 11.6 1.1 11.5 1.8 11.6 2.3 11.5 2.8 11.6 3.4 11.5 3.7 11.6 4.1 11.6 4.5 11.5 4.7 11.6 4.9 11.5 5.2 11.6 5.3 11.5 5.4 11.6 5.5 11.6 5.5 11.5 5.5 11.6 5.5 11.5 5.4 11.6 5.4 11.5 5.3 11.6 5.2 11.5 5.1 11.6 4.9 11.6 4.9 11.5 4.7 11.6 4.5 11.5 4.5 11.6 4.2 11.5 4.1 11.6 4 11.6 3.8 11.5 3.7 11.6 3.5 11.5 3.4 11.6 3.3 11.5 3.1 11.6 2.9 11.5 2.9 11.6 2.7 11.6 2.6 11.5 2.5 11.6 2.3 11.5 2.3 11.6 2.1 11.5 2 11.6 1.9 11.6 1.8 11.5 1.7 11.6 1.7 11.5 1.5 11.6 1.5 11.5 1.3 11.6 1.3 11.5 1.2 11.6 1.1 11.6 1.1 11.5 0.9 11.6 0.9 11.5 0.9 11.6 0.8 11.5 0.7 11.6 0.6 11.6 0.6 11.5 0.6 11.6 0.4 11.5 0.5 11.6 0.4 11.5 0.3 11.6 0.3 11.5 0.2 11.6 0.2 11.6 0.1 11.5 0.1 11.6 0.1 11.5 0 11.6 0M685 978.9l11.5-0.8 11.6 0 11.5 0.6 11.6 1.2 11.6 1.9 11.5 2.5 11.6 3 11.5 3.4 11.6 4 11.5 4.2 11.6 4.7 11.5 4.9 11.6 5.1 11.6 5.4 11.5 5.5 11.6 5.5 11.5 5.7 11.6 5.7 11.5 5.6 11.6 5.7 11.6 5.6 11.5 5.5 11.6 5.4 11.5 5.4 11.6 5.2 11.5 5.1 11.6 4.9 11.5 4.8 11.6 4.7 11.6 4.5 11.5 4.3 11.6 4.2 11.5 4.1 11.6 3.9 11.5 3.7 11.6 3.6 11.6 3.4 11.5 3.3 11.6 3.2 11.5 3 11.6 2.9 11.5 2.8 11.6 2.6 11.5 2.5 11.6 2.4 11.6 2.3 11.5 2.1 11.6 2.1 11.5 1.9 11.6 1.8 11.5 1.8 11.6 1.6 11.6 1.6 11.5 1.5 11.6 1.3 11.5 1.3 11.6 1.3 11.5 1.1 11.6 1.1 11.5 0.9 11.6 1 11.6 0.8 11.5 0.8 11.6 0.7 11.5 0.7 11.6 0.6 11.5 0.6 11.6 0.5 11.6 0.4 11.5 0.4 11.6 0.3 11.5 0.3 11.6 0.3 11.5 0.1 11.6 0.2 11.5 0.1 11.6 0.1 11.6 0 11.5 0M672.7 964l11.6-0.7 11.5 0 11.6 0.7 11.5 1.3 11.6 2 11.5 2.6 11.6 3.2 11.5 3.6 11.6 4.1 11.6 4.5 11.5 4.8 11.6 5.1 11.5 5.3 11.6 5.6 11.5 5.6 11.6 5.8 11.6 5.8 11.5 5.9 11.6 5.8 11.5 5.8 11.6 5.8 11.5 5.6 11.6 5.6 11.5 5.5 11.6 5.3 11.6 5.2 11.5 5.1 11.6 4.9 11.5 4.7 11.6 4.6 11.5 4.4 11.6 4.3 11.6 4.1 11.5 4 11.6 3.8 11.5 3.7 11.6 3.5 11.5 3.3 11.6 3.2 11.5 3.1 11.6 2.9 11.6 2.8 11.5 2.7 11.6 2.5 11.5 2.5 11.6 2.3 11.5 2.2 11.6 2 11.6 2 11.5 1.9 11.6 1.7 11.5 1.7 11.6 1.6 11.5 1.5 11.6 1.4 11.5 1.3 11.6 1.2 11.6 1.2 11.5 1.1 11.6 1 11.5 0.9 11.6 0.9 11.5 0.8 11.6 0.7 11.6 0.7 11.5 0.6 11.6 0.6 11.5 0.5 11.6 0.4 11.5 0.4 11.6 0.4 11.5 0.3 11.6 0.2 11.6 0.2 11.5 0.2 11.6 0.1 11.5 0.1 11.6 0 11.5 0M660.4 949.1l11.6-0.7 11.5 0 11.6 0.8 11.6 1.5 11.5 2.1 11.6 2.7 11.5 3.3 11.6 3.9 11.5 4.2 11.6 4.7 11.5 5 11.6 5.3 11.6 5.5 11.5 5.7 11.6 5.9 11.5 6 11.6 6 11.5 6 11.6 6 11.6 6 11.5 5.9 11.6 5.8 11.5 5.7 11.6 5.6 11.5 5.4 11.6 5.4 11.5 5.1 11.6 5 11.6 4.9 11.5 4.7 11.6 4.5 11.5 4.3 11.6 4.2 11.5 4.1 11.6 3.8 11.6 3.8 11.5 3.5 11.6 3.4 11.5 3.3 11.6 3.1 11.5 3 11.6 2.8 11.5 2.7 11.6 2.6 11.6 2.5 11.5 2.3 11.6 2.2 11.5 2.1 11.6 2 11.5 1.9 11.6 1.8 11.6 1.7 11.5 1.6 11.6 1.5 11.5 1.4 11.6 1.3 11.5 1.3 11.6 1.2 11.5 1.1 11.6 1 11.6 0.9 11.5 0.9 11.6 0.8 11.5 0.8 11.6 0.7 11.5 0.6 11.6 0.6 11.6 0.5 11.5 0.5 11.6 0.4 11.5 0.3 11.6 0.3 11.5 0.3 11.6 0.2 11.5 0.2 11.6 0.1 11.6 0.1 11.5 0 11.6 0M648.2 934.1l11.5-0.7 11.6 0.1 11.5 0.9 11.6 1.6 11.5 2.2 11.6 2.9 11.6 3.5 11.5 4 11.6 4.4 11.5 4.9 11.6 5.2 11.5 5.5 11.6 5.7 11.5 5.9 11.6 6.1 11.6 6.1 11.5 6.2 11.6 6.2 11.5 6.2 11.6 6.1 11.5 6.1 11.6 6 11.5 5.8 11.6 5.7 11.6 5.6 11.5 5.4 11.6 5.3 11.5 5.1 11.6 5 11.5 4.7 11.6 4.7 11.6 4.4 11.5 4.3 11.6 4.1 11.5 3.9 11.6 3.8 11.5 3.6 11.6 3.4 11.5 3.3 11.6 3.2 11.6 3 11.5 2.9 11.6 2.8 11.5 2.6 11.6 2.5 11.5 2.3 11.6 2.3 11.6 2.1 11.5 2 11.6 1.9 11.5 1.9 11.6 1.7 11.5 1.6 11.6 1.5 11.6 1.5 11.5 1.3 11.6 1.3 11.5 1.2 11.6 1.1 11.5 1 11.6 1 11.5 0.9 11.6 0.8 11.6 0.8 11.5 0.7 11.6 0.6 11.5 0.6 11.6 0.5 11.5 0.5 11.6 0.4 11.6 0.4 11.5 0.3 11.6 0.3 11.5 0.2 11.6 0.2 11.5 0.1 11.6 0.1 11.5 0 11.6 0M635.9 919.1l11.5-0.7 11.6 0.2 11.6 1 11.5 1.7 11.6 2.4 11.5 3 11.6 3.6 11.5 4.2 11.6 4.6 11.5 5.1 11.6 5.4 11.6 5.7 11.5 5.9 11.6 6.1 11.5 6.3 11.6 6.3 11.5 6.4 11.6 6.4 11.6 6.3 11.5 6.3 11.6 6.2 11.5 6.1 11.6 6 11.5 5.9 11.6 5.7 11.5 5.5 11.6 5.4 11.6 5.2 11.5 5.1 11.6 4.8 11.5 4.7 11.6 4.5 11.5 4.4 11.6 4.2 11.6 4 11.5 3.8 11.6 3.7 11.5 3.5 11.6 3.3 11.5 3.2 11.6 3.1 11.5 2.9 11.6 2.8 11.6 2.6 11.5 2.6 11.6 2.4 11.5 2.2 11.6 2.2 11.5 2.1 11.6 1.9 11.6 1.8 11.5 1.8 11.6 1.6 11.5 1.6 11.6 1.4 11.5 1.4 11.6 1.3 11.5 1.2 11.6 1.1 11.6 1.1 11.5 0.9 11.6 0.9 11.5 0.9 11.6 0.8 11.5 0.7 11.6 0.6 11.6 0.6 11.5 0.6 11.6 0.4 11.5 0.5 11.6 0.3 11.5 0.4 11.6 0.2 11.5 0.3 11.6 0.1 11.6 0.2 11.5 0.1 11.6 0 11.5 0.1M623.6 904l11.6-0.6 11.5 0.3 11.6 1 11.5 1.8 11.6 2.5 11.6 3.2 11.5 3.8 11.6 4.4 11.5 4.8 11.6 5.3 11.5 5.6 11.6 5.9 11.5 6.1 11.6 6.3 11.6 6.5 11.5 6.5 11.6 6.6 11.5 6.5 11.6 6.6 11.5 6.4 11.6 6.4 11.6 6.2 11.5 6.2 11.6 6 11.5 5.8 11.6 5.7 11.5 5.4 11.6 5.4 11.5 5.1 11.6 5 11.6 4.7 11.5 4.6 11.6 4.4 11.5 4.3 11.6 4 11.5 3.9 11.6 3.7 11.6 3.6 11.5 3.4 11.6 3.3 11.5 3.1 11.6 2.9 11.5 2.9 11.6 2.6 11.5 2.6 11.6 2.4 11.6 2.3 11.5 2.2 11.6 2.1 11.5 2 11.6 1.8 11.5 1.8 11.6 1.6 11.6 1.6 11.5 1.5 11.6 1.4 11.5 1.3 11.6 1.2 11.5 1.1 11.6 1.1 11.5 1 11.6 0.9 11.6 0.9 11.5 0.8 11.6 0.7 11.5 0.6 11.6 0.6 11.5 0.6 11.6 0.5 11.6 0.4 11.5 0.4 11.6 0.3 11.5 0.3 11.6 0.3 11.5 0.1 11.6 0.2 11.5 0.1 11.6 0.1 11.6 0M611.3 888.9l11.6-0.6 11.6 0.3 11.5 1.2 11.6 1.9 11.5 2.7 11.6 3.3 11.5 4 11.6 4.5 11.5 5.1 11.6 5.4 11.6 5.8 11.5 6.2 11.6 6.3 11.5 6.5 11.6 6.7 11.5 6.7 11.6 6.8 11.6 6.7 11.5 6.7 11.6 6.6 11.5 6.6 11.6 6.4 11.5 6.2 11.6 6.2 11.5 5.9 11.6 5.8 11.6 5.6 11.5 5.4 11.6 5.2 11.5 5.1 11.6 4.8 11.5 4.7 11.6 4.5 11.6 4.3 11.5 4.1 11.6 4 11.5 3.8 11.6 3.6 11.5 3.4 11.6 3.3 11.5 3.2 11.6 3 11.6 2.8 11.5 2.7 11.6 2.6 11.5 2.5 11.6 2.3 11.5 2.2 11.6 2.1 11.6 2 11.5 1.9 11.6 1.8 11.5 1.7 11.6 1.6 11.5 1.5 11.6 1.4 11.5 1.3 11.6 1.2 11.6 1.2 11.5 1.1 11.6 1 11.5 0.9 11.6 0.9 11.5 0.8 11.6 0.7 11.6 0.7 11.5 0.6 11.6 0.5 11.5 0.5 11.6 0.5 11.5 0.4 11.6 0.3 11.5 0.3 11.6 0.2 11.6 0.2 11.5 0.2 11.6 0.1 11.5 0.1 11.6 0M599.1 873.7l11.5-0.5 11.6 0.4 11.5 1.2 11.6 2.1 11.6 2.8 11.5 3.5 11.6 4.2 11.5 4.7 11.6 5.2 11.5 5.7 11.6 6 11.5 6.3 11.6 6.6 11.6 6.7 11.5 6.9 11.6 6.9 11.5 7 11.6 6.9 11.5 6.9 11.6 6.8 11.6 6.7 11.5 6.5 11.6 6.4 11.5 6.3 11.6 6.1 11.5 5.8 11.6 5.8 11.5 5.5 11.6 5.3 11.6 5.1 11.5 5 11.6 4.7 11.5 4.6 11.6 4.3 11.5 4.2 11.6 4 11.6 3.9 11.5 3.6 11.6 3.5 11.5 3.4 11.6 3.2 11.5 3 11.6 2.9 11.5 2.8 11.6 2.6 11.6 2.5 11.5 2.3 11.6 2.3 11.5 2.1 11.6 2 11.5 1.9 11.6 1.8 11.6 1.7 11.5 1.6 11.6 1.5 11.5 1.5 11.6 1.3 11.5 1.2 11.6 1.2 11.5 1.1 11.6 1 11.6 1 11.5 0.9 11.6 0.8 11.5 0.7 11.6 0.7 11.5 0.6 11.6 0.6 11.6 0.5 11.5 0.4 11.6 0.4 11.5 0.4 11.6 0.3 11.5 0.2 11.6 0.2 11.5 0.2 11.6 0.1 11.6 0.1 11.5 0M586.8 858.5l11.6-0.5 11.5 0.5 11.6 1.4 11.5 2.1 11.6 3 11.5 3.7 11.6 4.3 11.5 4.9 11.6 5.5 11.6 5.8 11.5 6.3 11.6 6.5 11.5 6.8 11.6 7 11.5 7 11.6 7.1 11.6 7.2 11.5 7.1 11.6 7.1 11.5 6.9 11.6 6.9 11.5 6.7 11.6 6.5 11.5 6.4 11.6 6.2 11.6 6 11.5 5.8 11.6 5.7 11.5 5.4 11.6 5.2 11.5 5 11.6 4.8 11.6 4.7 11.5 4.4 11.6 4.3 11.5 4 11.6 3.9 11.5 3.7 11.6 3.6 11.5 3.4 11.6 3.2 11.6 3.1 11.5 2.9 11.6 2.8 11.5 2.6 11.6 2.5 11.5 2.4 11.6 2.3 11.6 2.2 11.5 2 11.6 1.9 11.5 1.8 11.6 1.8 11.5 1.6 11.6 1.5 11.5 1.5 11.6 1.3 11.6 1.3 11.5 1.2 11.6 1.1 11.5 1 11.6 1 11.5 0.9 11.6 0.8 11.6 0.7 11.5 0.7 11.6 0.7 11.5 0.5 11.6 0.5 11.5 0.5 11.6 0.4 11.5 0.4 11.6 0.3 11.6 0.2 11.5 0.3 11.6 0.1 11.5 0.1 11.6 0.1 11.5 0.1M574.5 843.2l11.6-0.4 11.5 0.6 11.6 1.4 11.6 2.3 11.5 3.1 11.6 3.9 11.5 4.5 11.6 5.1 11.5 5.7 11.6 6.1 11.5 6.5 11.6 6.7 11.6 7 11.5 7.2 11.6 7.3 11.5 7.3 11.6 7.3 11.5 7.3 11.6 7.3 11.6 7.1 11.5 7 11.6 6.9 11.5 6.6 11.6 6.6 11.5 6.3 11.6 6.1 11.5 5.9 11.6 5.8 11.6 5.5 11.5 5.3 11.6 5.1 11.5 4.9 11.6 4.7 11.5 4.5 11.6 4.3 11.6 4.1 11.5 4 11.6 3.7 11.5 3.6 11.6 3.4 11.5 3.3 11.6 3.1 11.5 3 11.6 2.8 11.6 2.7 11.5 2.5 11.6 2.5 11.5 2.3 11.6 2.1 11.5 2.1 11.6 1.9 11.6 1.9 11.5 1.7 11.6 1.7 11.5 1.5 11.6 1.5 11.5 1.3 11.6 1.3 11.5 1.2 11.6 1.1 11.6 1.1 11.5 1 11.6 0.9 11.5 0.8 11.6 0.8 11.5 0.7 11.6 0.6 11.6 0.6 11.5 0.5 11.6 0.5 11.5 0.4 11.6 0.4 11.5 0.3 11.6 0.2 11.5 0.3 11.6 0.1 11.6 0.2 11.5 0.1 11.6 0M562.3 827.9l11.5-0.3 11.6 0.6 11.5 1.6 11.6 2.4 11.5 3.3 11.6 4 11.6 4.7 11.5 5.3 11.6 5.9 11.5 6.3 11.6 6.7 11.5 7 11.6 7.2 11.5 7.4 11.6 7.5 11.6 7.5 11.5 7.6 11.6 7.5 11.5 7.4 11.6 7.3 11.5 7.1 11.6 7.1 11.5 6.8 11.6 6.6 11.6 6.5 11.5 6.2 11.6 6.1 11.5 5.8 11.6 5.6 11.5 5.4 11.6 5.2 11.6 4.9 11.5 4.8 11.6 4.6 11.5 4.3 11.6 4.2 11.5 4 11.6 3.8 11.6 3.7 11.5 3.4 11.6 3.3 11.5 3.2 11.6 3 11.5 2.9 11.6 2.7 11.5 2.5 11.6 2.5 11.6 2.3 11.5 2.2 11.6 2.1 11.5 2 11.6 1.8 11.5 1.8 11.6 1.7 11.6 1.5 11.5 1.5 11.6 1.4 11.5 1.3 11.6 1.2 11.5 1.1 11.6 1.1 11.5 1 11.6 0.9 11.6 0.8 11.5 0.8 11.6 0.7 11.5 0.7 11.6 0.6 11.5 0.5 11.6 0.5 11.6 0.4 11.5 0.4 11.6 0.3 11.5 0.3 11.6 0.2 11.5 0.2 11.6 0.1 11.5 0.1 11.6 0M550 812.6l11.5-0.3 11.6 0.7 11.6 1.7 11.5 2.5 11.6 3.5 11.5 4.2 11.6 4.9 11.5 5.5 11.6 6.1 11.5 6.6 11.6 6.9 11.6 7.2 11.5 7.4 11.6 7.6 11.5 7.7 11.6 7.8 11.5 7.7 11.6 7.7 11.6 7.6 11.5 7.5 11.6 7.3 11.5 7.2 11.6 7 11.5 6.7 11.6 6.6 11.5 6.4 11.6 6.1 11.6 5.9 11.5 5.7 11.6 5.5 11.5 5.3 11.6 5 11.5 4.9 11.6 4.6 11.6 4.4 11.5 4.2 11.6 4.1 11.5 3.9 11.6 3.6 11.5 3.6 11.6 3.3 11.5 3.2 11.6 3 11.6 2.9 11.5 2.8 11.6 2.6 11.5 2.4 11.6 2.4 11.5 2.2 11.6 2.1 11.6 2 11.5 1.9 11.6 1.8 11.5 1.6 11.6 1.6 11.5 1.5 11.6 1.4 11.5 1.3 11.6 1.2 11.6 1.2 11.5 1.1 11.6 1 11.5 0.9 11.6 0.8 11.5 0.8 11.6 0.8 11.6 0.6 11.5 0.6 11.6 0.6 11.5 0.4 11.6 0.5 11.5 0.4 11.6 0.3 11.5 0.3 11.6 0.2 11.6 0.2 11.5 0.1 11.6 0.1 11.5 0.1M537.7 797.2l11.6-0.2 11.5 0.7 11.6 1.8 11.5 2.7 11.6 3.6 11.6 4.4 11.5 5.1 11.6 5.8 11.5 6.3 11.6 6.8 11.5 7.1 11.6 7.5 11.5 7.7 11.6 7.8 11.6 7.9 11.5 8 11.6 7.9 11.5 7.9 11.6 7.8 11.5 7.6 11.6 7.5 11.6 7.3 11.5 7.1 11.6 6.9 11.5 6.7 11.6 6.5 11.5 6.3 11.6 6 11.5 5.8 11.6 5.5 11.6 5.4 11.5 5.1 11.6 4.9 11.5 4.7 11.6 4.5 11.5 4.3 11.6 4.1 11.6 3.9 11.5 3.7 11.6 3.6 11.5 3.4 11.6 3.2 11.5 3.1 11.6 2.9 11.5 2.7 11.6 2.7 11.6 2.5 11.5 2.4 11.6 2.2 11.5 2.1 11.6 2 11.5 1.9 11.6 1.8 11.6 1.7 11.5 1.6 11.6 1.5 11.5 1.5 11.6 1.3 11.5 1.2 11.6 1.2 11.5 1.1 11.6 1 11.6 0.9 11.5 0.9 11.6 0.8 11.5 0.7 11.6 0.7 11.5 0.6 11.6 0.5 11.6 0.5 11.5 0.5 11.6 0.4 11.5 0.3 11.6 0.3 11.5 0.2 11.6 0.2 11.5 0.2 11.6 0.1 11.6 0M525.4 781.8l11.6-0.2 11.6 0.8 11.5 1.9 11.6 2.9 11.5 3.8 11.6 4.5 11.5 5.4 11.6 5.9 11.5 6.6 11.6 7 11.6 7.4 11.5 7.7 11.6 7.9 11.5 8 11.6 8.2 11.5 8.2 11.6 8.1 11.6 8.1 11.5 7.9 11.6 7.9 11.5 7.6 11.6 7.5 11.5 7.2 11.6 7.1 11.5 6.8 11.6 6.6 11.6 6.3 11.5 6.2 11.6 5.8 11.5 5.7 11.6 5.4 11.5 5.2 11.6 5 11.6 4.7 11.5 4.6 11.6 4.3 11.5 4.2 11.6 3.9 11.5 3.8 11.6 3.6 11.5 3.4 11.6 3.3 11.6 3.1 11.5 2.9 11.6 2.8 11.5 2.7 11.6 2.5 11.5 2.4 11.6 2.3 11.6 2.2 11.5 2 11.6 1.9 11.5 1.8 11.6 1.7 11.5 1.7 11.6 1.5 11.5 1.4 11.6 1.3 11.6 1.3 11.5 1.2 11.6 1.1 11.5 1 11.6 0.9 11.5 0.9 11.6 0.8 11.6 0.8 11.5 0.6 11.6 0.7 11.5 0.5 11.6 0.5 11.5 0.5 11.6 0.4 11.5 0.3 11.6 0.3 11.6 0.2 11.5 0.2 11.6 0.2 11.5 0.1 11.6 0.1M513.2 766.3l11.5-0.1 11.6 0.9 11.5 2 11.6 3 11.6 4 11.5 4.7 11.6 5.6 11.5 6.2 11.6 6.8 11.5 7.2 11.6 7.6 11.5 8 11.6 8.1 11.6 8.3 11.5 8.4 11.6 8.4 11.5 8.3 11.6 8.3 11.5 8.1 11.6 8 11.6 7.8 11.5 7.6 11.6 7.5 11.5 7.1 11.6 7 11.5 6.7 11.6 6.4 11.5 6.3 11.6 5.9 11.6 5.8 11.5 5.5 11.6 5.2 11.5 5.1 11.6 4.8 11.5 4.6 11.6 4.4 11.6 4.2 11.5 4 11.6 3.8 11.5 3.7 11.6 3.4 11.5 3.3 11.6 3.2 11.5 2.9 11.6 2.9 11.6 2.7 11.5 2.5 11.6 2.4 11.5 2.3 11.6 2.2 11.5 2 11.6 2 11.6 1.8 11.5 1.8 11.6 1.6 11.5 1.5 11.6 1.5 11.5 1.3 11.6 1.3 11.5 1.2 11.6 1.1 11.6 1 11.5 1 11.6 0.9 11.5 0.8 11.6 0.7 11.5 0.7 11.6 0.6 11.6 0.6 11.5 0.5 11.6 0.5 11.5 0.4 11.6 0.3 11.5 0.3 11.6 0.3 11.5 0.2 11.6 0.1 11.6 0.2 11.5 0M500.9 750.8l11.6-0.1 11.5 1 11.6 2.2 11.5 3.1 11.6 4.1 11.5 5 11.6 5.8 11.5 6.4 11.6 7 11.6 7.5 11.5 7.9 11.6 8.2 11.5 8.4 11.6 8.5 11.5 8.6 11.6 8.6 11.6 8.5 11.5 8.5 11.6 8.3 11.5 8.2 11.6 8 11.5 7.7 11.6 7.6 11.5 7.3 11.6 7.1 11.6 6.8 11.5 6.6 11.6 6.3 11.5 6 11.6 5.9 11.5 5.5 11.6 5.4 11.6 5.1 11.5 4.9 11.6 4.6 11.5 4.5 11.6 4.2 11.5 4.1 11.6 3.8 11.5 3.7 11.6 3.5 11.6 3.3 11.5 3.2 11.6 3 11.5 2.9 11.6 2.7 11.5 2.6 11.6 2.4 11.6 2.3 11.5 2.2 11.6 2.1 11.5 2 11.6 1.8 11.5 1.8 11.6 1.6 11.5 1.6 11.6 1.4 11.6 1.4 11.5 1.3 11.6 1.2 11.5 1.1 11.6 1 11.5 1 11.6 0.9 11.6 0.8 11.5 0.8 11.6 0.7 11.5 0.6 11.6 0.6 11.5 0.5 11.6 0.5 11.5 0.4 11.6 0.3 11.6 0.4 11.5 0.2 11.6 0.2 11.5 0.2 11.6 0.1 11.5 0.1M488.6 735.2l11.6 0 11.5 1.1 11.6 2.3 11.6 3.3 11.5 4.3 11.6 5.2 11.5 5.9 11.6 6.7 11.5 7.3 11.6 7.7 11.5 8.1 11.6 8.5 11.6 8.6 11.5 8.8 11.6 8.8 11.5 8.8 11.6 8.8 11.5 8.6 11.6 8.6 11.6 8.3 11.5 8.1 11.6 8 11.5 7.7 11.6 7.4 11.5 7.2 11.6 6.9 11.5 6.7 11.6 6.4 11.6 6.2 11.5 5.9 11.6 5.6 11.5 5.4 11.6 5.2 11.5 4.9 11.6 4.8 11.6 4.5 11.5 4.3 11.6 4.1 11.5 3.9 11.6 3.7 11.5 3.5 11.6 3.4 11.5 3.2 11.6 3 11.6 2.9 11.5 2.8 11.6 2.6 11.5 2.4 11.6 2.4 11.5 2.2 11.6 2.1 11.6 2 11.5 1.8 11.6 1.8 11.5 1.7 11.6 1.5 11.5 1.5 11.6 1.4 11.5 1.3 11.6 1.2 11.6 1.1 11.5 1.1 11.6 0.9 11.5 0.9 11.6 0.9 11.5 0.8 11.6 0.7 11.6 0.6 11.5 0.6 11.6 0.5 11.5 0.5 11.6 0.4 11.5 0.4 11.6 0.3 11.5 0.2 11.6 0.3 11.6 0.1 11.5 0.2 11.6 0.1M476.4 719.6l11.5 0 11.6 1.2 11.5 2.4 11.6 3.5 11.5 4.5 11.6 5.4 11.5 6.2 11.6 6.9 11.6 7.5 11.5 8 11.6 8.4 11.5 8.7 11.6 8.9 11.5 9 11.6 9 11.6 9.1 11.5 8.9 11.6 8.9 11.5 8.7 11.6 8.5 11.5 8.3 11.6 8.1 11.5 7.8 11.6 7.6 11.6 7.3 11.5 7.1 11.6 6.7 11.5 6.6 11.6 6.2 11.5 6 11.6 5.7 11.6 5.5 11.5 5.2 11.6 5 11.5 4.8 11.6 4.6 11.5 4.3 11.6 4.2 11.5 3.9 11.6 3.8 11.6 3.5 11.5 3.4 11.6 3.3 11.5 3 11.6 3 11.5 2.7 11.6 2.7 11.6 2.4 11.5 2.4 11.6 2.2 11.5 2.2 11.6 2 11.5 1.8 11.6 1.8 11.6 1.7 11.5 1.6 11.6 1.5 11.5 1.4 11.6 1.3 11.5 1.2 11.6 1.1 11.5 1.1 11.6 1 11.6 0.9 11.5 0.8 11.6 0.8 11.5 0.7 11.6 0.7 11.5 0.6 11.6 0.5 11.6 0.5 11.5 0.4 11.6 0.4 11.5 0.3 11.6 0.3 11.5 0.2 11.6 0.2 11.5 0.1 11.6 0.1M464.1 703.9l11.5 0.1 11.6 1.3 11.6 2.6 11.5 3.6 11.6 4.7 11.5 5.6 11.6 6.4 11.5 7.2 11.6 7.7 11.5 8.3 11.6 8.6 11.6 9 11.5 9.1 11.6 9.3 11.5 9.3 11.6 9.2 11.5 9.2 11.6 9.1 11.6 8.9 11.5 8.7 11.6 8.4 11.5 8.3 11.6 7.9 11.5 7.7 11.6 7.5 11.5 7.1 11.6 6.9 11.6 6.6 11.5 6.4 11.6 6 11.5 5.8 11.6 5.6 11.5 5.3 11.6 5 11.6 4.9 11.5 4.6 11.6 4.4 11.5 4.2 11.6 4 11.5 3.8 11.6 3.6 11.5 3.4 11.6 3.3 11.6 3.1 11.5 2.9 11.6 2.8 11.5 2.7 11.6 2.5 11.5 2.3 11.6 2.3 11.6 2.1 11.5 2.1 11.6 1.9 11.5 1.8 11.6 1.7 11.5 1.5 11.6 1.5 11.5 1.5 11.6 1.3 11.6 1.2 11.5 1.2 11.6 1 11.5 1 11.6 1 11.5 0.8 11.6 0.8 11.6 0.7 11.5 0.7 11.6 0.6 11.5 0.5 11.6 0.5 11.5 0.4 11.6 0.4 11.5 0.4 11.6 0.2 11.6 0.3 11.5 0.1 11.6 0.2 11.5 0.1M451.8 688.2l11.6 0.2 11.5 1.4 11.6 2.7 11.5 3.8 11.6 4.8 11.6 5.9 11.5 6.6 11.6 7.4 11.5 8.1 11.6 8.5 11.5 8.9 11.6 9.2 11.5 9.4 11.6 9.5 11.6 9.5 11.5 9.5 11.6 9.4 11.5 9.3 11.6 9 11.5 8.9 11.6 8.7 11.6 8.3 11.5 8.2 11.6 7.8 11.5 7.5 11.6 7.3 11.5 7 11.6 6.7 11.5 6.4 11.6 6.2 11.6 5.9 11.5 5.6 11.6 5.3 11.5 5.2 11.6 4.9 11.5 4.6 11.6 4.5 11.6 4.2 11.5 4 11.6 3.9 11.5 3.6 11.6 3.5 11.5 3.3 11.6 3.1 11.5 3 11.6 2.8 11.6 2.7 11.5 2.5 11.6 2.4 11.5 2.3 11.6 2.1 11.5 2.1 11.6 1.9 11.6 1.8 11.5 1.7 11.6 1.6 11.5 1.5 11.6 1.5 11.5 1.3 11.6 1.2 11.5 1.2 11.6 1.1 11.6 1 11.5 0.9 11.6 0.9 11.5 0.8 11.6 0.7 11.5 0.7 11.6 0.6 11.6 0.5 11.5 0.5 11.6 0.5 11.5 0.4 11.6 0.3 11.5 0.3 11.6 0.2 11.5 0.2 11.6 0.1 11.6 0.1M439.5 672.5l11.6 0.2 11.6 1.5 11.5 2.8 11.6 4 11.5 5.1 11.6 6 11.5 6.9 11.6 7.7 11.5 8.3 11.6 8.8 11.6 9.2 11.5 9.4 11.6 9.7 11.5 9.7 11.6 9.8 11.5 9.7 11.6 9.6 11.6 9.5 11.5 9.3 11.6 9 11.5 8.8 11.6 8.5 11.5 8.3 11.6 8 11.5 7.6 11.6 7.4 11.6 7.1 11.5 6.8 11.6 6.5 11.5 6.2 11.6 6 11.5 5.7 11.6 5.4 11.6 5.2 11.5 5 11.6 4.7 11.5 4.5 11.6 4.2 11.5 4.1 11.6 3.9 11.5 3.6 11.6 3.5 11.6 3.4 11.5 3.1 11.6 3 11.5 2.9 11.6 2.7 11.5 2.5 11.6 2.5 11.6 2.3 11.5 2.1 11.6 2.1 11.5 1.9 11.6 1.8 11.5 1.8 11.6 1.6 11.5 1.5 11.6 1.5 11.6 1.3 11.5 1.3 11.6 1.1 11.5 1.1 11.6 1 11.5 1 11.6 0.9 11.6 0.8 11.5 0.7 11.6 0.7 11.5 0.6 11.6 0.6 11.5 0.5 11.6 0.4 11.5 0.4 11.6 0.3 11.6 0.3 11.5 0.3 11.6 0.2 11.5 0.1 11.6 0.1M427.3 656.7l11.5 0.2 11.6 1.7 11.5 2.9 11.6 4.2 11.6 5.3 11.5 6.2 11.6 7.2 11.5 7.9 11.6 8.6 11.5 9.1 11.6 9.4 11.5 9.7 11.6 10 11.6 10 11.5 10 11.6 9.9 11.5 9.8 11.6 9.7 11.5 9.5 11.6 9.2 11.6 9 11.5 8.7 11.6 8.4 11.5 8.1 11.6 7.8 11.5 7.4 11.6 7.2 11.5 6.9 11.6 6.6 11.6 6.3 11.5 6.1 11.6 5.7 11.5 5.5 11.6 5.3 11.5 5 11.6 4.7 11.6 4.6 11.5 4.3 11.6 4.1 11.5 3.9 11.6 3.7 11.5 3.5 11.6 3.4 11.5 3.2 11.6 3 11.6 2.9 11.5 2.7 11.6 2.6 11.5 2.4 11.6 2.3 11.5 2.2 11.6 2.1 11.6 2 11.5 1.8 11.6 1.7 11.5 1.7 11.6 1.5 11.5 1.5 11.6 1.3 11.5 1.3 11.6 1.2 11.6 1.1 11.5 1 11.6 1 11.5 0.8 11.6 0.9 11.5 0.7 11.6 0.7 11.6 0.6 11.5 0.6 11.6 0.5 11.5 0.4 11.6 0.4 11.5 0.4 11.6 0.3 11.5 0.2 11.6 0.2 11.6 0.2 11.5 0.1M415 640.8l11.6 0.4 11.5 1.7 11.6 3.1 11.5 4.3 11.6 5.5 11.5 6.6 11.6 7.4 11.5 8.2 11.6 8.8 11.6 9.3 11.5 9.8 11.6 10 11.5 10.2 11.6 10.2 11.5 10.3 11.6 10.1 11.6 10.1 11.5 9.9 11.6 9.6 11.5 9.4 11.6 9.2 11.5 8.8 11.6 8.5 11.5 8.3 11.6 7.9 11.6 7.6 11.5 7.3 11.6 7 11.5 6.6 11.6 6.4 11.5 6.1 11.6 5.9 11.6 5.5 11.5 5.3 11.6 5.1 11.5 4.8 11.6 4.6 11.5 4.3 11.6 4.2 11.5 3.9 11.6 3.8 11.6 3.5 11.5 3.4 11.6 3.2 11.5 3.1 11.6 2.9 11.5 2.7 11.6 2.6 11.6 2.5 11.5 2.3 11.6 2.2 11.5 2.1 11.6 2 11.5 1.9 11.6 1.7 11.5 1.7 11.6 1.5 11.6 1.5 11.5 1.3 11.6 1.3 11.5 1.2 11.6 1.1 11.5 1.1 11.6 0.9 11.6 0.9 11.5 0.9 11.6 0.7 11.5 0.7 11.6 0.6 11.5 0.6 11.6 0.5 11.5 0.5 11.6 0.4 11.6 0.3 11.5 0.3 11.6 0.3 11.5 0.2 11.6 0.2 11.5 0.1M402.7 624.9l11.6 0.4 11.5 1.9 11.6 3.2 11.6 4.6 11.5 5.7 11.6 6.7 11.5 7.7 11.6 8.5 11.5 9.1 11.6 9.6 11.5 10 11.6 10.3 11.6 10.5 11.5 10.5 11.6 10.5 11.5 10.4 11.6 10.3 11.5 10 11.6 9.9 11.6 9.6 11.5 9.3 11.6 9 11.5 8.6 11.6 8.4 11.5 8 11.6 7.7 11.5 7.4 11.6 7.1 11.6 6.8 11.5 6.5 11.6 6.1 11.5 5.9 11.6 5.6 11.5 5.4 11.6 5.1 11.6 4.9 11.5 4.6 11.6 4.4 11.5 4.2 11.6 4 11.5 3.7 11.6 3.6 11.5 3.5 11.6 3.2 11.6 3.1 11.5 2.9 11.6 2.8 11.5 2.6 11.6 2.5 11.5 2.3 11.6 2.3 11.6 2.1 11.5 1.9 11.6 1.9 11.5 1.8 11.6 1.7 11.5 1.5 11.6 1.5 11.5 1.4 11.6 1.3 11.6 1.2 11.5 1.1 11.6 1 11.5 1 11.6 0.9 11.5 0.9 11.6 0.7 11.6 0.7 11.5 0.7 11.6 0.5 11.5 0.6 11.6 0.4 11.5 0.4 11.6 0.4 11.5 0.3 11.6 0.3 11.6 0.2 11.5 0.1 11.6 0.1M390.5 609l11.5 0.5 11.6 1.9 11.5 3.4 11.6 4.7 11.5 6 11.6 7 11.6 7.9 11.5 8.8 11.6 9.4 11.5 9.9 11.6 10.3 11.5 10.6 11.6 10.7 11.5 10.8 11.6 10.7 11.6 10.7 11.5 10.5 11.6 10.2 11.5 10.1 11.6 9.7 11.5 9.5 11.6 9.1 11.5 8.9 11.6 8.4 11.6 8.2 11.5 7.8 11.6 7.5 11.5 7.2 11.6 6.8 11.5 6.6 11.6 6.2 11.6 6 11.5 5.7 11.6 5.4 11.5 5.1 11.6 5 11.5 4.6 11.6 4.5 11.5 4.2 11.6 4 11.6 3.8 11.5 3.7 11.6 3.4 11.5 3.3 11.6 3.1 11.5 2.9 11.6 2.8 11.6 2.7 11.5 2.5 11.6 2.3 11.5 2.3 11.6 2.1 11.5 2 11.6 1.9 11.6 1.8 11.5 1.7 11.6 1.5 11.5 1.5 11.6 1.4 11.5 1.3 11.6 1.2 11.5 1.2 11.6 1 11.6 1 11.5 0.9 11.6 0.9 11.5 0.7 11.6 0.7 11.5 0.7 11.6 0.6 11.6 0.5 11.5 0.5 11.6 0.4 11.5 0.3 11.6 0.4 11.5 0.2 11.6 0.2 11.5 0.2 11.6 0.1M378.2 593l11.5 0.5 11.6 2.1 11.6 3.6 11.5 4.9 11.6 6.2 11.5 7.2 11.6 8.3 11.5 9 11.6 9.7 11.5 10.2 11.6 10.6 11.6 10.8 11.5 11 11.6 11.1 11.5 11 11.6 10.8 11.5 10.8 11.6 10.4 11.6 10.3 11.5 9.9 11.6 9.6 11.5 9.3 11.6 9 11.5 8.6 11.6 8.3 11.5 7.9 11.6 7.6 11.6 7.3 11.5 6.9 11.6 6.6 11.5 6.4 11.6 6 11.5 5.7 11.6 5.5 11.6 5.2 11.5 5 11.6 4.7 11.5 4.5 11.6 4.2 11.5 4.1 11.6 3.8 11.5 3.7 11.6 3.5 11.6 3.3 11.5 3.1 11.6 3 11.5 2.8 11.6 2.6 11.5 2.6 11.6 2.3 11.6 2.3 11.5 2.1 11.6 2.1 11.5 1.9 11.6 1.8 11.5 1.7 11.6 1.5 11.5 1.5 11.6 1.4 11.6 1.4 11.5 1.2 11.6 1.1 11.5 1.1 11.6 1 11.5 0.9 11.6 0.9 11.6 0.7 11.5 0.8 11.6 0.6 11.5 0.6 11.6 0.5 11.5 0.5 11.6 0.4 11.5 0.4 11.6 0.3 11.6 0.3 11.5 0.2 11.6 0.2 11.5 0.1M365.9 576.9l11.6 0.7 11.5 2.2 11.6 3.7 11.5 5.1 11.6 6.4 11.6 7.6 11.5 8.5 11.6 9.3 11.5 10 11.6 10.5 11.5 10.9 11.6 11.1 11.5 11.3 11.6 11.3 11.6 11.2 11.5 11.1 11.6 11 11.5 10.7 11.6 10.4 11.5 10.1 11.6 9.8 11.6 9.5 11.5 9.1 11.6 8.7 11.5 8.4 11.6 8 11.5 7.7 11.6 7.4 11.5 7 11.6 6.7 11.6 6.4 11.5 6.1 11.6 5.8 11.5 5.5 11.6 5.3 11.5 5 11.6 4.7 11.6 4.6 11.5 4.3 11.6 4 11.5 3.9 11.6 3.7 11.5 3.5 11.6 3.3 11.5 3.2 11.6 3 11.6 2.8 11.5 2.7 11.6 2.6 11.5 2.4 11.6 2.2 11.5 2.2 11.6 2 11.6 2 11.5 1.8 11.6 1.7 11.5 1.6 11.6 1.5 11.5 1.4 11.6 1.3 11.5 1.3 11.6 1.1 11.6 1.1 11.5 1 11.6 0.9 11.5 0.9 11.6 0.8 11.5 0.7 11.6 0.6 11.6 0.6 11.5 0.6 11.6 0.5 11.5 0.4 11.6 0.4 11.5 0.3 11.6 0.3 11.5 0.2 11.6 0.2 11.6 0.1M353.6 560.9l11.6 0.7 11.6 2.3 11.5 3.9 11.6 5.3 11.5 6.7 11.6 7.7 11.5 8.8 11.6 9.7 11.5 10.2 11.6 10.9 11.6 11.1 11.5 11.5 11.6 11.5 11.5 11.6 11.6 11.5 11.5 11.4 11.6 11.1 11.6 10.9 11.5 10.7 11.6 10.2 11.5 10 11.6 9.6 11.5 9.2 11.6 8.9 11.5 8.5 11.6 8.2 11.6 7.8 11.5 7.4 11.6 7.1 11.5 6.8 11.6 6.4 11.5 6.2 11.6 5.9 11.6 5.5 11.5 5.3 11.6 5.1 11.5 4.8 11.6 4.6 11.5 4.3 11.6 4.1 11.5 3.9 11.6 3.8 11.6 3.5 11.5 3.3 11.6 3.2 11.5 3 11.6 2.9 11.5 2.7 11.6 2.6 11.6 2.4 11.5 2.3 11.6 2.2 11.5 2 11.6 1.9 11.5 1.9 11.6 1.7 11.5 1.6 11.6 1.5 11.6 1.4 11.5 1.4 11.6 1.2 11.5 1.2 11.6 1.1 11.5 1 11.6 0.9 11.6 0.9 11.5 0.8 11.6 0.7 11.5 0.7 11.6 0.6 11.5 0.5 11.6 0.5 11.5 0.4 11.6 0.4 11.6 0.4 11.5 0.2 11.6 0.3 11.5 0.2 11.6 0.1M341.4 544.7l11.5 0.8 11.6 2.5 11.5 4 11.6 5.6 11.6 6.9 11.5 8 11.6 9.1 11.5 9.9 11.6 10.6 11.5 11.1 11.6 11.5 11.5 11.8 11.6 11.8 11.6 11.8 11.5 11.8 11.6 11.6 11.5 11.4 11.6 11.1 11.5 10.8 11.6 10.5 11.6 10.1 11.5 9.8 11.6 9.3 11.5 9 11.6 8.7 11.5 8.2 11.6 7.9 11.5 7.5 11.6 7.2 11.6 6.9 11.5 6.5 11.6 6.2 11.5 5.9 11.6 5.7 11.5 5.3 11.6 5.1 11.6 4.9 11.5 4.6 11.6 4.4 11.5 4.1 11.6 4 11.5 3.7 11.6 3.6 11.5 3.3 11.6 3.2 11.6 3.1 11.5 2.9 11.6 2.7 11.5 2.6 11.6 2.4 11.5 2.3 11.6 2.2 11.6 2.1 11.5 1.9 11.6 1.9 11.5 1.7 11.6 1.6 11.5 1.6 11.6 1.4 11.5 1.3 11.6 1.3 11.6 1.2 11.5 1.1 11.6 1 11.5 0.9 11.6 0.9 11.5 0.8 11.6 0.7 11.6 0.7 11.5 0.6 11.6 0.6 11.5 0.5 11.6 0.4 11.5 0.4 11.6 0.3 11.5 0.3 11.6 0.2 11.6 0.2 11.5 0.2M329.1 528.5l11.6 0.9 11.5 2.6 11.6 4.2 11.5 5.8 11.6 7.1 11.5 8.4 11.6 9.4 11.5 10.2 11.6 10.9 11.6 11.4 11.5 11.8 11.6 12.1 11.5 12.1 11.6 12.1 11.5 12 11.6 11.9 11.6 11.6 11.5 11.3 11.6 11 11.5 10.7 11.6 10.2 11.5 9.9 11.6 9.6 11.5 9.1 11.6 8.7 11.6 8.4 11.5 8 11.6 7.6 11.5 7.3 11.6 6.9 11.5 6.6 11.6 6.3 11.6 5.9 11.5 5.7 11.6 5.4 11.5 5.2 11.6 4.9 11.5 4.6 11.6 4.4 11.5 4.2 11.6 4 11.6 3.8 11.5 3.6 11.6 3.4 11.5 3.2 11.6 3 11.5 2.9 11.6 2.8 11.6 2.6 11.5 2.5 11.6 2.3 11.5 2.2 11.6 2.1 11.5 1.9 11.6 1.9 11.5 1.7 11.6 1.7 11.6 1.5 11.5 1.4 11.6 1.4 11.5 1.3 11.6 1.2 11.5 1.1 11.6 1 11.6 0.9 11.5 0.9 11.6 0.8 11.5 0.8 11.6 0.7 11.5 0.6 11.6 0.5 11.5 0.5 11.6 0.5 11.6 0.4 11.5 0.3 11.6 0.3 11.5 0.2 11.6 0.2 11.5 0.2M316.8 512.3l11.6 1 11.5 2.7 11.6 4.4 11.6 6 11.5 7.4 11.6 8.6 11.5 9.7 11.6 10.5 11.5 11.3 11.6 11.7 11.5 12.1 11.6 12.4 11.6 12.4 11.5 12.4 11.6 12.3 11.5 12 11.6 11.9 11.5 11.5 11.6 11.2 11.6 10.9 11.5 10.4 11.6 10.1 11.5 9.6 11.6 9.3 11.5 8.8 11.6 8.5 11.5 8.1 11.6 7.7 11.6 7.3 11.5 7 11.6 6.7 11.5 6.3 11.6 6.1 11.5 5.7 11.6 5.4 11.6 5.2 11.5 5 11.6 4.6 11.5 4.5 11.6 4.2 11.5 4 11.6 3.8 11.5 3.7 11.6 3.4 11.6 3.2 11.5 3.1 11.6 2.9 11.5 2.8 11.6 2.6 11.5 2.5 11.6 2.3 11.6 2.3 11.5 2.1 11.6 1.9 11.5 1.9 11.6 1.7 11.5 1.7 11.6 1.6 11.5 1.4 11.6 1.4 11.6 1.3 11.5 1.1 11.6 1.2 11.5 1 11.6 1 11.5 0.8 11.6 0.9 11.6 0.7 11.5 0.7 11.6 0.6 11.5 0.6 11.6 0.5 11.5 0.4 11.6 0.4 11.5 0.4 11.6 0.3 11.6 0.2 11.5 0.2 11.6 0.2M304.6 496l11.5 1.1 11.6 2.8 11.5 4.7 11.6 6.2 11.5 7.6 11.6 8.9 11.6 10 11.5 10.9 11.6 11.5 11.5 12.1 11.6 12.4 11.5 12.7 11.6 12.7 11.5 12.7 11.6 12.5 11.6 12.3 11.5 12.1 11.6 11.8 11.5 11.3 11.6 11.1 11.5 10.6 11.6 10.2 11.5 9.8 11.6 9.3 11.6 9 11.5 8.6 11.6 8.2 11.5 7.7 11.6 7.5 11.5 7 11.6 6.8 11.6 6.4 11.5 6.1 11.6 5.8 11.5 5.5 11.6 5.2 11.5 5 11.6 4.7 11.5 4.5 11.6 4.2 11.6 4.1 11.5 3.8 11.6 3.7 11.5 3.4 11.6 3.3 11.5 3.1 11.6 2.9 11.6 2.8 11.5 2.6 11.6 2.5 11.5 2.4 11.6 2.2 11.5 2.1 11.6 2 11.6 1.9 11.5 1.8 11.6 1.6 11.5 1.6 11.6 1.5 11.5 1.3 11.6 1.3 11.5 1.2 11.6 1.2 11.6 1 11.5 1 11.6 0.9 11.5 0.8 11.6 0.7 11.5 0.7 11.6 0.7 11.6 0.5 11.5 0.6 11.6 0.4 11.5 0.4 11.6 0.4 11.5 0.3 11.6 0.2 11.5 0.2 11.6 0.2"/>
<path class="mc" d="M734.1 1038.1l-12.3-14.8-12.3-14.7-12.3-14.8-12.2-14.9-12.3-14.9-12.3-14.9-12.2-15-12.3-15-12.3-15.1-12.3-15.1-12.2-15.2-12.3-15.2-12.3-15.3-12.2-15.3-12.3-15.3-12.3-15.4-12.3-15.4-12.2-15.5-12.3-15.5-12.3-15.6-12.2-15.6-12.3-15.7-12.3-15.7-12.3-15.7-12.2-15.8-12.3-15.9-12.3-15.9-12.2-15.9-12.3-16-12.3-16.1-12.3-16-12.2-16.2-12.3-16.2-12.3-16.2-12.2-16.3M745.6 1037.2l-12.3-14.7-12.2-14.8-12.3-14.7-12.3-14.9-12.2-14.8-12.3-14.9-12.3-15-12.3-15-12.2-15-12.3-15.1-12.3-15.1-12.2-15.2-12.3-15.2-12.3-15.2-12.3-15.3-12.2-15.3-12.3-15.4-12.3-15.4-12.2-15.5-12.3-15.5-12.3-15.6-12.3-15.6-12.2-15.6-12.3-15.7-12.3-15.8-12.2-15.7-12.3-15.9-12.3-15.8-12.3-16-12.2-15.9-12.3-16-12.3-16.1-12.2-16.1-12.3-16.1-12.3-16.2M757.2 1036.9l-12.3-14.7-12.3-14.7-12.2-14.7-12.3-14.7-12.3-14.8-12.3-14.9-12.2-14.9-12.3-14.9-12.3-14.9-12.2-15.1-12.3-15-12.3-15.1-12.3-15.1-12.2-15.2-12.3-15.2-12.3-15.3-12.2-15.3-12.3-15.3-12.3-15.4-12.3-15.4-12.2-15.5-12.3-15.5-12.3-15.5-12.2-15.6-12.3-15.6-12.3-15.7-12.3-15.7-12.2-15.8-12.3-15.8-12.3-15.8-12.2-15.9-12.3-15.9-12.3-16-12.3-16-12.2-16.1M768.7 1037.2l-12.2-14.6-12.3-14.6-12.3-14.6-12.3-14.7-12.2-14.7-12.3-14.8-12.3-14.8-12.2-14.8-12.3-14.9-12.3-14.9-12.3-15-12.2-14.9-12.3-15.1-12.3-15-12.2-15.1-12.3-15.2-12.3-15.2-12.3-15.2-12.2-15.2-12.3-15.3-12.3-15.4-12.2-15.3-12.3-15.4-12.3-15.5-12.3-15.5-12.2-15.5-12.3-15.6-12.3-15.6-12.2-15.6-12.3-15.7-12.3-15.7-12.3-15.8-12.2-15.8-12.3-15.8-12.3-15.8M780.3 1038l-12.3-14.4-12.3-14.5-12.2-14.6-12.3-14.6-12.3-14.6-12.2-14.6-12.3-14.7-12.3-14.7-12.3-14.8-12.2-14.8-12.3-14.8-12.3-14.9-12.2-14.9-12.3-14.9-12.3-15-12.3-15-12.2-15-12.3-15.1-12.3-15.1-12.2-15.1-12.3-15.2-12.3-15.2-12.3-15.2-12.2-15.3-12.3-15.3-12.3-15.4-12.2-15.3-12.3-15.5-12.3-15.4-12.3-15.5-12.2-15.5-12.3-15.5-12.3-15.6-12.2-15.6-12.3-15.6M791.8 1039.5l-12.2-14.4-12.3-14.4-12.3-14.4-12.2-14.5-12.3-14.5-12.3-14.5-12.3-14.6-12.2-14.5-12.3-14.7-12.3-14.6-12.2-14.7-12.3-14.7-12.3-14.8-12.3-14.7-12.2-14.8-12.3-14.9-12.3-14.8-12.2-14.9-12.3-15-12.3-14.9-12.3-15-12.2-15-12.3-15.1-12.3-15-12.2-15.1-12.3-15.2-12.3-15.1-12.3-15.2-12.2-15.2-12.3-15.3-12.3-15.2-12.2-15.3-12.3-15.4-12.3-15.3-12.3-15.4M803.4 1041.4l-12.3-14.2-12.2-14.3-12.3-14.3-12.3-14.3-12.3-14.4-12.2-14.4-12.3-14.4-12.3-14.4-12.2-14.5-12.3-14.5-12.3-14.5-12.3-14.5-12.2-14.6-12.3-14.6-12.3-14.6-12.2-14.7-12.3-14.7-12.3-14.7-12.3-14.7-12.2-14.7-12.3-14.8-12.3-14.8-12.2-14.8-12.3-14.9-12.3-14.9-12.3-14.8-12.2-15-12.3-14.9-12.3-15-12.2-14.9-12.3-15.1-12.3-15-12.3-15-12.2-15.1-12.3-15.1M815 1043.8l-12.3-14.1-12.3-14.1-12.3-14.2-12.2-14.1-12.3-14.2-12.3-14.3-12.2-14.2-12.3-14.3-12.3-14.3-12.3-14.3-12.2-14.3-12.3-14.4-12.3-14.4-12.2-14.4-12.3-14.4-12.3-14.5-12.3-14.4-12.2-14.5-12.3-14.5-12.3-14.6-12.3-14.5-12.2-14.6-12.3-14.6-12.3-14.6-12.2-14.6-12.3-14.6-12.3-14.7-12.2-14.7-12.3-14.6-12.3-14.7-12.3-14.8-12.2-14.7-12.3-14.7-12.3-14.8-12.2-14.8M826.5 1046.7l-12.3-14-12.2-14-12.3-13.9-12.3-14.1-12.3-14-12.2-14-12.3-14.1-12.3-14.1-12.2-14.1-12.3-14.2-12.3-14.1-12.3-14.2-12.2-14.2-12.3-14.2-12.3-14.2-12.2-14.2-12.3-14.3-12.3-14.2-12.3-14.3-12.2-14.3-12.3-14.3-12.3-14.3-12.2-14.4-12.3-14.3-12.3-14.4-12.3-14.3-12.2-14.4-12.3-14.4-12.3-14.4-12.2-14.4-12.3-14.4-12.3-14.5-12.3-14.4-12.2-14.5-12.3-14.4M838.1 1049.9l-12.3-13.8-12.3-13.8-12.3-13.8-12.2-13.8-12.3-13.9-12.3-13.9-12.2-13.9-12.3-13.9-12.3-13.9-12.3-13.9-12.2-14-12.3-13.9-12.3-14-12.2-14-12.3-14-12.3-14-12.3-14-12.2-14-12.3-14.1-12.3-14-12.2-14.1-12.3-14.1-12.3-14-12.3-14.1-12.2-14.1-12.3-14.1-12.3-14.1-12.2-14.1-12.3-14.1-12.3-14.1-12.3-14.2-12.2-14.1-12.3-14.1-12.3-14.1-12.2-14.2M849.6 1053.5l-12.3-13.6-12.2-13.6-12.3-13.7-12.3-13.7-12.2-13.6-12.3-13.7-12.3-13.7-12.3-13.7-12.2-13.7-12.3-13.8-12.3-13.7-12.2-13.8-12.3-13.7-12.3-13.8-12.3-13.7-12.2-13.8-12.3-13.8-12.3-13.8-12.2-13.8-12.3-13.8-12.3-13.8-12.3-13.8-12.2-13.8-12.3-13.8-12.3-13.8-12.2-13.9-12.3-13.8-12.3-13.8-12.3-13.8-12.2-13.8-12.3-13.8-12.3-13.9-12.2-13.8-12.3-13.8-12.3-13.8M861.2 1057.4l-12.3-13.4-12.3-13.5-12.2-13.4-12.3-13.5-12.3-13.5-12.3-13.5-12.2-13.5-12.3-13.5-12.3-13.5-12.2-13.6-12.3-13.5-12.3-13.5-12.3-13.5-12.2-13.6-12.3-13.5-12.3-13.6-12.2-13.5-12.3-13.6-12.3-13.5-12.3-13.6-12.2-13.5-12.3-13.6-12.3-13.5-12.2-13.5-12.3-13.6-12.3-13.5-12.3-13.6-12.2-13.5-12.3-13.5-12.3-13.5-12.2-13.6-12.3-13.5-12.3-13.5-12.3-13.5-12.2-13.5M872.7 1061.6l-12.2-13.2-12.3-13.3-12.3-13.3-12.3-13.3-12.2-13.3-12.3-13.3-12.3-13.3-12.2-13.3-12.3-13.3-12.3-13.3-12.3-13.4-12.2-13.3-12.3-13.3-12.3-13.3-12.2-13.3-12.3-13.3-12.3-13.3-12.3-13.3-12.2-13.3-12.3-13.3-12.3-13.3-12.2-13.3-12.3-13.3-12.3-13.3-12.3-13.3-12.2-13.2-12.3-13.3-12.3-13.2-12.2-13.3-12.3-13.2-12.3-13.2-12.3-13.2-12.2-13.2-12.3-13.2-12.3-13.2M884.3 1066.1l-12.3-13.1-12.3-13.1-12.2-13.2-12.3-13.1-12.3-13.1-12.2-13.1-12.3-13.1-12.3-13.1-12.3-13.1-12.2-13.1-12.3-13.1-12.3-13.1-12.2-13.1-12.3-13.1-12.3-13.1-12.3-13-12.2-13.1-12.3-13.1-12.3-13-12.2-13.1-12.3-13-12.3-13.1-12.3-13-12.2-13-12.3-13-12.3-13-12.2-13-12.3-13-12.3-13-12.3-12.9-12.2-13-12.3-12.9-12.3-12.9-12.2-12.9-12.3-12.9M895.8 1070.7l-12.2-13-12.3-12.9-12.3-12.9-12.2-12.9-12.3-12.9-12.3-13-12.3-12.9-12.2-12.9-12.3-12.9-12.3-12.9-12.2-12.9-12.3-12.8-12.3-12.9-12.3-12.9-12.2-12.9-12.3-12.8-12.3-12.9-12.2-12.8-12.3-12.8-12.3-12.8-12.3-12.8-12.2-12.8-12.3-12.8-12.3-12.8-12.2-12.7-12.3-12.8-12.3-12.7-12.3-12.7-12.2-12.7-12.3-12.7-12.3-12.7-12.2-12.7-12.3-12.6-12.3-12.6-12.3-12.6M907.4 1075.4l-12.3-12.7-12.2-12.8-12.3-12.7-12.3-12.7-12.3-12.8-12.2-12.7-12.3-12.7-12.3-12.7-12.2-12.7-12.3-12.7-12.3-12.7-12.3-12.7-12.2-12.6-12.3-12.7-12.3-12.7-12.2-12.6-12.3-12.6-12.3-12.6-12.3-12.6-12.2-12.6-12.3-12.6-12.3-12.5-12.2-12.6-12.3-12.5-12.3-12.5-12.3-12.5-12.2-12.5-12.3-12.5-12.3-12.4-12.2-12.5-12.3-12.4-12.3-12.4-12.3-12.4-12.2-12.3-12.3-12.4M919 1080.3l-12.3-12.6-12.3-12.6-12.3-12.5-12.2-12.6-12.3-12.5-12.3-12.5-12.2-12.6-12.3-12.5-12.3-12.5-12.3-12.5-12.2-12.5-12.3-12.5-12.3-12.4-12.2-12.5-12.3-12.4-12.3-12.4-12.3-12.4-12.2-12.4-12.3-12.4-12.3-12.4-12.2-12.3-12.3-12.4-12.3-12.3-12.3-12.3-12.2-12.3-12.3-12.3-12.3-12.2-12.2-12.2-12.3-12.3-12.3-12.2-12.3-12.1-12.2-12.2-12.3-12.1-12.3-12.2-12.2-12.1M930.5 1085.2l-12.3-12.4-12.2-12.4-12.3-12.3-12.3-12.4-12.2-12.4-12.3-12.3-12.3-12.4-12.3-12.3-12.2-12.3-12.3-12.3-12.3-12.3-12.2-12.3-12.3-12.3-12.3-12.2-12.3-12.3-12.2-12.2-12.3-12.2-12.3-12.2-12.2-12.2-12.3-12.1-12.3-12.2-12.3-12.1-12.2-12.1-12.3-12.1-12.3-12.1-12.2-12-12.3-12-12.3-12-12.3-12-12.2-12-12.3-12-12.3-11.9-12.2-11.9-12.3-11.9-12.3-11.9M942.1 1090.3l-12.3-12.3-12.3-12.2-12.2-12.2-12.3-12.2-12.3-12.2-12.3-12.2-12.2-12.2-12.3-12.1-12.3-12.2-12.2-12.1-12.3-12.1-12.3-12.1-12.3-12.1-12.2-12-12.3-12.1-12.3-12-12.2-12-12.3-12-12.3-12-12.3-12-12.2-11.9-12.3-11.9-12.3-11.9-12.2-11.9-12.3-11.9-12.3-11.8-12.3-11.9-12.2-11.8-12.3-11.8-12.3-11.7-12.2-11.8-12.3-11.7-12.3-11.7-12.3-11.7-12.2-11.6M953.6 1095.3l-12.2-12.1-12.3-12.1-12.3-12-12.3-12.1-12.2-12-12.3-12-12.3-12-12.2-12-12.3-11.9-12.3-12-12.3-11.9-12.2-11.9-12.3-11.9-12.3-11.9-12.2-11.9-12.3-11.8-12.3-11.9-12.3-11.8-12.2-11.8-12.3-11.7-12.3-11.8-12.2-11.7-12.3-11.8-12.3-11.6-12.3-11.7-12.2-11.7-12.3-11.6-12.3-11.6-12.2-11.6-12.3-11.6-12.3-11.5-12.3-11.6-12.2-11.5-12.3-11.5-12.3-11.5M965.2 1100.3l-12.3-11.9-12.3-11.9-12.2-11.9-12.3-11.9-12.3-11.9-12.2-11.8-12.3-11.9-12.3-11.8-12.3-11.8-12.2-11.8-12.3-11.7-12.3-11.8-12.2-11.7-12.3-11.7-12.3-11.7-12.3-11.7-12.2-11.6-12.3-11.7-12.3-11.6-12.2-11.6-12.3-11.6-12.3-11.5-12.3-11.6-12.2-11.5-12.3-11.5-12.3-11.5-12.2-11.4-12.3-11.5-12.3-11.4-12.3-11.4-12.2-11.4-12.3-11.3-12.3-11.3-12.2-11.3-12.3-11.3M976.7 1105.3l-12.2-11.8-12.3-11.7-12.3-11.8-12.2-11.7-12.3-11.7-12.3-11.7-12.3-11.7-12.2-11.7-12.3-11.6-12.3-11.6-12.2-11.6-12.3-11.6-12.3-11.6-12.3-11.6-12.2-11.5-12.3-11.5-12.3-11.5-12.2-11.5-12.3-11.4-12.3-11.5-12.3-11.4-12.2-11.4-12.3-11.3-12.3-11.4-12.2-11.3-12.3-11.3-12.3-11.3-12.3-11.3-12.2-11.3-12.3-11.2-12.3-11.2-12.2-11.2-12.3-11.2-12.3-11.1-12.3-11.1M988.3 1110.3l-12.3-11.7-12.2-11.6-12.3-11.6-12.3-11.6-12.3-11.6-12.2-11.5-12.3-11.5-12.3-11.6-12.2-11.5-12.3-11.4-12.3-11.5-12.3-11.4-12.2-11.4-12.3-11.4-12.3-11.4-12.2-11.4-12.3-11.3-12.3-11.4-12.3-11.3-12.2-11.2-12.3-11.3-12.3-11.2-12.2-11.3-12.3-11.2-12.3-11.1-12.3-11.2-12.2-11.1-12.3-11.2-12.3-11.1-12.2-11-12.3-11.1-12.3-11-12.3-11.1-12.2-10.9-12.3-11M999.8 1115.1l-12.2-11.5-12.3-11.4-12.3-11.5-12.2-11.5-12.3-11.4-12.3-11.4-12.3-11.4-12.2-11.4-12.3-11.3-12.3-11.4-12.2-11.3-12.3-11.3-12.3-11.3-12.3-11.2-12.2-11.2-12.3-11.3-12.3-11.2-12.2-11.1-12.3-11.2-12.3-11.1-12.3-11.2-12.2-11.1-12.3-11-12.3-11.1-12.2-11-12.3-11.1-12.3-11-12.3-10.9-12.2-11-12.3-10.9-12.3-11-12.2-10.9-12.3-10.8-12.3-10.9-12.3-10.8M1011.4 1120l-12.3-11.4-12.2-11.4-12.3-11.3-12.3-11.3-12.3-11.3-12.2-11.3-12.3-11.3-12.3-11.2-12.2-11.2-12.3-11.2-12.3-11.2-12.3-11.2-12.2-11.1-12.3-11.2-12.3-11.1-12.2-11.1-12.3-11-12.3-11.1-12.3-11-12.2-11-12.3-11-12.3-11-12.2-10.9-12.3-10.9-12.3-10.9-12.3-10.9-12.2-10.9-12.3-10.9-12.3-10.8-12.2-10.8-12.3-10.8-12.3-10.8-12.3-10.7-12.2-10.7-12.3-10.8M1023 1124.7l-12.3-11.3-12.3-11.2-12.3-11.2-12.2-11.2-12.3-11.2-12.3-11.2-12.2-11.1-12.3-11.1-12.3-11.1-12.3-11.1-12.2-11-12.3-11.1-12.3-11-12.2-11-12.3-11-12.3-11-12.3-10.9-12.2-10.9-12.3-10.9-12.3-10.9-12.2-10.9-12.3-10.8-12.3-10.9-12.3-10.8-12.2-10.7-12.3-10.8-12.3-10.8-12.2-10.7-12.3-10.7-12.3-10.7-12.3-10.7-12.2-10.6-12.3-10.7-12.3-10.6-12.2-10.6M1034.5 1129.3l-12.3-11.1-12.2-11.2-12.3-11.1-12.3-11-12.2-11.1-12.3-11-12.3-11.1-12.3-11-12.2-10.9-12.3-11-12.3-11-12.2-10.9-12.3-10.9-12.3-10.9-12.3-10.8-12.2-10.9-12.3-10.8-12.3-10.8-12.2-10.8-12.3-10.8-12.3-10.7-12.3-10.8-12.2-10.7-12.3-10.7-12.3-10.7-12.2-10.6-12.3-10.7-12.3-10.6-12.3-10.6-12.2-10.6-12.3-10.5-12.3-10.6-12.2-10.5-12.3-10.5-12.3-10.5M1046.1 1133.8l-12.3-11-12.3-11-12.2-11-12.3-11-12.3-10.9-12.3-11-12.2-10.9-12.3-10.9-12.3-10.9-12.2-10.8-12.3-10.8-12.3-10.9-12.3-10.8-12.2-10.7-12.3-10.8-12.3-10.7-12.2-10.8-12.3-10.7-12.3-10.6-12.3-10.7-12.2-10.7-12.3-10.6-12.3-10.6-12.2-10.6-12.3-10.6-12.3-10.5-12.3-10.6-12.2-10.5-12.3-10.5-12.3-10.5-12.2-10.4-12.3-10.5-12.3-10.4-12.3-10.4-12.2-10.4M1057.6 1138.2l-12.2-10.9-12.3-10.9-12.3-10.9-12.3-10.9-12.2-10.8-12.3-10.9-12.3-10.8-12.2-10.8-12.3-10.7-12.3-10.8-12.3-10.7-12.2-10.7-12.3-10.7-12.3-10.7-12.2-10.7-12.3-10.6-12.3-10.6-12.3-10.6-12.2-10.6-12.3-10.6-12.3-10.5-12.2-10.6-12.3-10.5-12.3-10.5-12.3-10.5-12.2-10.4-12.3-10.5-12.3-10.4-12.2-10.4-12.3-10.4-12.3-10.4-12.3-10.4-12.2-10.3-12.3-10.3-12.3-10.4M1069.2 1142.5l-12.3-10.9-12.3-10.8-12.2-10.8-12.3-10.7-12.3-10.8-12.2-10.7-12.3-10.7-12.3-10.7-12.3-10.7-12.2-10.7-12.3-10.6-12.3-10.6-12.2-10.6-12.3-10.6-12.3-10.6-12.3-10.5-12.2-10.6-12.3-10.5-12.3-10.5-12.2-10.4-12.3-10.5-12.3-10.4-12.3-10.5-12.2-10.4-12.3-10.4-12.3-10.4-12.2-10.3-12.3-10.4-12.3-10.3-12.3-10.3-12.2-10.3-12.3-10.3-12.3-10.2-12.2-10.3-12.3-10.2M1080.7 1146.6l-12.2-10.7-12.3-10.8-12.3-10.6-12.2-10.7-12.3-10.7-12.3-10.6-12.3-10.7-12.2-10.6-12.3-10.5-12.3-10.6-12.2-10.6-12.3-10.5-12.3-10.5-12.3-10.5-12.2-10.5-12.3-10.5-12.3-10.4-12.2-10.4-12.3-10.4-12.3-10.4-12.3-10.4-12.2-10.4-12.3-10.3-12.3-10.4-12.2-10.3-12.3-10.3-12.3-10.2-12.3-10.3-12.2-10.3-12.3-10.2-12.3-10.2-12.2-10.2-12.3-10.2-12.3-10.2-12.3-10.2M1092.3 1150.6l-12.3-10.6-12.2-10.7-12.3-10.6-12.3-10.6-12.3-10.6-12.2-10.5-12.3-10.5-12.3-10.6-12.2-10.5-12.3-10.5-12.3-10.4-12.3-10.5-12.2-10.4-12.3-10.4-12.3-10.4-12.2-10.4-12.3-10.4-12.3-10.3-12.3-10.4-12.2-10.3-12.3-10.3-12.3-10.3-12.2-10.2-12.3-10.3-12.3-10.2-12.3-10.3-12.2-10.2-12.3-10.2-12.3-10.1-12.2-10.2-12.3-10.2-12.3-10.1-12.3-10.1-12.2-10.1-12.3-10.1M1103.9 1154.5l-12.3-10.6-12.3-10.5-12.3-10.6-12.2-10.5-12.3-10.5-12.3-10.5-12.2-10.4-12.3-10.5-12.3-10.4-12.3-10.4-12.2-10.4-12.3-10.4-12.3-10.3-12.2-10.4-12.3-10.3-12.3-10.3-12.3-10.3-12.2-10.3-12.3-10.2-12.3-10.3-12.2-10.2-12.3-10.2-12.3-10.2-12.3-10.2-12.2-10.2-12.3-10.1-12.3-10.2-12.2-10.1-12.3-10.1-12.3-10.1-12.3-10.1-12.2-10.1-12.3-10-12.3-10.1-12.2-10M1115.4 1158.2l-12.3-10.5-12.2-10.4-12.3-10.5-12.3-10.4-12.2-10.5-12.3-10.4-12.3-10.3-12.3-10.4-12.2-10.4-12.3-10.3-12.3-10.3-12.2-10.3-12.3-10.3-12.3-10.3-12.3-10.2-12.2-10.3-12.3-10.2-12.3-10.2-12.2-10.2-12.3-10.2-12.3-10.2-12.3-10.1-12.2-10.2-12.3-10.1-12.3-10.1-12.2-10.1-12.3-10.1-12.3-10-12.3-10.1-12.2-10-12.3-10-12.3-10.1-12.2-10-12.3-9.9-12.3-10M1127 1161.8l-12.3-10.4-12.3-10.4-12.2-10.4-12.3-10.3-12.3-10.4-12.3-10.3-12.2-10.3-12.3-10.3-12.3-10.3-12.2-10.3-12.3-10.3-12.3-10.2-12.3-10.2-12.2-10.2-12.3-10.2-12.3-10.2-12.2-10.2-12.3-10.1-12.3-10.1-12.3-10.2-12.2-10.1-12.3-10.1-12.3-10-12.2-10.1-12.3-10-12.3-10.1-12.3-10-12.2-10-12.3-10-12.3-10-12.2-10-12.3-9.9-12.3-10-12.3-9.9-12.2-9.9M1138.5 1165.3l-12.2-10.3-12.3-10.4-12.3-10.3-12.3-10.3-12.2-10.3-12.3-10.3-12.3-10.2-12.2-10.2-12.3-10.3-12.3-10.2-12.3-10.2-12.2-10.1-12.3-10.2-12.3-10.2-12.2-10.1-12.3-10.1-12.3-10.1-12.3-10.1-12.2-10.1-12.3-10-12.3-10.1-12.2-10-12.3-10-12.3-10-12.3-10-12.2-10-12.3-10-12.3-10-12.2-9.9-12.3-9.9-12.3-10-12.3-9.9-12.2-9.9-12.3-9.9-12.3-9.8M1150.1 1168.7l-12.3-10.3-12.3-10.3-12.2-10.3-12.3-10.2-12.3-10.2-12.2-10.2-12.3-10.2-12.3-10.2-12.3-10.2-12.2-10.1-12.3-10.2-12.3-10.1-12.2-10.1-12.3-10.1-12.3-10.1-12.3-10-12.2-10.1-12.3-10-12.3-10-12.2-10-12.3-10-12.3-10-12.3-10-12.2-9.9-12.3-10-12.3-9.9-12.2-9.9-12.3-9.9-12.3-9.9-12.3-9.9-12.2-9.9-12.3-9.9-12.3-9.8-12.2-9.9-12.3-9.8M1161.6 1171.9l-12.2-10.3-12.3-10.2-12.3-10.2-12.2-10.2-12.3-10.1-12.3-10.2-12.3-10.1-12.2-10.1-12.3-10.2-12.3-10-12.2-10.1-12.3-10.1-12.3-10-12.3-10.1-12.2-10-12.3-10-12.3-10-12.2-10-12.3-10-12.3-9.9-12.3-10-12.2-9.9-12.3-9.9-12.3-9.9-12.2-9.9-12.3-9.9-12.3-9.9-12.3-9.9-12.2-9.8-12.3-9.9-12.3-9.8-12.2-9.8-12.3-9.8-12.3-9.8-12.3-9.8M1173.2 1174.9l-12.3-10.1-12.2-10.2-12.3-10.1-12.3-10.2-12.3-10.1-12.2-10.1-12.3-10.1-12.3-10-12.2-10.1-12.3-10-12.3-10.1-12.3-10-12.2-10-12.3-10-12.3-9.9-12.2-10-12.3-10-12.3-9.9-12.3-9.9-12.2-9.9-12.3-9.9-12.3-9.9-12.2-9.9-12.3-9.9-12.3-9.8-12.3-9.9-12.2-9.8-12.3-9.8-12.3-9.8-12.2-9.8-12.3-9.8-12.3-9.8-12.3-9.8-12.2-9.8-12.3-9.7M1184.8 1177.9l-12.3-10.1-12.3-10.1-12.3-10.1-12.2-10.1-12.3-10.1-12.3-10-12.3-10.1-12.2-10-12.3-10-12.3-10-12.2-10-12.3-9.9-12.3-10-12.2-9.9-12.3-10-12.3-9.9-12.3-9.9-12.2-9.9-12.3-9.9-12.3-9.8-12.3-9.9-12.2-9.8-12.3-9.9-12.3-9.8-12.2-9.8-12.3-9.8-12.3-9.8-12.3-9.8-12.2-9.8-12.3-9.7-12.3-9.8-12.2-9.7-12.3-9.8-12.3-9.7-12.3-9.7M1196.3 1180.7l-12.3-10-12.2-10.1-12.3-10.1-12.3-10-12.3-10-12.2-10-12.3-10-12.3-10-12.2-9.9-12.3-10-12.3-9.9-12.3-9.9-12.2-10-12.3-9.9-12.3-9.8-12.2-9.9-12.3-9.9-12.3-9.8-12.3-9.9-12.2-9.8-12.3-9.8-12.3-9.8-12.2-9.8-12.3-9.8-12.3-9.8-12.3-9.8-12.2-9.7-12.3-9.8-12.3-9.7-12.2-9.8-12.3-9.7-12.3-9.7-12.3-9.7-12.2-9.7-12.3-9.7M1207.9 1183.4l-12.3-10-12.3-10-12.3-10-12.2-10-12.3-10-12.3-9.9-12.2-10-12.3-9.9-12.3-9.9-12.3-9.9-12.2-9.9-12.3-9.9-12.3-9.9-12.2-9.9-12.3-9.8-12.3-9.8-12.3-9.9-12.2-9.8-12.3-9.8-12.3-9.8-12.2-9.8-12.3-9.7-12.3-9.8-12.3-9.8-12.2-9.7-12.3-9.7-12.3-9.8-12.2-9.7-12.3-9.7-12.3-9.7-12.3-9.7-12.2-9.6-12.3-9.7-12.3-9.7-12.2-9.6M1219.4 1186l-12.3-10-12.2-9.9-12.3-10-12.3-9.9-12.2-10-12.3-9.9-12.3-9.9-12.3-9.9-12.2-9.9-12.3-9.8-12.3-9.9-12.2-9.8-12.3-9.9-12.3-9.8-12.3-9.8-12.2-9.8-12.3-9.8-12.3-9.8-12.2-9.8-12.3-9.7-12.3-9.8-12.3-9.7-12.2-9.7-12.3-9.8-12.3-9.7-12.2-9.7-12.3-9.7-12.3-9.6-12.3-9.7-12.2-9.7-12.3-9.6-12.3-9.7-12.2-9.6-12.3-9.7-12.3-9.6M1231 1188.5l-12.3-10-12.3-9.9-12.2-9.9-12.3-9.9-12.3-9.9-12.3-9.9-12.2-9.8-12.3-9.9-12.3-9.8-12.2-9.9-12.3-9.8-12.3-9.8-12.3-9.8-12.2-9.8-12.3-9.8-12.3-9.7-12.2-9.8-12.3-9.7-12.3-9.8-12.3-9.7-12.2-9.7-12.3-9.7-12.3-9.7-12.2-9.7-12.3-9.7-12.3-9.7-12.3-9.6-12.2-9.7-12.3-9.6-12.3-9.7-12.2-9.6-12.3-9.6-12.3-9.6-12.3-9.6-12.2-9.6M1242.5 1190.8l-12.2-9.9-12.3-9.9-12.3-9.8-12.3-9.9-12.2-9.9-12.3-9.8-12.3-9.8-12.2-9.9-12.3-9.8-12.3-9.8-12.3-9.7-12.2-9.8-12.3-9.8-12.3-9.7-12.2-9.8-12.3-9.7-12.3-9.8-12.3-9.7-12.2-9.7-12.3-9.7-12.3-9.7-12.2-9.6-12.3-9.7-12.3-9.7-12.3-9.6-12.2-9.7-12.3-9.6-12.3-9.6-12.2-9.6-12.3-9.7-12.3-9.6-12.3-9.6-12.2-9.5-12.3-9.6-12.3-9.6M1254.1 1193.1l-12.3-9.9-12.3-9.8-12.2-9.9-12.3-9.8-12.3-9.8-12.2-9.8-12.3-9.8-12.3-9.8-12.3-9.8-12.2-9.8-12.3-9.7-12.3-9.8-12.2-9.7-12.3-9.7-12.3-9.7-12.3-9.8-12.2-9.7-12.3-9.6-12.3-9.7-12.2-9.7-12.3-9.6-12.3-9.7-12.3-9.6-12.2-9.7-12.3-9.6-12.3-9.6-12.2-9.6-12.3-9.6-12.3-9.6-12.3-9.6-12.2-9.6-12.3-9.6-12.3-9.5-12.2-9.6-12.3-9.5M1265.6 1195.2l-12.2-9.8-12.3-9.8-12.3-9.8-12.2-9.8-12.3-9.8-12.3-9.8-12.3-9.8-12.2-9.7-12.3-9.8-12.3-9.7-12.2-9.7-12.3-9.8-12.3-9.7-12.3-9.7-12.2-9.6-12.3-9.7-12.3-9.7-12.2-9.6-12.3-9.7-12.3-9.6-12.3-9.7-12.2-9.6-12.3-9.6-12.3-9.6-12.2-9.6-12.3-9.6-12.3-9.6-12.3-9.6-12.2-9.5-12.3-9.6-12.3-9.6-12.2-9.5-12.3-9.6-12.3-9.5-12.3-9.5M1277.2 1197.2l-12.3-9.8-12.2-9.7-12.3-9.8-12.3-9.8-12.3-9.7-12.2-9.8-12.3-9.7-12.3-9.8-12.2-9.7-12.3-9.7-12.3-9.7-12.3-9.7-12.2-9.6-12.3-9.7-12.3-9.7-12.2-9.6-12.3-9.7-12.3-9.6-12.3-9.6-12.2-9.6-12.3-9.6-12.3-9.6-12.2-9.6-12.3-9.6-12.3-9.6-12.3-9.6-12.2-9.5-12.3-9.6-12.3-9.5-12.2-9.6-12.3-9.5-12.3-9.5-12.3-9.6-12.2-9.5-12.3-9.5M1288.8 1199.2l-12.3-9.8-12.3-9.8-12.3-9.7-12.2-9.7-12.3-9.8-12.3-9.7-12.2-9.7-12.3-9.7-12.3-9.7-12.3-9.7-12.2-9.6-12.3-9.7-12.3-9.6-12.2-9.7-12.3-9.6-12.3-9.6-12.3-9.7-12.2-9.6-12.3-9.6-12.3-9.6-12.2-9.6-12.3-9.5-12.3-9.6-12.3-9.6-12.2-9.5-12.3-9.6-12.3-9.5-12.2-9.5-12.3-9.6-12.3-9.5-12.3-9.5-12.2-9.5-12.3-9.5-12.3-9.5-12.2-9.5M1300.3 1201l-12.3-9.7-12.2-9.8-12.3-9.7-12.3-9.7-12.2-9.7-12.3-9.7-12.3-9.7-12.3-9.6-12.2-9.7-12.3-9.7-12.3-9.6-12.2-9.6-12.3-9.7-12.3-9.6-12.3-9.6-12.2-9.6-12.3-9.6-12.3-9.6-12.2-9.6-12.3-9.5-12.3-9.6-12.3-9.6-12.2-9.5-12.3-9.5-12.3-9.6-12.2-9.5-12.3-9.5-12.3-9.5-12.3-9.5-12.2-9.5-12.3-9.5-12.3-9.5-12.2-9.5-12.3-9.5-12.3-9.5M1311.9 1202.7l-12.3-9.7-12.3-9.7-12.2-9.7-12.3-9.7-12.3-9.6-12.3-9.7-12.2-9.7-12.3-9.6-12.3-9.6-12.2-9.7-12.3-9.6-12.3-9.6-12.3-9.6-12.2-9.6-12.3-9.6-12.3-9.6-12.2-9.5-12.3-9.6-12.3-9.6-12.3-9.5-12.2-9.6-12.3-9.5-12.3-9.5-12.2-9.5-12.3-9.6-12.3-9.5-12.3-9.5-12.2-9.5-12.3-9.5-12.3-9.4-12.2-9.5-12.3-9.5-12.3-9.4-12.3-9.5-12.2-9.5M1323.4 1204.4l-12.2-9.7-12.3-9.7-12.3-9.7-12.3-9.6-12.2-9.7-12.3-9.6-12.3-9.6-12.2-9.7-12.3-9.6-12.3-9.6-12.3-9.6-12.2-9.6-12.3-9.6-12.3-9.5-12.2-9.6-12.3-9.6-12.3-9.5-12.3-9.6-12.2-9.5-12.3-9.5-12.3-9.5-12.2-9.6-12.3-9.5-12.3-9.5-12.3-9.5-12.2-9.5-12.3-9.4-12.3-9.5-12.2-9.5-12.3-9.5-12.3-9.4-12.3-9.5-12.2-9.4-12.3-9.5-12.3-9.4M1335 1205.9l-12.3-9.6-12.3-9.7-12.2-9.6-12.3-9.7-12.3-9.6-12.2-9.6-12.3-9.6-12.3-9.6-12.3-9.6-12.2-9.6-12.3-9.6-12.3-9.6-12.2-9.5-12.3-9.6-12.3-9.5-12.3-9.6-12.2-9.5-12.3-9.5-12.3-9.5-12.2-9.5-12.3-9.5-12.3-9.5-12.3-9.5-12.2-9.5-12.3-9.5-12.3-9.5-12.2-9.4-12.3-9.5-12.3-9.5-12.3-9.4-12.2-9.4-12.3-9.5-12.3-9.4-12.2-9.4-12.3-9.5M1346.5 1207.4l-12.2-9.6-12.3-9.7-12.3-9.6-12.2-9.6-12.3-9.6-12.3-9.6-12.3-9.6-12.2-9.6-12.3-9.6-12.3-9.5-12.2-9.6-12.3-9.5-12.3-9.6-12.3-9.5-12.2-9.5-12.3-9.6-12.3-9.5-12.2-9.5-12.3-9.5-12.3-9.5-12.3-9.5-12.2-9.4-12.3-9.5-12.3-9.5-12.2-9.4-12.3-9.5-12.3-9.5-12.3-9.4-12.2-9.4-12.3-9.5-12.3-9.4-12.2-9.4-12.3-9.4-12.3-9.4-12.3-9.5M1358.1 1208.8l-12.3-9.6-12.2-9.6-12.3-9.6-12.3-9.6-12.3-9.6-12.2-9.6-12.3-9.6-12.3-9.5-12.2-9.6-12.3-9.5-12.3-9.6-12.3-9.5-12.2-9.5-12.3-9.5-12.3-9.6-12.2-9.5-12.3-9.5-12.3-9.4-12.3-9.5-12.2-9.5-12.3-9.5-12.3-9.4-12.2-9.5-12.3-9.5-12.3-9.4-12.3-9.4-12.2-9.5-12.3-9.4-12.3-9.4-12.2-9.4-12.3-9.5-12.3-9.4-12.3-9.4-12.2-9.4-12.3-9.4M1369.7 1210.1l-12.3-9.6-12.3-9.6-12.3-9.6-12.2-9.6-12.3-9.5-12.3-9.6-12.2-9.5-12.3-9.6-12.3-9.5-12.3-9.5-12.2-9.6-12.3-9.5-12.3-9.5-12.2-9.5-12.3-9.5-12.3-9.5-12.3-9.4-12.2-9.5-12.3-9.5-12.3-9.4-12.2-9.5-12.3-9.4-12.3-9.5-12.3-9.4-12.2-9.5-12.3-9.4-12.3-9.4-12.2-9.4-12.3-9.4-12.3-9.4-12.3-9.4-12.2-9.4-12.3-9.4-12.3-9.4-12.2-9.4M1381.2 1211.3l-12.3-9.6-12.2-9.5-12.3-9.6-12.3-9.6-12.3-9.5-12.2-9.6-12.3-9.5-12.3-9.5-12.2-9.5-12.3-9.5-12.3-9.5-12.3-9.5-12.2-9.5-12.3-9.5-12.3-9.5-12.2-9.5-12.3-9.4-12.3-9.5-12.3-9.4-12.2-9.5-12.3-9.4-12.3-9.5-12.2-9.4-12.3-9.4-12.3-9.4-12.3-9.4-12.2-9.4-12.3-9.4-12.3-9.4-12.2-9.4-12.3-9.4-12.3-9.4-12.3-9.4-12.2-9.4-12.3-9.3M1392.8 1212.4l-12.3-9.5-12.3-9.6-12.3-9.5-12.2-9.5-12.3-9.6-12.3-9.5-12.2-9.5-12.3-9.5-12.3-9.5-12.3-9.5-12.2-9.5-12.3-9.5-12.3-9.5-12.2-9.4-12.3-9.5-12.3-9.4-12.3-9.5-12.2-9.4-12.3-9.5-12.3-9.4-12.2-9.4-12.3-9.5-12.3-9.4-12.3-9.4-12.2-9.4-12.3-9.4-12.3-9.4-12.2-9.4-12.3-9.4-12.3-9.3-12.3-9.4-12.2-9.4-12.3-9.3-12.3-9.4-12.2-9.4M1404.3 1213.5l-12.3-9.5-12.2-9.6-12.3-9.5-12.3-9.5-12.2-9.5-12.3-9.5-12.3-9.5-12.3-9.5-12.2-9.5-12.3-9.5-12.3-9.5-12.2-9.4-12.3-9.5-12.3-9.4-12.3-9.5-12.2-9.4-12.3-9.5-12.3-9.4-12.2-9.4-12.3-9.4-12.3-9.4-12.3-9.4-12.2-9.4-12.3-9.4-12.3-9.4-12.2-9.4-12.3-9.4-12.3-9.4-12.3-9.4-12.2-9.3-12.3-9.4-12.3-9.3-12.2-9.4-12.3-9.3-12.3-9.4M1415.9 1214.5l-12.3-9.5-12.3-9.5-12.2-9.5-12.3-9.5-12.3-9.5-12.3-9.5-12.2-9.5-12.3-9.5-12.3-9.5-12.2-9.4-12.3-9.5-12.3-9.4-12.3-9.5-12.2-9.4-12.3-9.5-12.3-9.4-12.2-9.4-12.3-9.4-12.3-9.4-12.3-9.4-12.2-9.4-12.3-9.4-12.3-9.4-12.2-9.4-12.3-9.4-12.3-9.4-12.3-9.3-12.2-9.4-12.3-9.4-12.3-9.3-12.2-9.4-12.3-9.3-12.3-9.4-12.3-9.3-12.2-9.3M1427.4 1215.4l-12.2-9.5-12.3-9.5-12.3-9.5-12.3-9.5-12.2-9.4-12.3-9.5-12.3-9.5-12.2-9.4-12.3-9.5-12.3-9.4-12.3-9.5-12.2-9.4-12.3-9.5-12.3-9.4-12.2-9.4-12.3-9.4-12.3-9.4-12.3-9.4-12.2-9.4-12.3-9.4-12.3-9.4-12.2-9.4-12.3-9.4-12.3-9.3-12.3-9.4-12.2-9.4-12.3-9.3-12.3-9.4-12.2-9.3-12.3-9.4-12.3-9.3-12.3-9.4-12.2-9.3-12.3-9.3-12.3-9.4M1439 1216.3l-12.3-9.5-12.3-9.5-12.2-9.5-12.3-9.4-12.3-9.5-12.2-9.5-12.3-9.4-12.3-9.5-12.3-9.4-12.2-9.4-12.3-9.5-12.3-9.4-12.2-9.4-12.3-9.4-12.3-9.4-12.3-9.4-12.2-9.4-12.3-9.4-12.3-9.4-12.2-9.4-12.3-9.4-12.3-9.3-12.3-9.4-12.2-9.4-12.3-9.3-12.3-9.4-12.2-9.3-12.3-9.4-12.3-9.3-12.3-9.3-12.2-9.4-12.3-9.3-12.3-9.3-12.2-9.3-12.3-9.4M1450.5 1217.1l-12.2-9.5-12.3-9.4-12.3-9.5-12.2-9.5-12.3-9.4-12.3-9.5-12.3-9.4-12.2-9.5-12.3-9.4-12.3-9.4-12.2-9.4-12.3-9.4-12.3-9.4-12.3-9.4-12.2-9.4-12.3-9.4-12.3-9.4-12.2-9.4-12.3-9.4-12.3-9.3-12.3-9.4-12.2-9.4-12.3-9.3-12.3-9.4-12.2-9.3-12.3-9.4-12.3-9.3-12.3-9.3-12.2-9.4-12.3-9.3-12.3-9.3-12.2-9.3-12.3-9.3-12.3-9.4-12.3-9.3M1462.1 1217.8l-12.3-9.4-12.2-9.5-12.3-9.4-12.3-9.5-12.3-9.4-12.2-9.5-12.3-9.4-12.3-9.4-12.2-9.4-12.3-9.4-12.3-9.4-12.3-9.4-12.2-9.4-12.3-9.4-12.3-9.4-12.2-9.4-12.3-9.4-12.3-9.3-12.3-9.4-12.2-9.4-12.3-9.3-12.3-9.4-12.2-9.3-12.3-9.4-12.3-9.3-12.3-9.3-12.2-9.4-12.3-9.3-12.3-9.3-12.2-9.3-12.3-9.3-12.3-9.3-12.3-9.3-12.2-9.3-12.3-9.3M1473.7 1218.5l-12.3-9.4-12.3-9.5-12.3-9.4-12.2-9.5-12.3-9.4-12.3-9.4-12.2-9.4-12.3-9.4-12.3-9.4-12.3-9.4-12.2-9.4-12.3-9.4-12.3-9.4-12.2-9.4-12.3-9.4-12.3-9.3-12.3-9.4-12.2-9.3-12.3-9.4-12.3-9.4-12.2-9.3-12.3-9.3-12.3-9.4-12.3-9.3-12.2-9.3-12.3-9.4-12.3-9.3-12.2-9.3-12.3-9.3-12.3-9.3-12.3-9.3-12.2-9.3-12.3-9.3-12.3-9.3-12.2-9.3M1485.2 1219.1l-12.3-9.4-12.2-9.4-12.3-9.5-12.3-9.4-12.2-9.4-12.3-9.4-12.3-9.4-12.3-9.4-12.2-9.4-12.3-9.4-12.3-9.4-12.2-9.4-12.3-9.3-12.3-9.4-12.3-9.4-12.2-9.3-12.3-9.4-12.3-9.3-12.2-9.4-12.3-9.3-12.3-9.4-12.3-9.3-12.2-9.3-12.3-9.3-12.3-9.4-12.2-9.3-12.3-9.3-12.3-9.3-12.3-9.3-12.2-9.3-12.3-9.3-12.3-9.3-12.2-9.3-12.3-9.2-12.3-9.3M1496.8 1219.7l-12.3-9.4-12.3-9.5-12.2-9.4-12.3-9.4-12.3-9.4-12.3-9.4-12.2-9.4-12.3-9.4-12.3-9.4-12.2-9.3-12.3-9.4-12.3-9.4-12.3-9.3-12.2-9.4-12.3-9.3-12.3-9.4-12.2-9.3-12.3-9.4-12.3-9.3-12.3-9.3-12.2-9.4-12.3-9.3-12.3-9.3-12.2-9.3-12.3-9.3-12.3-9.3-12.3-9.3-12.2-9.3-12.3-9.3-12.3-9.3-12.2-9.3-12.3-9.3-12.3-9.3-12.3-9.3-12.2-9.2M1508.3 1220.2l-12.2-9.4-12.3-9.4-12.3-9.4-12.3-9.4-12.2-9.4-12.3-9.4-12.3-9.4-12.2-9.4-12.3-9.4-12.3-9.3-12.3-9.4-12.2-9.3-12.3-9.4-12.3-9.3-12.2-9.4-12.3-9.3-12.3-9.4-12.3-9.3-12.2-9.3-12.3-9.3-12.3-9.4-12.2-9.3-12.3-9.3-12.3-9.3-12.3-9.3-12.2-9.3-12.3-9.3-12.3-9.3-12.2-9.3-12.3-9.2-12.3-9.3-12.3-9.3-12.2-9.3-12.3-9.2-12.3-9.3M1519.9 1220.6l-12.3-9.4-12.3-9.4-12.2-9.4-12.3-9.3-12.3-9.4-12.2-9.4-12.3-9.4-12.3-9.3-12.3-9.4-12.2-9.4-12.3-9.3-12.3-9.4-12.2-9.3-12.3-9.3-12.3-9.4-12.3-9.3-12.2-9.3-12.3-9.4-12.3-9.3-12.2-9.3-12.3-9.3-12.3-9.3-12.3-9.3-12.2-9.3-12.3-9.3-12.3-9.3-12.2-9.3-12.3-9.3-12.3-9.2-12.3-9.3-12.2-9.3-12.3-9.3-12.3-9.2-12.2-9.3-12.3-9.3M1531.4 1221l-12.2-9.4-12.3-9.3-12.3-9.4-12.2-9.4-12.3-9.4-12.3-9.3-12.3-9.4-12.2-9.4-12.3-9.3-12.3-9.4-12.2-9.3-12.3-9.4-12.3-9.3-12.3-9.3-12.2-9.3-12.3-9.4-12.3-9.3-12.2-9.3-12.3-9.3-12.3-9.3-12.3-9.3-12.2-9.3-12.3-9.3-12.3-9.3-12.2-9.3-12.3-9.3-12.3-9.2-12.3-9.3-12.2-9.3-12.3-9.3-12.3-9.2-12.2-9.3-12.3-9.2-12.3-9.3-12.3-9.3M1543 1221.4l-12.3-9.4-12.2-9.4-12.3-9.3-12.3-9.4-12.3-9.4-12.2-9.3-12.3-9.4-12.3-9.3-12.2-9.4-12.3-9.3-12.3-9.4-12.3-9.3-12.2-9.3-12.3-9.3-12.3-9.4-12.2-9.3-12.3-9.3-12.3-9.3-12.3-9.3-12.2-9.3-12.3-9.3-12.3-9.3-12.2-9.3-12.3-9.2-12.3-9.3-12.3-9.3-12.2-9.3-12.3-9.2-12.3-9.3-12.2-9.3-12.3-9.2-12.3-9.3-12.3-9.2-12.2-9.3-12.3-9.2M1554.6 1221.7l-12.3-9.4-12.3-9.4-12.3-9.3-12.2-9.4-12.3-9.3-12.3-9.4-12.2-9.3-12.3-9.4-12.3-9.3-12.3-9.3-12.2-9.4-12.3-9.3-12.3-9.3-12.2-9.3-12.3-9.3-12.3-9.3-12.3-9.3-12.2-9.3-12.3-9.3-12.3-9.3-12.2-9.3-12.3-9.3-12.3-9.3-12.3-9.2-12.2-9.3-12.3-9.3-12.3-9.2-12.2-9.3-12.3-9.3-12.3-9.2-12.3-9.3-12.2-9.2-12.3-9.3-12.3-9.2-12.2-9.3M1566.1 1221.9l-12.3-9.3-12.2-9.4-12.3-9.3-12.3-9.4-12.3-9.3-12.2-9.4-12.3-9.3-12.3-9.3-12.2-9.4-12.3-9.3-12.3-9.3-12.3-9.3-12.2-9.3-12.3-9.3-12.3-9.3-12.2-9.3-12.3-9.3-12.3-9.3-12.3-9.3-12.2-9.3-12.3-9.3-12.3-9.3-12.2-9.2-12.3-9.3-12.3-9.3-12.3-9.2-12.2-9.3-12.3-9.2-12.3-9.3-12.2-9.2-12.3-9.3-12.3-9.2-12.3-9.3-12.2-9.2-12.3-9.2M1577.7 1222.1l-12.3-9.3-12.3-9.4-12.3-9.3-12.2-9.3-12.3-9.4-12.3-9.3-12.2-9.3-12.3-9.4-12.3-9.3-12.3-9.3-12.2-9.3-12.3-9.3-12.3-9.3-12.2-9.3-12.3-9.3-12.3-9.3-12.3-9.3-12.2-9.3-12.3-9.3-12.3-9.2-12.2-9.3-12.3-9.3-12.3-9.2-12.3-9.3-12.2-9.3-12.3-9.2-12.3-9.3-12.2-9.2-12.3-9.3-12.3-9.2-12.3-9.3-12.2-9.2-12.3-9.2-12.3-9.3-12.2-9.2M1589.2 1222.3l-12.3-9.3-12.2-9.4-12.3-9.3-12.3-9.4-12.2-9.3-12.3-9.3-12.3-9.3-12.3-9.3-12.2-9.3-12.3-9.4-12.3-9.3-12.2-9.3-12.3-9.3-12.3-9.2-12.3-9.3-12.2-9.3-12.3-9.3-12.3-9.3-12.2-9.2-12.3-9.3-12.3-9.3-12.3-9.2-12.2-9.3-12.3-9.3-12.3-9.2-12.2-9.3-12.3-9.2-12.3-9.3-12.3-9.2-12.2-9.2-12.3-9.3-12.3-9.2-12.2-9.2-12.3-9.3-12.3-9.2M1600.8 1222.4l-12.3-9.3-12.3-9.3-12.2-9.4-12.3-9.3-12.3-9.3-12.3-9.3-12.2-9.3-12.3-9.4-12.3-9.3-12.2-9.3-12.3-9.3-12.3-9.2-12.3-9.3-12.2-9.3-12.3-9.3-12.3-9.3-12.2-9.3-12.3-9.2-12.3-9.3-12.3-9.3-12.2-9.2-12.3-9.3-12.3-9.2-12.2-9.3-12.3-9.2-12.3-9.3-12.3-9.2-12.2-9.2-12.3-9.3-12.3-9.2-12.2-9.2-12.3-9.3-12.3-9.2-12.3-9.2-12.2-9.2M1612.3 1222.5l-12.2-9.3-12.3-9.3-12.3-9.4-12.3-9.3-12.2-9.3-12.3-9.3-12.3-9.3-12.2-9.3-12.3-9.3-12.3-9.3-12.3-9.3-12.2-9.3-12.3-9.3-12.3-9.2-12.2-9.3-12.3-9.3-12.3-9.3-12.3-9.2-12.2-9.3-12.3-9.2-12.3-9.3-12.2-9.2-12.3-9.3-12.3-9.2-12.3-9.3-12.2-9.2-12.3-9.2-12.3-9.3-12.2-9.2-12.3-9.2-12.3-9.3-12.3-9.2-12.2-9.2-12.3-9.2-12.3-9.2M1623.9 1222.5l-12.3-9.3-12.3-9.3-12.2-9.3-12.3-9.3-12.3-9.3-12.2-9.3-12.3-9.3-12.3-9.3-12.3-9.3-12.2-9.3-12.3-9.3-12.3-9.3-12.2-9.2-12.3-9.3-12.3-9.3-12.3-9.2-12.2-9.3-12.3-9.3-12.3-9.2-12.2-9.3-12.3-9.2-12.3-9.3-12.3-9.2-12.2-9.2-12.3-9.3-12.3-9.2-12.2-9.2-12.3-9.3-12.3-9.2-12.3-9.2-12.2-9.2-12.3-9.3-12.3-9.2-12.2-9.2-12.3-9.2M1635.4 1222.5l-12.2-9.3-12.3-9.3-12.3-9.3-12.2-9.3-12.3-9.3-12.3-9.3-12.3-9.3-12.2-9.3-12.3-9.2-12.3-9.3-12.2-9.3-12.3-9.3-12.3-9.2-12.3-9.3-12.2-9.3-12.3-9.2-12.3-9.3-12.2-9.2-12.3-9.3-12.3-9.2-12.3-9.3-12.2-9.2-12.3-9.3-12.3-9.2-12.2-9.2-12.3-9.2-12.3-9.3-12.3-9.2-12.2-9.2-12.3-9.2-12.3-9.2-12.2-9.3-12.3-9.2-12.3-9.2-12.3-9.2M1647 1222.5l-12.3-9.3-12.2-9.3-12.3-9.3-12.3-9.3-12.3-9.3-12.2-9.3-12.3-9.3-12.3-9.2-12.2-9.3-12.3-9.3-12.3-9.3-12.3-9.2-12.2-9.3-12.3-9.3-12.3-9.2-12.2-9.3-12.3-9.2-12.3-9.3-12.3-9.2-12.2-9.2-12.3-9.3-12.3-9.2-12.2-9.3-12.3-9.2-12.3-9.2-12.3-9.2-12.2-9.3-12.3-9.2-12.3-9.2-12.2-9.2-12.3-9.2-12.3-9.2-12.3-9.2-12.2-9.2-12.3-9.2"/>
<line class="fr" x1="293" y1="421" x2="722.5" y2="737"/>
<line class="fr" x1="722.5" y1="737" x2="1647" y2="589.8"/>
<line class="fr" x1="722.5" y1="737" x2="722.5" y2="1377"/>
<line class="tk" x1="278" y1="1061" x2="293" y2="1061"/>
<line class="tk" x1="1647" y1="1229.8" x2="1663" y2="1229.8"/>
<line class="tk" x1="278" y1="981" x2="293" y2="981"/>
<line class="tk" x1="1647" y1="1149.8" x2="1663" y2="1149.8"/>
<line class="tk" x1="278" y1="901" x2="293" y2="901"/>
<line class="tk" x1="1647" y1="1069.8" x2="1663" y2="1069.8"/>
<line class="tk" x1="278" y1="821" x2="293" y2="821"/>
<line class="tk" x1="1647" y1="989.8" x2="1663" y2="989.8"/>
<line class="tk" x1="278" y1="741" x2="293" y2="741"/>
<line class="tk" x1="1647" y1="909.8" x2="1663" y2="909.8"/>
<line class="tk" x1="278" y1="661" x2="293" y2="661"/>
<line class="tk" x1="1647" y1="829.8" x2="1663" y2="829.8"/>
<line class="tk" x1="278" y1="581" x2="293" y2="581"/>
<line class="tk" x1="1647" y1="749.8" x2="1663" y2="749.8"/>
<line class="tk" x1="278" y1="501" x2="293" y2="501"/>
<line class="tk" x1="1647" y1="669.8" x2="1663" y2="669.8"/>
<line class="tk" x1="278" y1="421" x2="293" y2="421"/>
<line class="tk" x1="1647" y1="589.8" x2="1663" y2="589.8"/>
<line class="tb" x1="708.5" y1="1379.3" x2="722.5" y2="1377"/>
<line class="tb" x1="601.1" y1="1300.3" x2="615.1" y2="1298"/>
<line class="tb" x1="493.8" y1="1221.3" x2="507.8" y2="1219"/>
<line class="tb" x1="386.4" y1="1142.3" x2="400.4" y2="1140"/>
<line class="tb" x1="722.5" y1="1377" x2="735" y2="1385"/>
<line class="tb" x1="876.6" y1="1352.5" x2="889.1" y2="1360.5"/>
<line class="tb" x1="1030.7" y1="1327.9" x2="1043.2" y2="1335.9"/>
<line class="tb" x1="1184.8" y1="1303.4" x2="1197.2" y2="1311.4"/>
<line class="tb" x1="1338.8" y1="1278.9" x2="1351.3" y2="1286.9"/>
<line class="tb" x1="1492.9" y1="1254.3" x2="1505.4" y2="1262.3"/>
<g transform="translate(969.3 86.6)"><text class="c" x="-173.51" y="0">M = 480 kA/m</text></g>
<g transform="translate(969.4 150.2)"><text class="g" x="-206.39" y="0" style="letter-spacing:-0.2px">EPSILON = 0.15</text><rect class="x" x="147.67" y="-5.41" width="10.91" height="7.05"/><rect class="x" x="163.53" y="-5.41" width="10.47" height="7.05"/></g>
<g transform="translate(261.3 1080.6)"><text class="y" x="-31.14" y="0">2</text></g>
<g transform="translate(1677.7 1249.4)"><text class="y" x="0" y="0">2</text></g>
<g transform="translate(261.3 1000.6)"><text class="y" x="-31.14" y="0">3</text></g>
<g transform="translate(1677.7 1169.4)"><text class="y" x="0" y="0">3</text></g>
<g transform="translate(261.3 920.6)"><text class="y" x="-31.14" y="0">4</text></g>
<g transform="translate(1677.7 1089.4)"><text class="y" x="0" y="0">4</text></g>
<g transform="translate(261.3 840.6)"><text class="y" x="-31.14" y="0">5</text></g>
<g transform="translate(1677.7 1009.4)"><text class="y" x="0" y="0">5</text></g>
<g transform="translate(261.3 760.6)"><text class="y" x="-31.14" y="0">6</text></g>
<g transform="translate(1677.7 929.4)"><text class="y" x="0" y="0">6</text></g>
<g transform="translate(261.3 680.6)"><text class="y" x="-31.14" y="0">7</text></g>
<g transform="translate(1677.7 849.4)"><text class="y" x="0" y="0">7</text></g>
<g transform="translate(261.3 600.6)"><text class="y" x="-31.14" y="0">8</text></g>
<g transform="translate(1677.7 769.4)"><text class="y" x="0" y="0">8</text></g>
<g transform="translate(261.3 520.6)"><text class="y" x="-31.14" y="0">9</text></g>
<g transform="translate(1677.7 689.4)"><text class="y" x="0" y="0">9</text></g>
<g transform="translate(261.3 440.6)"><text class="y" x="-62.29" y="0">10</text><rect class="x" x="-59.12" y="-5.41" width="10.91" height="7.05"/><rect class="x" x="-43.26" y="-5.41" width="10.47" height="7.05"/></g>
<g transform="translate(1677.7 609.4)"><text class="y" x="0" y="0">10</text><rect class="x" x="3.17" y="-5.41" width="10.91" height="7.05"/><rect class="x" x="19.03" y="-5.41" width="10.47" height="7.05"/></g>
<g transform="translate(698.5 1405.3) rotate(-9.05)"><text class="y" x="-62.29" y="0">15</text><rect class="x" x="-59.12" y="-5.41" width="10.91" height="7.05"/><rect class="x" x="-43.26" y="-5.41" width="10.47" height="7.05"/></g>
<g transform="translate(591.12 1326.3) rotate(-9.05)"><text class="y" x="-108.99" y="0">15.5</text><rect class="x" x="-105.82" y="-5.41" width="10.91" height="7.05"/><rect class="x" x="-89.96" y="-5.41" width="10.47" height="7.05"/></g>
<g transform="translate(483.75 1247.3) rotate(-9.05)"><text class="y" x="-62.29" y="0">16</text><rect class="x" x="-59.12" y="-5.41" width="10.91" height="7.05"/><rect class="x" x="-43.26" y="-5.41" width="10.47" height="7.05"/></g>
<g transform="translate(376.38 1168.3) rotate(-9.05)"><text class="y" x="-108.99" y="0">16.5</text><rect class="x" x="-105.82" y="-5.41" width="10.91" height="7.05"/><rect class="x" x="-89.96" y="-5.41" width="10.47" height="7.05"/></g>
<g transform="translate(731.3 1415.8) rotate(36.3)"><text class="y" x="0" y="0" style="font-size:57.5px">0</text></g>
<g transform="translate(885.38 1391.27) rotate(36.3)"><text class="y" x="0" y="0" style="font-size:57.5px">5</text></g>
<g transform="translate(1039.47 1366.73) rotate(36.3)"><text class="y" x="0" y="0" style="font-size:57.5px">10</text><rect class="x" x="3.26" y="-5.56" width="11.2" height="7.24"/><rect class="x" x="19.54" y="-5.56" width="10.75" height="7.24"/></g>
<g transform="translate(1193.55 1342.2) rotate(36.3)"><text class="y" x="0" y="0" style="font-size:57.5px">15</text><rect class="x" x="3.26" y="-5.56" width="11.2" height="7.24"/><rect class="x" x="19.54" y="-5.56" width="10.75" height="7.24"/></g>
<g transform="translate(1347.63 1317.67) rotate(36.3)"><text class="y" x="0" y="0" style="font-size:57.5px">20</text></g>
<g transform="translate(1501.72 1293.13) rotate(36.3)"><text class="y" x="0" y="0" style="font-size:57.5px">25</text></g>
<text class="c" x="88.5" y="1302">D<tspan font-size="45" dy="11" dx="-0.5">M</tspan><tspan dy="-11"> (nm)</tspan></text>
<g transform="translate(1320.5 1448.5) rotate(-9.05)"><text class="c" x="-110.43" y="0">H (kA/m)</text></g>
<text class="c" transform="translate(170 767) rotate(-90)"><tspan x="0" y="0" style="font-family:'Noto Serif CJK SC','Liberation Serif',serif;font-size:50px">χ</tspan><tspan x="29.5" y="24" style="font-size:46.5px">0</tspan></text>
<text class="c" transform="translate(1814 936) rotate(-90)"><tspan x="0" y="0" style="font-family:'Noto Serif CJK SC','Liberation Serif',serif;font-size:50px">χ</tspan><tspan x="29.5" y="5" style="font-size:46.5px">0</tspan></text>
<text fill="#000" style="font-family:'Liberation Serif',serif;font-size:61px"><tspan x="930.5" y="1612.2">(</tspan><tspan x="950.2" y="1612" style="font-size:64px;font-weight:bold">b</tspan><tspan x="984.2" y="1612.2">)</tspan></text>
</svg>
</body></html>
